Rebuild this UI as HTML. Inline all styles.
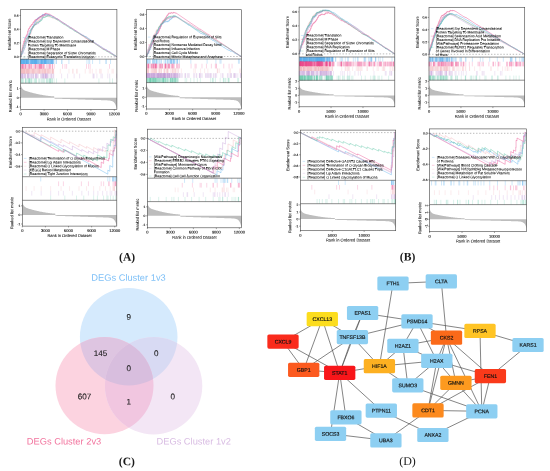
<!DOCTYPE html>
<html><head><meta charset="utf-8"><title>Figure</title>
<style>html,body{margin:0;padding:0;background:#fff}svg{display:block;will-change:transform}</style></head>
<body>
<svg width="550" height="471" viewBox="0 0 550 471" font-family="'Liberation Sans', sans-serif" text-rendering="geometricPrecision">
<rect width="550" height="471" fill="#fff"/>
<g>
<clipPath id="c1"><rect x="20.7" y="9.5" width="96.2" height="49.7"/></clipPath>
<path d="M20.81 59.20v4.80M20.84 59.20v4.80M20.92 59.20v4.80M21.08 59.20v4.80M21.08 59.20v4.80M21.10 59.20v4.80M21.11 59.20v4.80M21.14 59.20v4.80M21.19 59.20v4.80M21.29 59.20v4.80M21.39 59.20v4.80M21.69 59.20v4.80M21.74 59.20v4.80M21.97 59.20v4.80M22.00 59.20v4.80M22.08 59.20v4.80M22.17 59.20v4.80M22.22 59.20v4.80M22.59 59.20v4.80M22.72 59.20v4.80M22.75 59.20v4.80M22.97 59.20v4.80M23.08 59.20v4.80M23.18 59.20v4.80M23.30 59.20v4.80M23.45 59.20v4.80M23.49 59.20v4.80M23.49 59.20v4.80M23.62 59.20v4.80M23.91 59.20v4.80M23.98 59.20v4.80M24.20 59.20v4.80M24.29 59.20v4.80M24.30 59.20v4.80M24.41 59.20v4.80M24.45 59.20v4.80M24.52 59.20v4.80M24.82 59.20v4.80M24.86 59.20v4.80M25.17 59.20v4.80M25.25 59.20v4.80M25.29 59.20v4.80M25.43 59.20v4.80M25.74 59.20v4.80M25.79 59.20v4.80M26.07 59.20v4.80M26.10 59.20v4.80M26.36 59.20v4.80M26.52 59.20v4.80M26.53 59.20v4.80M26.70 59.20v4.80M26.85 59.20v4.80M26.89 59.20v4.80M26.91 59.20v4.80M26.92 59.20v4.80M26.93 59.20v4.80M26.93 59.20v4.80M26.94 59.20v4.80M26.98 59.20v4.80M27.06 59.20v4.80M27.26 59.20v4.80M27.27 59.20v4.80M27.40 59.20v4.80M27.41 59.20v4.80M28.29 59.20v4.80M28.36 59.20v4.80M28.49 59.20v4.80M28.49 59.20v4.80M28.63 59.20v4.80M28.72 59.20v4.80M29.00 59.20v4.80M29.22 59.20v4.80M29.35 59.20v4.80M30.25 59.20v4.80M30.38 59.20v4.80M30.45 59.20v4.80M30.83 59.20v4.80M30.84 59.20v4.80M31.04 59.20v4.80M31.14 59.20v4.80M31.21 59.20v4.80M31.25 59.20v4.80M31.34 59.20v4.80M31.60 59.20v4.80M31.65 59.20v4.80M31.85 59.20v4.80M31.85 59.20v4.80M31.90 59.20v4.80M32.26 59.20v4.80M32.38 59.20v4.80M32.51 59.20v4.80M32.60 59.20v4.80M32.61 59.20v4.80M32.72 59.20v4.80M32.76 59.20v4.80M32.96 59.20v4.80M33.08 59.20v4.80M33.09 59.20v4.80M33.16 59.20v4.80M33.24 59.20v4.80M33.57 59.20v4.80M33.65 59.20v4.80M33.90 59.20v4.80M33.98 59.20v4.80M34.02 59.20v4.80M34.25 59.20v4.80M34.28 59.20v4.80M34.37 59.20v4.80M34.70 59.20v4.80M34.75 59.20v4.80M34.78 59.20v4.80M34.80 59.20v4.80M34.84 59.20v4.80M34.96 59.20v4.80M35.04 59.20v4.80M35.08 59.20v4.80M35.27 59.20v4.80M35.30 59.20v4.80M35.33 59.20v4.80M35.36 59.20v4.80M35.39 59.20v4.80M35.50 59.20v4.80M35.50 59.20v4.80M35.57 59.20v4.80M35.80 59.20v4.80M35.85 59.20v4.80M36.18 59.20v4.80M36.20 59.20v4.80M36.22 59.20v4.80M36.32 59.20v4.80M36.35 59.20v4.80M36.49 59.20v4.80M36.49 59.20v4.80M36.59 59.20v4.80M36.60 59.20v4.80M36.67 59.20v4.80M36.89 59.20v4.80M37.17 59.20v4.80M37.18 59.20v4.80M37.25 59.20v4.80M37.47 59.20v4.80M37.94 59.20v4.80M38.01 59.20v4.80M38.21 59.20v4.80M38.46 59.20v4.80M38.76 59.20v4.80M38.80 59.20v4.80M38.92 59.20v4.80M39.29 59.20v4.80M39.52 59.20v4.80M39.87 59.20v4.80M40.35 59.20v4.80M40.37 59.20v4.80M40.62 59.20v4.80M40.84 59.20v4.80M40.90 59.20v4.80M41.21 59.20v4.80M41.35 59.20v4.80M41.41 59.20v4.80M41.56 59.20v4.80M41.57 59.20v4.80M41.57 59.20v4.80M41.66 59.20v4.80M41.75 59.20v4.80M41.76 59.20v4.80M42.13 59.20v4.80M42.19 59.20v4.80M42.38 59.20v4.80M42.48 59.20v4.80M42.49 59.20v4.80M42.62 59.20v4.80M42.82 59.20v4.80M43.06 59.20v4.80M43.54 59.20v4.80M43.64 59.20v4.80M43.65 59.20v4.80M43.96 59.20v4.80M44.07 59.20v4.80M44.31 59.20v4.80M44.34 59.20v4.80M44.35 59.20v4.80M44.44 59.20v4.80M44.72 59.20v4.80M44.77 59.20v4.80M44.79 59.20v4.80M44.79 59.20v4.80M44.91 59.20v4.80M45.01 59.20v4.80M45.04 59.20v4.80M45.13 59.20v4.80M45.15 59.20v4.80M45.18 59.20v4.80M45.43 59.20v4.80M45.53 59.20v4.80M45.57 59.20v4.80M45.68 59.20v4.80M45.87 59.20v4.80M45.91 59.20v4.80M45.95 59.20v4.80M46.07 59.20v4.80M46.42 59.20v4.80M46.71 59.20v4.80M46.72 59.20v4.80M46.87 59.20v4.80M47.08 59.20v4.80M47.34 59.20v4.80M47.64 59.20v4.80M48.07 59.20v4.80M48.11 59.20v4.80M48.18 59.20v4.80M48.22 59.20v4.80M48.89 59.20v4.80M48.94 59.20v4.80M48.98 59.20v4.80M49.38 59.20v4.80M49.48 59.20v4.80M50.18 59.20v4.80M50.22 59.20v4.80M50.37 59.20v4.80M50.65 59.20v4.80M50.99 59.20v4.80M51.04 59.20v4.80M51.08 59.20v4.80M51.30 59.20v4.80M51.46 59.20v4.80M51.64 59.20v4.80M51.80 59.20v4.80M51.90 59.20v4.80M52.25 59.20v4.80M52.26 59.20v4.80M52.45 59.20v4.80M52.62 59.20v4.80M52.65 59.20v4.80M52.84 59.20v4.80M53.22 59.20v4.80M53.76 59.20v4.80M53.83 59.20v4.80M56.11 59.20v4.80M56.39 59.20v4.80M61.81 59.20v4.80M61.86 59.20v4.80M68.88 59.20v4.80M86.95 59.20v4.80M88.79 59.20v4.80M89.78 59.20v4.80M92.58 59.20v4.80M99.78 59.20v4.80M105.77 59.20v4.80M106.36 59.20v4.80M110.53 59.20v4.80" stroke="#5BB0EC" stroke-width="0.36" stroke-opacity="0.8" fill="none"/>
<path d="M20.82 64.00v4.80M20.86 64.00v4.80M21.50 64.00v4.80M21.76 64.00v4.80M22.12 64.00v4.80M22.33 64.00v4.80M22.56 64.00v4.80M22.66 64.00v4.80M23.04 64.00v4.80M23.06 64.00v4.80M23.27 64.00v4.80M23.79 64.00v4.80M24.12 64.00v4.80M24.81 64.00v4.80M25.32 64.00v4.80M25.60 64.00v4.80M25.66 64.00v4.80M25.73 64.00v4.80M26.43 64.00v4.80M27.65 64.00v4.80M28.17 64.00v4.80M28.83 64.00v4.80M28.94 64.00v4.80M29.34 64.00v4.80M29.56 64.00v4.80M30.05 64.00v4.80M30.23 64.00v4.80M31.15 64.00v4.80M31.17 64.00v4.80M31.83 64.00v4.80M31.90 64.00v4.80M33.44 64.00v4.80M34.36 64.00v4.80M35.13 64.00v4.80M35.21 64.00v4.80M35.51 64.00v4.80M35.53 64.00v4.80M36.25 64.00v4.80M36.89 64.00v4.80M37.34 64.00v4.80M38.20 64.00v4.80M38.41 64.00v4.80M39.22 64.00v4.80M39.35 64.00v4.80M39.51 64.00v4.80M39.57 64.00v4.80M40.14 64.00v4.80M40.41 64.00v4.80M40.47 64.00v4.80M40.83 64.00v4.80M40.89 64.00v4.80M41.37 64.00v4.80M41.44 64.00v4.80M41.52 64.00v4.80M41.95 64.00v4.80M42.55 64.00v4.80M43.19 64.00v4.80M43.42 64.00v4.80M43.87 64.00v4.80M43.94 64.00v4.80M44.71 64.00v4.80M46.37 64.00v4.80M47.30 64.00v4.80M48.29 64.00v4.80M49.24 64.00v4.80M49.39 64.00v4.80M49.97 64.00v4.80M50.24 64.00v4.80M50.70 64.00v4.80M52.22 64.00v4.80M52.43 64.00v4.80M52.60 64.00v4.80M54.34 64.00v4.80M62.56 64.00v4.80M65.00 64.00v4.80M66.60 64.00v4.80M86.49 64.00v4.80M88.57 64.00v4.80M90.12 64.00v4.80M109.52 64.00v4.80" stroke="#EC4B8D" stroke-width="0.36" stroke-opacity="0.62" fill="none"/>
<path d="M20.74 68.80v4.80M21.03 68.80v4.80M21.04 68.80v4.80M21.24 68.80v4.80M21.33 68.80v4.80M21.61 68.80v4.80M21.62 68.80v4.80M21.84 68.80v4.80M21.98 68.80v4.80M22.01 68.80v4.80M22.04 68.80v4.80M22.11 68.80v4.80M22.31 68.80v4.80M22.50 68.80v4.80M22.74 68.80v4.80M22.87 68.80v4.80M22.98 68.80v4.80M23.01 68.80v4.80M23.09 68.80v4.80M23.39 68.80v4.80M23.59 68.80v4.80M23.80 68.80v4.80M24.05 68.80v4.80M24.07 68.80v4.80M24.08 68.80v4.80M24.13 68.80v4.80M24.24 68.80v4.80M24.31 68.80v4.80M24.40 68.80v4.80M24.44 68.80v4.80M24.80 68.80v4.80M24.89 68.80v4.80M25.13 68.80v4.80M25.33 68.80v4.80M25.49 68.80v4.80M25.99 68.80v4.80M26.35 68.80v4.80M26.36 68.80v4.80M26.59 68.80v4.80M26.70 68.80v4.80M26.71 68.80v4.80M26.95 68.80v4.80M27.11 68.80v4.80M27.14 68.80v4.80M27.46 68.80v4.80M27.59 68.80v4.80M27.71 68.80v4.80M27.86 68.80v4.80M27.95 68.80v4.80M28.00 68.80v4.80M28.08 68.80v4.80M28.50 68.80v4.80M28.51 68.80v4.80M28.54 68.80v4.80M28.67 68.80v4.80M28.90 68.80v4.80M29.19 68.80v4.80M29.32 68.80v4.80M29.70 68.80v4.80M29.71 68.80v4.80M29.84 68.80v4.80M30.35 68.80v4.80M30.95 68.80v4.80M31.08 68.80v4.80M31.27 68.80v4.80M31.31 68.80v4.80M31.87 68.80v4.80M32.34 68.80v4.80M32.54 68.80v4.80M32.70 68.80v4.80M32.75 68.80v4.80M32.93 68.80v4.80M33.24 68.80v4.80M33.25 68.80v4.80M33.43 68.80v4.80M33.45 68.80v4.80M33.82 68.80v4.80M34.05 68.80v4.80M34.45 68.80v4.80M34.45 68.80v4.80M34.68 68.80v4.80M35.25 68.80v4.80M35.38 68.80v4.80M35.85 68.80v4.80M36.13 68.80v4.80M36.18 68.80v4.80M36.89 68.80v4.80M37.09 68.80v4.80M37.40 68.80v4.80M37.48 68.80v4.80M38.04 68.80v4.80M38.43 68.80v4.80M38.69 68.80v4.80M38.83 68.80v4.80M39.00 68.80v4.80M39.06 68.80v4.80M39.21 68.80v4.80M39.44 68.80v4.80M39.64 68.80v4.80M39.90 68.80v4.80M39.92 68.80v4.80M40.27 68.80v4.80M40.35 68.80v4.80M40.95 68.80v4.80M41.22 68.80v4.80M41.47 68.80v4.80M41.99 68.80v4.80M42.27 68.80v4.80M42.56 68.80v4.80M42.58 68.80v4.80M42.99 68.80v4.80M43.01 68.80v4.80M43.39 68.80v4.80M43.74 68.80v4.80M43.84 68.80v4.80M44.38 68.80v4.80M44.68 68.80v4.80M44.74 68.80v4.80M44.87 68.80v4.80M44.88 68.80v4.80M45.10 68.80v4.80M45.40 68.80v4.80M45.52 68.80v4.80M45.74 68.80v4.80M45.87 68.80v4.80M46.01 68.80v4.80M46.27 68.80v4.80M47.20 68.80v4.80M47.30 68.80v4.80M47.58 68.80v4.80M47.60 68.80v4.80M48.03 68.80v4.80M48.08 68.80v4.80M48.55 68.80v4.80M48.60 68.80v4.80M48.86 68.80v4.80M49.43 68.80v4.80M49.78 68.80v4.80M49.87 68.80v4.80M50.26 68.80v4.80M50.55 68.80v4.80M51.24 68.80v4.80M52.12 68.80v4.80M52.18 68.80v4.80M52.33 68.80v4.80M52.41 68.80v4.80M52.48 68.80v4.80M52.55 68.80v4.80M52.65 68.80v4.80M53.43 68.80v4.80M53.52 68.80v4.80M53.52 68.80v4.80M53.66 68.80v4.80M60.30 68.80v4.80M68.97 68.80v4.80M72.78 68.80v4.80M73.00 68.80v4.80M76.73 68.80v4.80M77.09 68.80v4.80M85.26 68.80v4.80M89.29 68.80v4.80M90.61 68.80v4.80M92.33 68.80v4.80M96.06 68.80v4.80M99.69 68.80v4.80M100.16 68.80v4.80M101.30 68.80v4.80M108.07 68.80v4.80M112.03 68.80v4.80M113.25 68.80v4.80" stroke="#F4B7BF" stroke-width="0.36" stroke-opacity="0.75" fill="none"/>
<path d="M20.85 73.60v4.80M20.92 73.60v4.80M21.01 73.60v4.80M21.63 73.60v4.80M21.70 73.60v4.80M21.84 73.60v4.80M22.47 73.60v4.80M22.55 73.60v4.80M22.71 73.60v4.80M22.87 73.60v4.80M23.06 73.60v4.80M23.30 73.60v4.80M24.43 73.60v4.80M24.76 73.60v4.80M24.79 73.60v4.80M25.29 73.60v4.80M25.48 73.60v4.80M25.87 73.60v4.80M27.29 73.60v4.80M27.63 73.60v4.80M27.81 73.60v4.80M27.87 73.60v4.80M28.04 73.60v4.80M28.35 73.60v4.80M28.87 73.60v4.80M28.88 73.60v4.80M29.42 73.60v4.80M30.80 73.60v4.80M30.96 73.60v4.80M31.21 73.60v4.80M31.56 73.60v4.80M32.75 73.60v4.80M32.94 73.60v4.80M33.25 73.60v4.80M33.33 73.60v4.80M33.97 73.60v4.80M35.55 73.60v4.80M35.92 73.60v4.80M35.93 73.60v4.80M36.06 73.60v4.80M36.11 73.60v4.80M36.29 73.60v4.80M37.22 73.60v4.80M37.54 73.60v4.80M38.45 73.60v4.80M40.62 73.60v4.80M40.98 73.60v4.80M41.76 73.60v4.80M41.92 73.60v4.80M42.48 73.60v4.80M42.83 73.60v4.80M43.03 73.60v4.80M43.40 73.60v4.80M43.54 73.60v4.80M43.71 73.60v4.80M44.10 73.60v4.80M44.76 73.60v4.80M45.07 73.60v4.80M45.51 73.60v4.80M45.65 73.60v4.80M45.79 73.60v4.80M45.80 73.60v4.80M46.00 73.60v4.80M46.46 73.60v4.80M46.48 73.60v4.80M46.82 73.60v4.80M47.53 73.60v4.80M47.65 73.60v4.80M47.83 73.60v4.80M48.93 73.60v4.80M50.29 73.60v4.80M51.18 73.60v4.80M51.36 73.60v4.80M51.46 73.60v4.80M52.76 73.60v4.80M53.28 73.60v4.80M53.79 73.60v4.80M61.58 73.60v4.80M67.64 73.60v4.80M74.17 73.60v4.80M79.62 73.60v4.80M92.89 73.60v4.80M93.62 73.60v4.80M94.10 73.60v4.80M96.91 73.60v4.80M100.98 73.60v4.80M102.31 73.60v4.80M107.76 73.60v4.80M109.65 73.60v4.80M116.57 73.60v4.80" stroke="#C8A1DA" stroke-width="0.36" stroke-opacity="0.7" fill="none"/>
<path d="M21.78 78.40v4.80M21.82 78.40v4.80M22.05 78.40v4.80M22.70 78.40v4.80M23.52 78.40v4.80M25.37 78.40v4.80M25.72 78.40v4.80M25.72 78.40v4.80M26.33 78.40v4.80M27.86 78.40v4.80M28.14 78.40v4.80M28.87 78.40v4.80M29.12 78.40v4.80M29.13 78.40v4.80M29.70 78.40v4.80M29.88 78.40v4.80M29.90 78.40v4.80M31.02 78.40v4.80M31.69 78.40v4.80M31.86 78.40v4.80M34.07 78.40v4.80M34.86 78.40v4.80M35.40 78.40v4.80M36.19 78.40v4.80M36.46 78.40v4.80M38.64 78.40v4.80M39.51 78.40v4.80M41.04 78.40v4.80M41.95 78.40v4.80M42.87 78.40v4.80M43.73 78.40v4.80M44.68 78.40v4.80M46.48 78.40v4.80M46.92 78.40v4.80M47.51 78.40v4.80M48.47 78.40v4.80M49.68 78.40v4.80M50.00 78.40v4.80M50.04 78.40v4.80M50.10 78.40v4.80M50.38 78.40v4.80M51.86 78.40v4.80M52.06 78.40v4.80M52.28 78.40v4.80M54.10 78.40v4.80M56.54 78.40v4.80M64.84 78.40v4.80M98.93 78.40v4.80M109.81 78.40v4.80M112.49 78.40v4.80" stroke="#5CC5A7" stroke-width="0.36" stroke-opacity="0.6" fill="none"/>
<g clip-path="url(#c1)">
<path d="M20.70 56.80 L20.74 56.83 L20.74 56.59 L20.81 56.65 L20.81 56.42 L20.83 56.43 L20.83 56.20 L20.84 56.20 L20.84 55.97 L20.90 56.02 L20.90 55.79 L20.92 55.80 L20.92 55.57 L21.00 55.63 L21.00 55.40 L21.02 55.41 L21.02 55.18 L21.03 55.19 L21.03 54.96 L21.06 54.98 L21.06 54.75 L21.20 54.85 L21.20 54.62 L21.32 54.70 L21.32 54.47 L21.41 54.54 L21.41 54.31 L21.84 54.62 L21.84 54.39 L21.84 54.39 L21.84 54.16 L22.01 54.28 L22.01 54.05 L22.11 54.12 L22.11 53.89 L22.12 53.89 L22.12 53.66 L22.29 53.78 L22.29 53.55 L22.32 53.58 L22.32 53.35 L22.40 53.41 L22.40 53.17 L22.65 53.36 L22.65 53.13 L22.69 53.15 L22.69 52.92 L22.72 52.95 L22.72 52.71 L22.80 52.77 L22.80 52.54 L22.93 52.63 L22.93 52.40 L23.03 52.47 L23.03 52.24 L23.08 52.28 L23.08 52.05 L23.08 52.05 L23.08 51.82 L23.12 51.85 L23.12 51.62 L23.14 51.63 L23.14 51.40 L23.25 51.47 L23.25 51.24 L23.31 51.29 L23.31 51.06 L23.40 51.12 L23.40 50.89 L23.47 50.94 L23.47 50.71 L23.53 50.75 L23.53 50.52 L23.72 50.66 L23.72 50.43 L23.83 50.51 L23.83 50.27 L23.86 50.30 L23.86 50.07 L24.00 50.17 L24.00 49.94 L24.03 49.96 L24.03 49.73 L24.11 49.78 L24.11 49.55 L24.12 49.56 L24.12 49.33 L24.13 49.34 L24.13 49.11 L24.24 49.19 L24.24 48.96 L24.29 48.99 L24.29 48.76 L24.30 48.77 L24.30 48.54 L24.35 48.58 L24.35 48.34 L24.51 48.46 L24.51 48.23 L24.52 48.23 L24.52 48.00 L24.56 48.03 L24.56 47.80 L24.88 48.03 L24.88 47.80 L24.97 47.86 L24.97 47.63 L24.99 47.65 L24.99 47.42 L25.00 47.42 L25.00 47.19 L25.04 47.22 L25.04 46.99 L25.20 47.11 L25.20 46.87 L25.21 46.88 L25.21 46.65 L25.26 46.69 L25.26 46.45 L25.29 46.48 L25.29 46.25 L25.32 46.27 L25.32 46.03 L25.32 46.04 L25.32 45.81 L25.47 45.91 L25.47 45.68 L25.53 45.73 L25.53 45.49 L25.53 45.50 L25.53 45.27 L25.76 45.43 L25.76 45.20 L25.78 45.21 L25.78 44.98 L25.81 45.00 L25.81 44.77 L25.84 44.80 L25.84 44.56 L25.86 44.58 L25.86 44.34 L25.86 44.34 L25.86 44.11 L25.88 44.13 L25.88 43.90 L25.91 43.92 L25.91 43.69 L25.91 43.69 L25.91 43.46 L25.97 43.50 L25.97 43.27 L26.00 43.29 L26.00 43.06 L26.21 43.21 L26.21 42.98 L26.25 43.01 L26.25 42.78 L26.29 42.81 L26.29 42.58 L26.43 42.67 L26.43 42.44 L26.51 42.50 L26.51 42.27 L26.53 42.29 L26.53 42.06 L26.56 42.08 L26.56 41.85 L26.60 41.88 L26.60 41.64 L26.74 41.75 L26.74 41.52 L26.84 41.59 L26.84 41.36 L27.05 41.51 L27.05 41.28 L27.17 41.36 L27.17 41.13 L27.18 41.14 L27.18 40.91 L27.27 40.97 L27.27 40.74 L27.33 40.79 L27.33 40.56 L27.46 40.65 L27.46 40.42 L27.51 40.45 L27.51 40.22 L27.55 40.25 L27.55 40.02 L27.61 40.06 L27.61 39.83 L27.62 39.84 L27.62 39.61 L27.66 39.63 L27.66 39.40 L27.90 39.58 L27.90 39.34 L27.90 39.35 L27.90 39.11 L27.90 39.12 L27.90 38.88 L27.93 38.91 L27.93 38.67 L27.93 38.68 L27.93 38.44 L27.93 38.45 L27.93 38.21 L28.04 38.30 L28.04 38.06 L28.08 38.09 L28.08 37.86 L28.16 37.92 L28.16 37.69 L28.26 37.76 L28.26 37.53 L28.36 37.60 L28.36 37.37 L28.36 37.37 L28.36 37.14 L28.37 37.15 L28.37 36.92 L28.38 36.92 L28.38 36.69 L28.52 36.79 L28.52 36.56 L28.68 36.68 L28.68 36.45 L28.73 36.48 L28.73 36.25 L28.75 36.26 L28.75 36.03 L28.82 36.08 L28.82 35.85 L29.06 36.03 L29.06 35.80 L29.07 35.80 L29.07 35.57 L29.24 35.69 L29.24 35.46 L29.27 35.48 L29.27 35.25 L29.28 35.26 L29.28 35.02 L29.33 35.06 L29.33 34.83 L29.42 34.90 L29.42 34.67 L29.44 34.68 L29.44 34.45 L29.47 34.47 L29.47 34.24 L29.60 34.33 L29.60 34.10 L29.60 34.10 L29.60 33.87 L29.90 34.09 L29.90 33.85 L29.94 33.88 L29.94 33.65 L30.02 33.71 L30.02 33.48 L30.04 33.50 L30.04 33.27 L30.17 33.36 L30.17 33.13 L30.27 33.20 L30.27 32.97 L30.46 33.11 L30.46 32.88 L30.50 32.90 L30.50 32.67 L30.55 32.71 L30.55 32.48 L30.65 32.55 L30.65 32.32 L30.72 32.37 L30.72 32.14 L30.74 32.15 L30.74 31.92 L30.83 31.99 L30.83 31.76 L30.86 31.77 L30.86 31.54 L30.91 31.58 L30.91 31.35 L30.93 31.37 L30.93 31.14 L30.97 31.17 L30.97 30.93 L31.06 30.99 L31.06 30.76 L31.07 30.77 L31.07 30.54 L31.14 30.59 L31.14 30.36 L31.30 30.47 L31.30 30.24 L31.37 30.30 L31.37 30.06 L31.41 30.10 L31.41 29.86 L31.50 29.93 L31.50 29.70 L31.77 29.89 L31.77 29.66 L31.79 29.67 L31.79 29.44 L31.81 29.45 L31.81 29.22 L31.93 29.31 L31.93 29.08 L32.01 29.14 L32.01 28.91 L32.02 28.91 L32.02 28.68 L32.14 28.77 L32.14 28.54 L32.16 28.55 L32.16 28.32 L32.16 28.32 L32.16 28.09 L32.32 28.20 L32.32 27.97 L32.33 27.98 L32.33 27.75 L32.36 27.78 L32.36 27.55 L32.37 27.55 L32.37 27.32 L32.37 27.32 L32.37 27.09 L32.48 27.17 L32.48 26.93 L32.48 26.94 L32.48 26.71 L32.51 26.73 L32.51 26.49 L32.56 26.53 L32.56 26.30 L32.99 26.61 L32.99 26.38 L33.05 26.42 L33.05 26.19 L33.18 26.29 L33.18 26.06 L33.29 26.13 L33.29 25.90 L33.40 25.98 L33.40 25.75 L33.49 25.81 L33.49 25.58 L33.61 25.67 L33.61 25.44 L33.65 25.47 L33.65 25.24 L33.72 25.29 L33.72 25.06 L33.80 25.11 L33.80 24.88 L33.81 24.89 L33.81 24.66 L33.97 24.78 L33.97 24.54 L34.01 24.58 L34.01 24.35 L34.04 24.37 L34.04 24.14 L34.19 24.24 L34.19 24.01 L34.19 24.01 L34.19 23.78 L34.37 23.91 L34.37 23.68 L34.41 23.71 L34.41 23.48 L34.49 23.53 L34.49 23.30 L34.50 23.31 L34.50 23.08 L34.51 23.09 L34.51 22.85 L34.65 22.95 L34.65 22.72 L34.83 22.85 L34.83 22.62 L34.92 22.69 L34.92 22.46 L35.05 22.55 L35.05 22.32 L35.11 22.36 L35.11 22.13 L35.11 22.13 L35.11 21.90 L35.24 21.99 L35.24 21.76 L35.36 21.85 L35.36 21.62 L35.38 21.63 L35.38 21.40 L35.43 21.44 L35.43 21.21 L35.55 21.29 L35.55 21.06 L35.82 21.25 L35.82 21.02 L35.90 21.09 L35.90 20.85 L36.00 20.92 L36.00 20.69 L36.04 20.72 L36.04 20.49 L36.13 20.56 L36.13 20.32 L36.39 20.51 L36.39 20.28 L36.43 20.31 L36.43 20.08 L36.47 20.11 L36.47 19.88 L36.55 19.93 L36.55 19.70 L36.56 19.71 L36.56 19.48 L36.58 19.50 L36.58 19.27 L36.70 19.35 L36.70 19.12 L36.77 19.17 L36.77 18.94 L37.16 19.22 L37.16 18.99 L37.51 19.24 L37.51 19.01 L37.54 19.03 L37.54 18.80 L37.80 18.99 L37.80 18.76 L37.84 18.78 L37.84 18.55 L37.92 18.61 L37.92 18.38 L37.94 18.39 L37.94 18.16 L37.94 18.17 L37.94 17.93 L38.16 18.09 L38.16 17.86 L38.32 17.98 L38.32 17.75 L38.41 17.81 L38.41 17.58 L38.65 17.75 L38.65 17.52 L39.47 18.11 L39.47 17.88 L39.53 17.93 L39.53 17.70 L39.54 17.70 L39.54 17.47 L39.58 17.50 L39.58 17.27 L39.72 17.37 L39.72 17.14 L39.74 17.15 L39.74 16.92 L39.84 16.99 L39.84 16.76 L39.93 16.83 L39.93 16.60 L40.20 16.79 L40.20 16.56 L40.23 16.58 L40.23 16.35 L41.18 17.03 L41.18 16.80 L41.18 16.80 L41.18 16.57 L41.24 16.61 L41.24 16.38 L41.67 16.69 L41.67 16.46 L41.74 16.51 L41.74 16.28 L41.88 16.38 L41.88 16.15 L41.98 16.23 L41.98 15.99 L41.99 16.00 L41.99 15.77 L42.01 15.78 L42.01 15.55 L42.04 15.57 L42.04 15.34 L42.07 15.37 L42.07 15.13 L42.20 15.23 L42.20 15.00 L42.45 15.17 L42.45 14.94 L42.56 15.02 L42.56 14.79 L42.63 14.85 L42.63 14.61 L42.68 14.65 L42.68 14.42 L43.25 14.83 L43.25 14.59 L43.28 14.62 L43.28 14.39 L43.91 14.84 L43.91 14.61 L44.72 15.19 L44.72 14.96 L44.78 15.01 L44.78 14.78 L44.80 14.79 L44.80 14.56 L45.01 14.71 L45.01 14.48 L45.23 14.64 L45.23 14.41 L45.31 14.46 L45.31 14.23 L45.53 14.39 L45.53 14.16 L45.85 14.39 L45.85 14.16 L46.11 14.34 L46.11 14.11 L47.04 14.79 L47.04 14.55 L47.26 14.71 L47.26 14.48 L47.67 14.78 L47.67 14.55 L48.11 14.86 L48.11 14.63 L48.61 14.99 L48.61 14.76 L49.24 15.22 L49.24 14.99 L49.66 15.29 L49.66 15.06 L49.92 15.24 L49.92 15.01 L51.05 15.83 L51.05 15.60 L53.02 17.02 L53.02 16.79 L53.16 16.88 L53.16 16.65 L54.53 17.64 L54.53 17.41 L56.25 18.65 L56.25 18.42 L56.92 18.90 L56.92 18.67 L57.67 19.21 L57.67 18.98 L62.38 22.37 L62.38 22.14 L64.60 23.74 L64.60 23.51 L67.72 25.76 L67.72 25.53 L68.17 25.85 L68.17 25.62 L74.64 30.28 L74.64 30.05 L77.89 32.39 L77.89 32.16 L82.97 35.82 L82.97 35.59 L83.03 35.63 L83.03 35.40 L83.48 35.72 L83.48 35.49 L85.15 36.70 L85.15 36.47 L85.21 36.51 L85.21 36.28 L86.39 37.13 L86.39 36.90 L91.24 40.40 L91.24 40.16 L98.11 45.11 L98.11 44.88 L100.86 46.86 L100.86 46.63 L104.40 49.18 L104.40 48.95 L104.98 49.37 L104.98 49.14 L105.83 49.75 L105.83 49.52 L106.39 49.92 L106.39 49.69 L109.22 51.73 L109.22 51.50 L110.08 52.11 L110.08 51.88 L116.90 56.80" stroke="#5BB0EC" stroke-width="0.42" fill="none" stroke-linejoin="round"/>
<path d="M20.70 56.80 L20.75 56.84 L20.75 56.57 L20.79 56.60 L20.79 56.34 L20.92 56.43 L20.92 56.16 L20.95 56.18 L20.95 55.92 L20.96 55.92 L20.96 55.66 L20.96 55.66 L20.96 55.40 L21.01 55.43 L21.01 55.17 L21.03 55.18 L21.03 54.92 L21.04 54.92 L21.04 54.66 L21.06 54.68 L21.06 54.41 L21.25 54.55 L21.25 54.28 L21.30 54.32 L21.30 54.05 L21.33 54.07 L21.33 53.81 L21.35 53.82 L21.35 53.56 L21.36 53.56 L21.36 53.30 L21.39 53.32 L21.39 53.06 L21.40 53.06 L21.40 52.80 L21.42 52.81 L21.42 52.54 L21.42 52.55 L21.42 52.28 L21.46 52.31 L21.46 52.04 L21.46 52.05 L21.46 51.78 L21.47 51.79 L21.47 51.53 L21.66 51.66 L21.66 51.40 L21.80 51.50 L21.80 51.23 L21.83 51.25 L21.83 50.98 L21.96 51.08 L21.96 50.81 L21.97 50.82 L21.97 50.55 L21.99 50.57 L21.99 50.31 L22.00 50.31 L22.00 50.05 L22.00 50.05 L22.00 49.78 L22.00 49.79 L22.00 49.52 L22.02 49.53 L22.02 49.26 L22.20 49.39 L22.20 49.13 L22.23 49.15 L22.23 48.88 L22.29 48.93 L22.29 48.66 L22.32 48.69 L22.32 48.42 L22.34 48.44 L22.34 48.17 L22.36 48.18 L22.36 47.92 L22.38 47.93 L22.38 47.67 L22.50 47.76 L22.50 47.49 L22.61 47.57 L22.61 47.30 L22.62 47.31 L22.62 47.04 L22.69 47.09 L22.69 46.83 L22.69 46.83 L22.69 46.57 L22.77 46.62 L22.77 46.36 L22.77 46.36 L22.77 46.10 L22.82 46.13 L22.82 45.86 L22.92 45.94 L22.92 45.67 L22.96 45.70 L22.96 45.43 L23.00 45.46 L23.00 45.20 L23.12 45.29 L23.12 45.02 L23.19 45.07 L23.19 44.81 L23.20 44.81 L23.20 44.54 L23.23 44.57 L23.23 44.30 L23.25 44.32 L23.25 44.05 L23.36 44.13 L23.36 43.86 L23.39 43.89 L23.39 43.62 L23.40 43.63 L23.40 43.36 L23.49 43.43 L23.49 43.16 L23.68 43.30 L23.68 43.04 L23.83 43.15 L23.83 42.88 L23.87 42.91 L23.87 42.64 L23.89 42.66 L23.89 42.39 L24.02 42.48 L24.02 42.22 L24.03 42.23 L24.03 41.96 L24.21 42.09 L24.21 41.83 L24.23 41.84 L24.23 41.58 L24.27 41.60 L24.27 41.34 L24.29 41.35 L24.29 41.09 L24.33 41.12 L24.33 40.85 L24.39 40.90 L24.39 40.63 L24.47 40.69 L24.47 40.42 L24.51 40.45 L24.51 40.19 L24.53 40.20 L24.53 39.94 L24.54 39.95 L24.54 39.68 L24.57 39.70 L24.57 39.44 L24.66 39.50 L24.66 39.24 L24.69 39.26 L24.69 38.99 L24.73 39.02 L24.73 38.75 L24.86 38.85 L24.86 38.58 L25.10 38.76 L25.10 38.49 L25.29 38.63 L25.29 38.36 L25.36 38.41 L25.36 38.15 L25.44 38.20 L25.44 37.94 L25.55 38.02 L25.55 37.75 L25.59 37.78 L25.59 37.52 L25.63 37.54 L25.63 37.28 L25.75 37.37 L25.75 37.10 L25.82 37.15 L25.82 36.88 L25.90 36.94 L25.90 36.67 L25.93 36.70 L25.93 36.43 L25.97 36.47 L25.97 36.20 L26.20 36.36 L26.20 36.10 L26.25 36.13 L26.25 35.87 L26.26 35.88 L26.26 35.61 L26.29 35.63 L26.29 35.36 L26.51 35.52 L26.51 35.26 L26.71 35.40 L26.71 35.14 L26.89 35.27 L26.89 35.00 L26.89 35.00 L26.89 34.74 L26.93 34.76 L26.93 34.50 L27.04 34.58 L27.04 34.32 L27.20 34.43 L27.20 34.16 L27.26 34.20 L27.26 33.94 L27.32 33.98 L27.32 33.72 L27.35 33.74 L27.35 33.48 L27.38 33.50 L27.38 33.23 L27.40 33.25 L27.40 32.98 L27.44 33.01 L27.44 32.75 L27.49 32.78 L27.49 32.51 L27.52 32.54 L27.52 32.27 L27.54 32.28 L27.54 32.02 L27.59 32.06 L27.59 31.79 L27.75 31.91 L27.75 31.64 L27.84 31.71 L27.84 31.44 L27.90 31.49 L27.90 31.22 L28.05 31.33 L28.05 31.07 L28.11 31.10 L28.11 30.84 L28.16 30.88 L28.16 30.61 L28.22 30.65 L28.22 30.39 L28.25 30.41 L28.25 30.14 L28.27 30.16 L28.27 29.89 L28.40 29.99 L28.40 29.72 L28.41 29.73 L28.41 29.47 L28.44 29.49 L28.44 29.22 L28.60 29.34 L28.60 29.07 L28.68 29.13 L28.68 28.87 L28.91 29.03 L28.91 28.77 L29.12 28.91 L29.12 28.65 L29.16 28.68 L29.16 28.42 L29.23 28.46 L29.23 28.20 L29.44 28.35 L29.44 28.08 L29.59 28.19 L29.59 27.92 L29.60 27.93 L29.60 27.67 L29.82 27.83 L29.82 27.56 L29.86 27.59 L29.86 27.32 L29.88 27.34 L29.88 27.07 L29.94 27.12 L29.94 26.85 L29.95 26.86 L29.95 26.59 L30.09 26.70 L30.09 26.43 L30.23 26.53 L30.23 26.26 L30.49 26.45 L30.49 26.18 L30.80 26.41 L30.80 26.14 L30.83 26.17 L30.83 25.90 L30.91 25.96 L30.91 25.69 L31.12 25.84 L31.12 25.58 L31.20 25.64 L31.20 25.37 L31.28 25.43 L31.28 25.16 L31.32 25.19 L31.32 24.92 L31.60 25.13 L31.60 24.86 L31.72 24.94 L31.72 24.68 L31.95 24.85 L31.95 24.58 L32.09 24.68 L32.09 24.42 L32.13 24.45 L32.13 24.18 L32.28 24.29 L32.28 24.03 L32.75 24.36 L32.75 24.10 L32.75 24.10 L32.75 23.83 L32.77 23.84 L32.77 23.58 L32.81 23.60 L32.81 23.34 L32.82 23.35 L32.82 23.08 L32.91 23.15 L32.91 22.89 L33.11 23.03 L33.11 22.76 L33.31 22.91 L33.31 22.64 L33.35 22.67 L33.35 22.41 L33.50 22.51 L33.50 22.25 L33.58 22.30 L33.58 22.04 L33.86 22.24 L33.86 21.97 L33.92 22.02 L33.92 21.75 L34.08 21.87 L34.08 21.60 L34.17 21.67 L34.17 21.40 L34.39 21.56 L34.39 21.30 L34.47 21.36 L34.47 21.09 L34.53 21.13 L34.53 20.86 L34.73 21.01 L34.73 20.75 L34.81 20.80 L34.81 20.54 L34.82 20.54 L34.82 20.28 L35.31 20.63 L35.31 20.36 L35.32 20.37 L35.32 20.10 L35.47 20.21 L35.47 19.95 L35.51 19.98 L35.51 19.71 L35.77 19.90 L35.77 19.64 L36.11 19.88 L36.11 19.61 L36.32 19.76 L36.32 19.50 L36.87 19.89 L36.87 19.62 L37.05 19.76 L37.05 19.49 L37.06 19.50 L37.06 19.23 L37.18 19.32 L37.18 19.05 L37.28 19.12 L37.28 18.86 L37.55 19.05 L37.55 18.79 L37.69 18.89 L37.69 18.62 L37.91 18.78 L37.91 18.51 L37.97 18.56 L37.97 18.29 L38.23 18.48 L38.23 18.22 L38.60 18.48 L38.60 18.22 L38.73 18.31 L38.73 18.04 L38.81 18.10 L38.81 17.83 L38.82 17.84 L38.82 17.58 L39.07 17.76 L39.07 17.50 L39.33 17.68 L39.33 17.41 L39.43 17.49 L39.43 17.22 L39.75 17.45 L39.75 17.18 L39.84 17.25 L39.84 16.98 L40.03 17.12 L40.03 16.85 L40.36 17.09 L40.36 16.83 L40.49 16.92 L40.49 16.66 L40.71 16.81 L40.71 16.55 L40.90 16.68 L40.90 16.42 L40.91 16.42 L40.91 16.16 L41.19 16.36 L41.19 16.10 L41.30 16.17 L41.30 15.91 L41.66 16.17 L41.66 15.90 L41.83 16.02 L41.83 15.76 L42.21 16.03 L42.21 15.77 L42.22 15.78 L42.22 15.51 L42.52 15.72 L42.52 15.46 L42.78 15.64 L42.78 15.38 L42.80 15.39 L42.80 15.13 L42.87 15.18 L42.87 14.92 L43.16 15.12 L43.16 14.86 L43.82 15.33 L43.82 15.06 L43.87 15.10 L43.87 14.84 L44.20 15.07 L44.20 14.81 L44.43 14.97 L44.43 14.71 L44.47 14.73 L44.47 14.47 L44.49 14.49 L44.49 14.22 L44.71 14.38 L44.71 14.11 L44.72 14.12 L44.72 13.86 L44.81 13.92 L44.81 13.66 L45.23 13.96 L45.23 13.69 L45.38 13.80 L45.38 13.53 L45.62 13.71 L45.62 13.44 L45.85 13.60 L45.85 13.34 L46.08 13.51 L46.08 13.24 L46.23 13.35 L46.23 13.08 L47.49 13.98 L47.49 13.72 L48.20 14.23 L48.20 13.96 L48.80 14.39 L48.80 14.13 L48.81 14.13 L48.81 13.87 L49.41 14.30 L49.41 14.04 L51.40 15.46 L51.40 15.20 L53.29 16.55 L53.29 16.28 L56.68 18.71 L56.68 18.44 L57.78 19.23 L57.78 18.97 L64.08 23.48 L64.08 23.21 L70.13 27.55 L70.13 27.28 L71.32 28.14 L71.32 27.87 L72.72 28.87 L72.72 28.61 L88.68 40.03 L88.68 39.77 L89.65 40.47 L89.65 40.20 L89.97 40.43 L89.97 40.17 L92.13 41.71 L92.13 41.45 L95.74 44.03 L95.74 43.77 L103.41 49.26 L103.41 48.99 L103.69 49.19 L103.69 48.93 L104.41 49.45 L104.41 49.18 L108.05 51.79 L108.05 51.52 L108.07 51.53 L108.07 51.27 L109.39 52.21 L109.39 51.95 L112.53 54.20 L112.53 53.94 L116.44 56.73 L116.44 56.47 L116.90 56.80" stroke="#EC4B8D" stroke-width="0.42" fill="none" stroke-linejoin="round"/>
<path d="M20.70 56.80 L20.71 56.81 L20.71 56.58 L20.79 56.64 L20.79 56.41 L20.79 56.41 L20.79 56.19 L21.01 56.34 L21.01 56.12 L21.12 56.19 L21.12 55.96 L21.15 55.99 L21.15 55.76 L21.29 55.86 L21.29 55.63 L21.30 55.64 L21.30 55.41 L21.32 55.43 L21.32 55.20 L21.35 55.22 L21.35 54.99 L21.36 55.00 L21.36 54.78 L21.57 54.92 L21.57 54.69 L21.58 54.70 L21.58 54.48 L21.59 54.49 L21.59 54.26 L21.66 54.31 L21.66 54.08 L21.72 54.12 L21.72 53.89 L21.73 53.90 L21.73 53.68 L21.98 53.86 L21.98 53.63 L22.11 53.72 L22.11 53.49 L22.12 53.50 L22.12 53.28 L22.14 53.29 L22.14 53.06 L22.15 53.07 L22.15 52.84 L22.29 52.94 L22.29 52.71 L22.31 52.73 L22.31 52.50 L22.45 52.60 L22.45 52.37 L22.47 52.39 L22.47 52.16 L22.57 52.23 L22.57 52.00 L22.64 52.06 L22.64 51.83 L22.80 51.94 L22.80 51.72 L22.88 51.77 L22.88 51.54 L22.89 51.55 L22.89 51.33 L23.15 51.51 L23.15 51.28 L23.17 51.30 L23.17 51.07 L23.21 51.10 L23.21 50.87 L23.22 50.88 L23.22 50.65 L23.24 50.67 L23.24 50.44 L23.29 50.47 L23.29 50.25 L23.37 50.31 L23.37 50.08 L23.37 50.08 L23.37 49.85 L23.44 49.90 L23.44 49.68 L23.61 49.79 L23.61 49.57 L23.62 49.58 L23.62 49.35 L23.62 49.35 L23.62 49.13 L23.67 49.16 L23.67 48.93 L23.74 48.98 L23.74 48.75 L23.83 48.82 L23.83 48.59 L23.86 48.61 L23.86 48.38 L23.92 48.43 L23.92 48.20 L23.97 48.23 L23.97 48.01 L24.07 48.09 L24.07 47.86 L24.10 47.88 L24.10 47.65 L24.17 47.70 L24.17 47.47 L24.26 47.54 L24.26 47.31 L24.32 47.35 L24.32 47.13 L24.36 47.15 L24.36 46.93 L24.43 46.98 L24.43 46.75 L24.45 46.76 L24.45 46.54 L24.60 46.65 L24.60 46.42 L24.70 46.49 L24.70 46.26 L24.78 46.32 L24.78 46.09 L24.86 46.15 L24.86 45.92 L24.87 45.93 L24.87 45.70 L24.91 45.73 L24.91 45.50 L24.91 45.50 L24.91 45.28 L25.10 45.42 L25.10 45.19 L25.14 45.21 L25.14 44.99 L25.21 45.04 L25.21 44.81 L25.36 44.92 L25.36 44.69 L25.39 44.71 L25.39 44.49 L25.41 44.50 L25.41 44.27 L25.44 44.29 L25.44 44.07 L25.49 44.10 L25.49 43.87 L25.63 43.98 L25.63 43.75 L25.69 43.79 L25.69 43.56 L25.74 43.60 L25.74 43.38 L25.89 43.48 L25.89 43.25 L26.01 43.33 L26.01 43.11 L26.02 43.12 L26.02 42.89 L26.06 42.92 L26.06 42.69 L26.07 42.70 L26.07 42.48 L26.32 42.65 L26.32 42.42 L26.37 42.46 L26.37 42.23 L26.47 42.30 L26.47 42.08 L26.56 42.14 L26.56 41.91 L26.75 42.05 L26.75 41.82 L26.77 41.83 L26.77 41.61 L26.86 41.67 L26.86 41.45 L26.87 41.45 L26.87 41.23 L26.94 41.28 L26.94 41.05 L26.95 41.06 L26.95 40.83 L27.01 40.87 L27.01 40.65 L27.08 40.69 L27.08 40.47 L27.11 40.49 L27.11 40.26 L27.15 40.30 L27.15 40.07 L27.19 40.09 L27.19 39.87 L27.19 39.87 L27.19 39.64 L27.21 39.65 L27.21 39.43 L27.25 39.45 L27.25 39.23 L27.38 39.32 L27.38 39.09 L27.43 39.13 L27.43 38.90 L27.62 39.04 L27.62 38.81 L27.67 38.85 L27.67 38.62 L27.74 38.67 L27.74 38.44 L27.77 38.46 L27.77 38.24 L27.83 38.28 L27.83 38.06 L27.87 38.08 L27.87 37.85 L27.94 37.90 L27.94 37.68 L27.98 37.71 L27.98 37.48 L28.01 37.50 L28.01 37.28 L28.30 37.48 L28.30 37.25 L28.68 37.53 L28.68 37.30 L28.75 37.35 L28.75 37.12 L28.81 37.16 L28.81 36.94 L28.85 36.96 L28.85 36.73 L28.92 36.78 L28.92 36.56 L28.97 36.59 L28.97 36.37 L29.04 36.42 L29.04 36.19 L29.12 36.25 L29.12 36.02 L29.23 36.10 L29.23 35.88 L29.27 35.90 L29.27 35.67 L29.54 35.87 L29.54 35.64 L29.64 35.71 L29.64 35.49 L29.65 35.49 L29.65 35.26 L29.68 35.29 L29.68 35.06 L29.70 35.07 L29.70 34.85 L29.77 34.90 L29.77 34.67 L29.96 34.80 L29.96 34.58 L30.03 34.62 L30.03 34.40 L30.12 34.47 L30.12 34.24 L30.32 34.37 L30.32 34.15 L30.36 34.18 L30.36 33.95 L30.69 34.19 L30.69 33.96 L30.73 33.99 L30.73 33.76 L30.77 33.79 L30.77 33.56 L30.82 33.60 L30.82 33.37 L30.86 33.40 L30.86 33.17 L30.89 33.19 L30.89 32.97 L30.94 33.00 L30.94 32.77 L30.96 32.79 L30.96 32.56 L31.09 32.65 L31.09 32.43 L31.11 32.44 L31.11 32.22 L31.13 32.23 L31.13 32.00 L31.16 32.03 L31.16 31.80 L31.23 31.85 L31.23 31.62 L31.27 31.65 L31.27 31.43 L31.35 31.48 L31.35 31.25 L31.36 31.26 L31.36 31.03 L31.41 31.07 L31.41 30.85 L31.63 31.00 L31.63 30.77 L31.72 30.84 L31.72 30.61 L31.78 30.66 L31.78 30.43 L31.84 30.47 L31.84 30.24 L31.93 30.31 L31.93 30.08 L31.97 30.10 L31.97 29.88 L32.00 29.90 L32.00 29.67 L32.00 29.67 L32.00 29.45 L32.14 29.55 L32.14 29.32 L32.16 29.33 L32.16 29.11 L32.21 29.14 L32.21 28.92 L32.41 29.06 L32.41 28.83 L32.48 28.88 L32.48 28.65 L32.52 28.68 L32.52 28.46 L32.57 28.50 L32.57 28.27 L32.59 28.28 L32.59 28.05 L32.61 28.07 L32.61 27.84 L32.62 27.85 L32.62 27.62 L32.88 27.81 L32.88 27.58 L32.93 27.62 L32.93 27.39 L32.99 27.43 L32.99 27.20 L33.10 27.28 L33.10 27.05 L33.13 27.08 L33.13 26.85 L33.14 26.86 L33.14 26.63 L33.24 26.70 L33.24 26.47 L33.25 26.48 L33.25 26.25 L33.30 26.29 L33.30 26.06 L33.59 26.27 L33.59 26.04 L33.71 26.12 L33.71 25.90 L33.85 26.00 L33.85 25.77 L33.90 25.81 L33.90 25.58 L34.05 25.69 L34.05 25.46 L34.13 25.51 L34.13 25.29 L34.21 25.35 L34.21 25.12 L34.28 25.17 L34.28 24.94 L34.34 24.99 L34.34 24.76 L34.44 24.83 L34.44 24.60 L34.45 24.61 L34.45 24.39 L34.64 24.52 L34.64 24.29 L34.95 24.51 L34.95 24.28 L35.08 24.38 L35.08 24.15 L35.17 24.21 L35.17 23.99 L35.19 24.00 L35.19 23.78 L35.28 23.84 L35.28 23.61 L35.53 23.79 L35.53 23.56 L35.69 23.68 L35.69 23.45 L35.77 23.51 L35.77 23.28 L35.78 23.29 L35.78 23.06 L35.79 23.06 L35.79 22.84 L35.83 22.87 L35.83 22.64 L35.86 22.66 L35.86 22.43 L35.87 22.44 L35.87 22.21 L35.98 22.29 L35.98 22.07 L36.10 22.15 L36.10 21.92 L36.28 22.05 L36.28 21.82 L36.47 21.96 L36.47 21.73 L36.74 21.92 L36.74 21.70 L36.91 21.82 L36.91 21.59 L37.00 21.65 L37.00 21.43 L37.09 21.49 L37.09 21.26 L37.30 21.41 L37.30 21.19 L37.50 21.33 L37.50 21.10 L37.63 21.19 L37.63 20.97 L37.65 20.98 L37.65 20.75 L37.78 20.85 L37.78 20.62 L37.89 20.70 L37.89 20.48 L38.16 20.66 L38.16 20.43 L38.38 20.59 L38.38 20.36 L38.41 20.39 L38.41 20.16 L38.46 20.20 L38.46 19.97 L38.51 20.00 L38.51 19.78 L38.66 19.88 L38.66 19.66 L38.76 19.73 L38.76 19.50 L39.09 19.74 L39.09 19.51 L39.11 19.52 L39.11 19.30 L39.14 19.32 L39.14 19.09 L39.29 19.20 L39.29 18.97 L39.29 18.97 L39.29 18.74 L39.36 18.79 L39.36 18.56 L39.40 18.59 L39.40 18.37 L39.40 18.37 L39.40 18.14 L39.44 18.17 L39.44 17.94 L39.52 18.00 L39.52 17.77 L39.54 17.79 L39.54 17.56 L39.81 17.75 L39.81 17.52 L40.46 17.99 L40.46 17.76 L40.61 17.87 L40.61 17.64 L40.69 17.70 L40.69 17.47 L40.76 17.52 L40.76 17.29 L40.87 17.37 L40.87 17.14 L41.12 17.32 L41.12 17.09 L41.12 17.09 L41.12 16.87 L41.18 16.91 L41.18 16.68 L41.72 17.07 L41.72 16.84 L42.02 17.05 L42.02 16.82 L42.50 17.16 L42.50 16.94 L42.53 16.95 L42.53 16.73 L42.56 16.75 L42.56 16.52 L42.61 16.55 L42.61 16.33 L42.61 16.33 L42.61 16.11 L43.16 16.49 L43.16 16.27 L43.47 16.49 L43.47 16.26 L43.56 16.32 L43.56 16.10 L43.71 16.20 L43.71 15.98 L43.78 16.03 L43.78 15.80 L43.83 15.84 L43.83 15.61 L43.99 15.72 L43.99 15.50 L44.90 16.13 L44.90 15.91 L44.92 15.93 L44.92 15.70 L44.95 15.72 L44.95 15.49 L45.65 15.99 L45.65 15.76 L45.97 15.99 L45.97 15.76 L46.20 15.92 L46.20 15.70 L46.64 16.01 L46.64 15.78 L47.38 16.30 L47.38 16.08 L48.55 16.90 L48.55 16.67 L48.77 16.83 L48.77 16.60 L49.33 17.00 L49.33 16.78 L49.64 17.00 L49.64 16.77 L50.18 17.15 L50.18 16.92 L50.78 17.34 L50.78 17.12 L50.92 17.21 L50.92 16.99 L52.13 17.85 L52.13 17.62 L53.06 18.28 L53.06 18.05 L53.12 18.09 L53.12 17.86 L53.86 18.39 L53.86 18.16 L54.78 18.81 L54.78 18.58 L55.61 19.17 L55.61 18.94 L57.44 20.24 L57.44 20.01 L57.57 20.10 L57.57 19.87 L58.08 20.24 L58.08 20.01 L62.53 23.15 L62.53 22.93 L64.45 24.29 L64.45 24.06 L65.58 24.85 L65.58 24.63 L67.13 25.73 L67.13 25.50 L75.87 31.67 L75.87 31.44 L82.43 36.08 L82.43 35.85 L85.89 38.29 L85.89 38.07 L88.06 39.60 L88.06 39.37 L89.03 40.06 L89.03 39.84 L92.87 42.54 L92.87 42.32 L94.37 43.38 L94.37 43.15 L99.39 46.69 L99.39 46.47 L102.47 48.65 L102.47 48.42 L102.99 48.79 L102.99 48.56 L103.76 49.11 L103.76 48.88 L106.28 50.66 L106.28 50.43 L107.05 50.97 L107.05 50.75 L107.93 51.37 L107.93 51.15 L113.75 55.26 L113.75 55.03 L114.24 55.38 L114.24 55.15 L114.67 55.45 L114.67 55.23 L116.90 56.80" stroke="#F4B7BF" stroke-width="0.42" fill="none" stroke-linejoin="round"/>
<path d="M20.70 56.80 L20.77 56.85 L20.77 56.62 L20.79 56.63 L20.79 56.40 L20.84 56.44 L20.84 56.21 L20.85 56.21 L20.85 55.98 L20.86 55.99 L20.86 55.76 L20.95 55.83 L20.95 55.60 L20.98 55.62 L20.98 55.39 L20.99 55.39 L20.99 55.16 L20.99 55.16 L20.99 54.93 L21.01 54.95 L21.01 54.72 L21.02 54.72 L21.02 54.49 L21.03 54.49 L21.03 54.26 L21.15 54.36 L21.15 54.12 L21.23 54.18 L21.23 53.95 L21.38 54.06 L21.38 53.83 L21.49 53.91 L21.49 53.68 L21.50 53.68 L21.50 53.45 L21.57 53.50 L21.57 53.27 L21.62 53.30 L21.62 53.07 L21.70 53.13 L21.70 52.90 L21.78 52.96 L21.78 52.73 L21.80 52.74 L21.80 52.51 L21.84 52.54 L21.84 52.31 L21.84 52.31 L21.84 52.08 L21.86 52.09 L21.86 51.86 L21.87 51.87 L21.87 51.64 L21.94 51.69 L21.94 51.46 L21.98 51.49 L21.98 51.26 L22.14 51.37 L22.14 51.14 L22.32 51.27 L22.32 51.04 L22.37 51.07 L22.37 50.84 L22.41 50.87 L22.41 50.64 L22.42 50.65 L22.42 50.42 L22.48 50.46 L22.48 50.23 L22.48 50.23 L22.48 50.00 L22.51 50.02 L22.51 49.79 L22.54 49.81 L22.54 49.58 L22.57 49.60 L22.57 49.37 L22.64 49.42 L22.64 49.19 L22.70 49.23 L22.70 49.00 L22.75 49.04 L22.75 48.81 L22.78 48.83 L22.78 48.60 L22.98 48.74 L22.98 48.51 L23.00 48.52 L23.00 48.29 L23.10 48.37 L23.10 48.14 L23.19 48.20 L23.19 47.97 L23.22 47.99 L23.22 47.76 L23.35 47.85 L23.35 47.62 L23.41 47.67 L23.41 47.43 L23.45 47.46 L23.45 47.23 L23.49 47.26 L23.49 47.03 L23.56 47.08 L23.56 46.85 L23.63 46.90 L23.63 46.67 L23.64 46.68 L23.64 46.45 L23.65 46.45 L23.65 46.22 L23.75 46.29 L23.75 46.06 L23.85 46.13 L23.85 45.90 L23.95 45.97 L23.95 45.74 L23.99 45.77 L23.99 45.54 L24.03 45.57 L24.03 45.34 L24.09 45.39 L24.09 45.16 L24.30 45.30 L24.30 45.07 L24.31 45.08 L24.31 44.85 L24.36 44.88 L24.36 44.65 L24.56 44.80 L24.56 44.57 L24.57 44.58 L24.57 44.35 L24.62 44.38 L24.62 44.15 L24.67 44.18 L24.67 43.95 L24.68 43.96 L24.68 43.73 L24.69 43.74 L24.69 43.51 L24.69 43.51 L24.69 43.28 L24.84 43.38 L24.84 43.15 L24.96 43.24 L24.96 43.01 L25.00 43.04 L25.00 42.81 L25.03 42.83 L25.03 42.60 L25.04 42.61 L25.04 42.37 L25.19 42.48 L25.19 42.25 L25.20 42.26 L25.20 42.03 L25.24 42.05 L25.24 41.82 L25.29 41.86 L25.29 41.63 L25.33 41.66 L25.33 41.43 L25.39 41.47 L25.39 41.24 L25.40 41.25 L25.40 41.01 L25.42 41.03 L25.42 40.80 L25.55 40.89 L25.55 40.66 L25.60 40.70 L25.60 40.47 L25.64 40.49 L25.64 40.26 L25.73 40.33 L25.73 40.10 L25.74 40.11 L25.74 39.88 L25.95 40.03 L25.95 39.80 L25.97 39.81 L25.97 39.58 L25.99 39.59 L25.99 39.36 L25.99 39.36 L25.99 39.13 L26.04 39.16 L26.04 38.93 L26.05 38.94 L26.05 38.71 L26.26 38.87 L26.26 38.64 L26.33 38.69 L26.33 38.45 L26.40 38.50 L26.40 38.27 L26.42 38.28 L26.42 38.05 L26.52 38.13 L26.52 37.90 L26.54 37.91 L26.54 37.68 L26.54 37.68 L26.54 37.45 L26.62 37.51 L26.62 37.28 L26.69 37.32 L26.69 37.09 L26.81 37.18 L26.81 36.95 L26.88 37.00 L26.88 36.77 L26.92 36.80 L26.92 36.57 L26.95 36.59 L26.95 36.36 L27.00 36.39 L27.00 36.16 L27.13 36.25 L27.13 36.02 L27.21 36.08 L27.21 35.85 L27.26 35.89 L27.26 35.66 L27.35 35.72 L27.35 35.49 L27.44 35.55 L27.44 35.32 L27.51 35.38 L27.51 35.15 L27.62 35.22 L27.62 34.99 L27.65 35.01 L27.65 34.78 L28.07 35.08 L28.07 34.85 L28.26 34.99 L28.26 34.76 L28.32 34.80 L28.32 34.57 L28.34 34.59 L28.34 34.36 L28.41 34.41 L28.41 34.18 L28.46 34.21 L28.46 33.98 L28.51 34.02 L28.51 33.78 L28.55 33.81 L28.55 33.58 L28.64 33.65 L28.64 33.42 L28.78 33.52 L28.78 33.29 L28.79 33.30 L28.79 33.07 L28.85 33.10 L28.85 32.87 L28.95 32.95 L28.95 32.71 L28.95 32.72 L28.95 32.49 L28.95 32.49 L28.95 32.26 L29.13 32.38 L29.13 32.15 L29.13 32.15 L29.13 31.92 L29.14 31.93 L29.14 31.70 L29.28 31.80 L29.28 31.57 L29.28 31.57 L29.28 31.34 L29.35 31.39 L29.35 31.16 L29.41 31.20 L29.41 30.97 L29.58 31.10 L29.58 30.87 L29.64 30.90 L29.64 30.67 L29.78 30.78 L29.78 30.55 L29.99 30.70 L29.99 30.47 L30.19 30.61 L30.19 30.38 L30.40 30.53 L30.40 30.30 L30.41 30.30 L30.41 30.07 L30.57 30.19 L30.57 29.96 L30.60 29.98 L30.60 29.75 L30.64 29.78 L30.64 29.55 L30.71 29.60 L30.71 29.37 L30.73 29.38 L30.73 29.15 L31.01 29.35 L31.01 29.12 L31.07 29.16 L31.07 28.93 L31.17 29.01 L31.17 28.78 L31.22 28.81 L31.22 28.58 L31.44 28.74 L31.44 28.51 L31.55 28.59 L31.55 28.36 L31.65 28.43 L31.65 28.20 L31.80 28.31 L31.80 28.07 L32.03 28.24 L32.03 28.01 L32.32 28.21 L32.32 27.98 L32.37 28.02 L32.37 27.79 L32.64 27.98 L32.64 27.75 L32.68 27.78 L32.68 27.55 L32.72 27.58 L32.72 27.35 L32.79 27.40 L32.79 27.17 L32.81 27.18 L32.81 26.95 L33.04 27.11 L33.04 26.88 L33.17 26.98 L33.17 26.75 L33.30 26.85 L33.30 26.62 L33.38 26.67 L33.38 26.44 L33.41 26.46 L33.41 26.23 L33.49 26.29 L33.49 26.06 L33.56 26.11 L33.56 25.88 L33.87 26.10 L33.87 25.87 L33.94 25.91 L33.94 25.68 L34.04 25.76 L34.04 25.53 L34.11 25.58 L34.11 25.35 L34.24 25.44 L34.24 25.21 L34.24 25.21 L34.24 24.98 L34.25 24.99 L34.25 24.76 L34.31 24.80 L34.31 24.57 L34.60 24.77 L34.60 24.54 L35.09 24.90 L35.09 24.67 L35.53 24.99 L35.53 24.76 L35.54 24.76 L35.54 24.53 L35.60 24.57 L35.60 24.34 L35.82 24.50 L35.82 24.27 L36.10 24.47 L36.10 24.24 L36.26 24.35 L36.26 24.12 L36.46 24.27 L36.46 24.04 L36.67 24.19 L36.67 23.96 L36.99 24.19 L36.99 23.96 L37.11 24.04 L37.11 23.81 L37.14 23.83 L37.14 23.60 L37.26 23.69 L37.26 23.46 L37.36 23.53 L37.36 23.30 L37.86 23.66 L37.86 23.43 L38.02 23.54 L38.02 23.31 L38.33 23.54 L38.33 23.31 L38.45 23.39 L38.45 23.16 L38.61 23.27 L38.61 23.04 L38.70 23.11 L38.70 22.88 L38.75 22.92 L38.75 22.68 L38.75 22.69 L38.75 22.46 L38.77 22.47 L38.77 22.24 L38.88 22.31 L38.88 22.08 L38.90 22.10 L38.90 21.87 L39.08 22.00 L39.08 21.77 L39.14 21.81 L39.14 21.58 L39.18 21.61 L39.18 21.38 L39.20 21.39 L39.20 21.16 L39.25 21.20 L39.25 20.96 L39.58 21.20 L39.58 20.97 L39.60 20.98 L39.60 20.75 L39.66 20.80 L39.66 20.57 L39.81 20.68 L39.81 20.45 L39.84 20.47 L39.84 20.24 L40.11 20.43 L40.11 20.20 L40.14 20.22 L40.14 19.99 L40.18 20.02 L40.18 19.79 L40.32 19.89 L40.32 19.66 L40.34 19.67 L40.34 19.44 L40.42 19.50 L40.42 19.27 L40.86 19.58 L40.86 19.35 L41.16 19.57 L41.16 19.34 L41.20 19.37 L41.20 19.14 L41.20 19.14 L41.20 18.91 L41.25 18.94 L41.25 18.71 L41.27 18.72 L41.27 18.49 L41.58 18.72 L41.58 18.49 L41.74 18.60 L41.74 18.37 L41.84 18.44 L41.84 18.21 L41.93 18.28 L41.93 18.05 L42.03 18.12 L42.03 17.89 L42.05 17.90 L42.05 17.67 L42.06 17.68 L42.06 17.45 L42.17 17.53 L42.17 17.30 L42.34 17.42 L42.34 17.19 L42.50 17.30 L42.50 17.07 L42.53 17.10 L42.53 16.86 L42.66 16.96 L42.66 16.73 L42.69 16.75 L42.69 16.51 L42.88 16.65 L42.88 16.42 L42.94 16.47 L42.94 16.23 L43.00 16.28 L43.00 16.05 L43.09 16.11 L43.09 15.88 L43.33 16.05 L43.33 15.82 L43.73 16.11 L43.73 15.88 L43.75 15.89 L43.75 15.66 L43.77 15.68 L43.77 15.45 L43.99 15.60 L43.99 15.37 L44.09 15.44 L44.09 15.21 L44.09 15.22 L44.09 14.99 L44.44 15.24 L44.44 15.01 L44.57 15.10 L44.57 14.87 L45.25 15.36 L45.25 15.13 L45.47 15.28 L45.47 15.05 L45.77 15.27 L45.77 15.04 L45.92 15.14 L45.92 14.91 L46.21 15.12 L46.21 14.89 L46.57 15.15 L46.57 14.92 L47.23 15.39 L47.23 15.16 L47.26 15.19 L47.26 14.96 L47.66 15.24 L47.66 15.01 L47.69 15.03 L47.69 14.80 L48.08 15.09 L48.08 14.86 L48.80 15.37 L48.80 15.14 L48.96 15.26 L48.96 15.03 L49.85 15.67 L49.85 15.44 L50.14 15.65 L50.14 15.41 L50.15 15.42 L50.15 15.19 L50.56 15.49 L50.56 15.26 L51.21 15.72 L51.21 15.49 L52.90 16.71 L52.90 16.48 L53.50 16.91 L53.50 16.68 L56.50 18.84 L56.50 18.61 L57.30 19.19 L57.30 18.96 L63.01 23.07 L63.01 22.83 L66.84 25.60 L66.84 25.37 L71.08 28.42 L71.08 28.18 L71.19 28.27 L71.19 28.04 L74.99 30.77 L74.99 30.54 L75.63 31.00 L75.63 30.77 L75.74 30.85 L75.74 30.62 L78.80 32.82 L78.80 32.59 L81.35 34.43 L81.35 34.20 L81.71 34.46 L81.71 34.23 L81.76 34.26 L81.76 34.03 L86.16 37.20 L86.16 36.97 L86.21 37.01 L86.21 36.78 L93.79 42.23 L93.79 42.00 L98.33 45.27 L98.33 45.04 L99.53 45.91 L99.53 45.68 L102.91 48.11 L102.91 47.88 L105.01 49.39 L105.01 49.16 L109.01 52.04 L109.01 51.81 L113.93 55.35 L113.93 55.12 L115.61 56.33 L115.61 56.10 L116.54 56.77 L116.54 56.54 L116.90 56.80" stroke="#C8A1DA" stroke-width="0.42" fill="none" stroke-linejoin="round"/>
<path d="M20.70 56.80 L20.79 56.86 L20.79 56.64 L20.81 56.65 L20.81 56.43 L20.82 56.43 L20.82 56.20 L20.84 56.22 L20.84 56.00 L20.93 56.06 L20.93 55.83 L20.94 55.84 L20.94 55.62 L20.99 55.65 L20.99 55.43 L21.03 55.45 L21.03 55.23 L21.04 55.23 L21.04 55.00 L21.12 55.06 L21.12 54.84 L21.16 54.86 L21.16 54.64 L21.17 54.65 L21.17 54.42 L21.19 54.43 L21.19 54.21 L21.23 54.24 L21.23 54.01 L21.39 54.13 L21.39 53.90 L21.44 53.93 L21.44 53.71 L21.52 53.77 L21.52 53.54 L21.53 53.55 L21.53 53.32 L21.53 53.32 L21.53 53.10 L21.62 53.15 L21.62 52.93 L21.67 52.97 L21.67 52.74 L21.68 52.75 L21.68 52.52 L21.82 52.62 L21.82 52.40 L21.83 52.40 L21.83 52.18 L21.87 52.20 L21.87 51.97 L21.94 52.03 L21.94 51.80 L21.95 51.81 L21.95 51.58 L21.99 51.61 L21.99 51.38 L22.09 51.45 L22.09 51.23 L22.11 51.24 L22.11 51.02 L22.36 51.19 L22.36 50.97 L22.36 50.97 L22.36 50.74 L22.39 50.76 L22.39 50.53 L22.42 50.56 L22.42 50.33 L22.50 50.39 L22.50 50.16 L22.58 50.22 L22.58 49.99 L22.61 50.02 L22.61 49.79 L22.66 49.83 L22.66 49.60 L22.69 49.62 L22.69 49.39 L22.73 49.42 L22.73 49.19 L22.78 49.23 L22.78 49.00 L22.86 49.06 L22.86 48.84 L22.88 48.85 L22.88 48.63 L22.96 48.68 L22.96 48.45 L22.98 48.47 L22.98 48.24 L23.00 48.26 L23.00 48.03 L23.06 48.08 L23.06 47.85 L23.21 47.95 L23.21 47.72 L23.34 47.82 L23.34 47.59 L23.38 47.62 L23.38 47.39 L23.45 47.45 L23.45 47.22 L23.51 47.26 L23.51 47.04 L23.64 47.13 L23.64 46.90 L23.66 46.92 L23.66 46.69 L23.69 46.71 L23.69 46.48 L23.69 46.49 L23.69 46.26 L23.70 46.26 L23.70 46.04 L23.81 46.12 L23.81 45.89 L23.83 45.91 L23.83 45.68 L23.97 45.78 L23.97 45.55 L23.97 45.55 L23.97 45.33 L24.05 45.38 L24.05 45.16 L24.12 45.21 L24.12 44.98 L24.13 44.98 L24.13 44.76 L24.24 44.84 L24.24 44.61 L24.24 44.61 L24.24 44.39 L24.30 44.43 L24.30 44.20 L24.36 44.24 L24.36 44.02 L24.36 44.02 L24.36 43.79 L24.63 43.99 L24.63 43.76 L24.69 43.80 L24.69 43.58 L24.73 43.60 L24.73 43.38 L24.76 43.40 L24.76 43.18 L24.81 43.20 L24.81 42.98 L24.92 43.06 L24.92 42.83 L25.05 42.92 L25.05 42.70 L25.13 42.75 L25.13 42.53 L25.14 42.53 L25.14 42.31 L25.14 42.31 L25.14 42.08 L25.14 42.09 L25.14 41.86 L25.18 41.89 L25.18 41.66 L25.20 41.68 L25.20 41.45 L25.25 41.49 L25.25 41.26 L25.30 41.29 L25.30 41.07 L25.45 41.18 L25.45 40.95 L25.69 41.12 L25.69 40.89 L25.87 41.02 L25.87 40.79 L25.88 40.80 L25.88 40.57 L25.93 40.60 L25.93 40.38 L25.95 40.40 L25.95 40.17 L25.96 40.18 L25.96 39.95 L26.06 40.02 L26.06 39.80 L26.18 39.88 L26.18 39.66 L26.21 39.68 L26.21 39.45 L26.22 39.45 L26.22 39.23 L26.32 39.31 L26.32 39.08 L26.42 39.15 L26.42 38.92 L26.43 38.92 L26.43 38.70 L26.64 38.85 L26.64 38.62 L26.73 38.69 L26.73 38.46 L27.03 38.68 L27.03 38.45 L27.08 38.48 L27.08 38.25 L27.20 38.34 L27.20 38.11 L27.24 38.14 L27.24 37.92 L27.30 37.96 L27.30 37.73 L27.50 37.88 L27.50 37.65 L27.51 37.66 L27.51 37.43 L27.70 37.56 L27.70 37.34 L27.97 37.53 L27.97 37.30 L28.04 37.35 L28.04 37.13 L28.07 37.15 L28.07 36.92 L28.08 36.93 L28.08 36.70 L28.45 36.96 L28.45 36.74 L28.46 36.75 L28.46 36.52 L28.54 36.58 L28.54 36.35 L28.65 36.43 L28.65 36.20 L28.76 36.28 L28.76 36.05 L28.80 36.08 L28.80 35.85 L28.80 35.86 L28.80 35.63 L28.83 35.65 L28.83 35.42 L29.01 35.55 L29.01 35.32 L29.13 35.41 L29.13 35.19 L29.16 35.20 L29.16 34.98 L29.31 35.08 L29.31 34.86 L29.37 34.90 L29.37 34.67 L29.44 34.72 L29.44 34.50 L29.46 34.51 L29.46 34.29 L29.48 34.30 L29.48 34.07 L29.58 34.15 L29.58 33.92 L29.64 33.96 L29.64 33.74 L29.66 33.75 L29.66 33.52 L29.70 33.55 L29.70 33.32 L29.92 33.48 L29.92 33.26 L29.94 33.27 L29.94 33.04 L30.07 33.13 L30.07 32.91 L30.20 33.00 L30.20 32.77 L30.23 32.80 L30.23 32.57 L30.28 32.60 L30.28 32.38 L30.30 32.39 L30.30 32.16 L30.36 32.21 L30.36 31.99 L30.53 32.10 L30.53 31.88 L30.57 31.91 L30.57 31.68 L30.58 31.68 L30.58 31.46 L30.58 31.46 L30.58 31.23 L30.58 31.24 L30.58 31.01 L30.63 31.04 L30.63 30.82 L30.68 30.85 L30.68 30.63 L30.71 30.65 L30.71 30.42 L30.74 30.44 L30.74 30.22 L30.76 30.23 L30.76 30.01 L30.90 30.11 L30.90 29.88 L31.16 30.06 L31.16 29.83 L31.26 29.91 L31.26 29.68 L31.39 29.77 L31.39 29.55 L31.45 29.59 L31.45 29.36 L31.54 29.43 L31.54 29.20 L31.66 29.29 L31.66 29.06 L31.76 29.13 L31.76 28.90 L31.78 28.92 L31.78 28.69 L31.78 28.69 L31.78 28.47 L31.91 28.56 L31.91 28.33 L32.00 28.39 L32.00 28.17 L32.02 28.18 L32.02 27.96 L32.21 28.09 L32.21 27.87 L32.27 27.91 L32.27 27.68 L32.57 27.89 L32.57 27.67 L32.67 27.74 L32.67 27.51 L32.72 27.55 L32.72 27.32 L32.89 27.44 L32.89 27.22 L33.02 27.31 L33.02 27.08 L33.15 27.18 L33.15 26.95 L33.26 27.03 L33.26 26.80 L33.52 26.98 L33.52 26.76 L33.53 26.77 L33.53 26.54 L33.54 26.54 L33.54 26.32 L33.60 26.36 L33.60 26.14 L33.67 26.18 L33.67 25.96 L33.86 26.09 L33.86 25.87 L33.96 25.94 L33.96 25.71 L34.32 25.96 L34.32 25.74 L34.39 25.79 L34.39 25.56 L34.52 25.65 L34.52 25.43 L34.56 25.46 L34.56 25.23 L34.65 25.29 L34.65 25.07 L34.67 25.08 L34.67 24.86 L34.78 24.94 L34.78 24.71 L34.95 24.83 L34.95 24.60 L35.04 24.67 L35.04 24.44 L35.52 24.78 L35.52 24.55 L35.64 24.64 L35.64 24.41 L35.87 24.57 L35.87 24.35 L35.89 24.36 L35.89 24.14 L35.93 24.16 L35.93 23.94 L35.96 23.96 L35.96 23.73 L35.99 23.75 L35.99 23.53 L36.05 23.57 L36.05 23.34 L36.14 23.40 L36.14 23.18 L36.43 23.39 L36.43 23.16 L36.45 23.18 L36.45 22.95 L36.53 23.00 L36.53 22.78 L36.87 23.02 L36.87 22.79 L36.90 22.81 L36.90 22.59 L37.08 22.71 L37.08 22.49 L37.38 22.70 L37.38 22.47 L37.43 22.51 L37.43 22.28 L37.72 22.49 L37.72 22.26 L37.89 22.38 L37.89 22.16 L38.20 22.37 L38.20 22.14 L38.44 22.32 L38.44 22.09 L38.55 22.17 L38.55 21.94 L38.85 22.15 L38.85 21.92 L38.95 22.00 L38.95 21.77 L39.05 21.85 L39.05 21.62 L39.56 21.98 L39.56 21.75 L39.61 21.79 L39.61 21.56 L40.05 21.87 L40.05 21.64 L40.06 21.65 L40.06 21.42 L40.07 21.43 L40.07 21.21 L40.19 21.29 L40.19 21.06 L40.23 21.09 L40.23 20.87 L40.56 21.10 L40.56 20.88 L40.60 20.90 L40.60 20.68 L40.62 20.69 L40.62 20.47 L40.76 20.56 L40.76 20.34 L40.99 20.50 L40.99 20.27 L41.42 20.58 L41.42 20.35 L41.63 20.50 L41.63 20.27 L41.66 20.29 L41.66 20.07 L41.68 20.08 L41.68 19.85 L41.70 19.87 L41.70 19.65 L41.77 19.69 L41.77 19.46 L41.83 19.51 L41.83 19.28 L42.06 19.44 L42.06 19.22 L42.22 19.33 L42.22 19.11 L42.30 19.16 L42.30 18.94 L42.40 19.01 L42.40 18.78 L42.46 18.82 L42.46 18.59 L42.50 18.62 L42.50 18.40 L42.64 18.50 L42.64 18.27 L42.70 18.32 L42.70 18.09 L42.71 18.09 L42.71 17.87 L42.96 18.04 L42.96 17.82 L42.99 17.84 L42.99 17.61 L43.03 17.64 L43.03 17.42 L43.29 17.60 L43.29 17.38 L43.32 17.40 L43.32 17.17 L43.85 17.54 L43.85 17.32 L43.97 17.40 L43.97 17.17 L44.13 17.29 L44.13 17.06 L44.53 17.35 L44.53 17.12 L44.65 17.21 L44.65 16.98 L45.11 17.31 L45.11 17.08 L45.34 17.24 L45.34 17.01 L45.42 17.07 L45.42 16.84 L45.57 16.95 L45.57 16.72 L45.77 16.86 L45.77 16.64 L45.84 16.69 L45.84 16.46 L45.91 16.51 L45.91 16.28 L46.18 16.47 L46.18 16.25 L46.59 16.54 L46.59 16.31 L46.65 16.36 L46.65 16.13 L46.95 16.34 L46.95 16.12 L47.05 16.18 L47.05 15.96 L47.18 16.05 L47.18 15.82 L47.68 16.18 L47.68 15.95 L47.73 15.99 L47.73 15.76 L47.88 15.87 L47.88 15.64 L47.99 15.72 L47.99 15.49 L49.15 16.31 L49.15 16.09 L49.19 16.11 L49.19 15.89 L49.25 15.93 L49.25 15.70 L49.47 15.86 L49.47 15.63 L52.38 17.68 L52.38 17.45 L52.58 17.60 L52.58 17.37 L53.23 17.82 L53.23 17.60 L53.46 17.76 L53.46 17.54 L55.25 18.80 L55.25 18.57 L56.99 19.80 L56.99 19.57 L64.34 24.75 L64.34 24.53 L64.39 24.56 L64.39 24.33 L69.89 28.21 L69.89 27.98 L71.00 28.76 L71.00 28.53 L74.93 31.31 L74.93 31.08 L76.72 32.34 L76.72 32.12 L77.25 32.48 L77.25 32.26 L79.55 33.88 L79.55 33.66 L80.70 34.46 L80.70 34.24 L83.10 35.93 L83.10 35.70 L84.91 36.98 L84.91 36.76 L90.66 40.80 L90.66 40.57 L103.85 49.87 L103.85 49.64 L104.50 50.10 L104.50 49.87 L106.89 51.56 L106.89 51.33 L107.55 51.79 L107.55 51.57 L110.66 53.76 L110.66 53.53 L111.74 54.29 L111.74 54.07 L112.39 54.53 L112.39 54.30 L113.52 55.10 L113.52 54.87 L114.20 55.35 L114.20 55.13 L114.94 55.64 L114.94 55.42 L116.90 56.80" stroke="#5CC5A7" stroke-width="0.42" fill="none" stroke-linejoin="round"/>
</g>
<path d="M22.90 37.50h2.6" stroke="#5BB0EC" stroke-width="0.5" stroke-opacity="0.55"/>
<text transform="matrix(1 0.0005 0 1 27.80 38.60)" font-size="3.48" fill="#000" stroke="#000" stroke-width="0.05">[Reactome] Translation</text>
<path d="M22.90 41.40h2.6" stroke="#EC4B8D" stroke-width="0.5" stroke-opacity="0.55"/>
<text transform="matrix(1 0.0005 0 1 27.80 42.50)" font-size="3.48" fill="#000" stroke="#000" stroke-width="0.05">[Reactome] Srp Dependent Cotranslational</text>
<text transform="matrix(1 0.0005 0 1 27.80 46.40)" font-size="3.48" fill="#000" stroke="#000" stroke-width="0.05">Protein Targeting To Membrane</text>
<path d="M22.90 49.20h2.6" stroke="#F4B7BF" stroke-width="0.5" stroke-opacity="0.55"/>
<text transform="matrix(1 0.0005 0 1 27.80 50.30)" font-size="3.48" fill="#000" stroke="#000" stroke-width="0.05">[Reactome] M Phase</text>
<path d="M22.90 53.10h2.6" stroke="#C8A1DA" stroke-width="0.5" stroke-opacity="0.55"/>
<text transform="matrix(1 0.0005 0 1 27.80 54.20)" font-size="3.48" fill="#000" stroke="#000" stroke-width="0.05">[Reactome] Separation of Sister Chromatids</text>
<path d="M22.90 57.00h2.6" stroke="#5CC5A7" stroke-width="0.5" stroke-opacity="0.55"/>
<text transform="matrix(1 0.0005 0 1 27.80 58.10)" font-size="3.48" fill="#000" stroke="#000" stroke-width="0.05">[Reactome] Eukaryotic Translation Initiation</text>
<path d="M20.7 56.80H116.9" stroke="#666" stroke-width="0.45" stroke-dasharray="1.4 1.7" fill="none"/>
<path d="M20.70 97.70 L20.70 84.82 L21.10 86.14 L21.51 87.15 L21.91 87.94 L22.31 88.55 L22.71 89.04 L23.12 89.43 L23.52 89.75 L23.92 90.02 L24.32 90.26 L24.73 90.46 L25.13 90.64 L25.53 90.81 L25.93 90.96 L26.34 91.10 L26.74 91.24 L27.14 91.37 L27.54 91.49 L27.95 91.62 L28.35 91.74 L28.75 91.85 L29.15 91.97 L29.56 92.08 L29.96 92.19 L30.36 92.30 L30.76 92.41 L31.17 92.51 L31.57 92.62 L31.97 92.72 L32.37 92.83 L32.78 92.93 L33.18 93.03 L33.58 93.13 L33.98 93.23 L34.39 93.32 L34.79 93.42 L35.19 93.52 L35.59 93.61 L36.00 93.70 L36.40 93.79 L36.80 93.88 L37.20 93.97 L37.61 94.06 L38.01 94.15 L38.41 94.23 L38.81 94.31 L39.22 94.40 L39.62 94.48 L40.02 94.56 L40.42 94.64 L40.83 94.71 L41.23 94.79 L41.63 94.86 L42.03 94.94 L42.44 95.01 L42.84 95.08 L43.24 95.15 L43.64 95.21 L44.05 95.28 L44.45 95.34 L44.85 95.41 L45.25 95.47 L45.66 95.53 L46.06 95.58 L46.46 95.64 L46.86 95.69 L47.27 95.75 L47.67 95.80 L48.07 95.85 L48.47 95.90 L48.88 95.94 L49.28 95.98 L49.68 96.03 L50.08 96.06 L50.49 96.10 L50.89 96.14 L51.29 96.17 L51.69 96.20 L52.10 96.23 L52.50 96.25 L52.90 96.27 L53.30 96.29 L53.71 96.31 L54.11 96.32 L54.51 98.62 L54.91 98.64 L55.32 98.65 L55.72 98.66 L56.12 98.68 L56.52 98.69 L56.93 98.70 L57.33 98.72 L57.73 98.73 L58.13 98.74 L58.54 98.75 L58.94 98.77 L59.34 98.78 L59.74 98.79 L60.15 98.81 L60.55 98.82 L60.95 98.83 L61.35 98.85 L61.76 98.86 L62.16 98.87 L62.56 98.89 L62.96 98.90 L63.37 98.91 L63.77 98.92 L64.17 98.94 L64.57 98.95 L64.98 98.96 L65.38 98.98 L65.78 98.99 L66.18 99.00 L66.59 99.02 L66.99 99.03 L67.39 99.04 L67.79 99.05 L68.20 99.07 L68.60 99.08 L69.00 99.09 L69.40 99.11 L69.81 99.12 L70.21 99.13 L70.61 99.15 L71.01 99.16 L71.42 99.17 L71.82 99.18 L72.22 99.20 L72.62 99.21 L73.03 99.22 L73.43 99.24 L73.83 99.25 L74.23 99.26 L74.64 99.28 L75.04 99.29 L75.44 99.30 L75.84 99.32 L76.25 99.33 L76.65 99.34 L77.05 99.35 L77.45 99.37 L77.86 99.38 L78.26 99.39 L78.66 99.41 L79.06 99.42 L79.47 99.43 L79.87 99.45 L80.27 99.46 L80.67 99.47 L81.08 99.48 L81.48 99.50 L81.88 99.51 L82.28 99.52 L82.69 99.54 L83.09 99.55 L83.49 99.56 L83.89 99.58 L84.30 99.59 L84.70 99.60 L85.10 99.61 L85.50 99.63 L85.91 99.64 L86.31 99.65 L86.71 99.67 L87.11 99.68 L87.52 99.69 L87.92 99.71 L88.32 99.72 L88.72 99.73 L89.13 99.75 L89.53 99.76 L89.93 99.77 L90.33 99.78 L90.74 99.80 L91.14 99.81 L91.54 99.82 L91.94 99.84 L92.35 99.85 L92.75 99.86 L93.15 99.88 L93.55 99.89 L93.96 99.90 L94.36 99.91 L94.76 99.93 L95.16 99.94 L95.57 99.95 L95.97 99.97 L96.37 99.98 L96.77 99.99 L97.18 100.01 L97.58 100.02 L97.98 100.03 L98.38 100.04 L98.79 100.06 L99.19 100.07 L99.59 100.08 L99.99 100.10 L100.40 100.11 L100.80 100.12 L101.20 100.14 L101.60 100.15 L102.01 100.16 L102.41 100.18 L102.81 100.19 L103.21 100.20 L103.62 100.22 L104.02 100.23 L104.42 100.25 L104.82 100.26 L105.23 100.28 L105.63 100.29 L106.03 100.31 L106.43 100.33 L106.84 100.35 L107.24 100.37 L107.64 100.40 L108.04 100.42 L108.45 100.45 L108.85 100.49 L109.25 100.53 L109.65 100.58 L110.06 100.63 L110.46 100.70 L110.86 100.78 L111.26 100.88 L111.67 101.00 L112.07 101.14 L112.47 101.32 L112.87 101.53 L113.28 101.79 L113.68 102.12 L114.08 102.51 L114.48 102.99 L114.89 103.58 L115.29 104.31 L115.69 105.19 L116.09 106.27 L116.50 107.59 L116.90 109.20 L116.90 97.70Z" fill="#BDBDBD"/>
<rect x="20.7" y="9.5" width="96.20" height="100.00" fill="none" stroke="#484848" stroke-width="0.62"/>
<path d="M20.7 59.2H116.9M20.7 83.2H116.9" stroke="#484848" stroke-width="0.62"/>
<path d="M19.40 56.80h1.3" stroke="#333" stroke-width="0.45"/>
<text transform="matrix(1 0.0005 0 1 18.70 57.99)" font-size="3.3" text-anchor="end" fill="#111" stroke="#111" stroke-width="0.12">0.0</text>
<path d="M19.40 43.03h1.3" stroke="#333" stroke-width="0.45"/>
<text transform="matrix(1 0.0005 0 1 18.70 44.22)" font-size="3.3" text-anchor="end" fill="#111" stroke="#111" stroke-width="0.12">0.2</text>
<path d="M19.40 29.26h1.3" stroke="#333" stroke-width="0.45"/>
<text transform="matrix(1 0.0005 0 1 18.70 30.45)" font-size="3.3" text-anchor="end" fill="#111" stroke="#111" stroke-width="0.12">0.4</text>
<path d="M19.40 15.49h1.3" stroke="#333" stroke-width="0.45"/>
<text transform="matrix(1 0.0005 0 1 18.70 16.68)" font-size="3.3" text-anchor="end" fill="#111" stroke="#111" stroke-width="0.12">0.6</text>
<path d="M19.40 88.50h1.3" stroke="#333" stroke-width="0.45"/>
<text transform="matrix(1 0.0005 0 1 18.70 89.69)" font-size="3.3" text-anchor="end" fill="#111" stroke="#111" stroke-width="0.12">1</text>
<path d="M19.40 97.70h1.3" stroke="#333" stroke-width="0.45"/>
<text transform="matrix(1 0.0005 0 1 18.70 98.89)" font-size="3.3" text-anchor="end" fill="#111" stroke="#111" stroke-width="0.12">0</text>
<path d="M19.40 106.90h1.3" stroke="#333" stroke-width="0.45"/>
<text transform="matrix(1 0.0005 0 1 18.70 108.09)" font-size="3.3" text-anchor="end" fill="#111" stroke="#111" stroke-width="0.12">-1</text>
<path d="M20.70 109.5v1.3" stroke="#333" stroke-width="0.45"/>
<text transform="matrix(1 0.0005 0 1 20.70 115.30)" font-size="4.0" text-anchor="middle" fill="#111" stroke="#111" stroke-width="0.12">0</text>
<path d="M44.11 109.5v1.3" stroke="#333" stroke-width="0.45"/>
<text transform="matrix(1 0.0005 0 1 44.11 115.30)" font-size="4.0" text-anchor="middle" fill="#111" stroke="#111" stroke-width="0.12">3000</text>
<path d="M67.51 109.5v1.3" stroke="#333" stroke-width="0.45"/>
<text transform="matrix(1 0.0005 0 1 67.51 115.30)" font-size="4.0" text-anchor="middle" fill="#111" stroke="#111" stroke-width="0.12">6000</text>
<path d="M90.92 109.5v1.3" stroke="#333" stroke-width="0.45"/>
<text transform="matrix(1 0.0005 0 1 90.92 115.30)" font-size="4.0" text-anchor="middle" fill="#111" stroke="#111" stroke-width="0.12">9000</text>
<path d="M114.33 109.5v1.3" stroke="#333" stroke-width="0.45"/>
<text transform="matrix(1 0.0005 0 1 114.33 115.30)" font-size="4.0" text-anchor="middle" fill="#111" stroke="#111" stroke-width="0.12">12000</text>
<text transform="matrix(1 0.0005 0 1 68.80 120.40)" font-size="4" text-anchor="middle" fill="#111" stroke="#111" stroke-width="0.06">Rank in Ordered Dataset</text>
<text transform="matrix(0.0005 -1 1 0 10.80 34.35)" font-size="4" text-anchor="middle" fill="#111" stroke="#111" stroke-width="0.06">Enrichment Score</text>
<text transform="matrix(0.0005 -1 1 0 11.80 96.35)" font-size="4" text-anchor="middle" fill="#111" stroke="#111" stroke-width="0.06">Ranked list metric</text>
</g>
<g>
<clipPath id="c2"><rect x="146.4" y="9.7" width="95.0" height="49.3"/></clipPath>
<path d="M147.22 59.00v4.72M147.43 59.00v4.72M147.62 59.00v4.72M148.65 59.00v4.72M149.10 59.00v4.72M149.34 59.00v4.72M150.48 59.00v4.72M152.83 59.00v4.72M152.84 59.00v4.72M153.04 59.00v4.72M154.05 59.00v4.72M154.17 59.00v4.72M154.93 59.00v4.72M155.31 59.00v4.72M156.57 59.00v4.72M156.80 59.00v4.72M156.85 59.00v4.72M157.01 59.00v4.72M158.74 59.00v4.72M159.58 59.00v4.72M160.84 59.00v4.72M161.49 59.00v4.72M164.07 59.00v4.72M165.36 59.00v4.72M165.70 59.00v4.72M167.28 59.00v4.72M167.31 59.00v4.72M168.18 59.00v4.72M168.98 59.00v4.72M169.90 59.00v4.72M170.39 59.00v4.72M170.71 59.00v4.72M170.92 59.00v4.72M171.34 59.00v4.72M171.74 59.00v4.72M171.86 59.00v4.72M171.90 59.00v4.72M173.13 59.00v4.72M173.55 59.00v4.72M173.68 59.00v4.72M173.96 59.00v4.72M174.48 59.00v4.72M174.93 59.00v4.72M176.32 59.00v4.72M177.11 59.00v4.72M177.42 59.00v4.72M177.66 59.00v4.72M179.45 59.00v4.72M190.84 59.00v4.72M207.11 59.00v4.72M215.92 59.00v4.72M219.98 59.00v4.72M221.04 59.00v4.72M238.45 59.00v4.72M239.39 59.00v4.72" stroke="#5BB0EC" stroke-width="0.36" stroke-opacity="0.8" fill="none"/>
<path d="M146.65 63.72v4.72M147.45 63.72v4.72M147.48 63.72v4.72M148.02 63.72v4.72M148.41 63.72v4.72M148.43 63.72v4.72M148.48 63.72v4.72M148.76 63.72v4.72M148.81 63.72v4.72M149.95 63.72v4.72M150.84 63.72v4.72M151.49 63.72v4.72M151.57 63.72v4.72M151.79 63.72v4.72M152.34 63.72v4.72M152.74 63.72v4.72M153.13 63.72v4.72M153.14 63.72v4.72M153.45 63.72v4.72M153.65 63.72v4.72M153.95 63.72v4.72M154.08 63.72v4.72M154.72 63.72v4.72M155.09 63.72v4.72M155.23 63.72v4.72M155.44 63.72v4.72M155.62 63.72v4.72M155.71 63.72v4.72M155.72 63.72v4.72M156.02 63.72v4.72M156.04 63.72v4.72M156.43 63.72v4.72M156.68 63.72v4.72M157.02 63.72v4.72M158.27 63.72v4.72M159.51 63.72v4.72M159.82 63.72v4.72M160.14 63.72v4.72M160.22 63.72v4.72M160.61 63.72v4.72M160.89 63.72v4.72M161.74 63.72v4.72M161.89 63.72v4.72M162.06 63.72v4.72M162.54 63.72v4.72M162.84 63.72v4.72M164.95 63.72v4.72M164.95 63.72v4.72M164.97 63.72v4.72M165.53 63.72v4.72M165.65 63.72v4.72M165.67 63.72v4.72M165.76 63.72v4.72M166.07 63.72v4.72M166.21 63.72v4.72M167.75 63.72v4.72M167.82 63.72v4.72M168.30 63.72v4.72M168.57 63.72v4.72M168.61 63.72v4.72M169.30 63.72v4.72M169.38 63.72v4.72M169.58 63.72v4.72M170.09 63.72v4.72M171.58 63.72v4.72M171.76 63.72v4.72M172.30 63.72v4.72M172.77 63.72v4.72M172.85 63.72v4.72M173.07 63.72v4.72M174.03 63.72v4.72M174.06 63.72v4.72M176.71 63.72v4.72M177.06 63.72v4.72M177.12 63.72v4.72M178.20 63.72v4.72M179.23 63.72v4.72M179.23 63.72v4.72M191.08 63.72v4.72M195.05 63.72v4.72M196.19 63.72v4.72M201.98 63.72v4.72M206.45 63.72v4.72M211.38 63.72v4.72M215.34 63.72v4.72M216.19 63.72v4.72M216.40 63.72v4.72M223.76 63.72v4.72M229.08 63.72v4.72M232.06 63.72v4.72" stroke="#EC4B8D" stroke-width="0.36" stroke-opacity="0.62" fill="none"/>
<path d="M146.42 68.44v4.72M146.51 68.44v4.72M147.03 68.44v4.72M147.40 68.44v4.72M147.50 68.44v4.72M147.76 68.44v4.72M147.79 68.44v4.72M148.28 68.44v4.72M148.36 68.44v4.72M148.51 68.44v4.72M148.63 68.44v4.72M150.15 68.44v4.72M151.37 68.44v4.72M151.43 68.44v4.72M152.28 68.44v4.72M152.40 68.44v4.72M152.55 68.44v4.72M153.61 68.44v4.72M153.76 68.44v4.72M153.93 68.44v4.72M154.12 68.44v4.72M154.44 68.44v4.72M154.67 68.44v4.72M155.11 68.44v4.72M155.29 68.44v4.72M155.80 68.44v4.72M156.01 68.44v4.72M156.10 68.44v4.72M156.15 68.44v4.72M156.33 68.44v4.72M156.89 68.44v4.72M158.60 68.44v4.72M159.09 68.44v4.72M159.60 68.44v4.72M159.63 68.44v4.72M160.19 68.44v4.72M161.13 68.44v4.72M161.34 68.44v4.72M161.59 68.44v4.72M164.01 68.44v4.72M164.05 68.44v4.72M164.52 68.44v4.72M164.84 68.44v4.72M164.97 68.44v4.72M166.47 68.44v4.72M167.07 68.44v4.72M167.23 68.44v4.72M167.42 68.44v4.72M167.65 68.44v4.72M167.73 68.44v4.72M168.68 68.44v4.72M170.48 68.44v4.72M171.72 68.44v4.72M172.36 68.44v4.72M172.71 68.44v4.72M172.93 68.44v4.72M173.12 68.44v4.72M173.83 68.44v4.72M174.67 68.44v4.72M175.17 68.44v4.72M175.35 68.44v4.72M175.36 68.44v4.72M176.16 68.44v4.72M177.19 68.44v4.72M178.13 68.44v4.72M178.59 68.44v4.72M181.37 68.44v4.72M193.83 68.44v4.72M195.34 68.44v4.72M200.52 68.44v4.72M204.63 68.44v4.72M207.89 68.44v4.72M217.23 68.44v4.72M217.58 68.44v4.72M218.01 68.44v4.72M219.58 68.44v4.72M229.28 68.44v4.72M230.50 68.44v4.72M239.83 68.44v4.72M240.26 68.44v4.72" stroke="#F4B7BF" stroke-width="0.36" stroke-opacity="0.75" fill="none"/>
<path d="M146.48 73.16v4.72M146.53 73.16v4.72M146.61 73.16v4.72M146.80 73.16v4.72M147.13 73.16v4.72M147.21 73.16v4.72M147.28 73.16v4.72M147.32 73.16v4.72M147.46 73.16v4.72M147.51 73.16v4.72M147.62 73.16v4.72M147.67 73.16v4.72M147.87 73.16v4.72M148.21 73.16v4.72M148.31 73.16v4.72M148.35 73.16v4.72M148.47 73.16v4.72M148.58 73.16v4.72M148.64 73.16v4.72M148.91 73.16v4.72M149.11 73.16v4.72M149.24 73.16v4.72M149.26 73.16v4.72M149.31 73.16v4.72M149.62 73.16v4.72M149.69 73.16v4.72M149.88 73.16v4.72M149.91 73.16v4.72M150.18 73.16v4.72M150.20 73.16v4.72M150.20 73.16v4.72M151.20 73.16v4.72M151.25 73.16v4.72M151.32 73.16v4.72M151.36 73.16v4.72M151.40 73.16v4.72M151.62 73.16v4.72M151.79 73.16v4.72M152.02 73.16v4.72M152.06 73.16v4.72M152.25 73.16v4.72M152.40 73.16v4.72M152.76 73.16v4.72M152.87 73.16v4.72M152.95 73.16v4.72M153.05 73.16v4.72M153.20 73.16v4.72M153.26 73.16v4.72M153.50 73.16v4.72M153.51 73.16v4.72M153.68 73.16v4.72M154.04 73.16v4.72M154.13 73.16v4.72M154.23 73.16v4.72M154.37 73.16v4.72M154.40 73.16v4.72M154.57 73.16v4.72M154.76 73.16v4.72M154.89 73.16v4.72M154.91 73.16v4.72M154.97 73.16v4.72M155.38 73.16v4.72M155.90 73.16v4.72M155.98 73.16v4.72M156.30 73.16v4.72M156.30 73.16v4.72M156.83 73.16v4.72M156.96 73.16v4.72M157.11 73.16v4.72M157.16 73.16v4.72M157.53 73.16v4.72M157.68 73.16v4.72M157.79 73.16v4.72M157.90 73.16v4.72M158.05 73.16v4.72M158.08 73.16v4.72M158.10 73.16v4.72M158.13 73.16v4.72M158.26 73.16v4.72M158.38 73.16v4.72M158.42 73.16v4.72M158.55 73.16v4.72M158.56 73.16v4.72M158.71 73.16v4.72M158.92 73.16v4.72M159.23 73.16v4.72M159.37 73.16v4.72M159.65 73.16v4.72M159.83 73.16v4.72M159.96 73.16v4.72M159.99 73.16v4.72M160.05 73.16v4.72M160.17 73.16v4.72M160.32 73.16v4.72M160.35 73.16v4.72M160.45 73.16v4.72M160.77 73.16v4.72M161.21 73.16v4.72M161.22 73.16v4.72M161.25 73.16v4.72M161.32 73.16v4.72M161.37 73.16v4.72M161.38 73.16v4.72M161.39 73.16v4.72M161.69 73.16v4.72M162.24 73.16v4.72M162.31 73.16v4.72M162.59 73.16v4.72M162.63 73.16v4.72M162.81 73.16v4.72M163.18 73.16v4.72M163.26 73.16v4.72M163.28 73.16v4.72M163.41 73.16v4.72M163.58 73.16v4.72M163.64 73.16v4.72M163.72 73.16v4.72M163.80 73.16v4.72M163.98 73.16v4.72M164.12 73.16v4.72M164.25 73.16v4.72M164.34 73.16v4.72M164.49 73.16v4.72M164.59 73.16v4.72M164.66 73.16v4.72M164.78 73.16v4.72M164.84 73.16v4.72M164.84 73.16v4.72M164.88 73.16v4.72M165.06 73.16v4.72M165.14 73.16v4.72M165.28 73.16v4.72M165.31 73.16v4.72M165.32 73.16v4.72M165.55 73.16v4.72M165.88 73.16v4.72M166.16 73.16v4.72M166.85 73.16v4.72M167.01 73.16v4.72M167.02 73.16v4.72M167.18 73.16v4.72M167.24 73.16v4.72M167.52 73.16v4.72M167.53 73.16v4.72M167.69 73.16v4.72M167.85 73.16v4.72M167.85 73.16v4.72M168.45 73.16v4.72M168.67 73.16v4.72M168.95 73.16v4.72M168.97 73.16v4.72M169.04 73.16v4.72M169.12 73.16v4.72M169.23 73.16v4.72M169.24 73.16v4.72M169.57 73.16v4.72M169.69 73.16v4.72M169.86 73.16v4.72M169.89 73.16v4.72M170.16 73.16v4.72M170.54 73.16v4.72M171.05 73.16v4.72M171.39 73.16v4.72M171.62 73.16v4.72M171.71 73.16v4.72M171.84 73.16v4.72M171.94 73.16v4.72M171.95 73.16v4.72M172.00 73.16v4.72M172.75 73.16v4.72M173.41 73.16v4.72M173.46 73.16v4.72M173.61 73.16v4.72M174.15 73.16v4.72M174.17 73.16v4.72M174.22 73.16v4.72M174.31 73.16v4.72M174.45 73.16v4.72M174.63 73.16v4.72M175.11 73.16v4.72M175.26 73.16v4.72M175.31 73.16v4.72M175.46 73.16v4.72M175.48 73.16v4.72M175.71 73.16v4.72M176.13 73.16v4.72M176.62 73.16v4.72M176.78 73.16v4.72M177.00 73.16v4.72M177.09 73.16v4.72M177.36 73.16v4.72M177.56 73.16v4.72M177.78 73.16v4.72M178.46 73.16v4.72M178.89 73.16v4.72M179.46 73.16v4.72M179.64 73.16v4.72M180.38 73.16v4.72M181.88 73.16v4.72M182.06 73.16v4.72M185.06 73.16v4.72M185.17 73.16v4.72M185.68 73.16v4.72M187.74 73.16v4.72M188.18 73.16v4.72M189.34 73.16v4.72M193.59 73.16v4.72M194.55 73.16v4.72M196.24 73.16v4.72M196.77 73.16v4.72M199.41 73.16v4.72M199.67 73.16v4.72M200.01 73.16v4.72M200.06 73.16v4.72M201.11 73.16v4.72M202.24 73.16v4.72M205.47 73.16v4.72M205.96 73.16v4.72M206.68 73.16v4.72M207.54 73.16v4.72M208.20 73.16v4.72M208.77 73.16v4.72M209.64 73.16v4.72M210.74 73.16v4.72M210.93 73.16v4.72M210.97 73.16v4.72M213.33 73.16v4.72M213.90 73.16v4.72M215.27 73.16v4.72M215.61 73.16v4.72M216.64 73.16v4.72M220.93 73.16v4.72M222.54 73.16v4.72M223.16 73.16v4.72M227.46 73.16v4.72M228.24 73.16v4.72M229.90 73.16v4.72M230.75 73.16v4.72M231.14 73.16v4.72M231.36 73.16v4.72M233.58 73.16v4.72M234.13 73.16v4.72M234.63 73.16v4.72M234.83 73.16v4.72M235.19 73.16v4.72M236.18 73.16v4.72M237.79 73.16v4.72M240.34 73.16v4.72M240.51 73.16v4.72M241.05 73.16v4.72" stroke="#C8A1DA" stroke-width="0.36" stroke-opacity="0.7" fill="none"/>
<path d="M146.56 77.88v4.72M146.99 77.88v4.72M147.50 77.88v4.72M147.58 77.88v4.72M147.75 77.88v4.72M148.03 77.88v4.72M148.03 77.88v4.72M148.52 77.88v4.72M148.97 77.88v4.72M149.31 77.88v4.72M149.42 77.88v4.72M149.50 77.88v4.72M149.57 77.88v4.72M149.57 77.88v4.72M149.60 77.88v4.72M150.44 77.88v4.72M150.49 77.88v4.72M150.62 77.88v4.72M150.63 77.88v4.72M150.66 77.88v4.72M150.71 77.88v4.72M150.76 77.88v4.72M150.93 77.88v4.72M150.94 77.88v4.72M151.33 77.88v4.72M151.74 77.88v4.72M151.79 77.88v4.72M152.37 77.88v4.72M152.61 77.88v4.72M152.66 77.88v4.72M152.74 77.88v4.72M152.88 77.88v4.72M153.09 77.88v4.72M153.21 77.88v4.72M153.52 77.88v4.72M153.63 77.88v4.72M153.66 77.88v4.72M153.70 77.88v4.72M154.05 77.88v4.72M154.33 77.88v4.72M154.48 77.88v4.72M154.52 77.88v4.72M154.78 77.88v4.72M155.15 77.88v4.72M155.18 77.88v4.72M155.44 77.88v4.72M155.55 77.88v4.72M155.59 77.88v4.72M155.85 77.88v4.72M156.08 77.88v4.72M156.09 77.88v4.72M156.18 77.88v4.72M156.84 77.88v4.72M156.85 77.88v4.72M157.08 77.88v4.72M157.29 77.88v4.72M157.40 77.88v4.72M158.16 77.88v4.72M158.34 77.88v4.72M158.44 77.88v4.72M158.90 77.88v4.72M159.05 77.88v4.72M159.62 77.88v4.72M159.68 77.88v4.72M159.90 77.88v4.72M160.17 77.88v4.72M160.53 77.88v4.72M160.93 77.88v4.72M161.69 77.88v4.72M161.88 77.88v4.72M161.97 77.88v4.72M162.31 77.88v4.72M162.76 77.88v4.72M162.88 77.88v4.72M162.91 77.88v4.72M163.36 77.88v4.72M163.46 77.88v4.72M163.48 77.88v4.72M163.50 77.88v4.72M163.56 77.88v4.72M163.97 77.88v4.72M164.10 77.88v4.72M164.87 77.88v4.72M164.96 77.88v4.72M165.13 77.88v4.72M165.14 77.88v4.72M165.58 77.88v4.72M165.94 77.88v4.72M166.06 77.88v4.72M166.44 77.88v4.72M167.35 77.88v4.72M167.63 77.88v4.72M167.81 77.88v4.72M168.05 77.88v4.72M168.38 77.88v4.72M169.70 77.88v4.72M169.91 77.88v4.72M170.50 77.88v4.72M170.57 77.88v4.72M170.67 77.88v4.72M170.81 77.88v4.72M170.92 77.88v4.72M171.04 77.88v4.72M171.90 77.88v4.72M171.98 77.88v4.72M172.09 77.88v4.72M172.28 77.88v4.72M172.31 77.88v4.72M172.34 77.88v4.72M172.64 77.88v4.72M173.13 77.88v4.72M173.74 77.88v4.72M173.96 77.88v4.72M173.99 77.88v4.72M174.09 77.88v4.72M174.35 77.88v4.72M174.79 77.88v4.72M175.02 77.88v4.72M175.36 77.88v4.72M175.41 77.88v4.72M175.82 77.88v4.72M175.93 77.88v4.72M176.03 77.88v4.72M176.32 77.88v4.72M177.09 77.88v4.72M177.83 77.88v4.72M177.86 77.88v4.72M177.93 77.88v4.72M185.17 77.88v4.72M186.69 77.88v4.72M190.66 77.88v4.72M193.98 77.88v4.72M197.35 77.88v4.72M200.36 77.88v4.72M210.55 77.88v4.72M212.30 77.88v4.72M212.78 77.88v4.72M213.67 77.88v4.72M215.47 77.88v4.72M220.18 77.88v4.72M223.36 77.88v4.72M223.47 77.88v4.72M225.06 77.88v4.72M225.15 77.88v4.72M227.09 77.88v4.72M228.52 77.88v4.72M228.84 77.88v4.72M229.06 77.88v4.72M237.55 77.88v4.72M238.53 77.88v4.72" stroke="#5CC5A7" stroke-width="0.36" stroke-opacity="0.6" fill="none"/>
<g clip-path="url(#c2)">
<path d="M146.40 56.50 L146.66 56.68 L146.66 56.35 L146.68 56.37 L146.68 56.03 L146.84 56.14 L146.84 55.81 L146.91 55.86 L146.91 55.52 L146.93 55.54 L146.93 55.21 L146.95 55.22 L146.95 54.88 L146.96 54.89 L146.96 54.56 L147.02 54.61 L147.02 54.27 L147.08 54.31 L147.08 53.98 L147.32 54.15 L147.32 53.81 L147.87 54.20 L147.87 53.87 L148.07 54.01 L148.07 53.68 L148.08 53.68 L148.08 53.35 L148.20 53.43 L148.20 53.10 L148.28 53.16 L148.28 52.82 L148.32 52.85 L148.32 52.52 L148.55 52.68 L148.55 52.34 L148.74 52.48 L148.74 52.15 L148.75 52.16 L148.75 51.82 L149.07 52.05 L149.07 51.71 L149.16 51.77 L149.16 51.44 L149.17 51.45 L149.17 51.12 L149.19 51.13 L149.19 50.80 L149.20 50.80 L149.20 50.47 L149.53 50.70 L149.53 50.37 L149.61 50.42 L149.61 50.09 L149.61 50.09 L149.61 49.76 L149.90 49.96 L149.90 49.63 L149.93 49.65 L149.93 49.32 L150.15 49.47 L150.15 49.14 L150.43 49.33 L150.43 49.00 L150.61 49.13 L150.61 48.79 L150.72 48.87 L150.72 48.54 L150.72 48.54 L150.72 48.21 L150.73 48.21 L150.73 47.88 L150.85 47.96 L150.85 47.63 L150.91 47.67 L150.91 47.34 L150.97 47.38 L150.97 47.05 L151.01 47.08 L151.01 46.74 L151.04 46.76 L151.04 46.43 L151.12 46.49 L151.12 46.16 L151.24 46.24 L151.24 45.91 L151.26 45.92 L151.26 45.58 L151.48 45.74 L151.48 45.41 L151.54 45.45 L151.54 45.11 L151.55 45.12 L151.55 44.79 L151.85 45.00 L151.85 44.67 L152.03 44.79 L152.03 44.46 L152.11 44.51 L152.11 44.18 L152.13 44.20 L152.13 43.86 L152.21 43.92 L152.21 43.59 L152.39 43.72 L152.39 43.38 L152.42 43.40 L152.42 43.07 L152.44 43.08 L152.44 42.75 L152.56 42.84 L152.56 42.50 L152.57 42.51 L152.57 42.17 L152.79 42.33 L152.79 42.00 L152.81 42.01 L152.81 41.68 L152.93 41.76 L152.93 41.42 L152.96 41.45 L152.96 41.11 L152.96 41.12 L152.96 40.78 L153.13 40.90 L153.13 40.57 L153.31 40.69 L153.31 40.36 L153.46 40.47 L153.46 40.13 L153.46 40.14 L153.46 39.80 L153.52 39.85 L153.52 39.51 L153.68 39.62 L153.68 39.29 L154.05 39.55 L154.05 39.21 L154.06 39.22 L154.06 38.89 L154.06 38.89 L154.06 38.56 L154.06 38.56 L154.06 38.23 L154.34 38.42 L154.34 38.08 L154.52 38.22 L154.52 37.88 L154.75 38.04 L154.75 37.71 L154.92 37.83 L154.92 37.49 L155.07 37.60 L155.07 37.26 L155.11 37.29 L155.11 36.96 L155.23 37.04 L155.23 36.71 L155.23 36.71 L155.23 36.38 L155.35 36.46 L155.35 36.13 L155.50 36.23 L155.50 35.90 L155.56 35.94 L155.56 35.61 L155.67 35.69 L155.67 35.36 L156.04 35.62 L156.04 35.28 L156.06 35.30 L156.06 34.96 L156.26 35.10 L156.26 34.77 L156.28 34.79 L156.28 34.45 L156.30 34.47 L156.30 34.14 L156.53 34.29 L156.53 33.96 L156.64 34.04 L156.64 33.71 L156.68 33.73 L156.68 33.40 L157.02 33.64 L157.02 33.31 L157.12 33.38 L157.12 33.05 L157.38 33.22 L157.38 32.89 L157.45 32.94 L157.45 32.61 L157.57 32.69 L157.57 32.36 L157.64 32.40 L157.64 32.07 L157.73 32.13 L157.73 31.80 L157.77 31.83 L157.77 31.50 L157.80 31.52 L157.80 31.18 L157.90 31.26 L157.90 30.93 L157.95 30.96 L157.95 30.62 L158.06 30.70 L158.06 30.37 L158.16 30.44 L158.16 30.11 L158.26 30.18 L158.26 29.84 L158.33 29.90 L158.33 29.56 L158.36 29.58 L158.36 29.25 L158.46 29.32 L158.46 28.98 L158.59 29.08 L158.59 28.74 L159.01 29.04 L159.01 28.70 L159.31 28.91 L159.31 28.58 L159.31 28.58 L159.31 28.25 L159.45 28.35 L159.45 28.02 L159.65 28.15 L159.65 27.82 L159.66 27.83 L159.66 27.50 L159.77 27.57 L159.77 27.24 L159.78 27.25 L159.78 26.91 L159.97 27.05 L159.97 26.72 L160.17 26.85 L160.17 26.52 L160.23 26.56 L160.23 26.23 L160.42 26.36 L160.42 26.03 L160.50 26.09 L160.50 25.75 L160.52 25.77 L160.52 25.44 L160.56 25.46 L160.56 25.13 L160.80 25.30 L160.80 24.97 L160.88 25.02 L160.88 24.69 L161.09 24.84 L161.09 24.50 L161.26 24.62 L161.26 24.29 L161.35 24.35 L161.35 24.02 L161.75 24.29 L161.75 23.96 L162.21 24.29 L162.21 23.96 L162.26 23.99 L162.26 23.66 L162.38 23.74 L162.38 23.41 L162.53 23.51 L162.53 23.18 L163.02 23.52 L163.02 23.19 L163.19 23.31 L163.19 22.98 L163.32 23.07 L163.32 22.74 L163.40 22.79 L163.40 22.46 L163.86 22.78 L163.86 22.45 L163.90 22.47 L163.90 22.14 L163.93 22.17 L163.93 21.83 L164.05 21.92 L164.05 21.58 L164.95 22.21 L164.95 21.88 L165.01 21.92 L165.01 21.59 L165.76 22.12 L165.76 21.78 L165.99 21.94 L165.99 21.61 L166.10 21.69 L166.10 21.35 L167.07 22.03 L167.07 21.70 L167.39 21.92 L167.39 21.59 L167.46 21.64 L167.46 21.31 L167.55 21.37 L167.55 21.04 L168.30 21.56 L168.30 21.23 L168.35 21.27 L168.35 20.93 L168.79 21.24 L168.79 20.91 L168.87 20.96 L168.87 20.63 L169.17 20.84 L169.17 20.51 L169.32 20.62 L169.32 20.28 L169.40 20.34 L169.40 20.00 L169.56 20.11 L169.56 19.78 L169.64 19.84 L169.64 19.51 L170.15 19.86 L170.15 19.53 L170.19 19.56 L170.19 19.23 L170.30 19.30 L170.30 18.97 L170.94 19.42 L170.94 19.08 L171.01 19.13 L171.01 18.80 L171.09 18.86 L171.09 18.53 L171.46 18.78 L171.46 18.45 L171.61 18.55 L171.61 18.22 L171.76 18.33 L171.76 17.99 L172.12 18.25 L172.12 17.91 L172.13 17.92 L172.13 17.59 L172.38 17.76 L172.38 17.43 L172.50 17.52 L172.50 17.18 L172.78 17.38 L172.78 17.04 L173.04 17.23 L173.04 16.90 L173.41 17.16 L173.41 16.82 L173.74 17.05 L173.74 16.72 L173.89 16.82 L173.89 16.49 L173.91 16.50 L173.91 16.17 L174.32 16.46 L174.32 16.13 L174.56 16.30 L174.56 15.96 L175.20 16.41 L175.20 16.08 L175.42 16.23 L175.42 15.90 L188.81 25.28 L188.81 24.95 L200.90 33.43 L200.90 33.10 L201.68 33.64 L201.68 33.31 L203.27 34.42 L203.27 34.09 L203.30 34.11 L203.30 33.78 L213.05 40.62 L213.05 40.29 L219.41 44.75 L219.41 44.42 L224.40 47.91 L224.40 47.58 L227.78 49.95 L227.78 49.62 L229.13 50.56 L229.13 50.23 L230.56 51.23 L230.56 50.90 L231.12 51.29 L231.12 50.96 L231.42 51.17 L231.42 50.83 L235.08 53.40 L235.08 53.07 L236.76 54.24 L236.76 53.91 L238.13 54.87 L238.13 54.54 L241.06 56.59 L241.06 56.26 L241.40 56.50" stroke="#5BB0EC" stroke-width="0.42" fill="none" stroke-linejoin="round"/>
<path d="M146.40 56.50 L146.48 56.56 L146.48 56.23 L146.52 56.26 L146.52 55.93 L146.72 56.07 L146.72 55.75 L146.87 55.85 L146.87 55.53 L146.87 55.53 L146.87 55.20 L146.96 55.27 L146.96 54.94 L146.97 54.95 L146.97 54.63 L147.11 54.72 L147.11 54.39 L147.11 54.40 L147.11 54.08 L147.21 54.14 L147.21 53.82 L147.58 54.07 L147.58 53.75 L147.62 53.77 L147.62 53.45 L147.66 53.48 L147.66 53.16 L147.92 53.33 L147.92 53.01 L148.13 53.15 L148.13 52.83 L148.14 52.83 L148.14 52.51 L148.23 52.57 L148.23 52.25 L148.33 52.32 L148.33 51.99 L148.41 52.05 L148.41 51.73 L148.42 51.73 L148.42 51.41 L148.58 51.52 L148.58 51.20 L148.72 51.29 L148.72 50.97 L148.75 50.99 L148.75 50.66 L148.80 50.70 L148.80 50.37 L148.94 50.47 L148.94 50.14 L149.21 50.33 L149.21 50.00 L149.32 50.08 L149.32 49.75 L149.49 49.87 L149.49 49.55 L149.52 49.57 L149.52 49.25 L149.54 49.26 L149.54 48.94 L149.66 49.02 L149.66 48.70 L149.80 48.79 L149.80 48.47 L149.88 48.52 L149.88 48.20 L149.99 48.27 L149.99 47.95 L150.02 47.97 L150.02 47.65 L150.12 47.72 L150.12 47.39 L150.27 47.49 L150.27 47.17 L150.55 47.36 L150.55 47.04 L150.74 47.17 L150.74 46.84 L150.75 46.85 L150.75 46.53 L150.81 46.57 L150.81 46.25 L150.89 46.30 L150.89 45.98 L151.06 46.09 L151.06 45.77 L151.14 45.82 L151.14 45.50 L151.38 45.67 L151.38 45.34 L151.48 45.41 L151.48 45.08 L151.54 45.13 L151.54 44.81 L151.64 44.87 L151.64 44.55 L151.77 44.64 L151.77 44.31 L151.80 44.33 L151.80 44.01 L151.81 44.01 L151.81 43.69 L151.90 43.75 L151.90 43.43 L152.20 43.63 L152.20 43.31 L152.21 43.32 L152.21 43.00 L152.43 43.14 L152.43 42.82 L152.63 42.95 L152.63 42.63 L152.89 42.81 L152.89 42.49 L152.91 42.50 L152.91 42.18 L152.99 42.23 L152.99 41.91 L153.15 42.02 L153.15 41.69 L153.17 41.71 L153.17 41.39 L153.21 41.41 L153.21 41.09 L153.28 41.14 L153.28 40.82 L153.38 40.88 L153.38 40.56 L153.62 40.72 L153.62 40.40 L153.62 40.40 L153.62 40.08 L153.94 40.29 L153.94 39.97 L154.17 40.13 L154.17 39.80 L154.32 39.90 L154.32 39.58 L154.34 39.59 L154.34 39.27 L154.39 39.31 L154.39 38.98 L154.40 38.99 L154.40 38.67 L154.48 38.72 L154.48 38.40 L154.61 38.49 L154.61 38.16 L154.65 38.19 L154.65 37.86 L154.82 37.98 L154.82 37.66 L154.99 37.77 L154.99 37.45 L155.06 37.50 L155.06 37.17 L155.14 37.23 L155.14 36.90 L155.25 36.98 L155.25 36.66 L155.33 36.71 L155.33 36.39 L155.35 36.40 L155.35 36.08 L155.37 36.09 L155.37 35.77 L155.46 35.83 L155.46 35.51 L155.64 35.63 L155.64 35.31 L155.85 35.45 L155.85 35.12 L155.85 35.13 L155.85 34.80 L156.10 34.97 L156.10 34.65 L156.13 34.67 L156.13 34.35 L156.30 34.46 L156.30 34.14 L156.69 34.41 L156.69 34.08 L156.74 34.12 L156.74 33.79 L156.81 33.84 L156.81 33.51 L157.23 33.80 L157.23 33.48 L157.47 33.64 L157.47 33.32 L157.76 33.52 L157.76 33.20 L157.83 33.24 L157.83 32.91 L158.09 33.09 L158.09 32.77 L158.12 32.79 L158.12 32.47 L158.41 32.66 L158.41 32.34 L158.43 32.36 L158.43 32.03 L158.45 32.05 L158.45 31.72 L158.62 31.84 L158.62 31.52 L158.83 31.65 L158.83 31.33 L158.88 31.37 L158.88 31.05 L158.93 31.08 L158.93 30.76 L159.24 30.97 L159.24 30.65 L159.27 30.66 L159.27 30.34 L159.30 30.36 L159.30 30.03 L159.45 30.14 L159.45 29.81 L159.47 29.83 L159.47 29.50 L159.54 29.56 L159.54 29.23 L159.57 29.25 L159.57 28.93 L159.80 29.09 L159.80 28.76 L159.86 28.80 L159.86 28.48 L160.11 28.65 L160.11 28.33 L160.20 28.38 L160.20 28.06 L160.25 28.10 L160.25 27.77 L160.40 27.88 L160.40 27.55 L160.46 27.59 L160.46 27.27 L160.50 27.30 L160.50 26.98 L160.65 27.07 L160.65 26.75 L160.71 26.80 L160.71 26.47 L160.83 26.55 L160.83 26.23 L160.94 26.30 L160.94 25.98 L161.29 26.22 L161.29 25.90 L161.31 25.91 L161.31 25.58 L161.32 25.59 L161.32 25.27 L161.40 25.33 L161.40 25.00 L161.54 25.10 L161.54 24.77 L161.55 24.78 L161.55 24.45 L161.57 24.47 L161.57 24.15 L161.63 24.19 L161.63 23.86 L161.66 23.88 L161.66 23.56 L161.74 23.61 L161.74 23.29 L161.90 23.40 L161.90 23.08 L162.21 23.28 L162.21 22.96 L162.22 22.97 L162.22 22.65 L162.45 22.81 L162.45 22.48 L162.46 22.49 L162.46 22.17 L162.62 22.28 L162.62 21.95 L162.71 22.01 L162.71 21.69 L162.82 21.77 L162.82 21.44 L162.84 21.45 L162.84 21.13 L162.92 21.18 L162.92 20.86 L163.09 20.97 L163.09 20.65 L163.50 20.93 L163.50 20.61 L163.52 20.63 L163.52 20.30 L163.79 20.48 L163.79 20.16 L163.96 20.27 L163.96 19.95 L164.30 20.18 L164.30 19.86 L164.56 20.03 L164.56 19.71 L164.60 19.74 L164.60 19.42 L164.67 19.47 L164.67 19.14 L164.90 19.30 L164.90 18.97 L165.11 19.12 L165.11 18.80 L165.15 18.82 L165.15 18.50 L165.18 18.52 L165.18 18.20 L165.56 18.46 L165.56 18.13 L165.65 18.19 L165.65 17.87 L165.76 17.94 L165.76 17.62 L165.92 17.73 L165.92 17.41 L166.09 17.52 L166.09 17.20 L166.13 17.23 L166.13 16.90 L166.36 17.06 L166.36 16.74 L166.60 16.90 L166.60 16.58 L166.62 16.59 L166.62 16.27 L166.65 16.29 L166.65 15.96 L166.94 16.16 L166.94 15.84 L166.95 15.84 L166.95 15.52 L167.38 15.82 L167.38 15.49 L167.40 15.50 L167.40 15.18 L167.71 15.39 L167.71 15.07 L167.75 15.10 L167.75 14.77 L167.84 14.84 L167.84 14.51 L167.87 14.53 L167.87 14.21 L168.15 14.40 L168.15 14.07 L168.32 14.19 L168.32 13.87 L168.66 14.10 L168.66 13.77 L168.71 13.81 L168.71 13.48 L168.71 13.49 L168.71 13.16 L169.01 13.37 L169.01 13.04 L169.25 13.21 L169.25 12.88 L170.06 13.43 L170.06 13.11 L170.60 13.48 L170.60 13.16 L170.61 13.16 L170.61 12.84 L171.04 13.13 L171.04 12.81 L171.34 13.01 L171.34 12.69 L171.66 12.91 L171.66 12.58 L172.88 13.41 L172.88 13.09 L173.00 13.17 L173.00 12.85 L173.01 12.86 L173.01 12.53 L173.43 12.82 L173.43 12.50 L173.76 12.72 L173.76 12.40 L174.40 12.83 L174.40 12.51 L175.27 13.10 L175.27 12.78 L176.03 13.29 L176.03 12.97 L200.16 29.40 L200.16 29.07 L208.02 34.42 L208.02 34.10 L241.38 56.81 L241.38 56.48 L241.40 56.50" stroke="#EC4B8D" stroke-width="0.42" fill="none" stroke-linejoin="round"/>
<path d="M146.40 56.50 L146.41 56.51 L146.41 56.18 L146.45 56.21 L146.45 55.89 L146.55 55.95 L146.55 55.63 L146.63 55.69 L146.63 55.36 L146.85 55.51 L146.85 55.19 L147.00 55.29 L147.00 54.97 L147.06 55.01 L147.06 54.68 L147.06 54.68 L147.06 54.36 L147.09 54.38 L147.09 54.06 L147.14 54.09 L147.14 53.77 L147.16 53.78 L147.16 53.46 L147.16 53.46 L147.16 53.14 L147.21 53.17 L147.21 52.85 L147.23 52.86 L147.23 52.53 L147.27 52.56 L147.27 52.24 L147.30 52.26 L147.30 51.94 L147.36 51.98 L147.36 51.66 L147.53 51.77 L147.53 51.44 L147.65 51.53 L147.65 51.20 L147.76 51.28 L147.76 50.95 L147.83 51.00 L147.83 50.68 L147.90 50.73 L147.90 50.40 L147.95 50.43 L147.95 50.11 L148.14 50.24 L148.14 49.92 L148.20 49.96 L148.20 49.63 L148.34 49.73 L148.34 49.41 L148.39 49.44 L148.39 49.12 L148.70 49.33 L148.70 49.01 L148.73 49.03 L148.73 48.70 L148.82 48.76 L148.82 48.44 L148.91 48.50 L148.91 48.18 L148.98 48.22 L148.98 47.90 L149.05 47.95 L149.05 47.63 L149.05 47.63 L149.05 47.30 L149.22 47.42 L149.22 47.09 L149.26 47.13 L149.26 46.80 L149.33 46.85 L149.33 46.52 L149.59 46.70 L149.59 46.37 L149.71 46.46 L149.71 46.13 L149.74 46.16 L149.74 45.83 L149.80 45.87 L149.80 45.55 L149.81 45.56 L149.81 45.23 L149.82 45.24 L149.82 44.92 L150.03 45.06 L150.03 44.73 L150.10 44.78 L150.10 44.46 L150.24 44.56 L150.24 44.23 L150.63 44.50 L150.63 44.17 L150.63 44.18 L150.63 43.85 L150.70 43.90 L150.70 43.57 L150.83 43.66 L150.83 43.34 L150.91 43.39 L150.91 43.07 L150.96 43.10 L150.96 42.78 L151.61 43.23 L151.61 42.90 L151.85 43.06 L151.85 42.74 L151.95 42.81 L151.95 42.48 L151.96 42.49 L151.96 42.17 L151.99 42.19 L151.99 41.86 L152.01 41.88 L152.01 41.56 L152.04 41.58 L152.04 41.25 L152.19 41.35 L152.19 41.03 L152.53 41.26 L152.53 40.94 L152.54 40.95 L152.54 40.62 L152.57 40.64 L152.57 40.31 L152.68 40.39 L152.68 40.07 L152.75 40.12 L152.75 39.79 L152.83 39.85 L152.83 39.52 L152.92 39.59 L152.92 39.26 L152.96 39.29 L152.96 38.97 L153.03 39.01 L153.03 38.69 L153.06 38.71 L153.06 38.38 L153.06 38.39 L153.06 38.06 L153.09 38.08 L153.09 37.76 L153.15 37.80 L153.15 37.48 L153.15 37.48 L153.15 37.15 L153.21 37.19 L153.21 36.87 L153.25 36.89 L153.25 36.57 L153.30 36.61 L153.30 36.29 L153.38 36.34 L153.38 36.02 L153.55 36.13 L153.55 35.81 L153.58 35.83 L153.58 35.50 L153.82 35.66 L153.82 35.34 L153.98 35.46 L153.98 35.13 L154.02 35.15 L154.02 34.83 L154.16 34.93 L154.16 34.60 L154.45 34.80 L154.45 34.48 L154.48 34.50 L154.48 34.18 L154.73 34.35 L154.73 34.03 L154.99 34.20 L154.99 33.88 L155.00 33.89 L155.00 33.56 L155.01 33.57 L155.01 33.24 L155.27 33.42 L155.27 33.10 L155.45 33.22 L155.45 32.89 L155.62 33.01 L155.62 32.69 L155.67 32.72 L155.67 32.40 L155.81 32.49 L155.81 32.17 L155.84 32.19 L155.84 31.87 L155.97 31.95 L155.97 31.63 L155.97 31.63 L155.97 31.31 L156.00 31.32 L156.00 31.00 L156.02 31.02 L156.02 30.70 L156.36 30.93 L156.36 30.60 L156.53 30.72 L156.53 30.39 L156.67 30.49 L156.67 30.16 L156.75 30.22 L156.75 29.90 L157.03 30.09 L157.03 29.76 L157.09 29.80 L157.09 29.48 L157.31 29.63 L157.31 29.31 L157.97 29.76 L157.97 29.43 L157.97 29.43 L157.97 29.11 L158.23 29.29 L158.23 28.97 L158.27 28.99 L158.27 28.67 L158.29 28.68 L158.29 28.36 L158.30 28.36 L158.30 28.04 L158.43 28.13 L158.43 27.80 L158.44 27.81 L158.44 27.49 L158.52 27.54 L158.52 27.22 L158.93 27.50 L158.93 27.17 L159.18 27.35 L159.18 27.02 L159.45 27.21 L159.45 26.88 L159.58 26.97 L159.58 26.65 L159.76 26.77 L159.76 26.45 L159.84 26.50 L159.84 26.18 L159.92 26.23 L159.92 25.91 L159.96 25.94 L159.96 25.61 L160.09 25.70 L160.09 25.38 L160.10 25.38 L160.10 25.06 L160.22 25.14 L160.22 24.82 L160.66 25.12 L160.66 24.79 L160.66 24.80 L160.66 24.47 L160.69 24.49 L160.69 24.17 L160.70 24.18 L160.70 23.85 L160.73 23.87 L160.73 23.55 L160.83 23.62 L160.83 23.29 L161.37 23.66 L161.37 23.34 L161.74 23.59 L161.74 23.26 L161.76 23.28 L161.76 22.95 L161.99 23.11 L161.99 22.79 L162.15 22.90 L162.15 22.58 L162.22 22.62 L162.22 22.30 L162.22 22.30 L162.22 21.98 L162.38 22.08 L162.38 21.76 L162.56 21.88 L162.56 21.56 L162.57 21.57 L162.57 21.24 L162.95 21.50 L162.95 21.18 L163.38 21.47 L163.38 21.15 L163.65 21.33 L163.65 21.00 L163.69 21.04 L163.69 20.71 L163.95 20.89 L163.95 20.57 L164.21 20.74 L164.21 20.41 L164.81 20.83 L164.81 20.50 L164.96 20.60 L164.96 20.28 L165.15 20.41 L165.15 20.09 L165.37 20.24 L165.37 19.91 L165.41 19.94 L165.41 19.62 L165.45 19.64 L165.45 19.32 L165.62 19.44 L165.62 19.12 L166.10 19.44 L166.10 19.11 L166.33 19.27 L166.33 18.95 L166.50 19.06 L166.50 18.74 L166.53 18.77 L166.53 18.44 L166.65 18.52 L166.65 18.20 L167.45 18.74 L167.45 18.41 L167.52 18.47 L167.52 18.14 L167.67 18.25 L167.67 17.92 L167.71 17.95 L167.71 17.62 L168.85 18.40 L168.85 18.08 L169.58 18.58 L169.58 18.25 L169.71 18.34 L169.71 18.01 L169.83 18.10 L169.83 17.78 L170.04 17.92 L170.04 17.60 L170.52 17.92 L170.52 17.60 L170.68 17.71 L170.68 17.38 L170.74 17.43 L170.74 17.10 L171.03 17.30 L171.03 16.98 L171.51 17.30 L171.51 16.97 L172.36 17.55 L172.36 17.23 L172.39 17.26 L172.39 16.93 L172.92 17.29 L172.92 16.96 L172.95 16.99 L172.95 16.67 L174.52 17.73 L174.52 17.41 L174.84 17.63 L174.84 17.30 L174.92 17.36 L174.92 17.04 L175.18 17.21 L175.18 16.89 L175.23 16.92 L175.23 16.60 L176.17 17.24 L176.17 16.92 L181.67 20.66 L181.67 20.34 L183.66 21.69 L183.66 21.37 L184.15 21.70 L184.15 21.38 L184.43 21.57 L184.43 21.25 L186.14 22.41 L186.14 22.09 L188.69 23.83 L188.69 23.50 L189.38 23.98 L189.38 23.65 L197.23 29.00 L197.23 28.67 L202.61 32.34 L202.61 32.02 L207.92 35.63 L207.92 35.31 L212.18 38.21 L212.18 37.89 L216.89 41.10 L216.89 40.77 L221.13 43.66 L221.13 43.34 L224.02 45.30 L224.02 44.98 L239.17 55.30 L239.17 54.98 L241.40 56.50" stroke="#F4B7BF" stroke-width="0.42" fill="none" stroke-linejoin="round"/>
<path d="M146.40 56.50 L146.40 56.50 L146.40 56.29 L146.44 56.32 L146.44 56.10 L146.58 56.19 L146.58 55.98 L146.66 56.03 L146.66 55.82 L146.70 55.84 L146.70 55.63 L146.75 55.67 L146.75 55.45 L146.81 55.49 L146.81 55.28 L146.83 55.29 L146.83 55.08 L146.84 55.08 L146.84 54.87 L146.85 54.87 L146.85 54.66 L146.87 54.67 L146.87 54.46 L146.88 54.47 L146.88 54.26 L146.89 54.26 L146.89 54.05 L146.91 54.06 L146.91 53.85 L146.97 53.89 L146.97 53.68 L146.98 53.68 L146.98 53.47 L147.04 53.51 L147.04 53.29 L147.10 53.33 L147.10 53.12 L147.20 53.19 L147.20 52.97 L147.24 53.00 L147.24 52.79 L147.31 52.83 L147.31 52.62 L147.32 52.62 L147.32 52.41 L147.44 52.49 L147.44 52.28 L147.47 52.30 L147.47 52.09 L147.49 52.09 L147.49 51.88 L147.51 51.90 L147.51 51.68 L147.51 51.68 L147.51 51.47 L147.52 51.47 L147.52 51.26 L147.62 51.33 L147.62 51.11 L147.65 51.13 L147.65 50.92 L147.67 50.93 L147.67 50.72 L147.68 50.73 L147.68 50.51 L147.73 50.54 L147.73 50.33 L147.76 50.35 L147.76 50.14 L147.84 50.19 L147.84 49.98 L147.92 50.04 L147.92 49.82 L147.99 49.87 L147.99 49.65 L148.01 49.66 L148.01 49.45 L148.24 49.61 L148.24 49.39 L148.29 49.43 L148.29 49.21 L148.33 49.24 L148.33 49.02 L148.37 49.05 L148.37 48.84 L148.39 48.85 L148.39 48.64 L148.42 48.66 L148.42 48.44 L148.43 48.45 L148.43 48.23 L148.49 48.27 L148.49 48.06 L148.59 48.13 L148.59 47.91 L148.66 47.96 L148.66 47.75 L148.67 47.75 L148.67 47.54 L148.73 47.58 L148.73 47.37 L148.78 47.40 L148.78 47.19 L148.87 47.25 L148.87 47.04 L148.89 47.05 L148.89 46.84 L149.06 46.95 L149.06 46.74 L149.11 46.77 L149.11 46.56 L149.23 46.63 L149.23 46.42 L149.32 46.48 L149.32 46.27 L149.39 46.32 L149.39 46.10 L149.53 46.20 L149.53 45.98 L149.97 46.28 L149.97 46.07 L150.02 46.10 L150.02 45.88 L150.06 45.91 L150.06 45.69 L150.16 45.76 L150.16 45.55 L150.23 45.60 L150.23 45.38 L150.24 45.39 L150.24 45.18 L150.40 45.29 L150.40 45.07 L150.47 45.12 L150.47 44.90 L150.47 44.91 L150.47 44.69 L150.55 44.74 L150.55 44.53 L150.61 44.57 L150.61 44.35 L150.62 44.36 L150.62 44.15 L150.67 44.18 L150.67 43.97 L150.79 44.05 L150.79 43.83 L150.86 43.88 L150.86 43.67 L150.95 43.73 L150.95 43.52 L150.96 43.52 L150.96 43.31 L151.00 43.33 L151.00 43.12 L151.00 43.12 L151.00 42.91 L151.06 42.95 L151.06 42.73 L151.07 42.74 L151.07 42.53 L151.07 42.53 L151.07 42.31 L151.08 42.32 L151.08 42.10 L151.12 42.13 L151.12 41.92 L151.12 41.92 L151.12 41.71 L151.18 41.74 L151.18 41.53 L151.24 41.57 L151.24 41.35 L151.52 41.54 L151.52 41.33 L151.52 41.33 L151.52 41.12 L151.57 41.15 L151.57 40.94 L151.60 40.95 L151.60 40.74 L151.60 40.74 L151.60 40.53 L151.72 40.61 L151.72 40.39 L151.75 40.42 L151.75 40.20 L151.85 40.27 L151.85 40.06 L151.96 40.13 L151.96 39.92 L152.12 40.02 L152.12 39.81 L152.20 39.87 L152.20 39.65 L152.23 39.67 L152.23 39.45 L152.29 39.49 L152.29 39.28 L152.41 39.36 L152.41 39.15 L152.52 39.22 L152.52 39.01 L152.52 39.01 L152.52 38.80 L152.53 38.80 L152.53 38.59 L152.54 38.60 L152.54 38.38 L152.63 38.44 L152.63 38.23 L152.77 38.32 L152.77 38.11 L152.93 38.22 L152.93 38.00 L153.11 38.12 L153.11 37.91 L153.12 37.91 L153.12 37.70 L153.13 37.71 L153.13 37.49 L153.15 37.51 L153.15 37.29 L153.16 37.30 L153.16 37.08 L153.18 37.10 L153.18 36.89 L153.29 36.96 L153.29 36.75 L153.39 36.82 L153.39 36.60 L153.62 36.75 L153.62 36.54 L153.65 36.56 L153.65 36.34 L153.73 36.40 L153.73 36.19 L153.76 36.21 L153.76 36.00 L153.84 36.05 L153.84 35.83 L153.90 35.87 L153.90 35.66 L154.25 35.90 L154.25 35.68 L154.31 35.72 L154.31 35.51 L154.45 35.60 L154.45 35.39 L154.48 35.41 L154.48 35.20 L154.78 35.40 L154.78 35.18 L154.91 35.27 L154.91 35.06 L155.03 35.14 L155.03 34.92 L155.09 34.97 L155.09 34.75 L155.30 34.89 L155.30 34.68 L155.44 34.77 L155.44 34.56 L155.60 34.67 L155.60 34.45 L155.67 34.50 L155.67 34.28 L155.72 34.32 L155.72 34.11 L155.94 34.26 L155.94 34.04 L155.99 34.08 L155.99 33.86 L156.08 33.92 L156.08 33.71 L156.14 33.75 L156.14 33.53 L156.16 33.55 L156.16 33.33 L156.21 33.37 L156.21 33.15 L156.33 33.23 L156.33 33.02 L156.38 33.05 L156.38 32.84 L156.65 33.02 L156.65 32.81 L156.68 32.83 L156.68 32.61 L156.68 32.62 L156.68 32.40 L156.72 32.43 L156.72 32.21 L156.77 32.24 L156.77 32.03 L156.77 32.03 L156.77 31.82 L156.82 31.85 L156.82 31.64 L156.94 31.72 L156.94 31.50 L156.94 31.51 L156.94 31.29 L157.07 31.38 L157.07 31.17 L157.09 31.17 L157.09 30.96 L157.15 31.01 L157.15 30.79 L157.81 31.24 L157.81 31.02 L157.86 31.06 L157.86 30.84 L158.03 30.96 L158.03 30.74 L158.08 30.78 L158.08 30.56 L158.31 30.71 L158.31 30.50 L158.49 30.63 L158.49 30.41 L158.58 30.47 L158.58 30.26 L158.59 30.26 L158.59 30.05 L158.63 30.08 L158.63 29.86 L158.64 29.87 L158.64 29.66 L158.68 29.69 L158.68 29.47 L158.84 29.58 L158.84 29.36 L158.89 29.40 L158.89 29.18 L158.94 29.21 L158.94 29.00 L158.98 29.03 L158.98 28.81 L159.03 28.85 L159.03 28.64 L159.16 28.72 L159.16 28.51 L159.35 28.63 L159.35 28.42 L159.68 28.64 L159.68 28.43 L159.78 28.50 L159.78 28.29 L159.87 28.35 L159.87 28.13 L159.97 28.20 L159.97 27.99 L160.02 28.02 L160.02 27.80 L160.10 27.86 L160.10 27.65 L160.13 27.66 L160.13 27.45 L160.14 27.46 L160.14 27.24 L160.20 27.28 L160.20 27.07 L160.21 27.08 L160.21 26.86 L160.32 26.94 L160.32 26.72 L160.34 26.74 L160.34 26.52 L160.37 26.54 L160.37 26.33 L160.47 26.40 L160.47 26.18 L160.51 26.21 L160.51 26.00 L160.60 26.05 L160.60 25.84 L160.66 25.88 L160.66 25.67 L160.77 25.74 L160.77 25.53 L160.86 25.59 L160.86 25.37 L161.05 25.50 L161.05 25.29 L161.10 25.33 L161.10 25.11 L161.18 25.16 L161.18 24.95 L161.24 24.99 L161.24 24.77 L161.26 24.79 L161.26 24.58 L161.47 24.71 L161.47 24.50 L161.52 24.54 L161.52 24.32 L161.58 24.37 L161.58 24.15 L161.59 24.15 L161.59 23.94 L161.67 23.99 L161.67 23.78 L161.89 23.93 L161.89 23.72 L161.90 23.72 L161.90 23.51 L161.90 23.51 L161.90 23.30 L162.00 23.36 L162.00 23.15 L162.48 23.47 L162.48 23.26 L162.65 23.37 L162.65 23.16 L162.79 23.25 L162.79 23.04 L163.06 23.22 L163.06 23.01 L163.25 23.14 L163.25 22.93 L163.26 22.93 L163.26 22.72 L163.36 22.78 L163.36 22.57 L163.45 22.63 L163.45 22.42 L163.66 22.56 L163.66 22.34 L163.75 22.40 L163.75 22.19 L163.89 22.29 L163.89 22.07 L164.15 22.25 L164.15 22.03 L164.29 22.13 L164.29 21.91 L164.35 21.95 L164.35 21.74 L164.41 21.78 L164.41 21.56 L164.51 21.63 L164.51 21.42 L164.54 21.44 L164.54 21.23 L164.71 21.34 L164.71 21.13 L164.85 21.22 L164.85 21.00 L164.92 21.05 L164.92 20.84 L164.99 20.89 L164.99 20.68 L165.20 20.82 L165.20 20.60 L165.40 20.73 L165.40 20.52 L165.57 20.63 L165.57 20.42 L165.70 20.51 L165.70 20.29 L165.80 20.36 L165.80 20.15 L165.90 20.22 L165.90 20.00 L166.03 20.09 L166.03 19.88 L166.15 19.96 L166.15 19.74 L166.39 19.90 L166.39 19.69 L166.46 19.74 L166.46 19.52 L166.61 19.63 L166.61 19.41 L166.81 19.55 L166.81 19.33 L166.86 19.36 L166.86 19.15 L166.95 19.22 L166.95 19.00 L167.02 19.05 L167.02 18.83 L167.35 19.06 L167.35 18.84 L167.38 18.86 L167.38 18.65 L167.38 18.65 L167.38 18.44 L167.39 18.44 L167.39 18.22 L167.59 18.36 L167.59 18.15 L167.80 18.29 L167.80 18.07 L168.28 18.40 L168.28 18.18 L168.39 18.26 L168.39 18.04 L168.81 18.33 L168.81 18.11 L168.94 18.20 L168.94 17.99 L169.04 18.06 L169.04 17.84 L169.13 17.91 L169.13 17.69 L169.24 17.77 L169.24 17.55 L169.39 17.65 L169.39 17.44 L169.44 17.47 L169.44 17.26 L169.44 17.26 L169.44 17.04 L170.39 17.68 L170.39 17.47 L170.62 17.63 L170.62 17.42 L170.82 17.55 L170.82 17.34 L170.91 17.39 L170.91 17.18 L170.94 17.20 L170.94 16.98 L171.21 17.17 L171.21 16.95 L171.75 17.32 L171.75 17.10 L172.30 17.48 L172.30 17.26 L172.34 17.29 L172.34 17.08 L172.39 17.11 L172.39 16.90 L172.93 17.26 L172.93 17.04 L173.24 17.26 L173.24 17.04 L173.33 17.10 L173.33 16.89 L173.33 16.89 L173.33 16.67 L173.59 16.85 L173.59 16.63 L173.62 16.65 L173.62 16.44 L173.96 16.68 L173.96 16.46 L174.12 16.57 L174.12 16.35 L174.14 16.37 L174.14 16.15 L174.24 16.22 L174.24 16.00 L174.40 16.11 L174.40 15.90 L175.52 16.66 L175.52 16.44 L175.71 16.57 L175.71 16.35 L175.83 16.44 L175.83 16.23 L176.20 16.47 L176.20 16.26 L178.01 17.49 L178.01 17.27 L178.10 17.33 L178.10 17.11 L185.41 22.06 L185.41 21.84 L188.84 24.17 L188.84 23.95 L190.43 25.03 L190.43 24.81 L191.69 25.66 L191.69 25.45 L193.46 26.65 L193.46 26.43 L197.77 29.35 L197.77 29.13 L206.25 34.87 L206.25 34.66 L219.15 43.38 L219.15 43.17 L219.53 43.42 L219.53 43.21 L220.20 43.66 L220.20 43.45 L220.53 43.67 L220.53 43.46 L222.68 44.91 L222.68 44.70 L223.58 45.30 L223.58 45.09 L228.81 48.63 L228.81 48.42 L231.07 49.94 L231.07 49.72 L236.60 53.47 L236.60 53.25 L241.40 56.50" stroke="#C8A1DA" stroke-width="0.42" fill="none" stroke-linejoin="round"/>
<path d="M146.40 56.50 L146.46 56.54 L146.46 56.33 L146.54 56.38 L146.54 56.17 L146.57 56.19 L146.57 55.98 L146.62 56.01 L146.62 55.80 L146.71 55.86 L146.71 55.65 L146.74 55.67 L146.74 55.46 L146.74 55.46 L146.74 55.25 L146.77 55.27 L146.77 55.06 L146.83 55.10 L146.83 54.89 L147.08 55.05 L147.08 54.84 L147.18 54.91 L147.18 54.69 L147.24 54.73 L147.24 54.52 L147.29 54.56 L147.29 54.35 L147.34 54.38 L147.34 54.17 L147.50 54.28 L147.50 54.07 L147.52 54.08 L147.52 53.86 L147.58 53.91 L147.58 53.69 L147.63 53.73 L147.63 53.51 L147.77 53.61 L147.77 53.40 L147.81 53.42 L147.81 53.21 L147.86 53.25 L147.86 53.03 L147.90 53.06 L147.90 52.85 L147.98 52.90 L147.98 52.69 L148.02 52.72 L148.02 52.51 L148.06 52.53 L148.06 52.32 L148.08 52.34 L148.08 52.13 L148.27 52.25 L148.27 52.04 L148.31 52.07 L148.31 51.86 L148.32 51.86 L148.32 51.65 L148.39 51.70 L148.39 51.49 L148.44 51.52 L148.44 51.31 L148.61 51.42 L148.61 51.21 L148.62 51.21 L148.62 51.00 L148.62 51.01 L148.62 50.79 L148.63 50.80 L148.63 50.59 L148.64 50.60 L148.64 50.39 L148.74 50.45 L148.74 50.24 L148.80 50.28 L148.80 50.06 L148.80 50.07 L148.80 49.85 L148.93 49.94 L148.93 49.73 L148.97 49.76 L148.97 49.55 L149.00 49.56 L149.00 49.35 L149.02 49.37 L149.02 49.16 L149.04 49.17 L149.04 48.96 L149.16 49.04 L149.16 48.83 L149.27 48.90 L149.27 48.69 L149.28 48.70 L149.28 48.49 L149.43 48.59 L149.43 48.38 L149.51 48.43 L149.51 48.21 L149.76 48.38 L149.76 48.17 L149.81 48.21 L149.81 48.00 L149.83 48.01 L149.83 47.80 L149.92 47.86 L149.92 47.64 L149.98 47.68 L149.98 47.47 L150.00 47.48 L150.00 47.27 L150.13 47.36 L150.13 47.15 L150.15 47.16 L150.15 46.95 L150.19 46.98 L150.19 46.77 L150.22 46.79 L150.22 46.58 L150.22 46.58 L150.22 46.37 L150.30 46.42 L150.30 46.21 L150.33 46.23 L150.33 46.02 L150.37 46.04 L150.37 45.83 L150.39 45.84 L150.39 45.63 L150.46 45.68 L150.46 45.47 L150.48 45.48 L150.48 45.27 L150.53 45.30 L150.53 45.09 L150.60 45.13 L150.60 44.92 L150.62 44.94 L150.62 44.73 L150.64 44.74 L150.64 44.53 L150.76 44.61 L150.76 44.40 L150.83 44.44 L150.83 44.23 L150.83 44.23 L150.83 44.02 L150.99 44.13 L150.99 43.92 L151.07 43.97 L151.07 43.76 L151.26 43.89 L151.26 43.68 L151.30 43.70 L151.30 43.49 L151.32 43.50 L151.32 43.29 L151.37 43.33 L151.37 43.12 L151.39 43.13 L151.39 42.91 L151.39 42.92 L151.39 42.71 L151.43 42.74 L151.43 42.52 L151.50 42.57 L151.50 42.35 L151.50 42.36 L151.50 42.14 L151.69 42.27 L151.69 42.06 L151.71 42.07 L151.71 41.86 L151.72 41.87 L151.72 41.66 L151.80 41.71 L151.80 41.50 L151.99 41.63 L151.99 41.42 L152.00 41.42 L152.00 41.21 L152.03 41.23 L152.03 41.02 L152.12 41.08 L152.12 40.87 L152.16 40.89 L152.16 40.68 L152.22 40.72 L152.22 40.51 L152.32 40.58 L152.32 40.37 L152.33 40.37 L152.33 40.16 L152.37 40.19 L152.37 39.98 L152.49 40.06 L152.49 39.85 L152.61 39.92 L152.61 39.71 L152.69 39.77 L152.69 39.55 L152.92 39.71 L152.92 39.50 L152.96 39.52 L152.96 39.31 L152.98 39.33 L152.98 39.12 L153.11 39.20 L153.11 38.99 L153.15 39.02 L153.15 38.81 L153.16 38.81 L153.16 38.60 L153.42 38.77 L153.42 38.56 L153.50 38.62 L153.50 38.41 L153.50 38.41 L153.50 38.20 L153.58 38.25 L153.58 38.04 L153.63 38.07 L153.63 37.86 L153.71 37.91 L153.71 37.70 L153.76 37.73 L153.76 37.52 L154.13 37.77 L154.13 37.56 L154.20 37.61 L154.20 37.39 L154.21 37.40 L154.21 37.19 L154.23 37.20 L154.23 36.99 L154.26 37.01 L154.26 36.80 L154.37 36.87 L154.37 36.66 L154.61 36.82 L154.61 36.61 L154.65 36.64 L154.65 36.43 L154.68 36.44 L154.68 36.23 L154.91 36.38 L154.91 36.17 L154.96 36.21 L154.96 36.00 L154.97 36.00 L154.97 35.79 L155.11 35.89 L155.11 35.68 L155.15 35.70 L155.15 35.49 L155.16 35.50 L155.16 35.29 L155.18 35.30 L155.18 35.09 L155.26 35.14 L155.26 34.93 L155.27 34.93 L155.27 34.72 L155.44 34.84 L155.44 34.63 L156.01 35.01 L156.01 34.80 L156.10 34.85 L156.10 34.64 L156.17 34.69 L156.17 34.48 L156.22 34.52 L156.22 34.30 L156.23 34.31 L156.23 34.10 L156.31 34.15 L156.31 33.94 L156.38 33.98 L156.38 33.77 L156.39 33.78 L156.39 33.57 L156.43 33.59 L156.43 33.38 L156.45 33.39 L156.45 33.18 L156.47 33.20 L156.47 32.99 L156.47 32.99 L156.47 32.78 L156.51 32.81 L156.51 32.59 L156.61 32.66 L156.61 32.44 L156.65 32.47 L156.65 32.26 L156.78 32.35 L156.78 32.14 L156.86 32.19 L156.86 31.98 L156.88 31.99 L156.88 31.78 L156.88 31.78 L156.88 31.57 L156.94 31.61 L156.94 31.40 L156.96 31.41 L156.96 31.20 L156.98 31.21 L156.98 31.00 L157.08 31.07 L157.08 30.86 L157.12 30.89 L157.12 30.67 L157.17 30.70 L157.17 30.49 L157.33 30.60 L157.33 30.39 L157.38 30.43 L157.38 30.21 L157.54 30.32 L157.54 30.11 L157.86 30.32 L157.86 30.11 L158.01 30.21 L158.01 30.00 L158.09 30.05 L158.09 29.84 L158.16 29.89 L158.16 29.68 L158.23 29.73 L158.23 29.51 L158.25 29.52 L158.25 29.31 L158.33 29.36 L158.33 29.15 L158.37 29.18 L158.37 28.97 L158.40 28.99 L158.40 28.78 L158.45 28.81 L158.45 28.60 L158.48 28.62 L158.48 28.41 L158.48 28.41 L158.48 28.20 L158.48 28.20 L158.48 27.99 L158.49 27.99 L158.49 27.78 L158.67 27.90 L158.67 27.69 L158.78 27.77 L158.78 27.55 L158.78 27.55 L158.78 27.34 L158.91 27.43 L158.91 27.22 L158.99 27.27 L158.99 27.06 L158.99 27.06 L158.99 26.85 L159.10 26.92 L159.10 26.71 L159.41 26.91 L159.41 26.70 L159.42 26.71 L159.42 26.50 L159.43 26.51 L159.43 26.29 L159.57 26.39 L159.57 26.17 L159.86 26.37 L159.86 26.16 L160.16 26.36 L160.16 26.15 L160.18 26.16 L160.18 25.95 L160.18 25.95 L160.18 25.74 L160.33 25.84 L160.33 25.63 L160.51 25.75 L160.51 25.53 L160.51 25.54 L160.51 25.32 L160.56 25.36 L160.56 25.14 L160.58 25.16 L160.58 24.95 L160.66 25.00 L160.66 24.79 L160.69 24.81 L160.69 24.60 L160.71 24.61 L160.71 24.40 L160.89 24.52 L160.89 24.31 L161.01 24.39 L161.01 24.18 L161.13 24.26 L161.13 24.05 L161.63 24.38 L161.63 24.17 L161.64 24.18 L161.64 23.97 L161.73 24.03 L161.73 23.82 L162.00 24.00 L162.00 23.78 L162.01 23.79 L162.01 23.58 L162.33 23.79 L162.33 23.58 L162.34 23.58 L162.34 23.37 L162.42 23.43 L162.42 23.21 L162.52 23.29 L162.52 23.07 L162.69 23.19 L162.69 22.97 L162.72 23.00 L162.72 22.79 L162.85 22.87 L162.85 22.66 L162.91 22.70 L162.91 22.49 L162.97 22.53 L162.97 22.32 L162.98 22.33 L162.98 22.11 L163.08 22.18 L163.08 21.97 L163.17 22.02 L163.17 21.81 L163.42 21.99 L163.42 21.77 L163.74 21.98 L163.74 21.77 L163.92 21.89 L163.92 21.68 L163.93 21.69 L163.93 21.48 L163.95 21.49 L163.95 21.28 L164.04 21.34 L164.04 21.12 L164.08 21.15 L164.08 20.94 L164.12 20.97 L164.12 20.76 L164.34 20.91 L164.34 20.70 L164.36 20.71 L164.36 20.49 L164.67 20.71 L164.67 20.49 L164.72 20.52 L164.72 20.31 L164.92 20.45 L164.92 20.24 L165.10 20.36 L165.10 20.14 L165.28 20.26 L165.28 20.05 L165.30 20.06 L165.30 19.85 L165.37 19.90 L165.37 19.69 L165.41 19.72 L165.41 19.51 L165.47 19.54 L165.47 19.33 L165.61 19.43 L165.61 19.21 L165.83 19.36 L165.83 19.15 L165.85 19.16 L165.85 18.95 L165.94 19.01 L165.94 18.80 L166.19 18.97 L166.19 18.76 L166.30 18.83 L166.30 18.62 L166.42 18.70 L166.42 18.49 L166.50 18.54 L166.50 18.33 L166.54 18.36 L166.54 18.15 L166.65 18.22 L166.65 18.01 L166.69 18.03 L166.69 17.82 L166.85 17.93 L166.85 17.72 L166.89 17.75 L166.89 17.54 L166.94 17.57 L166.94 17.35 L167.24 17.56 L167.24 17.35 L167.77 17.69 L167.77 17.48 L167.83 17.53 L167.83 17.32 L167.93 17.38 L167.93 17.17 L168.05 17.25 L168.05 17.04 L168.26 17.18 L168.26 16.97 L168.50 17.13 L168.50 16.91 L168.55 16.95 L168.55 16.74 L168.61 16.78 L168.61 16.57 L168.85 16.73 L168.85 16.52 L168.86 16.52 L168.86 16.31 L169.64 16.83 L169.64 16.62 L169.68 16.65 L169.68 16.43 L170.06 16.69 L170.06 16.48 L170.33 16.66 L170.33 16.45 L170.55 16.60 L170.55 16.39 L170.72 16.49 L170.72 16.28 L170.86 16.38 L170.86 16.17 L170.96 16.24 L170.96 16.02 L171.23 16.20 L171.23 15.99 L172.48 16.82 L172.48 16.61 L172.49 16.62 L172.49 16.41 L172.55 16.45 L172.55 16.24 L172.58 16.26 L172.58 16.05 L172.91 16.26 L172.91 16.05 L173.01 16.12 L173.01 15.91 L173.23 16.06 L173.23 15.85 L173.28 15.88 L173.28 15.67 L173.42 15.76 L173.42 15.55 L174.12 16.02 L174.12 15.81 L174.65 16.16 L174.65 15.95 L175.12 16.26 L175.12 16.05 L176.52 16.99 L176.52 16.78 L177.54 17.45 L177.54 17.24 L188.53 24.58 L188.53 24.37 L195.92 29.30 L195.92 29.09 L197.48 30.14 L197.48 29.93 L197.95 30.24 L197.95 30.03 L199.98 31.38 L199.98 31.17 L200.24 31.35 L200.24 31.13 L200.63 31.39 L200.63 31.18 L202.79 32.62 L202.79 32.41 L204.03 33.24 L204.03 33.03 L204.46 33.31 L204.46 33.10 L215.87 40.72 L215.87 40.51 L221.57 44.32 L221.57 44.11 L223.00 45.06 L223.00 44.85 L225.19 46.31 L225.19 46.10 L225.87 46.55 L225.87 46.34 L240.22 55.92 L240.22 55.71 L241.40 56.50" stroke="#5CC5A7" stroke-width="0.42" fill="none" stroke-linejoin="round"/>
</g>
<path d="M147.90 37.10h2.6" stroke="#5BB0EC" stroke-width="0.5" stroke-opacity="0.55"/>
<text transform="matrix(1 0.0005 0 1 152.80 38.20)" font-size="3.48" fill="#000" stroke="#000" stroke-width="0.05">[Reactome] Regulation of Expression of Slits</text>
<text transform="matrix(1 0.0005 0 1 152.80 42.14)" font-size="3.48" fill="#000" stroke="#000" stroke-width="0.05">and Robos</text>
<path d="M147.90 44.98h2.6" stroke="#EC4B8D" stroke-width="0.5" stroke-opacity="0.55"/>
<text transform="matrix(1 0.0005 0 1 152.80 46.08)" font-size="3.48" fill="#000" stroke="#000" stroke-width="0.05">[Reactome] Nonsense Mediated Decay Nmd</text>
<path d="M147.90 48.92h2.6" stroke="#F4B7BF" stroke-width="0.5" stroke-opacity="0.55"/>
<text transform="matrix(1 0.0005 0 1 152.80 50.02)" font-size="3.48" fill="#000" stroke="#000" stroke-width="0.05">[Reactome] Influenza Infection</text>
<path d="M147.90 52.86h2.6" stroke="#C8A1DA" stroke-width="0.5" stroke-opacity="0.55"/>
<text transform="matrix(1 0.0005 0 1 152.80 53.96)" font-size="3.48" fill="#000" stroke="#000" stroke-width="0.05">[Reactome] Cell Cycle Mitotic</text>
<path d="M147.90 56.80h2.6" stroke="#5CC5A7" stroke-width="0.5" stroke-opacity="0.55"/>
<text transform="matrix(1 0.0005 0 1 152.80 57.90)" font-size="3.48" fill="#000" stroke="#000" stroke-width="0.05">[Reactome] Mitotic Metaphase and Anaphase</text>
<path d="M146.4 56.50H241.4" stroke="#666" stroke-width="0.45" stroke-dasharray="1.4 1.7" fill="none"/>
<path d="M146.40 97.30 L146.40 84.56 L146.80 85.87 L147.19 86.87 L147.59 87.64 L147.99 88.25 L148.39 88.73 L148.78 89.12 L149.18 89.44 L149.58 89.71 L149.98 89.94 L150.37 90.14 L150.77 90.32 L151.17 90.48 L151.57 90.63 L151.96 90.77 L152.36 90.91 L152.76 91.04 L153.16 91.16 L153.55 91.28 L153.95 91.40 L154.35 91.52 L154.75 91.63 L155.14 91.74 L155.54 91.85 L155.94 91.96 L156.34 92.07 L156.73 92.17 L157.13 92.28 L157.53 92.38 L157.93 92.48 L158.32 92.58 L158.72 92.68 L159.12 92.78 L159.52 92.88 L159.91 92.97 L160.31 93.07 L160.71 93.16 L161.11 93.25 L161.50 93.35 L161.90 93.44 L162.30 93.52 L162.70 93.61 L163.09 93.70 L163.49 93.78 L163.89 93.87 L164.29 93.95 L164.68 94.03 L165.08 94.11 L165.48 94.19 L165.88 94.27 L166.27 94.35 L166.67 94.42 L167.07 94.49 L167.47 94.57 L167.86 94.64 L168.26 94.71 L168.66 94.77 L169.06 94.84 L169.45 94.91 L169.85 94.97 L170.25 95.03 L170.65 95.09 L171.04 95.15 L171.44 95.21 L171.84 95.26 L172.24 95.32 L172.63 95.37 L173.03 95.42 L173.43 95.47 L173.83 95.51 L174.22 95.56 L174.62 95.60 L175.02 95.64 L175.42 95.68 L175.81 95.72 L176.21 95.75 L176.61 95.79 L177.01 95.82 L177.40 95.84 L177.80 95.87 L178.20 95.89 L178.60 95.91 L178.99 95.92 L179.39 95.93 L179.79 98.21 L180.19 98.23 L180.58 98.24 L180.98 98.25 L181.38 98.27 L181.78 98.28 L182.17 98.29 L182.57 98.30 L182.97 98.32 L183.37 98.33 L183.76 98.34 L184.16 98.36 L184.56 98.37 L184.96 98.38 L185.35 98.39 L185.75 98.41 L186.15 98.42 L186.55 98.43 L186.94 98.45 L187.34 98.46 L187.74 98.47 L188.14 98.49 L188.53 98.50 L188.93 98.51 L189.33 98.52 L189.73 98.54 L190.12 98.55 L190.52 98.56 L190.92 98.58 L191.32 98.59 L191.71 98.60 L192.11 98.61 L192.51 98.63 L192.91 98.64 L193.30 98.65 L193.70 98.67 L194.10 98.68 L194.50 98.69 L194.89 98.70 L195.29 98.72 L195.69 98.73 L196.09 98.74 L196.48 98.76 L196.88 98.77 L197.28 98.78 L197.68 98.79 L198.07 98.81 L198.47 98.82 L198.87 98.83 L199.27 98.85 L199.66 98.86 L200.06 98.87 L200.46 98.88 L200.86 98.90 L201.25 98.91 L201.65 98.92 L202.05 98.94 L202.45 98.95 L202.84 98.96 L203.24 98.97 L203.64 98.99 L204.04 99.00 L204.43 99.01 L204.83 99.03 L205.23 99.04 L205.63 99.05 L206.02 99.07 L206.42 99.08 L206.82 99.09 L207.22 99.10 L207.61 99.12 L208.01 99.13 L208.41 99.14 L208.81 99.16 L209.20 99.17 L209.60 99.18 L210.00 99.19 L210.40 99.21 L210.79 99.22 L211.19 99.23 L211.59 99.25 L211.99 99.26 L212.38 99.27 L212.78 99.28 L213.18 99.30 L213.58 99.31 L213.97 99.32 L214.37 99.34 L214.77 99.35 L215.17 99.36 L215.56 99.37 L215.96 99.39 L216.36 99.40 L216.76 99.41 L217.15 99.43 L217.55 99.44 L217.95 99.45 L218.35 99.46 L218.74 99.48 L219.14 99.49 L219.54 99.50 L219.94 99.52 L220.33 99.53 L220.73 99.54 L221.13 99.55 L221.53 99.57 L221.92 99.58 L222.32 99.59 L222.72 99.61 L223.12 99.62 L223.51 99.63 L223.91 99.65 L224.31 99.66 L224.71 99.67 L225.10 99.68 L225.50 99.70 L225.90 99.71 L226.30 99.72 L226.69 99.74 L227.09 99.75 L227.49 99.76 L227.89 99.78 L228.28 99.79 L228.68 99.80 L229.08 99.82 L229.48 99.83 L229.87 99.85 L230.27 99.87 L230.67 99.88 L231.07 99.90 L231.46 99.92 L231.86 99.94 L232.26 99.97 L232.66 99.99 L233.05 100.02 L233.45 100.06 L233.85 100.10 L234.25 100.14 L234.64 100.20 L235.04 100.27 L235.44 100.35 L235.84 100.44 L236.23 100.56 L236.63 100.70 L237.03 100.88 L237.43 101.09 L237.82 101.35 L238.22 101.67 L238.62 102.06 L239.02 102.53 L239.41 103.12 L239.81 103.83 L240.21 104.71 L240.61 105.78 L241.00 107.08 L241.40 108.67 L241.40 97.30Z" fill="#BDBDBD"/>
<rect x="146.4" y="9.7" width="95.00" height="99.30" fill="none" stroke="#484848" stroke-width="0.62"/>
<path d="M146.4 59.0H241.4M146.4 82.6H241.4" stroke="#484848" stroke-width="0.62"/>
<path d="M145.10 56.50h1.3" stroke="#333" stroke-width="0.45"/>
<text transform="matrix(1 0.0005 0 1 144.40 57.69)" font-size="3.3" text-anchor="end" fill="#111" stroke="#111" stroke-width="0.12">0.0</text>
<path d="M145.10 42.50h1.3" stroke="#333" stroke-width="0.45"/>
<text transform="matrix(1 0.0005 0 1 144.40 43.69)" font-size="3.3" text-anchor="end" fill="#111" stroke="#111" stroke-width="0.12">0.2</text>
<path d="M145.10 28.50h1.3" stroke="#333" stroke-width="0.45"/>
<text transform="matrix(1 0.0005 0 1 144.40 29.69)" font-size="3.3" text-anchor="end" fill="#111" stroke="#111" stroke-width="0.12">0.4</text>
<path d="M145.10 14.50h1.3" stroke="#333" stroke-width="0.45"/>
<text transform="matrix(1 0.0005 0 1 144.40 15.69)" font-size="3.3" text-anchor="end" fill="#111" stroke="#111" stroke-width="0.12">0.6</text>
<path d="M145.10 88.20h1.3" stroke="#333" stroke-width="0.45"/>
<text transform="matrix(1 0.0005 0 1 144.40 89.39)" font-size="3.3" text-anchor="end" fill="#111" stroke="#111" stroke-width="0.12">1</text>
<path d="M145.10 97.30h1.3" stroke="#333" stroke-width="0.45"/>
<text transform="matrix(1 0.0005 0 1 144.40 98.49)" font-size="3.3" text-anchor="end" fill="#111" stroke="#111" stroke-width="0.12">0</text>
<path d="M145.10 106.40h1.3" stroke="#333" stroke-width="0.45"/>
<text transform="matrix(1 0.0005 0 1 144.40 107.59)" font-size="3.3" text-anchor="end" fill="#111" stroke="#111" stroke-width="0.12">-1</text>
<path d="M146.40 109.0v1.3" stroke="#333" stroke-width="0.45"/>
<text transform="matrix(1 0.0005 0 1 146.40 114.80)" font-size="4.0" text-anchor="middle" fill="#111" stroke="#111" stroke-width="0.12">0</text>
<path d="M169.51 109.0v1.3" stroke="#333" stroke-width="0.45"/>
<text transform="matrix(1 0.0005 0 1 169.51 114.80)" font-size="4.0" text-anchor="middle" fill="#111" stroke="#111" stroke-width="0.12">3000</text>
<path d="M192.63 109.0v1.3" stroke="#333" stroke-width="0.45"/>
<text transform="matrix(1 0.0005 0 1 192.63 114.80)" font-size="4.0" text-anchor="middle" fill="#111" stroke="#111" stroke-width="0.12">6000</text>
<path d="M215.74 109.0v1.3" stroke="#333" stroke-width="0.45"/>
<text transform="matrix(1 0.0005 0 1 215.74 114.80)" font-size="4.0" text-anchor="middle" fill="#111" stroke="#111" stroke-width="0.12">9000</text>
<path d="M238.86 109.0v1.3" stroke="#333" stroke-width="0.45"/>
<text transform="matrix(1 0.0005 0 1 238.86 114.80)" font-size="4.0" text-anchor="middle" fill="#111" stroke="#111" stroke-width="0.12">12000</text>
<text transform="matrix(1 0.0005 0 1 193.90 119.90)" font-size="4" text-anchor="middle" fill="#111" stroke="#111" stroke-width="0.06">Rank in Ordered Dataset</text>
<text transform="matrix(0.0005 -1 1 0 136.70 34.35)" font-size="4" text-anchor="middle" fill="#111" stroke="#111" stroke-width="0.06">Enrichment Score</text>
<text transform="matrix(0.0005 -1 1 0 137.70 95.80)" font-size="4" text-anchor="middle" fill="#111" stroke="#111" stroke-width="0.06">Ranked list metric</text>
</g>
<g>
<clipPath id="c3"><rect x="22.3" y="127.3" width="94.5" height="49.39999999999999"/></clipPath>
<path d="M40.73 176.70v4.72M107.82 176.70v4.72M109.79 176.70v4.72M112.71 176.70v4.72M112.76 176.70v4.72M113.14 176.70v4.72M114.03 176.70v4.72M114.07 176.70v4.72M115.57 176.70v4.72M115.80 176.70v4.72M116.72 176.70v4.72" stroke="#5BB0EC" stroke-width="0.36" stroke-opacity="0.8" fill="none"/>
<path d="M58.59 181.42v4.72M63.41 181.42v4.72M81.36 181.42v4.72M88.45 181.42v4.72M101.21 181.42v4.72M103.62 181.42v4.72M108.59 181.42v4.72M109.32 181.42v4.72M113.06 181.42v4.72M114.20 181.42v4.72M115.20 181.42v4.72M115.20 181.42v4.72M115.73 181.42v4.72M115.92 181.42v4.72" stroke="#EC4B8D" stroke-width="0.36" stroke-opacity="0.62" fill="none"/>
<path d="M26.08 186.14v4.72M34.11 186.14v4.72M41.20 186.14v4.72M50.65 186.14v4.72M61.05 186.14v4.72M69.55 186.14v4.72M79.00 186.14v4.72M86.56 186.14v4.72M93.65 186.14v4.72M99.79 186.14v4.72M105.46 186.14v4.72M110.19 186.14v4.72M113.03 186.14v4.72M113.26 186.14v4.72M114.01 186.14v4.72M114.47 186.14v4.72M114.47 186.14v4.72" stroke="#F4B7BF" stroke-width="0.36" stroke-opacity="0.75" fill="none"/>
<path d="M31.75 190.86v4.72M41.20 190.86v4.72M50.65 190.86v4.72M58.59 190.86v4.72M63.41 190.86v4.72M72.39 190.86v4.72M81.84 190.86v4.72M88.45 190.86v4.72M93.65 190.86v4.72M97.90 190.86v4.72M102.62 190.86v4.72M106.88 190.86v4.72M110.19 190.86v4.72M111.73 190.86v4.72M114.97 190.86v4.72M116.02 190.86v4.72M116.58 190.86v4.72" stroke="#C8A1DA" stroke-width="0.36" stroke-opacity="0.7" fill="none"/>
<path d="M50.65 195.58v4.72M64.83 195.58v4.72M76.54 195.58v4.72M83.73 195.58v4.72M93.65 195.58v4.72M97.43 195.58v4.72M103.57 195.58v4.72M106.88 195.58v4.72M107.97 195.58v4.72M110.49 195.58v4.72M113.21 195.58v4.72M115.58 195.58v4.72" stroke="#5CC5A7" stroke-width="0.36" stroke-opacity="0.6" fill="none"/>
<g clip-path="url(#c3)">
<path d="M22.30 131.20 L40.73 141.47 L40.73 136.79 L107.82 174.17 L107.82 170.14 L109.79 171.24 L109.79 165.54 L112.71 167.17 L112.71 162.42 L112.76 162.45 L112.76 156.42 L113.14 156.64 L113.14 150.50 L114.03 150.99 L114.03 147.91 L114.07 147.92 L114.07 145.12 L115.57 145.96 L115.57 138.66 L115.80 138.79 L115.80 134.65 L116.72 135.16 L116.72 131.16 L116.80 131.20" stroke="#5BB0EC" stroke-width="0.42" fill="none" stroke-linejoin="round"/>
<path d="M22.30 131.20 L58.59 151.42 L58.59 149.66 L63.41 152.35 L63.41 149.42 L81.36 159.43 L81.36 157.67 L88.45 161.62 L88.45 160.45 L101.21 167.56 L101.21 162.08 L103.62 163.43 L103.62 158.26 L108.59 161.03 L108.59 158.54 L109.32 158.95 L109.32 153.40 L113.06 155.49 L113.06 150.68 L114.20 151.31 L114.20 147.78 L115.20 148.33 L115.20 145.99 L115.20 145.99 L115.20 139.97 L115.73 140.27 L115.73 135.98 L115.92 136.08 L115.92 130.71 L116.80 131.20" stroke="#EC4B8D" stroke-width="0.42" fill="none" stroke-linejoin="round"/>
<path d="M22.30 131.20 L26.08 133.31 L26.08 132.14 L34.11 136.61 L34.11 132.52 L41.20 136.46 L41.20 134.71 L50.65 139.97 L50.65 137.05 L61.05 142.84 L61.05 139.33 L69.55 144.07 L69.55 141.73 L79.00 146.99 L79.00 144.07 L86.56 148.28 L86.56 146.53 L93.65 150.48 L93.65 147.55 L99.79 150.97 L99.79 148.63 L105.46 151.79 L105.46 150.04 L110.19 152.67 L110.19 149.85 L113.03 151.44 L113.03 148.27 L113.26 148.39 L113.26 141.90 L114.01 142.32 L114.01 138.18 L114.47 138.43 L114.47 133.45 L114.47 133.45 L114.47 129.90 L116.80 131.20" stroke="#F4B7BF" stroke-width="0.42" fill="none" stroke-linejoin="round"/>
<path d="M22.30 131.20 L31.75 136.52 L31.75 134.77 L41.20 140.09 L41.20 137.75 L50.65 143.08 L50.65 141.32 L58.59 145.79 L58.59 144.04 L63.41 146.75 L63.41 145.00 L72.39 150.05 L72.39 145.96 L81.84 151.28 L81.84 149.53 L88.45 153.25 L88.45 150.91 L93.65 153.84 L93.65 150.92 L97.90 153.31 L97.90 148.63 L102.62 151.29 L102.62 146.61 L106.88 149.01 L106.88 143.16 L110.19 145.02 L110.19 141.43 L111.73 142.30 L111.73 139.28 L114.97 141.11 L114.97 137.45 L116.02 138.04 L116.02 134.57 L116.58 134.89 L116.58 131.08 L116.80 131.20" stroke="#C8A1DA" stroke-width="0.42" fill="none" stroke-linejoin="round"/>
<path d="M22.30 131.20 L50.65 146.29 L50.65 144.54 L64.83 152.08 L64.83 149.74 L76.54 155.98 L76.54 153.06 L83.73 156.88 L83.73 155.13 L93.65 160.41 L93.65 158.65 L97.43 160.67 L97.43 154.82 L103.57 158.09 L103.57 156.33 L106.88 158.09 L106.88 150.21 L107.97 150.78 L107.97 144.78 L110.49 146.13 L110.49 139.31 L113.21 140.76 L113.21 136.76 L115.58 138.03 L115.58 130.55 L116.80 131.20" stroke="#5CC5A7" stroke-width="0.42" fill="none" stroke-linejoin="round"/>
</g>
<path d="M23.90 158.40h2.6" stroke="#5BB0EC" stroke-width="0.5" stroke-opacity="0.55"/>
<text transform="matrix(1 0.0005 0 1 28.80 159.50)" font-size="3.48" fill="#000" stroke="#000" stroke-width="0.05">[Reactome] Termination of O Glycan Biosynthesis</text>
<path d="M23.90 162.30h2.6" stroke="#EC4B8D" stroke-width="0.5" stroke-opacity="0.55"/>
<text transform="matrix(1 0.0005 0 1 28.80 163.40)" font-size="3.48" fill="#000" stroke="#000" stroke-width="0.05">[Reactome] Lgi Adam Interactions</text>
<path d="M23.90 166.20h2.6" stroke="#F4B7BF" stroke-width="0.5" stroke-opacity="0.55"/>
<text transform="matrix(1 0.0005 0 1 28.80 167.30)" font-size="3.48" fill="#000" stroke="#000" stroke-width="0.05">[Reactome] O Linked Glycosylation of Mucins</text>
<path d="M23.90 170.10h2.6" stroke="#C8A1DA" stroke-width="0.5" stroke-opacity="0.55"/>
<text transform="matrix(1 0.0005 0 1 28.80 171.20)" font-size="3.48" fill="#000" stroke="#000" stroke-width="0.05">[KEGG] Retinol Metabolism</text>
<path d="M23.90 174.00h2.6" stroke="#5CC5A7" stroke-width="0.5" stroke-opacity="0.55"/>
<text transform="matrix(1 0.0005 0 1 28.80 175.10)" font-size="3.48" fill="#000" stroke="#000" stroke-width="0.05">[Reactome] Tight Junction Interactions</text>
<path d="M22.3 131.20H116.8" stroke="#666" stroke-width="0.45" stroke-dasharray="1.4 1.7" fill="none"/>
<path d="M22.30 214.90 L22.30 202.16 L22.70 203.47 L23.09 204.47 L23.49 205.24 L23.88 205.85 L24.28 206.33 L24.67 206.72 L25.07 207.04 L25.46 207.31 L25.86 207.54 L26.25 207.74 L26.65 207.92 L27.04 208.08 L27.44 208.23 L27.84 208.37 L28.23 208.51 L28.63 208.64 L29.02 208.76 L29.42 208.88 L29.81 209.00 L30.21 209.12 L30.60 209.23 L31.00 209.34 L31.39 209.45 L31.79 209.56 L32.18 209.67 L32.58 209.77 L32.98 209.88 L33.37 209.98 L33.77 210.08 L34.16 210.18 L34.56 210.28 L34.95 210.38 L35.35 210.48 L35.74 210.57 L36.14 210.67 L36.53 210.76 L36.93 210.85 L37.33 210.95 L37.72 211.04 L38.12 211.12 L38.51 211.21 L38.91 211.30 L39.30 211.38 L39.70 211.47 L40.09 211.55 L40.49 211.63 L40.88 211.71 L41.28 211.79 L41.67 211.87 L42.07 211.95 L42.47 212.02 L42.86 212.09 L43.26 212.17 L43.65 212.24 L44.05 212.31 L44.44 212.37 L44.84 212.44 L45.23 212.51 L45.63 212.57 L46.02 212.63 L46.42 212.69 L46.81 212.75 L47.21 212.81 L47.61 212.86 L48.00 212.92 L48.40 212.97 L48.79 213.02 L49.19 213.07 L49.58 213.11 L49.98 213.16 L50.37 213.20 L50.77 213.24 L51.16 213.28 L51.56 213.32 L51.95 213.35 L52.35 213.39 L52.75 213.42 L53.14 213.44 L53.54 213.47 L53.93 213.49 L54.33 213.51 L54.72 213.52 L55.12 213.53 L55.51 215.81 L55.91 215.83 L56.30 215.84 L56.70 215.85 L57.09 215.87 L57.49 215.88 L57.89 215.89 L58.28 215.90 L58.68 215.92 L59.07 215.93 L59.47 215.94 L59.86 215.96 L60.26 215.97 L60.65 215.98 L61.05 215.99 L61.44 216.01 L61.84 216.02 L62.24 216.03 L62.63 216.05 L63.03 216.06 L63.42 216.07 L63.82 216.09 L64.21 216.10 L64.61 216.11 L65.00 216.12 L65.40 216.14 L65.79 216.15 L66.19 216.16 L66.58 216.18 L66.98 216.19 L67.38 216.20 L67.77 216.21 L68.17 216.23 L68.56 216.24 L68.96 216.25 L69.35 216.27 L69.75 216.28 L70.14 216.29 L70.54 216.30 L70.93 216.32 L71.33 216.33 L71.72 216.34 L72.12 216.36 L72.52 216.37 L72.91 216.38 L73.31 216.39 L73.70 216.41 L74.10 216.42 L74.49 216.43 L74.89 216.45 L75.28 216.46 L75.68 216.47 L76.07 216.48 L76.47 216.50 L76.86 216.51 L77.26 216.52 L77.66 216.54 L78.05 216.55 L78.45 216.56 L78.84 216.57 L79.24 216.59 L79.63 216.60 L80.03 216.61 L80.42 216.63 L80.82 216.64 L81.21 216.65 L81.61 216.67 L82.01 216.68 L82.40 216.69 L82.80 216.70 L83.19 216.72 L83.59 216.73 L83.98 216.74 L84.38 216.76 L84.77 216.77 L85.17 216.78 L85.56 216.79 L85.96 216.81 L86.35 216.82 L86.75 216.83 L87.15 216.85 L87.54 216.86 L87.94 216.87 L88.33 216.88 L88.73 216.90 L89.12 216.91 L89.52 216.92 L89.91 216.94 L90.31 216.95 L90.70 216.96 L91.10 216.97 L91.49 216.99 L91.89 217.00 L92.29 217.01 L92.68 217.03 L93.08 217.04 L93.47 217.05 L93.87 217.06 L94.26 217.08 L94.66 217.09 L95.05 217.10 L95.45 217.12 L95.84 217.13 L96.24 217.14 L96.63 217.15 L97.03 217.17 L97.43 217.18 L97.82 217.19 L98.22 217.21 L98.61 217.22 L99.01 217.23 L99.40 217.25 L99.80 217.26 L100.19 217.27 L100.59 217.28 L100.98 217.30 L101.38 217.31 L101.77 217.32 L102.17 217.34 L102.57 217.35 L102.96 217.36 L103.36 217.38 L103.75 217.39 L104.15 217.40 L104.54 217.42 L104.94 217.43 L105.33 217.45 L105.73 217.47 L106.12 217.48 L106.52 217.50 L106.92 217.52 L107.31 217.54 L107.71 217.57 L108.10 217.59 L108.50 217.62 L108.89 217.66 L109.29 217.70 L109.68 217.74 L110.08 217.80 L110.47 217.87 L110.87 217.95 L111.26 218.04 L111.66 218.16 L112.06 218.30 L112.45 218.48 L112.85 218.69 L113.24 218.95 L113.64 219.27 L114.03 219.66 L114.43 220.13 L114.82 220.72 L115.22 221.43 L115.61 222.31 L116.01 223.38 L116.40 224.68 L116.80 226.28 L116.80 214.90Z" fill="#BDBDBD"/>
<rect x="22.3" y="127.3" width="94.50" height="98.80" fill="none" stroke="#484848" stroke-width="0.62"/>
<path d="M22.3 176.7H116.8M22.3 200.3H116.8" stroke="#484848" stroke-width="0.62"/>
<path d="M21.00 131.20h1.3" stroke="#333" stroke-width="0.45"/>
<text transform="matrix(1 0.0005 0 1 20.30 132.39)" font-size="3.3" text-anchor="end" fill="#111" stroke="#111" stroke-width="0.12">0.0</text>
<path d="M21.00 142.90h1.3" stroke="#333" stroke-width="0.45"/>
<text transform="matrix(1 0.0005 0 1 20.30 144.09)" font-size="3.3" text-anchor="end" fill="#111" stroke="#111" stroke-width="0.12">-0.2</text>
<path d="M21.00 154.60h1.3" stroke="#333" stroke-width="0.45"/>
<text transform="matrix(1 0.0005 0 1 20.30 155.79)" font-size="3.3" text-anchor="end" fill="#111" stroke="#111" stroke-width="0.12">-0.4</text>
<path d="M21.00 166.30h1.3" stroke="#333" stroke-width="0.45"/>
<text transform="matrix(1 0.0005 0 1 20.30 167.49)" font-size="3.3" text-anchor="end" fill="#111" stroke="#111" stroke-width="0.12">-0.6</text>
<path d="M21.00 205.80h1.3" stroke="#333" stroke-width="0.45"/>
<text transform="matrix(1 0.0005 0 1 20.30 206.99)" font-size="3.3" text-anchor="end" fill="#111" stroke="#111" stroke-width="0.12">1</text>
<path d="M21.00 214.90h1.3" stroke="#333" stroke-width="0.45"/>
<text transform="matrix(1 0.0005 0 1 20.30 216.09)" font-size="3.3" text-anchor="end" fill="#111" stroke="#111" stroke-width="0.12">0</text>
<path d="M21.00 224.00h1.3" stroke="#333" stroke-width="0.45"/>
<text transform="matrix(1 0.0005 0 1 20.30 225.19)" font-size="3.3" text-anchor="end" fill="#111" stroke="#111" stroke-width="0.12">-1</text>
<path d="M22.30 226.1v1.3" stroke="#333" stroke-width="0.45"/>
<text transform="matrix(1 0.0005 0 1 22.30 231.90)" font-size="4.0" text-anchor="middle" fill="#111" stroke="#111" stroke-width="0.12">0</text>
<path d="M45.41 226.1v1.3" stroke="#333" stroke-width="0.45"/>
<text transform="matrix(1 0.0005 0 1 45.41 231.90)" font-size="4.0" text-anchor="middle" fill="#111" stroke="#111" stroke-width="0.12">3000</text>
<path d="M68.51 226.1v1.3" stroke="#333" stroke-width="0.45"/>
<text transform="matrix(1 0.0005 0 1 68.51 231.90)" font-size="4.0" text-anchor="middle" fill="#111" stroke="#111" stroke-width="0.12">6000</text>
<path d="M91.62 226.1v1.3" stroke="#333" stroke-width="0.45"/>
<text transform="matrix(1 0.0005 0 1 91.62 231.90)" font-size="4.0" text-anchor="middle" fill="#111" stroke="#111" stroke-width="0.12">9000</text>
<path d="M114.72 226.1v1.3" stroke="#333" stroke-width="0.45"/>
<text transform="matrix(1 0.0005 0 1 114.72 231.90)" font-size="4.0" text-anchor="middle" fill="#111" stroke="#111" stroke-width="0.12">12000</text>
<text transform="matrix(1 0.0005 0 1 69.55 237.00)" font-size="4" text-anchor="middle" fill="#111" stroke="#111" stroke-width="0.06">Rank in Ordered Dataset</text>
<text transform="matrix(0.0005 -1 1 0 11.70 152.00)" font-size="4" text-anchor="middle" fill="#111" stroke="#111" stroke-width="0.06">Enrichment Score</text>
<text transform="matrix(0.0005 -1 1 0 13.20 213.20)" font-size="4" text-anchor="middle" fill="#111" stroke="#111" stroke-width="0.06">Ranked list metric</text>
</g>
<g>
<clipPath id="c4"><rect x="147.4" y="129.2" width="94.0" height="49.0"/></clipPath>
<path d="M184.54 178.20v4.68M192.74 178.20v4.68M215.10 178.20v4.68M216.96 178.20v4.68M221.00 178.20v4.68M222.93 178.20v4.68M224.05 178.20v4.68M224.25 178.20v4.68M225.66 178.20v4.68M227.33 178.20v4.68M227.77 178.20v4.68M231.74 178.20v4.68M237.89 178.20v4.68M239.86 178.20v4.68" stroke="#5BB0EC" stroke-width="0.36" stroke-opacity="0.8" fill="none"/>
<path d="M182.27 182.88v4.68M192.41 182.88v4.68M200.08 182.88v4.68M201.29 182.88v4.68M206.74 182.88v4.68M213.12 182.88v4.68M213.20 182.88v4.68M217.26 182.88v4.68M223.92 182.88v4.68M230.53 182.88v4.68M230.69 182.88v4.68M231.16 182.88v4.68M238.20 182.88v4.68M238.58 182.88v4.68M239.19 182.88v4.68M239.78 182.88v4.68" stroke="#EC4B8D" stroke-width="0.36" stroke-opacity="0.62" fill="none"/>
<path d="M175.24 187.56v4.68M178.02 187.56v4.68M193.51 187.56v4.68M210.28 187.56v4.68M215.08 187.56v4.68M222.18 187.56v4.68M222.38 187.56v4.68M223.56 187.56v4.68M224.44 187.56v4.68M226.54 187.56v4.68M227.98 187.56v4.68M233.24 187.56v4.68M234.65 187.56v4.68M241.21 187.56v4.68" stroke="#F4B7BF" stroke-width="0.36" stroke-opacity="0.75" fill="none"/>
<path d="M183.42 192.24v4.68M187.04 192.24v4.68M187.64 192.24v4.68M194.24 192.24v4.68M203.26 192.24v4.68M213.20 192.24v4.68M214.29 192.24v4.68M215.08 192.24v4.68M217.43 192.24v4.68M219.78 192.24v4.68M222.60 192.24v4.68M224.84 192.24v4.68M225.42 192.24v4.68M228.24 192.24v4.68" stroke="#C8A1DA" stroke-width="0.36" stroke-opacity="0.7" fill="none"/>
<path d="M150.22 196.92v4.68M158.68 196.92v4.68M166.20 196.92v4.68M171.84 196.92v4.68M173.92 196.92v4.68M178.42 196.92v4.68M185.00 196.92v4.68M191.58 196.92v4.68M199.10 196.92v4.68M205.68 196.92v4.68M213.20 196.92v4.68M218.84 196.92v4.68M220.06 196.92v4.68M222.60 196.92v4.68M222.71 196.92v4.68M227.30 196.92v4.68M232.00 196.92v4.68M234.06 196.92v4.68M235.76 196.92v4.68M238.21 196.92v4.68M238.57 196.92v4.68M238.58 196.92v4.68" stroke="#5CC5A7" stroke-width="0.36" stroke-opacity="0.6" fill="none"/>
<g clip-path="url(#c4)">
<path d="M147.40 138.40 L216.96 175.03 L216.96 170.66 L221.00 172.79 L221.00 169.21 L222.93 170.22 L222.93 164.91 L224.05 165.50 L224.05 161.62 L224.25 161.72 L224.25 158.36 L225.66 159.10 L225.66 153.75 L231.74 156.95 L231.74 148.54 L237.89 151.77 L237.89 144.06 L239.86 145.09 L239.86 137.59 L241.40 138.40" stroke="#5BB0EC" stroke-width="0.42" fill="none" stroke-linejoin="round"/>
<path d="M147.40 138.40 L213.20 173.05 L213.20 166.62 L217.26 168.76 L217.26 161.70 L223.92 165.20 L223.92 158.00 L230.53 161.48 L230.53 158.42 L231.16 158.75 L231.16 152.98 L238.20 156.69 L238.20 150.58 L238.58 150.78 L238.58 145.53 L239.19 145.85 L239.19 142.32 L239.78 142.63 L239.78 137.55 L241.40 138.40" stroke="#EC4B8D" stroke-width="0.42" fill="none" stroke-linejoin="round"/>
<path d="M147.40 138.40 L215.08 174.04 L215.08 164.96 L222.18 168.70 L222.18 164.94 L222.38 165.05 L222.38 161.27 L224.44 162.36 L224.44 154.57 L226.54 155.67 L226.54 150.27 L227.98 151.04 L227.98 143.88 L233.24 146.65 L233.24 139.93 L241.21 144.13 L241.21 138.30 L241.40 138.40" stroke="#F4B7BF" stroke-width="0.42" fill="none" stroke-linejoin="round"/>
<path d="M147.40 138.40 L213.20 173.05 L213.20 166.15 L215.08 167.14 L215.08 159.94 L217.43 161.18 L217.43 153.98 L219.78 155.22 L219.78 148.02 L222.60 149.50 L222.60 142.60 L225.42 144.09 L225.42 137.19 L228.24 138.67 L228.24 131.47 L241.40 138.40" stroke="#C8A1DA" stroke-width="0.42" fill="none" stroke-linejoin="round"/>
<path d="M147.40 138.40 L150.22 139.88 L150.22 138.08 L158.68 142.50 L158.68 141.30 L166.20 145.24 L166.20 144.04 L171.84 146.99 L171.84 145.19 L178.42 148.64 L178.42 147.44 L185.00 150.88 L185.00 149.08 L191.58 152.52 L191.58 150.72 L199.10 154.66 L199.10 152.86 L205.68 156.30 L205.68 153.90 L213.20 157.84 L213.20 154.84 L218.84 157.79 L218.84 154.19 L222.60 156.16 L222.60 152.56 L227.30 155.02 L227.30 150.22 L232.00 152.68 L232.00 146.68 L235.76 148.65 L235.76 142.65 L238.58 144.12 L238.58 136.92 L241.40 138.40" stroke="#5CC5A7" stroke-width="0.42" fill="none" stroke-linejoin="round"/>
</g>
<path d="M148.90 156.90h2.6" stroke="#5BB0EC" stroke-width="0.5" stroke-opacity="0.55"/>
<text transform="matrix(1 0.0005 0 1 153.80 158.00)" font-size="3.48" fill="#000" stroke="#000" stroke-width="0.05">[WikiPathways] Dopaminergic Neurogenesis</text>
<path d="M148.90 160.74h2.6" stroke="#EC4B8D" stroke-width="0.5" stroke-opacity="0.55"/>
<text transform="matrix(1 0.0005 0 1 153.80 161.84)" font-size="3.48" fill="#000" stroke="#000" stroke-width="0.05">[Reactome] ERBB2 Activates PTK6 Signaling</text>
<path d="M148.90 164.58h2.6" stroke="#F4B7BF" stroke-width="0.5" stroke-opacity="0.55"/>
<text transform="matrix(1 0.0005 0 1 153.80 165.68)" font-size="3.48" fill="#000" stroke="#000" stroke-width="0.05">[WikiPathways] Monoamine Gpcrs</text>
<path d="M148.90 168.42h2.6" stroke="#C8A1DA" stroke-width="0.5" stroke-opacity="0.55"/>
<text transform="matrix(1 0.0005 0 1 153.80 169.52)" font-size="3.48" fill="#000" stroke="#000" stroke-width="0.05">[Reactome] Common Pathway of Fibrin Clot</text>
<text transform="matrix(1 0.0005 0 1 153.80 173.36)" font-size="3.48" fill="#000" stroke="#000" stroke-width="0.05">Formation</text>
<path d="M148.90 176.10h2.6" stroke="#5CC5A7" stroke-width="0.5" stroke-opacity="0.55"/>
<text transform="matrix(1 0.0005 0 1 153.80 177.20)" font-size="3.48" fill="#000" stroke="#000" stroke-width="0.05">[Reactome] Cell Cell Junction Organization</text>
<path d="M147.4 138.40H241.4" stroke="#666" stroke-width="0.45" stroke-dasharray="1.4 1.7" fill="none"/>
<path d="M147.40 215.80 L147.40 203.20 L147.79 204.49 L148.19 205.48 L148.58 206.25 L148.97 206.85 L149.37 207.32 L149.76 207.71 L150.15 208.03 L150.55 208.29 L150.94 208.52 L151.33 208.72 L151.73 208.90 L152.12 209.06 L152.51 209.21 L152.91 209.35 L153.30 209.48 L153.69 209.61 L154.09 209.73 L154.48 209.85 L154.87 209.97 L155.27 210.08 L155.66 210.19 L156.05 210.30 L156.45 210.41 L156.84 210.52 L157.23 210.62 L157.63 210.73 L158.02 210.83 L158.41 210.93 L158.81 211.03 L159.20 211.13 L159.59 211.23 L159.99 211.33 L160.38 211.43 L160.77 211.52 L161.17 211.61 L161.56 211.71 L161.95 211.80 L162.35 211.89 L162.74 211.98 L163.13 212.07 L163.53 212.15 L163.92 212.24 L164.31 212.32 L164.71 212.41 L165.10 212.49 L165.49 212.57 L165.89 212.65 L166.28 212.73 L166.67 212.80 L167.07 212.88 L167.46 212.95 L167.85 213.02 L168.25 213.10 L168.64 213.17 L169.03 213.23 L169.43 213.30 L169.82 213.37 L170.21 213.43 L170.61 213.49 L171.00 213.56 L171.39 213.62 L171.78 213.67 L172.18 213.73 L172.57 213.79 L172.96 213.84 L173.36 213.89 L173.75 213.94 L174.14 213.99 L174.54 214.03 L174.93 214.08 L175.32 214.12 L175.72 214.16 L176.11 214.20 L176.50 214.24 L176.90 214.27 L177.29 214.30 L177.68 214.33 L178.08 214.36 L178.47 214.38 L178.86 214.41 L179.26 214.42 L179.65 214.44 L180.04 214.45 L180.44 216.70 L180.83 216.72 L181.22 216.73 L181.62 216.74 L182.01 216.76 L182.40 216.77 L182.80 216.78 L183.19 216.79 L183.58 216.81 L183.98 216.82 L184.37 216.83 L184.76 216.84 L185.16 216.86 L185.55 216.87 L185.94 216.88 L186.34 216.90 L186.73 216.91 L187.12 216.92 L187.52 216.93 L187.91 216.95 L188.30 216.96 L188.70 216.97 L189.09 216.98 L189.48 217.00 L189.88 217.01 L190.27 217.02 L190.66 217.04 L191.06 217.05 L191.45 217.06 L191.84 217.07 L192.24 217.09 L192.63 217.10 L193.02 217.11 L193.42 217.13 L193.81 217.14 L194.20 217.15 L194.60 217.16 L194.99 217.18 L195.38 217.19 L195.78 217.20 L196.17 217.21 L196.56 217.23 L196.96 217.24 L197.35 217.25 L197.74 217.27 L198.14 217.28 L198.53 217.29 L198.92 217.30 L199.32 217.32 L199.71 217.33 L200.10 217.34 L200.50 217.35 L200.89 217.37 L201.28 217.38 L201.68 217.39 L202.07 217.41 L202.46 217.42 L202.86 217.43 L203.25 217.44 L203.64 217.46 L204.04 217.47 L204.43 217.48 L204.82 217.49 L205.22 217.51 L205.61 217.52 L206.00 217.53 L206.40 217.55 L206.79 217.56 L207.18 217.57 L207.58 217.58 L207.97 217.60 L208.36 217.61 L208.76 217.62 L209.15 217.63 L209.54 217.65 L209.94 217.66 L210.33 217.67 L210.72 217.69 L211.12 217.70 L211.51 217.71 L211.90 217.72 L212.30 217.74 L212.69 217.75 L213.08 217.76 L213.48 217.78 L213.87 217.79 L214.26 217.80 L214.66 217.81 L215.05 217.83 L215.44 217.84 L215.84 217.85 L216.23 217.86 L216.62 217.88 L217.02 217.89 L217.41 217.90 L217.80 217.92 L218.19 217.93 L218.59 217.94 L218.98 217.95 L219.37 217.97 L219.77 217.98 L220.16 217.99 L220.55 218.00 L220.95 218.02 L221.34 218.03 L221.73 218.04 L222.13 218.06 L222.52 218.07 L222.91 218.08 L223.31 218.09 L223.70 218.11 L224.09 218.12 L224.49 218.13 L224.88 218.15 L225.27 218.16 L225.67 218.17 L226.06 218.18 L226.45 218.20 L226.85 218.21 L227.24 218.22 L227.63 218.24 L228.03 218.25 L228.42 218.26 L228.81 218.28 L229.21 218.29 L229.60 218.31 L229.99 218.32 L230.39 218.34 L230.78 218.35 L231.17 218.37 L231.57 218.39 L231.96 218.41 L232.35 218.44 L232.75 218.46 L233.14 218.49 L233.53 218.53 L233.93 218.57 L234.32 218.61 L234.71 218.67 L235.11 218.73 L235.50 218.81 L235.89 218.91 L236.29 219.03 L236.68 219.17 L237.07 219.34 L237.47 219.55 L237.86 219.81 L238.25 220.12 L238.65 220.50 L239.04 220.98 L239.43 221.55 L239.83 222.26 L240.22 223.13 L240.61 224.18 L241.01 225.47 L241.40 227.05 L241.40 215.80Z" fill="#BDBDBD"/>
<rect x="147.4" y="129.2" width="94.00" height="98.60" fill="none" stroke="#484848" stroke-width="0.62"/>
<path d="M147.4 178.2H241.4M147.4 201.6H241.4" stroke="#484848" stroke-width="0.62"/>
<path d="M146.10 138.40h1.3" stroke="#333" stroke-width="0.45"/>
<text transform="matrix(1 0.0005 0 1 145.40 139.59)" font-size="3.3" text-anchor="end" fill="#111" stroke="#111" stroke-width="0.12">0.0</text>
<path d="M146.10 150.40h1.3" stroke="#333" stroke-width="0.45"/>
<text transform="matrix(1 0.0005 0 1 145.40 151.59)" font-size="3.3" text-anchor="end" fill="#111" stroke="#111" stroke-width="0.12">-0.2</text>
<path d="M146.10 162.40h1.3" stroke="#333" stroke-width="0.45"/>
<text transform="matrix(1 0.0005 0 1 145.40 163.59)" font-size="3.3" text-anchor="end" fill="#111" stroke="#111" stroke-width="0.12">-0.4</text>
<path d="M146.10 174.40h1.3" stroke="#333" stroke-width="0.45"/>
<text transform="matrix(1 0.0005 0 1 145.40 175.59)" font-size="3.3" text-anchor="end" fill="#111" stroke="#111" stroke-width="0.12">-0.6</text>
<path d="M146.10 206.80h1.3" stroke="#333" stroke-width="0.45"/>
<text transform="matrix(1 0.0005 0 1 145.40 207.99)" font-size="3.3" text-anchor="end" fill="#111" stroke="#111" stroke-width="0.12">1</text>
<path d="M146.10 215.80h1.3" stroke="#333" stroke-width="0.45"/>
<text transform="matrix(1 0.0005 0 1 145.40 216.99)" font-size="3.3" text-anchor="end" fill="#111" stroke="#111" stroke-width="0.12">0</text>
<path d="M146.10 224.80h1.3" stroke="#333" stroke-width="0.45"/>
<text transform="matrix(1 0.0005 0 1 145.40 225.99)" font-size="3.3" text-anchor="end" fill="#111" stroke="#111" stroke-width="0.12">-1</text>
<path d="M147.40 227.8v1.3" stroke="#333" stroke-width="0.45"/>
<text transform="matrix(1 0.0005 0 1 147.40 233.60)" font-size="4.0" text-anchor="middle" fill="#111" stroke="#111" stroke-width="0.12">0</text>
<path d="M170.38 227.8v1.3" stroke="#333" stroke-width="0.45"/>
<text transform="matrix(1 0.0005 0 1 170.38 233.60)" font-size="4.0" text-anchor="middle" fill="#111" stroke="#111" stroke-width="0.12">3000</text>
<path d="M193.37 227.8v1.3" stroke="#333" stroke-width="0.45"/>
<text transform="matrix(1 0.0005 0 1 193.37 233.60)" font-size="4.0" text-anchor="middle" fill="#111" stroke="#111" stroke-width="0.12">6000</text>
<path d="M216.35 227.8v1.3" stroke="#333" stroke-width="0.45"/>
<text transform="matrix(1 0.0005 0 1 216.35 233.60)" font-size="4.0" text-anchor="middle" fill="#111" stroke="#111" stroke-width="0.12">9000</text>
<path d="M239.33 227.8v1.3" stroke="#333" stroke-width="0.45"/>
<text transform="matrix(1 0.0005 0 1 239.33 233.60)" font-size="4.0" text-anchor="middle" fill="#111" stroke="#111" stroke-width="0.12">12000</text>
<text transform="matrix(1 0.0005 0 1 194.40 238.70)" font-size="4" text-anchor="middle" fill="#111" stroke="#111" stroke-width="0.06">Rank in Ordered Dataset</text>
<text transform="matrix(0.0005 -1 1 0 136.70 153.70)" font-size="4" text-anchor="middle" fill="#111" stroke="#111" stroke-width="0.06">Enrichment Score</text>
<text transform="matrix(0.0005 -1 1 0 138.70 214.70)" font-size="4" text-anchor="middle" fill="#111" stroke="#111" stroke-width="0.06">Ranked list metric</text>
</g>
<g>
<clipPath id="c5"><rect x="299.1" y="7.1" width="95.69999999999999" height="49.9"/></clipPath>
<path d="M299.87 57.00v4.66M299.88 57.00v4.66M299.91 57.00v4.66M299.93 57.00v4.66M300.00 57.00v4.66M300.27 57.00v4.66M300.46 57.00v4.66M300.52 57.00v4.66M300.54 57.00v4.66M300.57 57.00v4.66M300.60 57.00v4.66M300.74 57.00v4.66M300.75 57.00v4.66M300.83 57.00v4.66M300.83 57.00v4.66M300.84 57.00v4.66M300.90 57.00v4.66M300.93 57.00v4.66M300.99 57.00v4.66M301.43 57.00v4.66M301.47 57.00v4.66M301.49 57.00v4.66M301.61 57.00v4.66M301.67 57.00v4.66M301.80 57.00v4.66M302.07 57.00v4.66M302.10 57.00v4.66M302.31 57.00v4.66M302.35 57.00v4.66M303.05 57.00v4.66M303.13 57.00v4.66M303.23 57.00v4.66M303.24 57.00v4.66M303.28 57.00v4.66M303.46 57.00v4.66M303.55 57.00v4.66M303.61 57.00v4.66M303.61 57.00v4.66M303.64 57.00v4.66M303.78 57.00v4.66M303.92 57.00v4.66M303.96 57.00v4.66M304.00 57.00v4.66M304.07 57.00v4.66M304.17 57.00v4.66M304.17 57.00v4.66M304.44 57.00v4.66M304.55 57.00v4.66M304.62 57.00v4.66M304.71 57.00v4.66M304.73 57.00v4.66M304.85 57.00v4.66M304.88 57.00v4.66M304.94 57.00v4.66M304.94 57.00v4.66M304.97 57.00v4.66M305.03 57.00v4.66M305.16 57.00v4.66M305.28 57.00v4.66M305.74 57.00v4.66M305.75 57.00v4.66M305.75 57.00v4.66M305.79 57.00v4.66M305.93 57.00v4.66M305.95 57.00v4.66M306.00 57.00v4.66M306.08 57.00v4.66M306.08 57.00v4.66M306.16 57.00v4.66M306.28 57.00v4.66M306.50 57.00v4.66M306.93 57.00v4.66M306.95 57.00v4.66M306.95 57.00v4.66M307.01 57.00v4.66M307.13 57.00v4.66M307.16 57.00v4.66M307.22 57.00v4.66M307.35 57.00v4.66M307.36 57.00v4.66M307.71 57.00v4.66M307.80 57.00v4.66M308.01 57.00v4.66M308.04 57.00v4.66M308.08 57.00v4.66M308.11 57.00v4.66M308.84 57.00v4.66M308.85 57.00v4.66M309.03 57.00v4.66M309.07 57.00v4.66M309.19 57.00v4.66M309.33 57.00v4.66M309.34 57.00v4.66M309.41 57.00v4.66M309.42 57.00v4.66M309.42 57.00v4.66M309.50 57.00v4.66M309.54 57.00v4.66M309.59 57.00v4.66M309.63 57.00v4.66M309.82 57.00v4.66M309.96 57.00v4.66M309.98 57.00v4.66M310.27 57.00v4.66M310.50 57.00v4.66M310.66 57.00v4.66M310.67 57.00v4.66M310.73 57.00v4.66M310.91 57.00v4.66M310.94 57.00v4.66M311.24 57.00v4.66M311.35 57.00v4.66M311.37 57.00v4.66M311.39 57.00v4.66M311.57 57.00v4.66M311.60 57.00v4.66M311.72 57.00v4.66M311.80 57.00v4.66M312.10 57.00v4.66M312.50 57.00v4.66M312.52 57.00v4.66M312.66 57.00v4.66M312.71 57.00v4.66M312.83 57.00v4.66M313.01 57.00v4.66M313.28 57.00v4.66M313.38 57.00v4.66M313.52 57.00v4.66M313.60 57.00v4.66M313.88 57.00v4.66M313.97 57.00v4.66M314.16 57.00v4.66M314.17 57.00v4.66M314.24 57.00v4.66M314.38 57.00v4.66M314.40 57.00v4.66M314.93 57.00v4.66M314.97 57.00v4.66M315.31 57.00v4.66M315.42 57.00v4.66M315.60 57.00v4.66M315.61 57.00v4.66M315.68 57.00v4.66M315.88 57.00v4.66M315.89 57.00v4.66M315.96 57.00v4.66M315.98 57.00v4.66M315.99 57.00v4.66M316.39 57.00v4.66M316.51 57.00v4.66M316.62 57.00v4.66M316.73 57.00v4.66M316.88 57.00v4.66M316.89 57.00v4.66M316.99 57.00v4.66M317.02 57.00v4.66M317.08 57.00v4.66M317.14 57.00v4.66M317.24 57.00v4.66M317.31 57.00v4.66M317.44 57.00v4.66M317.46 57.00v4.66M317.57 57.00v4.66M317.58 57.00v4.66M317.74 57.00v4.66M317.76 57.00v4.66M317.79 57.00v4.66M317.84 57.00v4.66M317.92 57.00v4.66M317.98 57.00v4.66M317.99 57.00v4.66M318.06 57.00v4.66M318.49 57.00v4.66M318.55 57.00v4.66M318.56 57.00v4.66M318.60 57.00v4.66M318.76 57.00v4.66M318.97 57.00v4.66M319.01 57.00v4.66M319.05 57.00v4.66M319.05 57.00v4.66M319.12 57.00v4.66M319.18 57.00v4.66M319.24 57.00v4.66M319.47 57.00v4.66M319.55 57.00v4.66M319.55 57.00v4.66M319.55 57.00v4.66M319.71 57.00v4.66M319.91 57.00v4.66M319.91 57.00v4.66M320.00 57.00v4.66M320.18 57.00v4.66M320.32 57.00v4.66M320.35 57.00v4.66M320.50 57.00v4.66M320.51 57.00v4.66M320.65 57.00v4.66M320.76 57.00v4.66M320.78 57.00v4.66M320.95 57.00v4.66M320.96 57.00v4.66M321.33 57.00v4.66M321.36 57.00v4.66M321.55 57.00v4.66M321.65 57.00v4.66M321.66 57.00v4.66M321.68 57.00v4.66M321.69 57.00v4.66M321.72 57.00v4.66M321.75 57.00v4.66M321.95 57.00v4.66M321.97 57.00v4.66M322.30 57.00v4.66M322.36 57.00v4.66M322.41 57.00v4.66M322.43 57.00v4.66M322.80 57.00v4.66M323.04 57.00v4.66M323.18 57.00v4.66M323.19 57.00v4.66M323.25 57.00v4.66M323.38 57.00v4.66M323.56 57.00v4.66M323.83 57.00v4.66M323.92 57.00v4.66M324.00 57.00v4.66M324.06 57.00v4.66M324.17 57.00v4.66M324.23 57.00v4.66M324.50 57.00v4.66M324.81 57.00v4.66M324.99 57.00v4.66M325.06 57.00v4.66M325.15 57.00v4.66M326.04 57.00v4.66M326.36 57.00v4.66M326.51 57.00v4.66M327.00 57.00v4.66M327.01 57.00v4.66M327.08 57.00v4.66M327.20 57.00v4.66M327.43 57.00v4.66M327.43 57.00v4.66M327.53 57.00v4.66M327.83 57.00v4.66M328.08 57.00v4.66M328.52 57.00v4.66M328.67 57.00v4.66M328.90 57.00v4.66M329.20 57.00v4.66M329.23 57.00v4.66M329.24 57.00v4.66M329.46 57.00v4.66M329.58 57.00v4.66M329.97 57.00v4.66M330.28 57.00v4.66M330.88 57.00v4.66M331.29 57.00v4.66M331.68 57.00v4.66M331.77 57.00v4.66M331.93 57.00v4.66M332.28 57.00v4.66M332.56 57.00v4.66M332.57 57.00v4.66M332.58 57.00v4.66M332.72 57.00v4.66M332.89 57.00v4.66M333.07 57.00v4.66M335.45 57.00v4.66M335.81 57.00v4.66M340.18 57.00v4.66M341.52 57.00v4.66M342.61 57.00v4.66M345.31 57.00v4.66M347.54 57.00v4.66M348.57 57.00v4.66M353.33 57.00v4.66M355.25 57.00v4.66M357.45 57.00v4.66M358.17 57.00v4.66M363.96 57.00v4.66M364.78 57.00v4.66M364.93 57.00v4.66M365.79 57.00v4.66M368.48 57.00v4.66M370.10 57.00v4.66M370.10 57.00v4.66M371.09 57.00v4.66M371.54 57.00v4.66M371.58 57.00v4.66M371.89 57.00v4.66M375.42 57.00v4.66M375.73 57.00v4.66M375.73 57.00v4.66M378.42 57.00v4.66M380.17 57.00v4.66M382.73 57.00v4.66M391.99 57.00v4.66M394.56 57.00v4.66" stroke="#5BB0EC" stroke-width="0.36" stroke-opacity="0.8" fill="none"/>
<path d="M299.58 61.66v4.66M299.64 61.66v4.66M299.66 61.66v4.66M299.74 61.66v4.66M299.78 61.66v4.66M299.88 61.66v4.66M299.90 61.66v4.66M300.07 61.66v4.66M300.08 61.66v4.66M300.21 61.66v4.66M300.23 61.66v4.66M300.37 61.66v4.66M300.48 61.66v4.66M300.51 61.66v4.66M300.55 61.66v4.66M300.59 61.66v4.66M300.62 61.66v4.66M300.67 61.66v4.66M300.72 61.66v4.66M300.75 61.66v4.66M300.77 61.66v4.66M300.78 61.66v4.66M300.78 61.66v4.66M300.80 61.66v4.66M300.82 61.66v4.66M300.84 61.66v4.66M300.87 61.66v4.66M301.07 61.66v4.66M301.23 61.66v4.66M301.27 61.66v4.66M301.30 61.66v4.66M301.43 61.66v4.66M301.44 61.66v4.66M301.74 61.66v4.66M301.76 61.66v4.66M301.80 61.66v4.66M301.98 61.66v4.66M301.98 61.66v4.66M302.01 61.66v4.66M302.05 61.66v4.66M302.15 61.66v4.66M302.23 61.66v4.66M302.26 61.66v4.66M302.50 61.66v4.66M302.58 61.66v4.66M302.70 61.66v4.66M302.72 61.66v4.66M302.73 61.66v4.66M302.95 61.66v4.66M302.97 61.66v4.66M303.03 61.66v4.66M303.22 61.66v4.66M303.22 61.66v4.66M303.23 61.66v4.66M303.24 61.66v4.66M303.30 61.66v4.66M303.32 61.66v4.66M303.34 61.66v4.66M303.35 61.66v4.66M303.67 61.66v4.66M303.70 61.66v4.66M303.83 61.66v4.66M304.14 61.66v4.66M304.38 61.66v4.66M304.52 61.66v4.66M304.60 61.66v4.66M304.71 61.66v4.66M304.79 61.66v4.66M304.83 61.66v4.66M304.93 61.66v4.66M305.27 61.66v4.66M305.39 61.66v4.66M305.42 61.66v4.66M305.59 61.66v4.66M305.64 61.66v4.66M305.75 61.66v4.66M305.77 61.66v4.66M305.84 61.66v4.66M305.84 61.66v4.66M305.90 61.66v4.66M305.94 61.66v4.66M305.97 61.66v4.66M306.00 61.66v4.66M306.12 61.66v4.66M306.20 61.66v4.66M306.31 61.66v4.66M306.39 61.66v4.66M306.45 61.66v4.66M306.53 61.66v4.66M306.61 61.66v4.66M306.65 61.66v4.66M306.70 61.66v4.66M306.78 61.66v4.66M306.82 61.66v4.66M306.87 61.66v4.66M307.12 61.66v4.66M307.27 61.66v4.66M307.40 61.66v4.66M307.40 61.66v4.66M307.54 61.66v4.66M307.65 61.66v4.66M307.68 61.66v4.66M307.81 61.66v4.66M307.93 61.66v4.66M307.96 61.66v4.66M308.19 61.66v4.66M308.23 61.66v4.66M308.23 61.66v4.66M308.34 61.66v4.66M308.48 61.66v4.66M308.52 61.66v4.66M308.61 61.66v4.66M308.66 61.66v4.66M308.85 61.66v4.66M308.87 61.66v4.66M308.88 61.66v4.66M308.91 61.66v4.66M309.10 61.66v4.66M309.29 61.66v4.66M309.45 61.66v4.66M309.50 61.66v4.66M309.76 61.66v4.66M309.81 61.66v4.66M309.87 61.66v4.66M309.88 61.66v4.66M309.90 61.66v4.66M309.93 61.66v4.66M310.11 61.66v4.66M310.23 61.66v4.66M310.33 61.66v4.66M310.35 61.66v4.66M310.37 61.66v4.66M310.43 61.66v4.66M310.47 61.66v4.66M310.56 61.66v4.66M310.59 61.66v4.66M310.82 61.66v4.66M310.85 61.66v4.66M311.11 61.66v4.66M311.23 61.66v4.66M311.25 61.66v4.66M311.50 61.66v4.66M311.57 61.66v4.66M311.66 61.66v4.66M311.68 61.66v4.66M311.72 61.66v4.66M311.81 61.66v4.66M311.88 61.66v4.66M311.94 61.66v4.66M311.95 61.66v4.66M312.08 61.66v4.66M312.23 61.66v4.66M312.33 61.66v4.66M312.60 61.66v4.66M312.98 61.66v4.66M313.00 61.66v4.66M313.39 61.66v4.66M313.44 61.66v4.66M313.47 61.66v4.66M313.66 61.66v4.66M314.09 61.66v4.66M314.36 61.66v4.66M314.36 61.66v4.66M314.62 61.66v4.66M314.67 61.66v4.66M314.73 61.66v4.66M314.83 61.66v4.66M314.93 61.66v4.66M314.98 61.66v4.66M315.07 61.66v4.66M315.17 61.66v4.66M315.37 61.66v4.66M315.53 61.66v4.66M316.42 61.66v4.66M316.58 61.66v4.66M316.65 61.66v4.66M316.66 61.66v4.66M316.73 61.66v4.66M316.85 61.66v4.66M317.04 61.66v4.66M317.10 61.66v4.66M317.11 61.66v4.66M317.18 61.66v4.66M317.21 61.66v4.66M317.26 61.66v4.66M317.34 61.66v4.66M317.38 61.66v4.66M317.64 61.66v4.66M317.68 61.66v4.66M317.70 61.66v4.66M317.71 61.66v4.66M317.79 61.66v4.66M318.07 61.66v4.66M318.25 61.66v4.66M318.28 61.66v4.66M318.35 61.66v4.66M318.36 61.66v4.66M318.37 61.66v4.66M318.66 61.66v4.66M318.68 61.66v4.66M318.69 61.66v4.66M318.70 61.66v4.66M318.85 61.66v4.66M318.97 61.66v4.66M319.02 61.66v4.66M319.11 61.66v4.66M319.12 61.66v4.66M319.16 61.66v4.66M319.30 61.66v4.66M319.30 61.66v4.66M319.32 61.66v4.66M319.34 61.66v4.66M319.35 61.66v4.66M319.58 61.66v4.66M319.78 61.66v4.66M319.80 61.66v4.66M319.86 61.66v4.66M319.87 61.66v4.66M319.91 61.66v4.66M320.06 61.66v4.66M320.33 61.66v4.66M320.44 61.66v4.66M320.55 61.66v4.66M320.63 61.66v4.66M320.67 61.66v4.66M320.78 61.66v4.66M320.80 61.66v4.66M320.83 61.66v4.66M320.93 61.66v4.66M321.00 61.66v4.66M321.16 61.66v4.66M321.16 61.66v4.66M321.45 61.66v4.66M321.59 61.66v4.66M321.64 61.66v4.66M321.80 61.66v4.66M321.81 61.66v4.66M321.86 61.66v4.66M321.87 61.66v4.66M321.92 61.66v4.66M322.08 61.66v4.66M322.28 61.66v4.66M322.29 61.66v4.66M322.60 61.66v4.66M322.61 61.66v4.66M322.67 61.66v4.66M322.75 61.66v4.66M322.93 61.66v4.66M323.72 61.66v4.66M323.76 61.66v4.66M323.97 61.66v4.66M324.44 61.66v4.66M325.06 61.66v4.66M325.30 61.66v4.66M325.41 61.66v4.66M325.84 61.66v4.66M325.89 61.66v4.66M326.10 61.66v4.66M326.13 61.66v4.66M326.14 61.66v4.66M326.23 61.66v4.66M326.34 61.66v4.66M326.37 61.66v4.66M326.42 61.66v4.66M326.49 61.66v4.66M326.50 61.66v4.66M326.54 61.66v4.66M326.74 61.66v4.66M327.01 61.66v4.66M327.02 61.66v4.66M327.04 61.66v4.66M327.05 61.66v4.66M327.33 61.66v4.66M327.42 61.66v4.66M327.49 61.66v4.66M327.83 61.66v4.66M328.75 61.66v4.66M328.94 61.66v4.66M329.05 61.66v4.66M329.29 61.66v4.66M329.37 61.66v4.66M329.46 61.66v4.66M329.60 61.66v4.66M329.74 61.66v4.66M329.78 61.66v4.66M329.88 61.66v4.66M329.90 61.66v4.66M329.94 61.66v4.66M330.01 61.66v4.66M330.19 61.66v4.66M330.30 61.66v4.66M330.47 61.66v4.66M330.70 61.66v4.66M330.88 61.66v4.66M330.98 61.66v4.66M331.96 61.66v4.66M332.47 61.66v4.66M332.49 61.66v4.66M333.06 61.66v4.66M333.12 61.66v4.66M333.60 61.66v4.66M333.79 61.66v4.66M334.19 61.66v4.66M337.40 61.66v4.66M338.80 61.66v4.66M339.29 61.66v4.66M340.43 61.66v4.66M340.78 61.66v4.66M341.08 61.66v4.66M341.25 61.66v4.66M341.39 61.66v4.66M341.41 61.66v4.66M341.53 61.66v4.66M341.64 61.66v4.66M341.75 61.66v4.66M342.92 61.66v4.66M343.41 61.66v4.66M343.85 61.66v4.66M344.76 61.66v4.66M344.95 61.66v4.66M345.44 61.66v4.66M346.06 61.66v4.66M346.18 61.66v4.66M346.27 61.66v4.66M346.79 61.66v4.66M347.11 61.66v4.66M347.33 61.66v4.66M347.60 61.66v4.66M347.95 61.66v4.66M348.02 61.66v4.66M348.52 61.66v4.66M349.00 61.66v4.66M349.40 61.66v4.66M349.90 61.66v4.66M349.99 61.66v4.66M350.73 61.66v4.66M350.86 61.66v4.66M350.88 61.66v4.66M351.62 61.66v4.66M352.96 61.66v4.66M353.01 61.66v4.66M353.79 61.66v4.66M354.97 61.66v4.66M355.98 61.66v4.66M356.98 61.66v4.66M357.62 61.66v4.66M357.75 61.66v4.66M358.29 61.66v4.66M358.34 61.66v4.66M358.44 61.66v4.66M359.17 61.66v4.66M359.62 61.66v4.66M359.64 61.66v4.66M360.10 61.66v4.66M360.10 61.66v4.66M360.78 61.66v4.66M361.23 61.66v4.66M361.27 61.66v4.66M361.43 61.66v4.66M362.83 61.66v4.66M362.97 61.66v4.66M363.67 61.66v4.66M364.46 61.66v4.66M364.66 61.66v4.66M365.18 61.66v4.66M365.82 61.66v4.66M367.23 61.66v4.66M368.70 61.66v4.66M368.83 61.66v4.66M369.15 61.66v4.66M369.38 61.66v4.66M369.44 61.66v4.66M369.62 61.66v4.66M369.90 61.66v4.66M370.39 61.66v4.66M370.97 61.66v4.66M371.43 61.66v4.66M371.69 61.66v4.66M372.83 61.66v4.66M373.59 61.66v4.66M374.04 61.66v4.66M374.45 61.66v4.66M374.60 61.66v4.66M374.81 61.66v4.66M375.97 61.66v4.66M377.48 61.66v4.66M378.26 61.66v4.66M379.33 61.66v4.66M379.42 61.66v4.66M380.04 61.66v4.66M380.10 61.66v4.66M380.24 61.66v4.66M380.85 61.66v4.66M380.92 61.66v4.66M381.44 61.66v4.66M381.61 61.66v4.66M383.26 61.66v4.66M383.80 61.66v4.66M384.45 61.66v4.66M385.24 61.66v4.66M385.29 61.66v4.66M385.58 61.66v4.66M386.93 61.66v4.66M386.96 61.66v4.66M387.53 61.66v4.66M388.29 61.66v4.66M388.84 61.66v4.66M389.41 61.66v4.66M389.73 61.66v4.66M390.63 61.66v4.66M390.67 61.66v4.66M390.86 61.66v4.66M391.53 61.66v4.66M391.69 61.66v4.66M392.77 61.66v4.66M393.23 61.66v4.66M393.31 61.66v4.66M393.54 61.66v4.66M393.56 61.66v4.66M394.30 61.66v4.66" stroke="#EC4B8D" stroke-width="0.36" stroke-opacity="0.62" fill="none"/>
<path d="M299.19 66.32v4.66M299.49 66.32v4.66M299.53 66.32v4.66M299.81 66.32v4.66M299.82 66.32v4.66M299.90 66.32v4.66M299.92 66.32v4.66M300.40 66.32v4.66M300.45 66.32v4.66M300.50 66.32v4.66M300.79 66.32v4.66M300.81 66.32v4.66M300.96 66.32v4.66M300.97 66.32v4.66M301.06 66.32v4.66M301.19 66.32v4.66M301.24 66.32v4.66M301.26 66.32v4.66M301.34 66.32v4.66M301.37 66.32v4.66M301.62 66.32v4.66M301.67 66.32v4.66M301.70 66.32v4.66M302.55 66.32v4.66M303.10 66.32v4.66M303.13 66.32v4.66M303.19 66.32v4.66M303.19 66.32v4.66M303.35 66.32v4.66M303.47 66.32v4.66M303.53 66.32v4.66M303.55 66.32v4.66M303.67 66.32v4.66M303.77 66.32v4.66M303.92 66.32v4.66M304.25 66.32v4.66M304.29 66.32v4.66M304.48 66.32v4.66M304.53 66.32v4.66M304.62 66.32v4.66M305.23 66.32v4.66M305.28 66.32v4.66M305.35 66.32v4.66M305.69 66.32v4.66M305.85 66.32v4.66M306.67 66.32v4.66M306.78 66.32v4.66M306.80 66.32v4.66M306.95 66.32v4.66M307.30 66.32v4.66M307.49 66.32v4.66M307.77 66.32v4.66M307.91 66.32v4.66M308.16 66.32v4.66M308.16 66.32v4.66M308.17 66.32v4.66M308.35 66.32v4.66M308.63 66.32v4.66M309.07 66.32v4.66M309.09 66.32v4.66M309.24 66.32v4.66M309.30 66.32v4.66M309.33 66.32v4.66M309.83 66.32v4.66M309.98 66.32v4.66M310.21 66.32v4.66M310.57 66.32v4.66M310.58 66.32v4.66M310.65 66.32v4.66M310.83 66.32v4.66M311.10 66.32v4.66M311.21 66.32v4.66M311.30 66.32v4.66M311.65 66.32v4.66M311.73 66.32v4.66M311.82 66.32v4.66M312.22 66.32v4.66M312.27 66.32v4.66M312.65 66.32v4.66M313.69 66.32v4.66M313.80 66.32v4.66M313.91 66.32v4.66M314.01 66.32v4.66M314.33 66.32v4.66M314.50 66.32v4.66M314.92 66.32v4.66M315.00 66.32v4.66M315.17 66.32v4.66M315.38 66.32v4.66M315.52 66.32v4.66M315.58 66.32v4.66M315.70 66.32v4.66M315.73 66.32v4.66M315.81 66.32v4.66M315.86 66.32v4.66M316.03 66.32v4.66M316.52 66.32v4.66M316.56 66.32v4.66M316.93 66.32v4.66M317.04 66.32v4.66M317.26 66.32v4.66M317.94 66.32v4.66M318.04 66.32v4.66M318.14 66.32v4.66M318.36 66.32v4.66M318.42 66.32v4.66M318.53 66.32v4.66M318.59 66.32v4.66M318.61 66.32v4.66M318.67 66.32v4.66M318.86 66.32v4.66M319.11 66.32v4.66M319.74 66.32v4.66M319.95 66.32v4.66M319.98 66.32v4.66M320.24 66.32v4.66M320.33 66.32v4.66M320.48 66.32v4.66M320.58 66.32v4.66M320.77 66.32v4.66M321.36 66.32v4.66M321.48 66.32v4.66M321.52 66.32v4.66M321.53 66.32v4.66M321.96 66.32v4.66M322.17 66.32v4.66M322.31 66.32v4.66M322.33 66.32v4.66M322.46 66.32v4.66M322.47 66.32v4.66M322.54 66.32v4.66M322.64 66.32v4.66M322.85 66.32v4.66M322.92 66.32v4.66M323.41 66.32v4.66M323.52 66.32v4.66M323.57 66.32v4.66M324.15 66.32v4.66M324.24 66.32v4.66M324.35 66.32v4.66M324.37 66.32v4.66M324.56 66.32v4.66M325.26 66.32v4.66M325.52 66.32v4.66M325.58 66.32v4.66M325.88 66.32v4.66M326.04 66.32v4.66M326.23 66.32v4.66M326.23 66.32v4.66M326.31 66.32v4.66M326.83 66.32v4.66M327.01 66.32v4.66M327.04 66.32v4.66M327.12 66.32v4.66M327.30 66.32v4.66M327.56 66.32v4.66M327.60 66.32v4.66M327.72 66.32v4.66M328.10 66.32v4.66M328.46 66.32v4.66M329.01 66.32v4.66M329.15 66.32v4.66M329.28 66.32v4.66M330.76 66.32v4.66M331.19 66.32v4.66M332.12 66.32v4.66M332.60 66.32v4.66M332.60 66.32v4.66M341.74 66.32v4.66M345.08 66.32v4.66M345.46 66.32v4.66M347.02 66.32v4.66M347.08 66.32v4.66M348.24 66.32v4.66M348.64 66.32v4.66M349.56 66.32v4.66M352.62 66.32v4.66M356.26 66.32v4.66M357.41 66.32v4.66M358.07 66.32v4.66M358.68 66.32v4.66M359.41 66.32v4.66M360.85 66.32v4.66M360.96 66.32v4.66M362.12 66.32v4.66M367.14 66.32v4.66M367.21 66.32v4.66M373.25 66.32v4.66M377.07 66.32v4.66M378.37 66.32v4.66M382.27 66.32v4.66M383.24 66.32v4.66M383.76 66.32v4.66M384.20 66.32v4.66M384.85 66.32v4.66M389.97 66.32v4.66M390.98 66.32v4.66M392.66 66.32v4.66M393.08 66.32v4.66M394.79 66.32v4.66" stroke="#F4B7BF" stroke-width="0.36" stroke-opacity="0.75" fill="none"/>
<path d="M299.25 70.98v4.66M299.32 70.98v4.66M299.60 70.98v4.66M299.67 70.98v4.66M299.72 70.98v4.66M300.02 70.98v4.66M300.64 70.98v4.66M300.82 70.98v4.66M301.04 70.98v4.66M301.86 70.98v4.66M301.93 70.98v4.66M302.04 70.98v4.66M302.12 70.98v4.66M302.30 70.98v4.66M302.78 70.98v4.66M303.06 70.98v4.66M303.40 70.98v4.66M303.70 70.98v4.66M303.88 70.98v4.66M303.97 70.98v4.66M304.23 70.98v4.66M304.37 70.98v4.66M305.06 70.98v4.66M305.07 70.98v4.66M306.41 70.98v4.66M306.74 70.98v4.66M306.81 70.98v4.66M306.85 70.98v4.66M307.21 70.98v4.66M307.43 70.98v4.66M307.69 70.98v4.66M307.94 70.98v4.66M307.99 70.98v4.66M308.06 70.98v4.66M308.34 70.98v4.66M308.38 70.98v4.66M308.70 70.98v4.66M308.75 70.98v4.66M308.82 70.98v4.66M308.86 70.98v4.66M309.29 70.98v4.66M309.60 70.98v4.66M309.74 70.98v4.66M309.88 70.98v4.66M309.89 70.98v4.66M311.37 70.98v4.66M311.48 70.98v4.66M311.57 70.98v4.66M311.73 70.98v4.66M312.09 70.98v4.66M312.13 70.98v4.66M312.46 70.98v4.66M312.79 70.98v4.66M313.18 70.98v4.66M313.19 70.98v4.66M313.43 70.98v4.66M313.52 70.98v4.66M313.93 70.98v4.66M314.80 70.98v4.66M314.85 70.98v4.66M315.68 70.98v4.66M316.74 70.98v4.66M316.77 70.98v4.66M316.92 70.98v4.66M317.18 70.98v4.66M317.61 70.98v4.66M317.81 70.98v4.66M318.80 70.98v4.66M319.43 70.98v4.66M320.19 70.98v4.66M320.40 70.98v4.66M320.44 70.98v4.66M320.58 70.98v4.66M320.75 70.98v4.66M321.07 70.98v4.66M321.19 70.98v4.66M321.21 70.98v4.66M321.29 70.98v4.66M321.62 70.98v4.66M321.97 70.98v4.66M322.52 70.98v4.66M322.56 70.98v4.66M322.73 70.98v4.66M323.13 70.98v4.66M323.61 70.98v4.66M323.65 70.98v4.66M323.79 70.98v4.66M324.37 70.98v4.66M324.47 70.98v4.66M324.48 70.98v4.66M325.14 70.98v4.66M325.38 70.98v4.66M325.57 70.98v4.66M325.93 70.98v4.66M326.00 70.98v4.66M326.36 70.98v4.66M326.37 70.98v4.66M326.56 70.98v4.66M326.59 70.98v4.66M327.21 70.98v4.66M327.80 70.98v4.66M327.84 70.98v4.66M327.95 70.98v4.66M328.52 70.98v4.66M328.70 70.98v4.66M329.72 70.98v4.66M329.90 70.98v4.66M330.17 70.98v4.66M330.60 70.98v4.66M330.68 70.98v4.66M330.74 70.98v4.66M331.22 70.98v4.66M331.43 70.98v4.66M331.61 70.98v4.66M333.50 70.98v4.66M340.85 70.98v4.66M342.66 70.98v4.66M344.36 70.98v4.66M347.64 70.98v4.66M349.88 70.98v4.66M354.89 70.98v4.66M358.31 70.98v4.66M360.49 70.98v4.66M374.01 70.98v4.66M385.27 70.98v4.66M386.18 70.98v4.66M389.96 70.98v4.66M389.97 70.98v4.66M391.48 70.98v4.66M391.79 70.98v4.66" stroke="#C8A1DA" stroke-width="0.36" stroke-opacity="0.7" fill="none"/>
<path d="M299.15 75.64v4.66M299.46 75.64v4.66M299.86 75.64v4.66M299.98 75.64v4.66M300.00 75.64v4.66M300.03 75.64v4.66M300.10 75.64v4.66M300.12 75.64v4.66M300.21 75.64v4.66M300.42 75.64v4.66M300.57 75.64v4.66M300.64 75.64v4.66M301.09 75.64v4.66M301.45 75.64v4.66M301.46 75.64v4.66M301.64 75.64v4.66M301.67 75.64v4.66M301.82 75.64v4.66M301.94 75.64v4.66M302.00 75.64v4.66M302.05 75.64v4.66M302.32 75.64v4.66M302.33 75.64v4.66M302.65 75.64v4.66M302.66 75.64v4.66M302.67 75.64v4.66M302.78 75.64v4.66M303.20 75.64v4.66M303.23 75.64v4.66M303.68 75.64v4.66M304.01 75.64v4.66M304.09 75.64v4.66M304.17 75.64v4.66M304.33 75.64v4.66M304.56 75.64v4.66M304.60 75.64v4.66M304.68 75.64v4.66M304.70 75.64v4.66M304.75 75.64v4.66M305.14 75.64v4.66M305.37 75.64v4.66M305.57 75.64v4.66M305.81 75.64v4.66M305.84 75.64v4.66M305.93 75.64v4.66M306.42 75.64v4.66M307.03 75.64v4.66M307.17 75.64v4.66M307.28 75.64v4.66M307.29 75.64v4.66M307.40 75.64v4.66M307.47 75.64v4.66M307.96 75.64v4.66M308.07 75.64v4.66M308.46 75.64v4.66M308.52 75.64v4.66M308.53 75.64v4.66M308.70 75.64v4.66M308.88 75.64v4.66M309.00 75.64v4.66M309.09 75.64v4.66M309.15 75.64v4.66M309.42 75.64v4.66M309.82 75.64v4.66M310.09 75.64v4.66M310.13 75.64v4.66M310.21 75.64v4.66M310.23 75.64v4.66M310.64 75.64v4.66M310.89 75.64v4.66M311.10 75.64v4.66M311.30 75.64v4.66M311.34 75.64v4.66M311.40 75.64v4.66M311.44 75.64v4.66M311.51 75.64v4.66M312.27 75.64v4.66M312.48 75.64v4.66M312.77 75.64v4.66M313.13 75.64v4.66M313.23 75.64v4.66M314.28 75.64v4.66M314.45 75.64v4.66M314.47 75.64v4.66M314.47 75.64v4.66M314.93 75.64v4.66M315.09 75.64v4.66M316.26 75.64v4.66M316.30 75.64v4.66M316.44 75.64v4.66M316.56 75.64v4.66M316.70 75.64v4.66M316.78 75.64v4.66M316.98 75.64v4.66M317.05 75.64v4.66M317.09 75.64v4.66M317.19 75.64v4.66M317.28 75.64v4.66M317.44 75.64v4.66M317.57 75.64v4.66M318.87 75.64v4.66M319.09 75.64v4.66M319.68 75.64v4.66M319.81 75.64v4.66M319.96 75.64v4.66M320.58 75.64v4.66M320.77 75.64v4.66M321.27 75.64v4.66M321.65 75.64v4.66M321.71 75.64v4.66M321.99 75.64v4.66M322.85 75.64v4.66M324.54 75.64v4.66M325.68 75.64v4.66M325.69 75.64v4.66M326.41 75.64v4.66M326.66 75.64v4.66M326.67 75.64v4.66M326.67 75.64v4.66M326.72 75.64v4.66M326.72 75.64v4.66M327.03 75.64v4.66M327.14 75.64v4.66M327.39 75.64v4.66M327.79 75.64v4.66M328.04 75.64v4.66M328.21 75.64v4.66M328.27 75.64v4.66M328.54 75.64v4.66M328.67 75.64v4.66M328.91 75.64v4.66M329.64 75.64v4.66M329.81 75.64v4.66M329.95 75.64v4.66M330.13 75.64v4.66M330.44 75.64v4.66M330.88 75.64v4.66M331.20 75.64v4.66M331.29 75.64v4.66M331.41 75.64v4.66M331.87 75.64v4.66M331.91 75.64v4.66M332.34 75.64v4.66M332.44 75.64v4.66M332.68 75.64v4.66M337.09 75.64v4.66M338.47 75.64v4.66M338.90 75.64v4.66M340.12 75.64v4.66M342.91 75.64v4.66M342.93 75.64v4.66M344.50 75.64v4.66M347.18 75.64v4.66M347.82 75.64v4.66M348.28 75.64v4.66M349.31 75.64v4.66M349.79 75.64v4.66M351.72 75.64v4.66M352.90 75.64v4.66M361.48 75.64v4.66M365.26 75.64v4.66M370.71 75.64v4.66M373.02 75.64v4.66M374.09 75.64v4.66M374.19 75.64v4.66M375.21 75.64v4.66M377.99 75.64v4.66M379.23 75.64v4.66M381.81 75.64v4.66M388.64 75.64v4.66" stroke="#5CC5A7" stroke-width="0.36" stroke-opacity="0.6" fill="none"/>
<g clip-path="url(#c5)">
<path d="M299.10 53.90 L299.11 53.91 L299.11 53.66 L299.21 53.74 L299.21 53.49 L299.25 53.52 L299.25 53.27 L299.46 53.44 L299.46 53.19 L299.61 53.31 L299.61 53.06 L299.62 53.07 L299.62 52.82 L299.67 52.85 L299.67 52.60 L299.68 52.62 L299.68 52.37 L299.73 52.40 L299.73 52.15 L299.78 52.19 L299.78 51.94 L299.87 52.01 L299.87 51.77 L299.91 51.80 L299.91 51.55 L299.99 51.61 L299.99 51.36 L300.01 51.38 L300.01 51.14 L300.07 51.17 L300.07 50.93 L300.10 50.95 L300.10 50.70 L300.12 50.72 L300.12 50.47 L300.18 50.52 L300.18 50.27 L300.38 50.43 L300.38 50.18 L300.41 50.20 L300.41 49.95 L300.45 49.98 L300.45 49.73 L300.49 49.77 L300.49 49.52 L300.50 49.53 L300.50 49.28 L300.52 49.30 L300.52 49.05 L300.55 49.06 L300.55 48.82 L300.57 48.84 L300.57 48.59 L300.58 48.59 L300.58 48.34 L300.58 48.35 L300.58 48.10 L300.58 48.10 L300.58 47.85 L300.61 47.87 L300.61 47.63 L300.62 47.63 L300.62 47.38 L300.70 47.44 L300.70 47.19 L300.71 47.21 L300.71 46.96 L300.73 46.97 L300.73 46.72 L300.82 46.79 L300.82 46.55 L300.86 46.58 L300.86 46.33 L300.88 46.34 L300.88 46.09 L300.89 46.10 L300.89 45.86 L300.94 45.89 L300.94 45.64 L300.95 45.66 L300.95 45.41 L301.11 45.53 L301.11 45.28 L301.17 45.33 L301.17 45.08 L301.25 45.14 L301.25 44.89 L301.31 44.94 L301.31 44.69 L301.46 44.81 L301.46 44.56 L301.58 44.65 L301.58 44.40 L301.61 44.43 L301.61 44.18 L301.62 44.19 L301.62 43.94 L301.79 44.07 L301.79 43.82 L301.79 43.82 L301.79 43.57 L301.79 43.58 L301.79 43.33 L301.88 43.39 L301.88 43.15 L301.93 43.19 L301.93 42.94 L301.95 42.96 L301.95 42.71 L301.95 42.71 L301.95 42.46 L301.99 42.49 L301.99 42.24 L302.02 42.26 L302.02 42.01 L302.02 42.02 L302.02 41.77 L302.20 41.91 L302.20 41.66 L302.22 41.67 L302.22 41.42 L302.22 41.42 L302.22 41.17 L302.31 41.25 L302.31 41.00 L302.49 41.14 L302.49 40.89 L302.54 40.93 L302.54 40.68 L302.55 40.69 L302.55 40.44 L302.55 40.44 L302.55 40.20 L302.56 40.20 L302.56 39.95 L302.59 39.97 L302.59 39.72 L302.67 39.79 L302.67 39.54 L302.80 39.64 L302.80 39.39 L302.81 39.40 L302.81 39.15 L302.82 39.16 L302.82 38.92 L302.91 38.99 L302.91 38.74 L303.02 38.82 L303.02 38.57 L303.07 38.61 L303.07 38.36 L303.16 38.43 L303.16 38.18 L303.37 38.35 L303.37 38.10 L303.41 38.13 L303.41 37.88 L303.42 37.89 L303.42 37.64 L303.42 37.64 L303.42 37.39 L303.52 37.47 L303.52 37.22 L303.59 37.27 L303.59 37.03 L303.75 37.15 L303.75 36.90 L303.75 36.91 L303.75 36.66 L303.87 36.75 L303.87 36.50 L303.87 36.50 L303.87 36.25 L304.01 36.36 L304.01 36.11 L304.04 36.14 L304.04 35.89 L304.06 35.90 L304.06 35.66 L304.17 35.74 L304.17 35.49 L304.20 35.52 L304.20 35.27 L304.21 35.27 L304.21 35.03 L304.26 35.07 L304.26 34.82 L304.34 34.88 L304.34 34.63 L304.35 34.64 L304.35 34.39 L304.54 34.54 L304.54 34.30 L304.62 34.35 L304.62 34.10 L304.74 34.20 L304.74 33.95 L304.83 34.02 L304.83 33.77 L304.87 33.81 L304.87 33.56 L304.93 33.60 L304.93 33.35 L305.04 33.44 L305.04 33.19 L305.06 33.21 L305.06 32.96 L305.08 32.97 L305.08 32.72 L305.15 32.78 L305.15 32.53 L305.19 32.56 L305.19 32.31 L305.19 32.31 L305.19 32.07 L305.24 32.11 L305.24 31.86 L305.36 31.95 L305.36 31.70 L305.41 31.74 L305.41 31.49 L305.46 31.53 L305.46 31.28 L305.55 31.35 L305.55 31.10 L305.59 31.13 L305.59 30.88 L305.69 30.96 L305.69 30.72 L305.71 30.73 L305.71 30.49 L305.74 30.51 L305.74 30.26 L305.96 30.43 L305.96 30.18 L306.05 30.25 L306.05 30.00 L306.12 30.05 L306.12 29.81 L306.19 29.86 L306.19 29.61 L306.46 29.82 L306.46 29.57 L306.52 29.62 L306.52 29.37 L306.56 29.41 L306.56 29.16 L306.62 29.20 L306.62 28.95 L306.70 29.02 L306.70 28.77 L306.76 28.82 L306.76 28.57 L306.80 28.60 L306.80 28.35 L306.88 28.41 L306.88 28.16 L306.97 28.24 L306.97 27.99 L307.17 28.14 L307.17 27.90 L307.18 27.90 L307.18 27.66 L307.27 27.72 L307.27 27.47 L307.48 27.64 L307.48 27.39 L307.52 27.42 L307.52 27.17 L307.58 27.22 L307.58 26.97 L307.66 27.03 L307.66 26.79 L307.67 26.79 L307.67 26.54 L307.75 26.61 L307.75 26.36 L308.14 26.66 L308.14 26.42 L308.41 26.62 L308.41 26.37 L308.45 26.41 L308.45 26.16 L308.59 26.27 L308.59 26.02 L308.67 26.08 L308.67 25.83 L308.85 25.97 L308.85 25.73 L309.02 25.85 L309.02 25.61 L309.02 25.61 L309.02 25.36 L309.13 25.44 L309.13 25.20 L309.38 25.40 L309.38 25.15 L309.44 25.19 L309.44 24.94 L309.45 24.95 L309.45 24.70 L309.56 24.79 L309.56 24.54 L309.59 24.56 L309.59 24.31 L309.65 24.36 L309.65 24.12 L309.79 24.22 L309.79 23.97 L310.11 24.23 L310.11 23.98 L310.35 24.16 L310.35 23.91 L310.41 23.96 L310.41 23.71 L310.47 23.76 L310.47 23.51 L310.50 23.53 L310.50 23.28 L310.84 23.55 L310.84 23.30 L310.84 23.30 L310.84 23.05 L311.09 23.25 L311.09 23.00 L311.11 23.02 L311.11 22.77 L311.21 22.84 L311.21 22.60 L311.37 22.72 L311.37 22.47 L311.40 22.49 L311.40 22.25 L311.47 22.30 L311.47 22.05 L311.47 22.06 L311.47 21.81 L311.50 21.82 L311.50 21.58 L311.51 21.59 L311.51 21.34 L311.60 21.41 L311.60 21.16 L311.63 21.19 L311.63 20.94 L311.64 20.95 L311.64 20.70 L311.73 20.76 L311.73 20.51 L311.84 20.60 L311.84 20.35 L311.93 20.42 L311.93 20.17 L311.98 20.21 L311.98 19.96 L312.00 19.98 L312.00 19.73 L312.12 19.82 L312.12 19.57 L312.13 19.59 L312.13 19.34 L312.26 19.44 L312.26 19.19 L312.34 19.25 L312.34 19.01 L312.44 19.09 L312.44 18.84 L312.60 18.96 L312.60 18.71 L312.66 18.75 L312.66 18.51 L312.75 18.58 L312.75 18.33 L312.78 18.35 L312.78 18.10 L312.89 18.19 L312.89 17.94 L312.98 18.01 L312.98 17.76 L313.02 17.79 L313.02 17.55 L313.06 17.58 L313.06 17.33 L313.12 17.38 L313.12 17.13 L313.18 17.17 L313.18 16.92 L314.05 17.60 L314.05 17.35 L314.10 17.40 L314.10 17.15 L314.13 17.17 L314.13 16.92 L314.18 16.96 L314.18 16.71 L314.20 16.73 L314.20 16.48 L314.30 16.56 L314.30 16.31 L314.32 16.32 L314.32 16.07 L314.78 16.43 L314.78 16.18 L314.93 16.30 L314.93 16.05 L314.95 16.07 L314.95 15.82 L315.13 15.96 L315.13 15.72 L315.20 15.76 L315.20 15.52 L315.25 15.56 L315.25 15.31 L315.28 15.33 L315.28 15.08 L315.47 15.23 L315.47 14.98 L315.77 15.22 L315.77 14.97 L316.12 15.24 L316.12 15.00 L316.14 15.01 L316.14 14.76 L316.23 14.83 L316.23 14.58 L316.25 14.60 L316.25 14.35 L316.26 14.36 L316.26 14.11 L316.37 14.19 L316.37 13.94 L316.45 14.01 L316.45 13.76 L316.50 13.80 L316.50 13.55 L316.55 13.59 L316.55 13.34 L316.60 13.38 L316.60 13.13 L316.68 13.19 L316.68 12.94 L316.69 12.95 L316.69 12.70 L316.82 12.81 L316.82 12.56 L316.99 12.69 L316.99 12.44 L317.37 12.74 L317.37 12.49 L317.80 12.83 L317.80 12.58 L317.92 12.67 L317.92 12.42 L318.32 12.73 L318.32 12.48 L318.46 12.59 L318.46 12.34 L319.24 12.95 L319.24 12.70 L319.25 12.71 L319.25 12.46 L319.40 12.58 L319.40 12.33 L319.49 12.40 L319.49 12.15 L319.85 12.43 L319.85 12.19 L320.13 12.40 L320.13 12.16 L320.28 12.27 L320.28 12.02 L320.65 12.31 L320.65 12.06 L320.83 12.20 L320.83 11.95 L320.87 11.98 L320.87 11.73 L321.19 11.98 L321.19 11.73 L321.27 11.80 L321.27 11.55 L321.73 11.91 L321.73 11.66 L321.82 11.73 L321.82 11.48 L321.85 11.50 L321.85 11.26 L322.00 11.37 L322.00 11.12 L322.08 11.19 L322.08 10.94 L322.13 10.98 L322.13 10.73 L322.50 11.02 L322.50 10.77 L322.60 10.85 L322.60 10.60 L322.80 10.75 L322.80 10.51 L322.82 10.53 L322.82 10.28 L323.32 10.67 L323.32 10.42 L324.06 10.99 L324.06 10.74 L324.26 10.90 L324.26 10.65 L324.26 10.65 L324.26 10.40 L324.32 10.45 L324.32 10.20 L324.88 10.64 L324.88 10.39 L325.16 10.60 L325.16 10.35 L325.32 10.48 L325.32 10.23 L325.42 10.31 L325.42 10.06 L325.61 10.21 L325.61 9.96 L325.95 10.23 L325.95 9.98 L326.04 10.05 L326.04 9.80 L326.85 10.43 L326.85 10.19 L327.31 10.54 L327.31 10.29 L327.55 10.48 L327.55 10.23 L327.74 10.38 L327.74 10.13 L327.82 10.19 L327.82 9.94 L328.75 10.67 L328.75 10.42 L329.07 10.67 L329.07 10.42 L329.50 10.75 L329.50 10.50 L330.52 11.31 L330.52 11.06 L331.07 11.48 L331.07 11.23 L332.92 12.67 L332.92 12.42 L333.44 12.83 L333.44 12.59 L333.84 12.89 L333.84 12.65 L335.16 13.68 L335.16 13.43 L341.95 18.71 L341.95 18.46 L344.19 20.21 L344.19 19.96 L346.31 21.61 L346.31 21.36 L346.60 21.59 L346.60 21.34 L347.25 21.84 L347.25 21.59 L350.46 24.10 L350.46 23.85 L356.24 28.35 L356.24 28.10 L360.97 31.78 L360.97 31.53 L364.99 34.66 L364.99 34.42 L367.08 36.04 L367.08 35.79 L369.86 37.96 L369.86 37.71 L374.45 41.29 L374.45 41.04 L375.65 41.97 L375.65 41.72 L377.41 43.09 L377.41 42.84 L377.73 43.09 L377.73 42.84 L378.54 43.48 L378.54 43.23 L383.37 46.99 L383.37 46.74 L386.08 48.85 L386.08 48.60 L386.74 49.12 L386.74 48.87 L387.84 49.72 L387.84 49.47 L389.19 50.53 L389.19 50.28 L390.09 50.98 L390.09 50.73 L394.15 53.89 L394.15 53.64 L394.71 54.08 L394.71 53.83 L394.80 53.90" stroke="#5BB0EC" stroke-width="0.42" fill="none" stroke-linejoin="round"/>
<path d="M299.10 53.90 L299.12 53.92 L299.12 53.67 L299.20 53.73 L299.20 53.48 L299.23 53.50 L299.23 53.26 L299.26 53.29 L299.26 53.04 L299.28 53.06 L299.28 52.81 L299.43 52.92 L299.43 52.67 L299.46 52.69 L299.46 52.45 L299.61 52.57 L299.61 52.32 L299.63 52.34 L299.63 52.09 L299.70 52.15 L299.70 51.90 L299.72 51.91 L299.72 51.66 L299.76 51.69 L299.76 51.45 L299.81 51.49 L299.81 51.24 L299.81 51.24 L299.81 51.00 L299.91 51.07 L299.91 50.83 L299.96 50.86 L299.96 50.62 L300.03 50.67 L300.03 50.43 L300.12 50.50 L300.12 50.25 L300.24 50.34 L300.24 50.09 L300.30 50.14 L300.30 49.89 L300.31 49.90 L300.31 49.66 L300.32 49.66 L300.32 49.42 L300.49 49.55 L300.49 49.30 L300.52 49.32 L300.52 49.07 L300.54 49.09 L300.54 48.84 L300.54 48.85 L300.54 48.60 L300.54 48.60 L300.54 48.36 L300.60 48.40 L300.60 48.15 L300.63 48.18 L300.63 47.93 L300.89 48.13 L300.89 47.89 L300.95 47.93 L300.95 47.68 L301.04 47.75 L301.04 47.51 L301.06 47.52 L301.06 47.28 L301.07 47.28 L301.07 47.03 L301.08 47.04 L301.08 46.80 L301.10 46.81 L301.10 46.56 L301.10 46.56 L301.10 46.32 L301.32 46.49 L301.32 46.24 L301.34 46.26 L301.34 46.01 L301.38 46.04 L301.38 45.80 L301.39 45.80 L301.39 45.56 L301.48 45.63 L301.48 45.38 L301.50 45.39 L301.50 45.14 L301.57 45.20 L301.57 44.95 L301.72 45.07 L301.72 44.82 L301.78 44.87 L301.78 44.62 L302.42 45.12 L302.42 44.88 L302.43 44.88 L302.43 44.63 L302.55 44.73 L302.55 44.48 L302.72 44.61 L302.72 44.36 L302.80 44.43 L302.80 44.18 L302.83 44.20 L302.83 43.96 L302.86 43.98 L302.86 43.73 L302.87 43.74 L302.87 43.49 L302.93 43.54 L302.93 43.29 L302.98 43.33 L302.98 43.09 L303.07 43.16 L303.07 42.91 L303.10 42.93 L303.10 42.68 L303.13 42.71 L303.13 42.46 L303.22 42.53 L303.22 42.28 L303.22 42.28 L303.22 42.04 L303.28 42.08 L303.28 41.84 L303.63 42.11 L303.63 41.86 L303.70 41.91 L303.70 41.67 L303.72 41.68 L303.72 41.44 L304.03 41.68 L304.03 41.43 L304.05 41.45 L304.05 41.20 L304.15 41.27 L304.15 41.03 L304.16 41.04 L304.16 40.79 L304.19 40.81 L304.19 40.56 L304.22 40.59 L304.22 40.34 L304.25 40.36 L304.25 40.12 L304.25 40.12 L304.25 39.87 L304.36 39.96 L304.36 39.71 L304.48 39.80 L304.48 39.56 L304.64 39.68 L304.64 39.44 L304.74 39.51 L304.74 39.26 L304.77 39.29 L304.77 39.05 L304.78 39.05 L304.78 38.81 L304.90 38.90 L304.90 38.65 L304.91 38.66 L304.91 38.41 L305.01 38.49 L305.01 38.24 L305.19 38.38 L305.19 38.14 L305.19 38.14 L305.19 37.89 L305.32 37.99 L305.32 37.74 L305.35 37.76 L305.35 37.51 L305.37 37.54 L305.37 37.29 L305.39 37.30 L305.39 37.06 L305.61 37.23 L305.61 36.98 L305.78 37.11 L305.78 36.86 L305.97 37.01 L305.97 36.76 L306.18 36.92 L306.18 36.68 L306.20 36.70 L306.20 36.45 L306.21 36.46 L306.21 36.21 L306.32 36.29 L306.32 36.05 L306.40 36.11 L306.40 35.86 L306.41 35.87 L306.41 35.62 L306.46 35.66 L306.46 35.41 L306.47 35.42 L306.47 35.18 L306.63 35.30 L306.63 35.05 L306.65 35.07 L306.65 34.82 L306.70 34.86 L306.70 34.62 L306.80 34.69 L306.80 34.45 L306.80 34.45 L306.80 34.20 L306.87 34.25 L306.87 34.01 L306.90 34.03 L306.90 33.79 L307.03 33.89 L307.03 33.64 L307.19 33.76 L307.19 33.51 L307.26 33.57 L307.26 33.32 L307.41 33.44 L307.41 33.19 L307.45 33.22 L307.45 32.98 L307.56 33.06 L307.56 32.81 L307.60 32.85 L307.60 32.60 L307.65 32.64 L307.65 32.39 L307.83 32.53 L307.83 32.28 L307.87 32.31 L307.87 32.07 L308.24 32.35 L308.24 32.10 L308.47 32.28 L308.47 32.04 L308.78 32.28 L308.78 32.03 L309.04 32.23 L309.04 31.99 L309.07 32.01 L309.07 31.76 L309.14 31.82 L309.14 31.57 L309.28 31.67 L309.28 31.43 L309.34 31.48 L309.34 31.23 L309.35 31.23 L309.35 30.99 L309.35 30.99 L309.35 30.74 L309.80 31.09 L309.80 30.85 L309.88 30.90 L309.88 30.66 L309.99 30.75 L309.99 30.50 L310.02 30.52 L310.02 30.28 L310.10 30.34 L310.10 30.09 L310.13 30.12 L310.13 29.87 L310.16 29.89 L310.16 29.64 L310.19 29.66 L310.19 29.42 L310.22 29.44 L310.22 29.19 L310.40 29.34 L310.40 29.09 L310.45 29.13 L310.45 28.88 L310.69 29.06 L310.69 28.82 L310.78 28.89 L310.78 28.64 L310.88 28.72 L310.88 28.47 L310.92 28.50 L310.92 28.26 L310.96 28.29 L310.96 28.04 L311.03 28.09 L311.03 27.85 L311.03 27.85 L311.03 27.61 L311.13 27.68 L311.13 27.44 L311.16 27.45 L311.16 27.21 L311.21 27.25 L311.21 27.01 L311.23 27.01 L311.23 26.77 L311.40 26.90 L311.40 26.65 L311.45 26.69 L311.45 26.45 L311.48 26.47 L311.48 26.23 L311.67 26.37 L311.67 26.12 L311.75 26.18 L311.75 25.94 L311.77 25.95 L311.77 25.71 L312.18 26.02 L312.18 25.78 L312.18 25.78 L312.18 25.53 L312.20 25.55 L312.20 25.30 L312.23 25.32 L312.23 25.08 L312.29 25.12 L312.29 24.88 L312.45 25.00 L312.45 24.75 L312.49 24.78 L312.49 24.54 L312.49 24.54 L312.49 24.29 L312.66 24.42 L312.66 24.18 L312.72 24.23 L312.72 23.98 L312.96 24.16 L312.96 23.92 L313.06 23.99 L313.06 23.74 L313.16 23.82 L313.16 23.57 L313.21 23.61 L313.21 23.37 L313.43 23.54 L313.43 23.29 L313.73 23.53 L313.73 23.28 L313.74 23.28 L313.74 23.04 L313.78 23.07 L313.78 22.82 L313.82 22.85 L313.82 22.61 L314.15 22.86 L314.15 22.61 L314.28 22.71 L314.28 22.47 L314.36 22.53 L314.36 22.29 L314.39 22.31 L314.39 22.06 L314.84 22.41 L314.84 22.16 L315.03 22.31 L315.03 22.06 L315.05 22.08 L315.05 21.83 L315.09 21.87 L315.09 21.62 L315.25 21.74 L315.25 21.49 L315.37 21.58 L315.37 21.33 L315.57 21.49 L315.57 21.24 L315.70 21.35 L315.70 21.10 L315.80 21.18 L315.80 20.93 L315.96 21.05 L315.96 20.81 L315.96 20.81 L315.96 20.56 L316.13 20.69 L316.13 20.44 L316.13 20.45 L316.13 20.20 L316.34 20.36 L316.34 20.12 L316.46 20.21 L316.46 19.96 L316.51 20.00 L316.51 19.75 L316.58 19.81 L316.58 19.56 L316.68 19.64 L316.68 19.39 L316.95 19.60 L316.95 19.35 L317.06 19.43 L317.06 19.19 L317.07 19.20 L317.07 18.95 L317.17 19.03 L317.17 18.78 L317.31 18.89 L317.31 18.65 L317.36 18.69 L317.36 18.44 L317.43 18.49 L317.43 18.25 L317.44 18.25 L317.44 18.01 L317.52 18.06 L317.52 17.82 L317.63 17.91 L317.63 17.66 L317.72 17.73 L317.72 17.48 L317.93 17.64 L317.93 17.40 L318.10 17.53 L318.10 17.28 L318.14 17.31 L318.14 17.06 L318.30 17.19 L318.30 16.95 L318.37 17.00 L318.37 16.75 L318.37 16.75 L318.37 16.51 L318.52 16.62 L318.52 16.38 L318.55 16.40 L318.55 16.15 L318.70 16.27 L318.70 16.02 L318.73 16.04 L318.73 15.80 L319.03 16.03 L319.03 15.78 L319.07 15.81 L319.07 15.57 L319.14 15.62 L319.14 15.37 L319.24 15.45 L319.24 15.20 L319.80 15.64 L319.80 15.39 L319.93 15.49 L319.93 15.24 L319.99 15.29 L319.99 15.05 L320.11 15.14 L320.11 14.89 L320.72 15.36 L320.72 15.12 L320.73 15.12 L320.73 14.88 L320.79 14.92 L320.79 14.67 L320.95 14.80 L320.95 14.55 L321.02 14.61 L321.02 14.36 L321.12 14.44 L321.12 14.19 L321.23 14.27 L321.23 14.03 L321.53 14.26 L321.53 14.01 L322.27 14.58 L322.27 14.34 L322.39 14.43 L322.39 14.18 L322.39 14.19 L322.39 13.94 L323.10 14.49 L323.10 14.24 L323.62 14.65 L323.62 14.40 L324.05 14.73 L324.05 14.48 L324.31 14.69 L324.31 14.44 L324.40 14.51 L324.40 14.26 L324.86 14.62 L324.86 14.37 L324.89 14.40 L324.89 14.15 L324.99 14.22 L324.99 13.98 L325.01 13.99 L325.01 13.75 L325.17 13.87 L325.17 13.62 L325.19 13.63 L325.19 13.39 L325.27 13.45 L325.27 13.21 L325.38 13.29 L325.38 13.04 L325.45 13.10 L325.45 12.85 L326.04 13.31 L326.04 13.06 L326.21 13.20 L326.21 12.95 L326.22 12.95 L326.22 12.70 L327.27 13.52 L327.27 13.27 L327.36 13.34 L327.36 13.09 L327.36 13.10 L327.36 12.85 L327.43 12.90 L327.43 12.66 L327.75 12.91 L327.75 12.66 L328.02 12.86 L328.02 12.62 L328.33 12.86 L328.33 12.61 L328.63 12.85 L328.63 12.60 L329.80 13.50 L329.80 13.25 L330.02 13.43 L330.02 13.18 L330.99 13.93 L330.99 13.68 L331.00 13.69 L331.00 13.44 L333.06 15.03 L333.06 14.79 L334.00 15.52 L334.00 15.27 L336.52 17.22 L336.52 16.97 L341.36 20.72 L341.36 20.47 L341.58 20.64 L341.58 20.39 L342.37 21.00 L342.37 20.76 L342.39 20.77 L342.39 20.52 L344.56 22.20 L344.56 21.95 L344.62 22.00 L344.62 21.76 L345.05 22.09 L345.05 21.84 L348.98 24.88 L348.98 24.64 L349.34 24.91 L349.34 24.67 L351.95 26.68 L351.95 26.44 L354.04 28.05 L354.04 27.81 L355.32 28.79 L355.32 28.55 L358.86 31.29 L358.86 31.04 L362.02 33.49 L362.02 33.24 L362.25 33.41 L362.25 33.17 L363.63 34.24 L363.63 33.99 L364.12 34.37 L364.12 34.12 L364.24 34.21 L364.24 33.97 L365.07 34.61 L365.07 34.36 L366.01 35.09 L366.01 34.84 L367.87 36.28 L367.87 36.03 L367.91 36.07 L367.91 35.82 L368.27 36.10 L368.27 35.85 L372.78 39.34 L372.78 39.09 L375.71 41.36 L375.71 41.11 L376.39 41.64 L376.39 41.39 L383.18 46.64 L383.18 46.39 L384.14 47.14 L384.14 46.89 L385.73 48.12 L385.73 47.87 L386.40 48.39 L386.40 48.14 L387.66 49.12 L387.66 48.87 L388.79 49.74 L388.79 49.50 L392.65 52.49 L392.65 52.24 L394.80 53.90" stroke="#EC4B8D" stroke-width="0.42" fill="none" stroke-linejoin="round"/>
<path d="M299.10 53.90 L299.14 53.93 L299.14 53.69 L299.15 53.71 L299.15 53.47 L299.18 53.50 L299.18 53.26 L299.19 53.27 L299.19 53.04 L299.22 53.06 L299.22 52.82 L299.28 52.87 L299.28 52.64 L299.31 52.66 L299.31 52.42 L299.31 52.43 L299.31 52.19 L299.32 52.20 L299.32 51.97 L299.38 52.01 L299.38 51.78 L299.40 51.79 L299.40 51.56 L299.46 51.60 L299.46 51.37 L299.46 51.37 L299.46 51.14 L299.60 51.24 L299.60 51.01 L299.61 51.01 L299.61 50.78 L299.62 50.79 L299.62 50.55 L299.63 50.56 L299.63 50.33 L299.66 50.35 L299.66 50.12 L299.72 50.16 L299.72 49.93 L299.79 49.98 L299.79 49.75 L299.98 49.89 L299.98 49.65 L299.99 49.66 L299.99 49.43 L300.05 49.47 L300.05 49.24 L300.11 49.28 L300.11 49.05 L300.17 49.10 L300.17 48.86 L300.18 48.87 L300.18 48.63 L300.23 48.67 L300.23 48.44 L300.26 48.46 L300.26 48.23 L300.30 48.25 L300.30 48.02 L300.41 48.10 L300.41 47.87 L300.43 47.89 L300.43 47.66 L300.45 47.67 L300.45 47.44 L300.54 47.50 L300.54 47.27 L300.58 47.30 L300.58 47.07 L300.66 47.12 L300.66 46.89 L300.66 46.89 L300.66 46.66 L300.85 46.80 L300.85 46.57 L300.93 46.62 L300.93 46.39 L300.93 46.39 L300.93 46.16 L300.95 46.17 L300.95 45.94 L301.01 45.98 L301.01 45.75 L301.03 45.77 L301.03 45.53 L301.12 45.60 L301.12 45.37 L301.35 45.53 L301.35 45.30 L301.43 45.36 L301.43 45.13 L301.44 45.13 L301.44 44.90 L301.48 44.93 L301.48 44.70 L301.64 44.81 L301.64 44.58 L301.64 44.58 L301.64 44.35 L301.69 44.38 L301.69 44.15 L301.70 44.16 L301.70 43.92 L301.74 43.96 L301.74 43.72 L301.74 43.73 L301.74 43.49 L301.82 43.55 L301.82 43.31 L301.96 43.42 L301.96 43.18 L301.97 43.19 L301.97 42.96 L302.11 43.06 L302.11 42.83 L302.13 42.85 L302.13 42.61 L302.20 42.66 L302.20 42.43 L302.21 42.44 L302.21 42.20 L302.21 42.20 L302.21 41.97 L302.22 41.97 L302.22 41.74 L302.22 41.74 L302.22 41.51 L302.25 41.53 L302.25 41.30 L302.29 41.33 L302.29 41.10 L302.31 41.11 L302.31 40.88 L302.43 40.97 L302.43 40.73 L302.45 40.75 L302.45 40.51 L302.48 40.54 L302.48 40.31 L302.54 40.35 L302.54 40.12 L302.58 40.15 L302.58 39.91 L302.59 39.92 L302.59 39.68 L302.83 39.86 L302.83 39.63 L302.93 39.70 L302.93 39.47 L303.09 39.58 L303.09 39.35 L303.10 39.36 L303.10 39.13 L303.18 39.19 L303.18 38.95 L303.27 39.02 L303.27 38.79 L303.34 38.84 L303.34 38.61 L303.35 38.61 L303.35 38.38 L303.35 38.38 L303.35 38.15 L303.40 38.19 L303.40 37.95 L303.42 37.97 L303.42 37.73 L303.48 37.77 L303.48 37.54 L303.57 37.61 L303.57 37.38 L303.69 37.46 L303.69 37.23 L303.70 37.24 L303.70 37.00 L303.79 37.07 L303.79 36.84 L303.88 36.90 L303.88 36.67 L303.89 36.68 L303.89 36.45 L304.00 36.53 L304.00 36.30 L304.10 36.36 L304.10 36.13 L304.10 36.13 L304.10 35.90 L304.11 35.91 L304.11 35.68 L304.18 35.72 L304.18 35.49 L304.18 35.50 L304.18 35.26 L304.18 35.26 L304.18 35.03 L304.20 35.04 L304.20 34.81 L304.24 34.84 L304.24 34.60 L304.38 34.71 L304.38 34.48 L304.53 34.59 L304.53 34.35 L304.54 34.36 L304.54 34.13 L304.61 34.18 L304.61 33.95 L304.62 33.95 L304.62 33.72 L304.71 33.78 L304.71 33.55 L304.93 33.71 L304.93 33.48 L304.94 33.49 L304.94 33.26 L305.00 33.30 L305.00 33.07 L305.01 33.07 L305.01 32.84 L305.02 32.85 L305.02 32.61 L305.03 32.62 L305.03 32.39 L305.17 32.49 L305.17 32.26 L305.17 32.26 L305.17 32.03 L305.25 32.09 L305.25 31.85 L305.43 31.98 L305.43 31.75 L305.49 31.79 L305.49 31.56 L305.53 31.59 L305.53 31.36 L305.61 31.42 L305.61 31.18 L305.64 31.21 L305.64 30.97 L305.72 31.03 L305.72 30.80 L305.75 30.82 L305.75 30.58 L305.76 30.59 L305.76 30.36 L305.95 30.50 L305.95 30.27 L305.98 30.29 L305.98 30.06 L306.40 30.36 L306.40 30.13 L306.42 30.14 L306.42 29.91 L306.50 29.97 L306.50 29.74 L306.61 29.82 L306.61 29.58 L306.75 29.69 L306.75 29.45 L306.79 29.48 L306.79 29.25 L306.85 29.30 L306.85 29.06 L306.87 29.08 L306.87 28.84 L306.89 28.86 L306.89 28.63 L306.92 28.65 L306.92 28.42 L307.15 28.58 L307.15 28.35 L307.27 28.43 L307.27 28.20 L307.29 28.22 L307.29 27.98 L307.30 27.99 L307.30 27.76 L307.37 27.81 L307.37 27.58 L307.41 27.61 L307.41 27.37 L307.47 27.42 L307.47 27.19 L307.50 27.21 L307.50 26.98 L307.58 27.04 L307.58 26.80 L307.63 26.84 L307.63 26.61 L307.68 26.64 L307.68 26.41 L307.75 26.46 L307.75 26.23 L307.81 26.27 L307.81 26.04 L307.89 26.09 L307.89 25.86 L307.92 25.88 L307.92 25.65 L307.99 25.71 L307.99 25.47 L308.00 25.48 L308.00 25.25 L308.11 25.32 L308.11 25.09 L308.13 25.11 L308.13 24.88 L308.14 24.88 L308.14 24.65 L308.46 24.88 L308.46 24.65 L308.54 24.71 L308.54 24.47 L308.75 24.63 L308.75 24.39 L308.75 24.40 L308.75 24.17 L308.76 24.17 L308.76 23.94 L308.81 23.97 L308.81 23.74 L308.82 23.75 L308.82 23.51 L308.85 23.54 L308.85 23.30 L309.04 23.45 L309.04 23.21 L309.05 23.21 L309.05 22.98 L309.15 23.06 L309.15 22.83 L309.37 22.99 L309.37 22.76 L309.44 22.81 L309.44 22.57 L309.72 22.78 L309.72 22.54 L309.79 22.59 L309.79 22.36 L309.97 22.49 L309.97 22.26 L310.06 22.32 L310.06 22.09 L310.23 22.22 L310.23 21.98 L310.24 21.99 L310.24 21.76 L310.28 21.78 L310.28 21.55 L310.51 21.72 L310.51 21.49 L310.66 21.60 L310.66 21.37 L310.82 21.49 L310.82 21.25 L310.95 21.35 L310.95 21.11 L311.26 21.34 L311.26 21.11 L311.48 21.27 L311.48 21.03 L311.50 21.05 L311.50 20.81 L311.73 20.98 L311.73 20.75 L311.74 20.76 L311.74 20.53 L311.77 20.55 L311.77 20.32 L311.89 20.40 L311.89 20.17 L311.95 20.21 L311.95 19.98 L311.99 20.01 L311.99 19.78 L312.02 19.80 L312.02 19.57 L312.02 19.57 L312.02 19.34 L312.03 19.34 L312.03 19.11 L312.14 19.19 L312.14 18.95 L312.19 18.99 L312.19 18.76 L312.21 18.77 L312.21 18.54 L312.22 18.55 L312.22 18.32 L312.29 18.37 L312.29 18.13 L312.31 18.15 L312.31 17.91 L312.43 18.00 L312.43 17.77 L312.54 17.85 L312.54 17.61 L312.59 17.65 L312.59 17.42 L312.65 17.47 L312.65 17.23 L312.82 17.35 L312.82 17.12 L312.87 17.16 L312.87 16.93 L312.93 16.97 L312.93 16.74 L312.94 16.74 L312.94 16.51 L313.22 16.72 L313.22 16.48 L313.27 16.52 L313.27 16.29 L313.35 16.35 L313.35 16.11 L313.42 16.16 L313.42 15.93 L313.43 15.94 L313.43 15.71 L313.48 15.74 L313.48 15.51 L313.63 15.62 L313.63 15.39 L313.75 15.47 L313.75 15.24 L313.82 15.29 L313.82 15.06 L314.13 15.28 L314.13 15.05 L314.26 15.15 L314.26 14.91 L314.36 14.99 L314.36 14.76 L314.49 14.85 L314.49 14.61 L314.56 14.67 L314.56 14.44 L314.72 14.55 L314.72 14.32 L314.97 14.50 L314.97 14.27 L314.98 14.28 L314.98 14.04 L315.09 14.12 L315.09 13.89 L315.49 14.18 L315.49 13.95 L315.55 13.99 L315.55 13.76 L315.75 13.91 L315.75 13.68 L315.83 13.74 L315.83 13.50 L315.88 13.54 L315.88 13.31 L316.13 13.49 L316.13 13.25 L316.61 13.60 L316.61 13.37 L316.67 13.42 L316.67 13.18 L316.76 13.25 L316.76 13.01 L316.79 13.04 L316.79 12.80 L317.25 13.14 L317.25 12.90 L317.48 13.07 L317.48 12.84 L317.50 12.86 L317.50 12.63 L317.93 12.93 L317.93 12.70 L318.20 12.91 L318.20 12.67 L318.21 12.67 L318.21 12.44 L318.51 12.66 L318.51 12.43 L318.87 12.69 L318.87 12.46 L318.95 12.52 L318.95 12.29 L319.14 12.42 L319.14 12.19 L319.16 12.21 L319.16 11.97 L319.55 12.26 L319.55 12.03 L319.75 12.17 L319.75 11.94 L320.12 12.21 L320.12 11.97 L320.22 12.05 L320.22 11.82 L320.24 11.83 L320.24 11.60 L320.84 12.03 L320.84 11.80 L321.03 11.94 L321.03 11.71 L321.23 11.85 L321.23 11.62 L321.52 11.83 L321.52 11.60 L321.74 11.76 L321.74 11.53 L321.77 11.55 L321.77 11.32 L321.81 11.35 L321.81 11.11 L321.95 11.21 L321.95 10.98 L321.96 10.99 L321.96 10.75 L322.11 10.87 L322.11 10.64 L322.41 10.85 L322.41 10.62 L322.62 10.78 L322.62 10.54 L322.88 10.73 L322.88 10.50 L323.44 10.90 L323.44 10.67 L324.26 11.27 L324.26 11.04 L324.34 11.10 L324.34 10.86 L324.49 10.97 L324.49 10.74 L324.49 10.74 L324.49 10.51 L325.21 11.03 L325.21 10.80 L326.49 11.73 L326.49 11.50 L328.73 13.13 L328.73 12.90 L328.91 13.04 L328.91 12.80 L329.31 13.10 L329.31 12.86 L330.28 13.57 L330.28 13.34 L330.36 13.39 L330.36 13.16 L330.45 13.23 L330.45 13.00 L330.61 13.11 L330.61 12.88 L331.09 13.23 L331.09 13.00 L331.22 13.09 L331.22 12.86 L332.07 13.48 L332.07 13.25 L333.30 14.14 L333.30 13.91 L333.31 13.92 L333.31 13.68 L333.97 14.17 L333.97 13.94 L335.82 15.28 L335.82 15.05 L345.06 21.79 L345.06 21.56 L348.58 24.13 L348.58 23.90 L349.46 24.54 L349.46 24.31 L350.63 25.16 L350.63 24.93 L350.87 25.10 L350.87 24.87 L353.30 26.65 L353.30 26.41 L353.45 26.52 L353.45 26.29 L357.07 28.93 L357.07 28.69 L362.51 32.66 L362.51 32.43 L365.80 34.84 L365.80 34.60 L366.01 34.75 L366.01 34.52 L368.51 36.34 L368.51 36.11 L373.13 39.49 L373.13 39.25 L379.46 43.87 L379.46 43.64 L389.52 50.98 L389.52 50.75 L390.50 51.46 L390.50 51.23 L392.53 52.71 L392.53 52.48 L394.04 53.58 L394.04 53.34 L394.80 53.90" stroke="#F4B7BF" stroke-width="0.42" fill="none" stroke-linejoin="round"/>
<path d="M299.10 53.90 L299.21 53.98 L299.21 53.75 L299.33 53.84 L299.33 53.60 L299.36 53.62 L299.36 53.39 L299.43 53.44 L299.43 53.20 L299.44 53.21 L299.44 52.97 L299.47 53.00 L299.47 52.76 L299.48 52.76 L299.48 52.53 L299.58 52.60 L299.58 52.37 L299.64 52.42 L299.64 52.18 L299.68 52.21 L299.68 51.97 L299.77 52.04 L299.77 51.80 L299.79 51.82 L299.79 51.58 L299.82 51.61 L299.82 51.37 L299.83 51.38 L299.83 51.14 L299.90 51.19 L299.90 50.96 L299.95 50.99 L299.95 50.75 L299.96 50.77 L299.96 50.53 L299.97 50.54 L299.97 50.30 L300.21 50.48 L300.21 50.24 L300.30 50.31 L300.30 50.07 L300.32 50.09 L300.32 49.85 L300.37 49.89 L300.37 49.65 L300.39 49.67 L300.39 49.43 L300.43 49.46 L300.43 49.22 L300.47 49.25 L300.47 49.02 L300.61 49.13 L300.61 48.89 L300.67 48.93 L300.67 48.70 L300.69 48.71 L300.69 48.48 L300.76 48.53 L300.76 48.29 L300.77 48.30 L300.77 48.07 L300.81 48.10 L300.81 47.86 L300.86 47.90 L300.86 47.66 L300.89 47.68 L300.89 47.45 L300.93 47.48 L300.93 47.24 L301.02 47.30 L301.02 47.07 L301.05 47.09 L301.05 46.86 L301.17 46.95 L301.17 46.71 L301.38 46.86 L301.38 46.63 L301.39 46.63 L301.39 46.40 L301.40 46.41 L301.40 46.17 L301.43 46.20 L301.43 45.96 L301.52 46.03 L301.52 45.79 L301.59 45.84 L301.59 45.60 L301.66 45.66 L301.66 45.42 L301.68 45.44 L301.68 45.20 L301.69 45.21 L301.69 44.97 L301.77 45.03 L301.77 44.80 L302.00 44.96 L302.00 44.73 L302.14 44.84 L302.14 44.60 L302.17 44.62 L302.17 44.39 L302.27 44.46 L302.27 44.23 L302.36 44.29 L302.36 44.06 L302.46 44.13 L302.46 43.89 L302.48 43.91 L302.48 43.67 L302.50 43.69 L302.50 43.45 L302.56 43.50 L302.56 43.26 L302.63 43.31 L302.63 43.07 L302.64 43.09 L302.64 42.85 L302.65 42.86 L302.65 42.62 L302.67 42.63 L302.67 42.40 L302.73 42.44 L302.73 42.20 L302.74 42.22 L302.74 41.98 L302.82 42.04 L302.82 41.80 L302.86 41.83 L302.86 41.60 L302.91 41.63 L302.91 41.40 L302.96 41.43 L302.96 41.20 L303.15 41.34 L303.15 41.10 L303.18 41.13 L303.18 40.89 L303.25 40.94 L303.25 40.71 L303.27 40.72 L303.27 40.48 L303.42 40.59 L303.42 40.36 L303.49 40.42 L303.49 40.18 L303.58 40.24 L303.58 40.00 L303.61 40.03 L303.61 39.80 L303.69 39.85 L303.69 39.62 L303.77 39.68 L303.77 39.44 L303.80 39.46 L303.80 39.23 L303.90 39.30 L303.90 39.06 L303.91 39.07 L303.91 38.83 L303.92 38.85 L303.92 38.61 L304.05 38.71 L304.05 38.47 L304.15 38.54 L304.15 38.31 L304.23 38.36 L304.23 38.13 L304.36 38.23 L304.36 37.99 L304.38 38.01 L304.38 37.77 L304.64 37.96 L304.64 37.73 L304.83 37.86 L304.83 37.63 L304.89 37.68 L304.89 37.44 L305.02 37.54 L305.02 37.30 L305.15 37.39 L305.15 37.16 L305.17 37.17 L305.17 36.94 L305.20 36.96 L305.20 36.73 L305.21 36.73 L305.21 36.50 L305.33 36.59 L305.33 36.35 L305.35 36.37 L305.35 36.13 L305.36 36.14 L305.36 35.90 L305.62 36.10 L305.62 35.86 L305.62 35.86 L305.62 35.63 L305.65 35.64 L305.65 35.41 L305.78 35.50 L305.78 35.27 L305.78 35.27 L305.78 35.03 L305.92 35.14 L305.92 34.90 L306.03 34.98 L306.03 34.75 L306.07 34.78 L306.07 34.54 L306.14 34.59 L306.14 34.36 L306.16 34.37 L306.16 34.14 L306.33 34.26 L306.33 34.03 L306.35 34.04 L306.35 33.81 L306.36 33.82 L306.36 33.58 L306.49 33.67 L306.49 33.44 L306.49 33.44 L306.49 33.21 L306.55 33.25 L306.55 33.01 L306.61 33.06 L306.61 32.82 L306.63 32.84 L306.63 32.60 L306.68 32.64 L306.68 32.40 L306.87 32.54 L306.87 32.30 L306.87 32.30 L306.87 32.07 L306.91 32.10 L306.91 31.86 L307.04 31.96 L307.04 31.72 L307.08 31.75 L307.08 31.51 L307.11 31.54 L307.11 31.31 L307.18 31.36 L307.18 31.12 L307.19 31.12 L307.19 30.89 L307.24 30.93 L307.24 30.69 L307.31 30.74 L307.31 30.51 L307.33 30.52 L307.33 30.29 L307.36 30.31 L307.36 30.07 L307.47 30.15 L307.47 29.92 L307.61 30.02 L307.61 29.79 L307.96 30.05 L307.96 29.81 L308.02 29.86 L308.02 29.62 L308.08 29.67 L308.08 29.43 L308.21 29.53 L308.21 29.29 L308.25 29.32 L308.25 29.09 L308.29 29.11 L308.29 28.88 L308.34 28.92 L308.34 28.68 L308.38 28.71 L308.38 28.47 L308.41 28.50 L308.41 28.26 L308.48 28.31 L308.48 28.07 L308.52 28.10 L308.52 27.87 L308.66 27.98 L308.66 27.74 L308.72 27.78 L308.72 27.55 L308.90 27.68 L308.90 27.45 L309.10 27.59 L309.10 27.35 L309.28 27.48 L309.28 27.25 L309.48 27.40 L309.48 27.17 L309.50 27.18 L309.50 26.95 L309.54 26.97 L309.54 26.74 L309.62 26.80 L309.62 26.56 L309.72 26.64 L309.72 26.40 L309.76 26.43 L309.76 26.19 L309.80 26.22 L309.80 25.98 L310.08 26.19 L310.08 25.96 L310.41 26.20 L310.41 25.96 L310.57 26.09 L310.57 25.85 L310.73 25.97 L310.73 25.73 L310.75 25.74 L310.75 25.51 L310.77 25.52 L310.77 25.29 L310.78 25.30 L310.78 25.06 L310.89 25.14 L310.89 24.90 L310.92 24.93 L310.92 24.69 L310.98 24.74 L310.98 24.50 L311.02 24.53 L311.02 24.29 L311.08 24.34 L311.08 24.11 L311.10 24.12 L311.10 23.88 L311.19 23.95 L311.19 23.71 L311.32 23.81 L311.32 23.58 L311.34 23.59 L311.34 23.36 L311.40 23.40 L311.40 23.17 L311.45 23.20 L311.45 22.97 L311.50 23.00 L311.50 22.76 L311.50 22.76 L311.50 22.53 L311.51 22.54 L311.51 22.30 L311.60 22.37 L311.60 22.13 L311.67 22.18 L311.67 21.95 L311.74 22.00 L311.74 21.76 L311.93 21.91 L311.93 21.67 L312.21 21.88 L312.21 21.64 L312.26 21.67 L312.26 21.44 L312.26 21.44 L312.26 21.21 L312.31 21.24 L312.31 21.01 L312.34 21.03 L312.34 20.79 L312.34 20.79 L312.34 20.55 L312.36 20.57 L312.36 20.34 L312.54 20.47 L312.54 20.24 L312.56 20.25 L312.56 20.01 L312.60 20.04 L312.60 19.81 L312.63 19.83 L312.63 19.59 L312.80 19.72 L312.80 19.49 L312.83 19.50 L312.83 19.27 L313.10 19.47 L313.10 19.24 L313.11 19.24 L313.11 19.01 L313.23 19.10 L313.23 18.86 L313.25 18.88 L313.25 18.64 L313.34 18.71 L313.34 18.47 L313.44 18.54 L313.44 18.31 L313.48 18.34 L313.48 18.10 L313.67 18.24 L313.67 18.01 L313.87 18.15 L313.87 17.92 L313.92 17.96 L313.92 17.72 L314.05 17.81 L314.05 17.58 L314.09 17.61 L314.09 17.37 L314.14 17.41 L314.14 17.18 L314.29 17.29 L314.29 17.05 L314.59 17.27 L314.59 17.03 L314.79 17.18 L314.79 16.95 L314.86 17.00 L314.86 16.76 L314.86 16.76 L314.86 16.53 L315.00 16.63 L315.00 16.39 L315.29 16.61 L315.29 16.38 L315.30 16.38 L315.30 16.15 L315.33 16.17 L315.33 15.93 L315.42 16.00 L315.42 15.76 L315.98 16.18 L315.98 15.94 L315.98 15.94 L315.98 15.71 L316.15 15.83 L316.15 15.59 L316.33 15.73 L316.33 15.49 L316.40 15.55 L316.40 15.31 L316.50 15.38 L316.50 15.15 L316.59 15.21 L316.59 14.98 L316.75 15.09 L316.75 14.86 L316.76 14.87 L316.76 14.63 L316.90 14.73 L316.90 14.50 L317.00 14.58 L317.00 14.34 L317.14 14.44 L317.14 14.21 L317.31 14.33 L317.31 14.09 L317.62 14.33 L317.62 14.09 L317.63 14.10 L317.63 13.86 L317.67 13.89 L317.67 13.66 L317.73 13.70 L317.73 13.46 L317.98 13.65 L317.98 13.41 L318.27 13.63 L318.27 13.39 L318.34 13.45 L318.34 13.21 L318.44 13.28 L318.44 13.05 L318.74 13.27 L318.74 13.03 L319.18 13.36 L319.18 13.12 L319.20 13.13 L319.20 12.90 L319.32 12.99 L319.32 12.76 L319.35 12.78 L319.35 12.54 L319.43 12.60 L319.43 12.36 L319.77 12.62 L319.77 12.38 L320.09 12.62 L320.09 12.38 L320.45 12.64 L320.45 12.41 L320.84 12.70 L320.84 12.46 L320.97 12.56 L320.97 12.32 L321.07 12.39 L321.07 12.16 L321.12 12.20 L321.12 11.96 L321.16 11.99 L321.16 11.76 L321.27 11.83 L321.27 11.60 L321.75 11.96 L321.75 11.72 L321.80 11.76 L321.80 11.52 L322.11 11.75 L322.11 11.52 L322.12 11.53 L322.12 11.29 L322.35 11.46 L322.35 11.22 L322.40 11.26 L322.40 11.02 L322.42 11.04 L322.42 10.80 L322.58 10.92 L322.58 10.68 L322.99 10.99 L322.99 10.75 L323.20 10.91 L323.20 10.67 L323.29 10.74 L323.29 10.50 L323.30 10.51 L323.30 10.28 L324.08 10.85 L324.08 10.61 L324.23 10.72 L324.23 10.49 L324.25 10.50 L324.25 10.27 L324.51 10.46 L324.51 10.22 L324.85 10.48 L324.85 10.24 L325.05 10.39 L325.05 10.15 L325.97 10.83 L325.97 10.60 L326.15 10.73 L326.15 10.49 L326.55 10.79 L326.55 10.55 L326.80 10.74 L326.80 10.50 L328.06 11.43 L328.06 11.20 L328.22 11.32 L328.22 11.08 L328.37 11.19 L328.37 10.96 L329.34 11.67 L329.34 11.44 L329.42 11.50 L329.42 11.26 L332.46 13.51 L332.46 13.27 L334.78 14.98 L334.78 14.75 L337.30 16.61 L337.30 16.38 L345.03 22.08 L345.03 21.85 L345.60 22.27 L345.60 22.04 L346.46 22.67 L346.46 22.43 L346.62 22.55 L346.62 22.31 L347.92 23.28 L347.92 23.04 L348.07 23.15 L348.07 22.91 L351.23 25.25 L351.23 25.01 L351.24 25.02 L351.24 24.79 L352.29 25.56 L352.29 25.33 L353.29 26.06 L353.29 25.83 L354.67 26.84 L354.67 26.61 L355.39 27.14 L355.39 26.91 L368.91 36.89 L368.91 36.66 L370.96 38.17 L370.96 37.94 L373.78 40.02 L373.78 39.79 L380.73 44.92 L380.73 44.68 L381.20 45.03 L381.20 44.80 L382.35 45.64 L382.35 45.41 L390.54 51.46 L390.54 51.22 L391.78 52.14 L391.78 51.91 L394.20 53.69 L394.20 53.46 L394.80 53.90" stroke="#C8A1DA" stroke-width="0.42" fill="none" stroke-linejoin="round"/>
<path d="M299.10 53.90 L299.11 53.91 L299.11 53.65 L299.12 53.67 L299.12 53.41 L299.15 53.44 L299.15 53.18 L299.21 53.23 L299.21 52.98 L299.27 53.03 L299.27 52.77 L299.30 52.80 L299.30 52.55 L299.31 52.55 L299.31 52.30 L299.40 52.38 L299.40 52.12 L299.43 52.14 L299.43 51.89 L299.64 52.06 L299.64 51.81 L299.69 51.84 L299.69 51.59 L299.87 51.74 L299.87 51.49 L299.93 51.53 L299.93 51.28 L299.93 51.28 L299.93 51.03 L299.93 51.03 L299.93 50.77 L299.94 50.78 L299.94 50.53 L300.14 50.69 L300.14 50.44 L300.15 50.45 L300.15 50.19 L300.17 50.20 L300.17 49.95 L300.26 50.03 L300.26 49.78 L300.28 49.79 L300.28 49.54 L300.52 49.73 L300.52 49.48 L300.54 49.49 L300.54 49.24 L300.58 49.27 L300.58 49.02 L300.62 49.05 L300.62 48.80 L300.71 48.87 L300.71 48.62 L300.73 48.64 L300.73 48.38 L300.81 48.44 L300.81 48.19 L300.82 48.20 L300.82 47.95 L300.90 48.01 L300.90 47.76 L300.90 47.76 L300.90 47.51 L300.93 47.53 L300.93 47.28 L300.93 47.28 L300.93 47.03 L300.95 47.04 L300.95 46.79 L301.06 46.87 L301.06 46.62 L301.06 46.63 L301.06 46.37 L301.12 46.42 L301.12 46.17 L301.12 46.17 L301.12 45.92 L301.18 45.96 L301.18 45.71 L301.23 45.75 L301.23 45.50 L301.39 45.62 L301.39 45.37 L301.39 45.37 L301.39 45.12 L301.44 45.16 L301.44 44.91 L301.47 44.93 L301.47 44.68 L301.56 44.75 L301.56 44.50 L301.66 44.58 L301.66 44.32 L301.80 44.44 L301.80 44.18 L301.80 44.19 L301.80 43.93 L301.80 43.93 L301.80 43.68 L301.87 43.73 L301.87 43.48 L301.94 43.54 L301.94 43.28 L301.95 43.30 L301.95 43.04 L302.00 43.08 L302.00 42.83 L302.02 42.84 L302.02 42.59 L302.13 42.68 L302.13 42.43 L302.16 42.45 L302.16 42.20 L302.16 42.20 L302.16 41.95 L302.20 41.98 L302.20 41.73 L302.37 41.86 L302.37 41.61 L302.42 41.65 L302.42 41.40 L302.50 41.46 L302.50 41.21 L302.61 41.29 L302.61 41.04 L302.68 41.10 L302.68 40.85 L302.80 40.94 L302.80 40.69 L302.84 40.72 L302.84 40.47 L302.97 40.57 L302.97 40.32 L303.03 40.37 L303.03 40.11 L303.05 40.13 L303.05 39.87 L303.12 39.94 L303.12 39.68 L303.22 39.76 L303.22 39.50 L303.26 39.54 L303.26 39.28 L303.37 39.37 L303.37 39.12 L303.53 39.25 L303.53 39.00 L303.54 39.00 L303.54 38.75 L303.73 38.90 L303.73 38.65 L303.75 38.66 L303.75 38.41 L303.76 38.42 L303.76 38.17 L303.77 38.18 L303.77 37.93 L303.78 37.93 L303.78 37.68 L304.22 38.03 L304.22 37.78 L304.25 37.80 L304.25 37.55 L304.28 37.57 L304.28 37.32 L304.43 37.43 L304.43 37.18 L304.53 37.26 L304.53 37.01 L304.54 37.03 L304.54 36.77 L304.54 36.77 L304.54 36.52 L304.63 36.59 L304.63 36.33 L304.65 36.35 L304.65 36.10 L304.69 36.13 L304.69 35.88 L304.70 35.89 L304.70 35.64 L304.72 35.65 L304.72 35.40 L304.84 35.49 L304.84 35.24 L305.00 35.36 L305.00 35.11 L305.00 35.12 L305.00 34.86 L305.20 35.02 L305.20 34.77 L305.23 34.79 L305.23 34.54 L305.30 34.60 L305.30 34.34 L305.41 34.43 L305.41 34.18 L305.44 34.20 L305.44 33.95 L305.49 33.99 L305.49 33.73 L305.50 33.75 L305.50 33.50 L305.60 33.57 L305.60 33.32 L305.62 33.33 L305.62 33.08 L305.72 33.16 L305.72 32.91 L305.79 32.97 L305.79 32.72 L305.83 32.74 L305.83 32.49 L305.89 32.54 L305.89 32.29 L305.99 32.37 L305.99 32.12 L306.16 32.25 L306.16 32.00 L306.17 32.01 L306.17 31.75 L306.18 31.76 L306.18 31.51 L306.22 31.55 L306.22 31.29 L306.24 31.31 L306.24 31.05 L306.36 31.15 L306.36 30.89 L306.41 30.94 L306.41 30.69 L306.45 30.71 L306.45 30.46 L306.53 30.53 L306.53 30.27 L306.64 30.36 L306.64 30.11 L306.68 30.14 L306.68 29.89 L306.74 29.94 L306.74 29.68 L306.81 29.74 L306.81 29.48 L306.88 29.54 L306.88 29.29 L306.89 29.30 L306.89 29.05 L306.95 29.09 L306.95 28.84 L307.01 28.89 L307.01 28.64 L307.02 28.65 L307.02 28.39 L307.24 28.56 L307.24 28.31 L307.35 28.40 L307.35 28.14 L307.44 28.22 L307.44 27.97 L307.48 28.00 L307.48 27.75 L307.66 27.89 L307.66 27.64 L307.67 27.65 L307.67 27.40 L307.77 27.48 L307.77 27.22 L307.91 27.33 L307.91 27.08 L307.91 27.08 L307.91 26.83 L307.95 26.86 L307.95 26.61 L308.14 26.76 L308.14 26.51 L308.20 26.55 L308.20 26.30 L308.27 26.36 L308.27 26.11 L308.31 26.14 L308.31 25.88 L308.43 25.98 L308.43 25.72 L308.54 25.81 L308.54 25.56 L308.70 25.69 L308.70 25.43 L309.05 25.71 L309.05 25.46 L309.12 25.51 L309.12 25.26 L309.26 25.38 L309.26 25.12 L309.33 25.18 L309.33 24.93 L309.38 24.96 L309.38 24.71 L309.43 24.75 L309.43 24.50 L309.63 24.65 L309.63 24.40 L309.65 24.42 L309.65 24.17 L309.66 24.17 L309.66 23.92 L309.74 23.98 L309.74 23.73 L309.76 23.75 L309.76 23.50 L309.97 23.66 L309.97 23.41 L310.03 23.46 L310.03 23.20 L310.03 23.21 L310.03 22.96 L310.07 22.99 L310.07 22.74 L310.11 22.76 L310.11 22.51 L310.17 22.56 L310.17 22.31 L310.17 22.31 L310.17 22.06 L310.36 22.21 L310.36 21.95 L310.45 22.02 L310.45 21.77 L310.59 21.88 L310.59 21.63 L310.68 21.70 L310.68 21.45 L310.87 21.60 L310.87 21.35 L310.94 21.41 L310.94 21.16 L310.99 21.19 L310.99 20.94 L311.13 21.05 L311.13 20.80 L311.18 20.84 L311.18 20.59 L311.20 20.61 L311.20 20.35 L311.25 20.39 L311.25 20.14 L311.29 20.17 L311.29 19.92 L311.30 19.93 L311.30 19.67 L311.31 19.68 L311.31 19.43 L311.34 19.46 L311.34 19.20 L311.60 19.40 L311.60 19.15 L311.60 19.15 L311.60 18.90 L311.93 19.17 L311.93 18.91 L312.00 18.96 L312.00 18.71 L312.06 18.76 L312.06 18.51 L312.27 18.68 L312.27 18.42 L312.30 18.44 L312.30 18.19 L312.37 18.25 L312.37 18.00 L312.42 18.04 L312.42 17.79 L312.44 17.80 L312.44 17.55 L312.47 17.58 L312.47 17.32 L312.66 17.47 L312.66 17.22 L312.72 17.27 L312.72 17.02 L312.84 17.11 L312.84 16.85 L312.86 16.87 L312.86 16.62 L312.95 16.69 L312.95 16.44 L312.96 16.45 L312.96 16.19 L313.32 16.48 L313.32 16.22 L313.49 16.36 L313.49 16.11 L314.22 16.69 L314.22 16.44 L314.32 16.51 L314.32 16.26 L314.45 16.37 L314.45 16.11 L314.50 16.15 L314.50 15.90 L314.88 16.20 L314.88 15.95 L315.09 16.12 L315.09 15.86 L315.26 16.00 L315.26 15.74 L315.27 15.75 L315.27 15.50 L315.28 15.51 L315.28 15.25 L315.46 15.40 L315.46 15.15 L315.48 15.16 L315.48 14.91 L315.66 15.05 L315.66 14.80 L315.74 14.86 L315.74 14.61 L315.80 14.66 L315.80 14.41 L315.85 14.45 L315.85 14.19 L315.87 14.21 L315.87 13.95 L316.00 14.06 L316.00 13.80 L316.26 14.01 L316.26 13.76 L316.30 13.80 L316.30 13.54 L316.32 13.56 L316.32 13.31 L316.37 13.34 L316.37 13.09 L316.70 13.35 L316.70 13.10 L316.75 13.14 L316.75 12.89 L317.20 13.24 L317.20 12.99 L317.32 13.08 L317.32 12.83 L317.39 12.89 L317.39 12.64 L317.39 12.64 L317.39 12.39 L317.83 12.73 L317.83 12.48 L317.88 12.52 L317.88 12.26 L318.02 12.38 L318.02 12.12 L318.06 12.16 L318.06 11.90 L318.80 12.49 L318.80 12.23 L319.02 12.41 L319.02 12.16 L319.07 12.20 L319.07 11.94 L319.20 12.05 L319.20 11.80 L319.25 11.83 L319.25 11.58 L319.39 11.70 L319.39 11.45 L319.87 11.83 L319.87 11.57 L319.89 11.59 L319.89 11.34 L319.97 11.40 L319.97 11.15 L320.28 11.39 L320.28 11.14 L320.47 11.29 L320.47 11.03 L320.58 11.12 L320.58 10.87 L320.60 10.89 L320.60 10.63 L321.44 11.30 L321.44 11.05 L321.57 11.15 L321.57 10.89 L322.25 11.44 L322.25 11.18 L322.33 11.25 L322.33 11.00 L322.37 11.03 L322.37 10.78 L322.40 10.80 L322.40 10.55 L322.51 10.63 L322.51 10.38 L322.58 10.44 L322.58 10.19 L322.68 10.26 L322.68 10.01 L323.46 10.63 L323.46 10.38 L323.54 10.44 L323.54 10.18 L323.60 10.23 L323.60 9.98 L323.69 10.05 L323.69 9.80 L324.27 10.26 L324.27 10.01 L324.86 10.47 L324.86 10.22 L325.45 10.69 L325.45 10.43 L325.46 10.44 L325.46 10.19 L325.88 10.52 L325.88 10.27 L326.20 10.52 L326.20 10.27 L326.97 10.88 L326.97 10.63 L327.25 10.85 L327.25 10.59 L327.66 10.92 L327.66 10.67 L327.98 10.92 L327.98 10.67 L328.38 10.98 L328.38 10.73 L328.46 10.80 L328.46 10.55 L328.71 10.74 L328.71 10.49 L329.19 10.87 L329.19 10.62 L331.58 12.51 L331.58 12.26 L335.55 15.39 L335.55 15.14 L340.44 19.01 L340.44 18.76 L340.73 18.98 L340.73 18.73 L341.41 19.26 L341.41 19.01 L341.91 19.41 L341.91 19.15 L342.74 19.82 L342.74 19.56 L346.09 22.21 L346.09 21.96 L348.57 23.92 L348.57 23.66 L354.10 28.04 L354.10 27.79 L356.20 29.44 L356.20 29.19 L357.45 30.18 L357.45 29.93 L362.98 34.30 L362.98 34.05 L363.80 34.70 L363.80 34.44 L364.53 35.02 L364.53 34.76 L365.39 35.45 L365.39 35.20 L365.49 35.28 L365.49 35.02 L366.66 35.94 L366.66 35.69 L367.12 36.06 L367.12 35.80 L372.58 40.12 L372.58 39.86 L372.92 40.13 L372.92 39.88 L373.76 40.55 L373.76 40.30 L373.84 40.36 L373.84 40.11 L374.84 40.90 L374.84 40.64 L377.87 43.04 L377.87 42.79 L380.64 44.97 L380.64 44.72 L380.73 44.79 L380.73 44.54 L385.42 48.25 L385.42 48.00 L386.07 48.51 L386.07 48.26 L386.12 48.30 L386.12 48.05 L390.10 51.19 L390.10 50.94 L391.22 51.83 L391.22 51.57 L391.87 52.09 L391.87 51.84 L393.72 53.30 L393.72 53.05 L394.80 53.90" stroke="#5CC5A7" stroke-width="0.42" fill="none" stroke-linejoin="round"/>
</g>
<path d="M300.90 35.50h2.6" stroke="#5BB0EC" stroke-width="0.5" stroke-opacity="0.55"/>
<text transform="matrix(1 0.0005 0 1 305.80 36.60)" font-size="3.48" fill="#000" stroke="#000" stroke-width="0.05">[Reactome] Translation</text>
<path d="M300.90 39.37h2.6" stroke="#EC4B8D" stroke-width="0.5" stroke-opacity="0.55"/>
<text transform="matrix(1 0.0005 0 1 305.80 40.47)" font-size="3.48" fill="#000" stroke="#000" stroke-width="0.05">[Reactome] M Phase</text>
<path d="M300.90 43.24h2.6" stroke="#F4B7BF" stroke-width="0.5" stroke-opacity="0.55"/>
<text transform="matrix(1 0.0005 0 1 305.80 44.34)" font-size="3.48" fill="#000" stroke="#000" stroke-width="0.05">[Reactome] Separation of Sister Chromatids</text>
<path d="M300.90 47.11h2.6" stroke="#C8A1DA" stroke-width="0.5" stroke-opacity="0.55"/>
<text transform="matrix(1 0.0005 0 1 305.80 48.21)" font-size="3.48" fill="#000" stroke="#000" stroke-width="0.05">[Reactome] DNA Replication</text>
<path d="M300.90 50.98h2.6" stroke="#5CC5A7" stroke-width="0.5" stroke-opacity="0.55"/>
<text transform="matrix(1 0.0005 0 1 305.80 52.08)" font-size="3.48" fill="#000" stroke="#000" stroke-width="0.05">[Reactome] Regulation of Expression of Slits</text>
<text transform="matrix(1 0.0005 0 1 305.80 55.95)" font-size="3.48" fill="#000" stroke="#000" stroke-width="0.05">and Robos</text>
<path d="M299.1 53.90H394.8" stroke="#666" stroke-width="0.45" stroke-dasharray="1.4 1.7" fill="none"/>
<path d="M299.10 95.40 L299.10 84.90 L299.50 86.06 L299.90 86.94 L300.30 87.63 L300.70 88.17 L301.10 88.60 L301.50 88.94 L301.90 89.22 L302.30 89.45 L302.70 89.64 L303.10 89.81 L303.50 89.96 L303.91 90.09 L304.31 90.21 L304.71 90.33 L305.11 90.43 L305.51 90.53 L305.91 90.63 L306.31 90.72 L306.71 90.81 L307.11 90.90 L307.51 90.99 L307.91 91.07 L308.31 91.15 L308.71 91.23 L309.11 91.32 L309.51 91.40 L309.91 91.47 L310.31 91.55 L310.71 91.63 L311.11 91.71 L311.51 91.78 L311.91 91.86 L312.31 91.93 L312.71 92.00 L313.11 92.07 L313.52 92.14 L313.92 92.21 L314.32 92.28 L314.72 92.35 L315.12 92.42 L315.52 92.49 L315.92 92.55 L316.32 92.62 L316.72 92.68 L317.12 92.74 L317.52 92.81 L317.92 92.87 L318.32 92.93 L318.72 92.99 L319.12 93.05 L319.52 93.10 L319.92 93.16 L320.32 93.21 L320.72 93.27 L321.12 93.32 L321.52 93.38 L321.92 93.43 L322.32 93.48 L322.72 93.53 L323.13 93.57 L323.53 93.62 L323.93 93.67 L324.33 93.71 L324.73 93.76 L325.13 93.80 L325.53 93.84 L325.93 93.88 L326.33 93.92 L326.73 93.96 L327.13 93.99 L327.53 94.03 L327.93 94.06 L328.33 94.09 L328.73 94.12 L329.13 94.15 L329.53 94.18 L329.93 94.21 L330.33 94.23 L330.73 94.25 L331.13 94.28 L331.53 94.29 L331.93 94.31 L332.33 94.33 L332.74 94.34 L333.14 94.35 L333.54 94.35 L333.94 96.11 L334.34 96.12 L334.74 96.13 L335.14 96.14 L335.54 96.15 L335.94 96.16 L336.34 96.17 L336.74 96.18 L337.14 96.19 L337.54 96.20 L337.94 96.21 L338.34 96.22 L338.74 96.23 L339.14 96.24 L339.54 96.25 L339.94 96.26 L340.34 96.27 L340.74 96.28 L341.14 96.29 L341.54 96.30 L341.94 96.31 L342.35 96.32 L342.75 96.33 L343.15 96.34 L343.55 96.35 L343.95 96.36 L344.35 96.37 L344.75 96.38 L345.15 96.39 L345.55 96.40 L345.95 96.41 L346.35 96.42 L346.75 96.43 L347.15 96.44 L347.55 96.45 L347.95 96.46 L348.35 96.47 L348.75 96.48 L349.15 96.49 L349.55 96.50 L349.95 96.51 L350.35 96.52 L350.75 96.53 L351.15 96.54 L351.55 96.55 L351.96 96.56 L352.36 96.57 L352.76 96.58 L353.16 96.59 L353.56 96.60 L353.96 96.61 L354.36 96.62 L354.76 96.63 L355.16 96.64 L355.56 96.65 L355.96 96.66 L356.36 96.67 L356.76 96.68 L357.16 96.69 L357.56 96.70 L357.96 96.71 L358.36 96.72 L358.76 96.73 L359.16 96.74 L359.56 96.75 L359.96 96.76 L360.36 96.77 L360.76 96.78 L361.16 96.79 L361.57 96.80 L361.97 96.81 L362.37 96.82 L362.77 96.83 L363.17 96.84 L363.57 96.85 L363.97 96.86 L364.37 96.87 L364.77 96.88 L365.17 96.89 L365.57 96.91 L365.97 96.92 L366.37 96.93 L366.77 96.94 L367.17 96.95 L367.57 96.96 L367.97 96.97 L368.37 96.98 L368.77 96.99 L369.17 97.00 L369.57 97.01 L369.97 97.02 L370.37 97.03 L370.77 97.04 L371.18 97.05 L371.58 97.06 L371.98 97.07 L372.38 97.08 L372.78 97.09 L373.18 97.10 L373.58 97.11 L373.98 97.12 L374.38 97.13 L374.78 97.14 L375.18 97.15 L375.58 97.16 L375.98 97.17 L376.38 97.18 L376.78 97.19 L377.18 97.20 L377.58 97.21 L377.98 97.22 L378.38 97.23 L378.78 97.24 L379.18 97.25 L379.58 97.26 L379.98 97.27 L380.38 97.28 L380.79 97.29 L381.19 97.30 L381.59 97.31 L381.99 97.32 L382.39 97.33 L382.79 97.34 L383.19 97.36 L383.59 97.37 L383.99 97.38 L384.39 97.40 L384.79 97.41 L385.19 97.43 L385.59 97.45 L385.99 97.47 L386.39 97.49 L386.79 97.52 L387.19 97.55 L387.59 97.58 L387.99 97.63 L388.39 97.68 L388.79 97.74 L389.19 97.82 L389.59 97.91 L389.99 98.02 L390.40 98.16 L390.80 98.33 L391.20 98.53 L391.60 98.79 L392.00 99.10 L392.40 99.49 L392.80 99.96 L393.20 100.54 L393.60 101.25 L394.00 102.12 L394.40 103.19 L394.80 104.50 L394.80 95.40Z" fill="#BDBDBD"/>
<rect x="299.1" y="7.1" width="95.70" height="99.70" fill="none" stroke="#484848" stroke-width="0.62"/>
<path d="M299.1 57.0H394.8M299.1 80.3H394.8" stroke="#484848" stroke-width="0.62"/>
<path d="M297.80 53.90h1.3" stroke="#333" stroke-width="0.45"/>
<text transform="matrix(1 0.0005 0 1 297.10 55.09)" font-size="3.3" text-anchor="end" fill="#111" stroke="#111" stroke-width="0.12">0.0</text>
<path d="M297.80 39.90h1.3" stroke="#333" stroke-width="0.45"/>
<text transform="matrix(1 0.0005 0 1 297.10 41.09)" font-size="3.3" text-anchor="end" fill="#111" stroke="#111" stroke-width="0.12">0.2</text>
<path d="M297.80 25.90h1.3" stroke="#333" stroke-width="0.45"/>
<text transform="matrix(1 0.0005 0 1 297.10 27.09)" font-size="3.3" text-anchor="end" fill="#111" stroke="#111" stroke-width="0.12">0.4</text>
<path d="M297.80 11.90h1.3" stroke="#333" stroke-width="0.45"/>
<text transform="matrix(1 0.0005 0 1 297.10 13.09)" font-size="3.3" text-anchor="end" fill="#111" stroke="#111" stroke-width="0.12">0.6</text>
<path d="M297.80 81.40h1.3" stroke="#333" stroke-width="0.45"/>
<text transform="matrix(1 0.0005 0 1 297.10 82.59)" font-size="3.3" text-anchor="end" fill="#111" stroke="#111" stroke-width="0.12">2</text>
<path d="M297.80 88.40h1.3" stroke="#333" stroke-width="0.45"/>
<text transform="matrix(1 0.0005 0 1 297.10 89.59)" font-size="3.3" text-anchor="end" fill="#111" stroke="#111" stroke-width="0.12">1</text>
<path d="M297.80 95.40h1.3" stroke="#333" stroke-width="0.45"/>
<text transform="matrix(1 0.0005 0 1 297.10 96.59)" font-size="3.3" text-anchor="end" fill="#111" stroke="#111" stroke-width="0.12">0</text>
<path d="M297.80 102.40h1.3" stroke="#333" stroke-width="0.45"/>
<text transform="matrix(1 0.0005 0 1 297.10 103.59)" font-size="3.3" text-anchor="end" fill="#111" stroke="#111" stroke-width="0.12">-1</text>
<path d="M299.10 106.8v1.3" stroke="#333" stroke-width="0.45"/>
<text transform="matrix(1 0.0005 0 1 299.10 112.80)" font-size="4.0" text-anchor="middle" fill="#111" stroke="#111" stroke-width="0.12">0</text>
<path d="M331.04 106.8v1.3" stroke="#333" stroke-width="0.45"/>
<text transform="matrix(1 0.0005 0 1 331.04 112.80)" font-size="4.0" text-anchor="middle" fill="#111" stroke="#111" stroke-width="0.12">5000</text>
<path d="M362.99 106.8v1.3" stroke="#333" stroke-width="0.45"/>
<text transform="matrix(1 0.0005 0 1 362.99 112.80)" font-size="4.0" text-anchor="middle" fill="#111" stroke="#111" stroke-width="0.12">10000</text>
<text transform="matrix(1 0.0005 0 1 346.95 117.70)" font-size="4" text-anchor="middle" fill="#111" stroke="#111" stroke-width="0.06">Rank in Ordered Dataset</text>
<text transform="matrix(0.0005 -1 1 0 288.70 32.05)" font-size="4" text-anchor="middle" fill="#111" stroke="#111" stroke-width="0.06">Enrichment Score</text>
<text transform="matrix(0.0005 -1 1 0 290.70 93.55)" font-size="4" text-anchor="middle" fill="#111" stroke="#111" stroke-width="0.06">Ranked list metric</text>
</g>
<g>
<clipPath id="c6"><rect x="429.0" y="7.3" width="95.70000000000005" height="49.800000000000004"/></clipPath>
<path d="M429.10 57.10v4.62M429.75 57.10v4.62M429.85 57.10v4.62M430.29 57.10v4.62M430.44 57.10v4.62M430.48 57.10v4.62M430.89 57.10v4.62M431.23 57.10v4.62M431.31 57.10v4.62M432.16 57.10v4.62M432.34 57.10v4.62M432.56 57.10v4.62M432.62 57.10v4.62M432.83 57.10v4.62M432.99 57.10v4.62M433.57 57.10v4.62M434.28 57.10v4.62M434.96 57.10v4.62M435.34 57.10v4.62M435.86 57.10v4.62M436.03 57.10v4.62M436.05 57.10v4.62M436.14 57.10v4.62M436.16 57.10v4.62M436.39 57.10v4.62M436.88 57.10v4.62M437.19 57.10v4.62M437.56 57.10v4.62M438.03 57.10v4.62M438.75 57.10v4.62M439.04 57.10v4.62M439.35 57.10v4.62M439.64 57.10v4.62M440.04 57.10v4.62M440.12 57.10v4.62M440.63 57.10v4.62M440.70 57.10v4.62M440.76 57.10v4.62M440.76 57.10v4.62M441.37 57.10v4.62M441.49 57.10v4.62M441.94 57.10v4.62M441.97 57.10v4.62M442.29 57.10v4.62M442.58 57.10v4.62M442.62 57.10v4.62M442.83 57.10v4.62M442.98 57.10v4.62M443.01 57.10v4.62M443.11 57.10v4.62M443.96 57.10v4.62M444.19 57.10v4.62M444.68 57.10v4.62M445.70 57.10v4.62M445.90 57.10v4.62M446.12 57.10v4.62M446.50 57.10v4.62M446.83 57.10v4.62M447.07 57.10v4.62M447.20 57.10v4.62M447.27 57.10v4.62M447.51 57.10v4.62M447.82 57.10v4.62M448.87 57.10v4.62M448.94 57.10v4.62M449.18 57.10v4.62M449.36 57.10v4.62M449.61 57.10v4.62M451.21 57.10v4.62M451.24 57.10v4.62M451.75 57.10v4.62M451.92 57.10v4.62M452.86 57.10v4.62M453.15 57.10v4.62M454.71 57.10v4.62M455.70 57.10v4.62M456.15 57.10v4.62M459.93 57.10v4.62M460.75 57.10v4.62M461.56 57.10v4.62M465.71 57.10v4.62M465.88 57.10v4.62M472.38 57.10v4.62M480.32 57.10v4.62M482.90 57.10v4.62M489.72 57.10v4.62M497.34 57.10v4.62M503.35 57.10v4.62M510.35 57.10v4.62M510.72 57.10v4.62M511.08 57.10v4.62M511.40 57.10v4.62M512.26 57.10v4.62M515.65 57.10v4.62M515.72 57.10v4.62M519.69 57.10v4.62M521.67 57.10v4.62M522.98 57.10v4.62M523.03 57.10v4.62M523.34 57.10v4.62" stroke="#5BB0EC" stroke-width="0.36" stroke-opacity="0.8" fill="none"/>
<path d="M429.17 61.72v4.62M429.22 61.72v4.62M429.37 61.72v4.62M429.41 61.72v4.62M430.11 61.72v4.62M430.91 61.72v4.62M431.05 61.72v4.62M431.86 61.72v4.62M433.47 61.72v4.62M433.58 61.72v4.62M433.79 61.72v4.62M433.96 61.72v4.62M434.02 61.72v4.62M434.28 61.72v4.62M434.69 61.72v4.62M435.38 61.72v4.62M436.90 61.72v4.62M437.52 61.72v4.62M438.36 61.72v4.62M438.42 61.72v4.62M438.49 61.72v4.62M439.18 61.72v4.62M439.22 61.72v4.62M439.46 61.72v4.62M440.12 61.72v4.62M440.20 61.72v4.62M440.85 61.72v4.62M441.15 61.72v4.62M441.69 61.72v4.62M441.70 61.72v4.62M441.87 61.72v4.62M441.91 61.72v4.62M442.00 61.72v4.62M442.38 61.72v4.62M442.98 61.72v4.62M443.11 61.72v4.62M443.81 61.72v4.62M443.87 61.72v4.62M443.90 61.72v4.62M444.07 61.72v4.62M444.69 61.72v4.62M445.44 61.72v4.62M445.65 61.72v4.62M446.07 61.72v4.62M446.16 61.72v4.62M446.33 61.72v4.62M447.47 61.72v4.62M448.03 61.72v4.62M448.17 61.72v4.62M448.25 61.72v4.62M449.25 61.72v4.62M449.38 61.72v4.62M450.00 61.72v4.62M450.62 61.72v4.62M451.27 61.72v4.62M451.29 61.72v4.62M451.44 61.72v4.62M451.63 61.72v4.62M451.90 61.72v4.62M452.11 61.72v4.62M452.45 61.72v4.62M452.47 61.72v4.62M453.15 61.72v4.62M453.52 61.72v4.62M455.45 61.72v4.62M455.48 61.72v4.62M455.63 61.72v4.62M456.28 61.72v4.62M456.47 61.72v4.62M456.53 61.72v4.62M457.14 61.72v4.62M457.44 61.72v4.62M457.72 61.72v4.62M458.43 61.72v4.62M458.65 61.72v4.62M460.55 61.72v4.62M461.27 61.72v4.62M461.77 61.72v4.62M463.21 61.72v4.62M463.38 61.72v4.62M463.79 61.72v4.62M464.02 61.72v4.62M465.81 61.72v4.62M469.33 61.72v4.62M472.32 61.72v4.62M477.91 61.72v4.62M478.92 61.72v4.62M479.48 61.72v4.62M481.12 61.72v4.62M482.79 61.72v4.62M483.44 61.72v4.62M488.85 61.72v4.62M492.87 61.72v4.62M493.29 61.72v4.62M493.57 61.72v4.62M495.42 61.72v4.62M498.10 61.72v4.62M498.26 61.72v4.62M498.73 61.72v4.62M499.92 61.72v4.62M506.64 61.72v4.62M507.16 61.72v4.62M507.28 61.72v4.62M509.42 61.72v4.62M509.43 61.72v4.62M510.00 61.72v4.62M510.30 61.72v4.62M510.80 61.72v4.62M511.43 61.72v4.62M511.46 61.72v4.62M511.86 61.72v4.62M512.76 61.72v4.62M513.78 61.72v4.62M515.59 61.72v4.62M515.88 61.72v4.62M516.05 61.72v4.62M516.44 61.72v4.62M516.62 61.72v4.62M516.72 61.72v4.62M517.69 61.72v4.62M518.02 61.72v4.62M518.07 61.72v4.62M519.30 61.72v4.62M519.69 61.72v4.62M520.12 61.72v4.62M520.66 61.72v4.62M520.78 61.72v4.62M522.33 61.72v4.62M523.16 61.72v4.62M523.51 61.72v4.62" stroke="#EC4B8D" stroke-width="0.36" stroke-opacity="0.62" fill="none"/>
<path d="M429.02 66.34v4.62M429.37 66.34v4.62M430.32 66.34v4.62M430.34 66.34v4.62M430.66 66.34v4.62M430.98 66.34v4.62M431.30 66.34v4.62M431.36 66.34v4.62M431.94 66.34v4.62M432.12 66.34v4.62M432.52 66.34v4.62M432.73 66.34v4.62M432.82 66.34v4.62M433.02 66.34v4.62M433.87 66.34v4.62M433.93 66.34v4.62M434.77 66.34v4.62M435.25 66.34v4.62M435.76 66.34v4.62M436.07 66.34v4.62M436.26 66.34v4.62M436.65 66.34v4.62M437.65 66.34v4.62M437.66 66.34v4.62M437.70 66.34v4.62M438.15 66.34v4.62M438.50 66.34v4.62M439.87 66.34v4.62M440.14 66.34v4.62M440.23 66.34v4.62M440.53 66.34v4.62M440.78 66.34v4.62M440.95 66.34v4.62M440.97 66.34v4.62M441.37 66.34v4.62M441.59 66.34v4.62M441.86 66.34v4.62M442.36 66.34v4.62M443.15 66.34v4.62M443.54 66.34v4.62M444.18 66.34v4.62M444.19 66.34v4.62M444.26 66.34v4.62M444.48 66.34v4.62M444.68 66.34v4.62M445.67 66.34v4.62M445.80 66.34v4.62M445.82 66.34v4.62M445.88 66.34v4.62M446.09 66.34v4.62M446.58 66.34v4.62M446.66 66.34v4.62M446.97 66.34v4.62M447.17 66.34v4.62M447.29 66.34v4.62M447.41 66.34v4.62M447.80 66.34v4.62M448.40 66.34v4.62M449.12 66.34v4.62M449.62 66.34v4.62M449.99 66.34v4.62M452.36 66.34v4.62M452.47 66.34v4.62M453.63 66.34v4.62M453.66 66.34v4.62M453.79 66.34v4.62M454.45 66.34v4.62M456.16 66.34v4.62M457.38 66.34v4.62M458.66 66.34v4.62M460.10 66.34v4.62M462.27 66.34v4.62M462.48 66.34v4.62M463.35 66.34v4.62M463.41 66.34v4.62M465.29 66.34v4.62M465.80 66.34v4.62M469.54 66.34v4.62M469.55 66.34v4.62M474.59 66.34v4.62M480.01 66.34v4.62M490.77 66.34v4.62M491.19 66.34v4.62M497.89 66.34v4.62M502.55 66.34v4.62M505.23 66.34v4.62M507.25 66.34v4.62M507.30 66.34v4.62M508.90 66.34v4.62M511.44 66.34v4.62" stroke="#F4B7BF" stroke-width="0.36" stroke-opacity="0.75" fill="none"/>
<path d="M429.76 70.96v4.62M429.98 70.96v4.62M430.20 70.96v4.62M430.95 70.96v4.62M431.27 70.96v4.62M431.31 70.96v4.62M431.40 70.96v4.62M431.52 70.96v4.62M431.72 70.96v4.62M432.70 70.96v4.62M433.12 70.96v4.62M435.78 70.96v4.62M436.84 70.96v4.62M436.94 70.96v4.62M437.88 70.96v4.62M438.46 70.96v4.62M438.85 70.96v4.62M439.77 70.96v4.62M439.91 70.96v4.62M440.17 70.96v4.62M440.50 70.96v4.62M440.65 70.96v4.62M440.66 70.96v4.62M441.56 70.96v4.62M441.65 70.96v4.62M442.12 70.96v4.62M442.24 70.96v4.62M444.34 70.96v4.62M445.24 70.96v4.62M445.96 70.96v4.62M446.06 70.96v4.62M446.22 70.96v4.62M446.62 70.96v4.62M446.65 70.96v4.62M448.82 70.96v4.62M449.70 70.96v4.62M449.82 70.96v4.62M450.17 70.96v4.62M451.14 70.96v4.62M451.91 70.96v4.62M452.28 70.96v4.62M455.03 70.96v4.62M456.12 70.96v4.62M458.83 70.96v4.62M461.42 70.96v4.62M463.25 70.96v4.62M466.26 70.96v4.62M476.88 70.96v4.62M476.98 70.96v4.62M482.11 70.96v4.62M483.00 70.96v4.62M484.17 70.96v4.62M494.80 70.96v4.62M500.47 70.96v4.62M501.92 70.96v4.62" stroke="#C8A1DA" stroke-width="0.36" stroke-opacity="0.7" fill="none"/>
<path d="M429.00 75.58v4.62M429.58 75.58v4.62M429.81 75.58v4.62M429.94 75.58v4.62M430.04 75.58v4.62M430.04 75.58v4.62M430.17 75.58v4.62M430.68 75.58v4.62M430.68 75.58v4.62M430.79 75.58v4.62M431.42 75.58v4.62M432.45 75.58v4.62M432.53 75.58v4.62M432.93 75.58v4.62M432.95 75.58v4.62M433.53 75.58v4.62M433.86 75.58v4.62M433.92 75.58v4.62M434.31 75.58v4.62M434.82 75.58v4.62M435.54 75.58v4.62M437.13 75.58v4.62M437.13 75.58v4.62M437.47 75.58v4.62M438.31 75.58v4.62M438.40 75.58v4.62M439.19 75.58v4.62M440.07 75.58v4.62M440.37 75.58v4.62M440.50 75.58v4.62M440.80 75.58v4.62M440.87 75.58v4.62M441.55 75.58v4.62M442.04 75.58v4.62M442.05 75.58v4.62M442.26 75.58v4.62M443.20 75.58v4.62M443.41 75.58v4.62M443.63 75.58v4.62M443.90 75.58v4.62M444.03 75.58v4.62M444.51 75.58v4.62M445.47 75.58v4.62M446.05 75.58v4.62M446.07 75.58v4.62M446.10 75.58v4.62M446.27 75.58v4.62M447.32 75.58v4.62M447.79 75.58v4.62M450.67 75.58v4.62M451.19 75.58v4.62M451.94 75.58v4.62M451.95 75.58v4.62M455.50 75.58v4.62M455.92 75.58v4.62M457.22 75.58v4.62M457.32 75.58v4.62M461.24 75.58v4.62M465.29 75.58v4.62M465.50 75.58v4.62M465.78 75.58v4.62M470.33 75.58v4.62M471.28 75.58v4.62M471.91 75.58v4.62M473.80 75.58v4.62M475.76 75.58v4.62M476.29 75.58v4.62M476.60 75.58v4.62M479.75 75.58v4.62M484.92 75.58v4.62M486.07 75.58v4.62M491.56 75.58v4.62M492.48 75.58v4.62M497.53 75.58v4.62M498.18 75.58v4.62M505.86 75.58v4.62M509.92 75.58v4.62M513.79 75.58v4.62M516.10 75.58v4.62M519.18 75.58v4.62" stroke="#5CC5A7" stroke-width="0.36" stroke-opacity="0.6" fill="none"/>
<g clip-path="url(#c6)">
<path d="M429.00 54.30 L429.02 54.32 L429.02 54.11 L429.04 54.12 L429.04 53.91 L429.06 53.92 L429.06 53.71 L429.06 53.71 L429.06 53.51 L429.08 53.52 L429.08 53.31 L429.10 53.33 L429.10 53.12 L429.16 53.16 L429.16 52.95 L429.18 52.96 L429.18 52.75 L429.27 52.82 L429.27 52.61 L429.28 52.61 L429.28 52.40 L429.32 52.43 L429.32 52.22 L429.43 52.29 L429.43 52.08 L429.52 52.14 L429.52 51.93 L429.68 52.04 L429.68 51.83 L429.71 51.85 L429.71 51.65 L429.75 51.67 L429.75 51.46 L429.78 51.48 L429.78 51.28 L429.84 51.31 L429.84 51.11 L429.85 51.11 L429.85 50.90 L429.85 50.91 L429.85 50.70 L429.88 50.71 L429.88 50.50 L429.94 50.54 L429.94 50.34 L429.97 50.36 L429.97 50.15 L430.02 50.19 L430.02 49.98 L430.05 50.00 L430.05 49.79 L430.09 49.81 L430.09 49.60 L430.09 49.61 L430.09 49.40 L430.17 49.45 L430.17 49.24 L430.21 49.26 L430.21 49.06 L430.25 49.09 L430.25 48.88 L430.33 48.93 L430.33 48.72 L430.68 48.95 L430.68 48.74 L430.68 48.74 L430.68 48.53 L430.76 48.59 L430.76 48.38 L430.86 48.44 L430.86 48.23 L430.94 48.28 L430.94 48.08 L430.97 48.10 L430.97 47.89 L430.99 47.90 L430.99 47.70 L431.01 47.71 L431.01 47.50 L431.06 47.53 L431.06 47.33 L431.16 47.39 L431.16 47.18 L431.30 47.28 L431.30 47.07 L431.31 47.07 L431.31 46.87 L431.46 46.96 L431.46 46.75 L431.52 46.79 L431.52 46.59 L431.52 46.59 L431.52 46.38 L431.54 46.39 L431.54 46.18 L431.56 46.19 L431.56 45.99 L431.86 46.18 L431.86 45.98 L431.86 45.98 L431.86 45.77 L431.89 45.79 L431.89 45.58 L431.95 45.62 L431.95 45.41 L432.04 45.47 L432.04 45.26 L432.05 45.26 L432.05 45.06 L432.08 45.08 L432.08 44.87 L432.08 44.87 L432.08 44.66 L432.13 44.69 L432.13 44.49 L432.16 44.51 L432.16 44.30 L432.16 44.30 L432.16 44.09 L432.21 44.12 L432.21 43.92 L432.26 43.95 L432.26 43.74 L432.27 43.75 L432.27 43.54 L432.27 43.54 L432.27 43.33 L432.34 43.38 L432.34 43.17 L432.39 43.20 L432.39 42.99 L432.43 43.02 L432.43 42.81 L432.44 42.82 L432.44 42.61 L432.51 42.66 L432.51 42.45 L432.54 42.47 L432.54 42.26 L432.57 42.28 L432.57 42.07 L432.57 42.07 L432.57 41.86 L432.70 41.95 L432.70 41.74 L432.72 41.75 L432.72 41.55 L432.74 41.56 L432.74 41.35 L432.74 41.35 L432.74 41.15 L432.78 41.17 L432.78 40.96 L432.86 41.01 L432.86 40.81 L432.90 40.83 L432.90 40.62 L432.91 40.63 L432.91 40.42 L432.92 40.43 L432.92 40.22 L432.99 40.26 L432.99 40.06 L433.03 40.09 L433.03 39.88 L433.06 39.90 L433.06 39.69 L433.08 39.70 L433.08 39.50 L433.11 39.51 L433.11 39.31 L433.33 39.45 L433.33 39.24 L433.40 39.29 L433.40 39.08 L433.42 39.09 L433.42 38.88 L433.44 38.90 L433.44 38.69 L433.46 38.70 L433.46 38.50 L433.48 38.51 L433.48 38.30 L433.62 38.39 L433.62 38.18 L433.69 38.23 L433.69 38.02 L433.82 38.10 L433.82 37.90 L433.90 37.95 L433.90 37.74 L433.96 37.78 L433.96 37.57 L433.96 37.57 L433.96 37.37 L434.02 37.40 L434.02 37.19 L434.02 37.20 L434.02 36.99 L434.18 37.09 L434.18 36.88 L434.22 36.91 L434.22 36.70 L434.27 36.73 L434.27 36.53 L434.28 36.53 L434.28 36.32 L434.33 36.36 L434.33 36.15 L434.50 36.26 L434.50 36.05 L434.54 36.08 L434.54 35.87 L434.66 35.95 L434.66 35.74 L434.75 35.80 L434.75 35.59 L434.90 35.69 L434.90 35.48 L434.97 35.53 L434.97 35.32 L435.08 35.39 L435.08 35.18 L435.16 35.23 L435.16 35.03 L435.25 35.08 L435.25 34.88 L435.27 34.89 L435.27 34.69 L435.28 34.69 L435.28 34.48 L435.29 34.49 L435.29 34.28 L435.39 34.35 L435.39 34.14 L435.39 34.14 L435.39 33.93 L435.41 33.94 L435.41 33.73 L435.41 33.74 L435.41 33.53 L435.47 33.57 L435.47 33.36 L435.49 33.37 L435.49 33.16 L435.50 33.17 L435.50 32.96 L435.54 32.99 L435.54 32.78 L435.54 32.78 L435.54 32.57 L435.56 32.59 L435.56 32.38 L435.56 32.38 L435.56 32.17 L435.64 32.22 L435.64 32.01 L435.67 32.04 L435.67 31.83 L435.89 31.97 L435.89 31.76 L435.93 31.79 L435.93 31.58 L436.01 31.63 L436.01 31.43 L436.11 31.49 L436.11 31.28 L436.13 31.29 L436.13 31.09 L436.13 31.09 L436.13 30.88 L436.14 30.89 L436.14 30.68 L436.36 30.82 L436.36 30.61 L436.41 30.64 L436.41 30.44 L436.44 30.46 L436.44 30.25 L436.50 30.29 L436.50 30.08 L436.56 30.12 L436.56 29.91 L436.82 30.08 L436.82 29.87 L436.86 29.90 L436.86 29.69 L436.90 29.72 L436.90 29.51 L437.03 29.60 L437.03 29.39 L437.11 29.44 L437.11 29.23 L437.13 29.24 L437.13 29.03 L437.23 29.10 L437.23 28.89 L437.28 28.93 L437.28 28.72 L437.57 28.91 L437.57 28.70 L437.69 28.77 L437.69 28.57 L437.72 28.59 L437.72 28.38 L437.80 28.43 L437.80 28.23 L437.84 28.25 L437.84 28.04 L437.90 28.08 L437.90 27.87 L437.90 27.88 L437.90 27.67 L437.92 27.68 L437.92 27.47 L438.31 27.72 L438.31 27.52 L438.32 27.53 L438.32 27.32 L438.36 27.34 L438.36 27.13 L438.37 27.14 L438.37 26.93 L438.42 26.96 L438.42 26.76 L438.44 26.77 L438.44 26.56 L438.46 26.58 L438.46 26.37 L438.69 26.52 L438.69 26.31 L438.76 26.36 L438.76 26.15 L438.86 26.21 L438.86 26.00 L438.90 26.03 L438.90 25.82 L439.02 25.90 L439.02 25.69 L439.08 25.73 L439.08 25.52 L439.10 25.54 L439.10 25.33 L439.17 25.37 L439.17 25.17 L439.33 25.27 L439.33 25.07 L439.70 25.30 L439.70 25.10 L439.83 25.18 L439.83 24.97 L439.99 25.07 L439.99 24.87 L440.05 24.91 L440.05 24.70 L440.11 24.74 L440.11 24.53 L440.27 24.64 L440.27 24.43 L440.28 24.44 L440.28 24.23 L440.37 24.29 L440.37 24.08 L440.39 24.09 L440.39 23.88 L440.42 23.90 L440.42 23.69 L440.42 23.69 L440.42 23.49 L440.50 23.54 L440.50 23.33 L440.52 23.34 L440.52 23.13 L440.66 23.22 L440.66 23.02 L441.17 23.35 L441.17 23.15 L441.18 23.15 L441.18 22.94 L441.19 22.95 L441.19 22.74 L441.28 22.80 L441.28 22.59 L441.31 22.61 L441.31 22.40 L441.33 22.42 L441.33 22.21 L441.39 22.25 L441.39 22.04 L441.54 22.14 L441.54 21.93 L441.63 21.99 L441.63 21.78 L441.64 21.79 L441.64 21.58 L441.68 21.60 L441.68 21.40 L441.73 21.43 L441.73 21.22 L441.80 21.27 L441.80 21.06 L442.12 21.27 L442.12 21.06 L442.14 21.07 L442.14 20.86 L442.20 20.90 L442.20 20.70 L442.21 20.70 L442.21 20.49 L442.27 20.53 L442.27 20.32 L442.36 20.38 L442.36 20.18 L442.45 20.23 L442.45 20.03 L442.67 20.17 L442.67 19.96 L442.74 20.01 L442.74 19.80 L442.92 19.92 L442.92 19.71 L443.14 19.85 L443.14 19.65 L443.26 19.72 L443.26 19.51 L443.34 19.57 L443.34 19.36 L443.46 19.44 L443.46 19.23 L443.53 19.28 L443.53 19.07 L443.60 19.11 L443.60 18.90 L443.77 19.02 L443.77 18.81 L443.78 18.81 L443.78 18.61 L443.80 18.62 L443.80 18.41 L443.98 18.53 L443.98 18.32 L444.00 18.34 L444.00 18.13 L444.07 18.17 L444.07 17.97 L444.10 17.98 L444.10 17.77 L444.21 17.85 L444.21 17.64 L444.64 17.92 L444.64 17.71 L444.72 17.76 L444.72 17.55 L444.77 17.59 L444.77 17.38 L444.78 17.39 L444.78 17.18 L444.82 17.20 L444.82 17.00 L444.85 17.01 L444.85 16.81 L444.86 16.82 L444.86 16.61 L444.93 16.65 L444.93 16.45 L444.97 16.47 L444.97 16.26 L445.01 16.29 L445.01 16.08 L445.06 16.12 L445.06 15.91 L445.14 15.96 L445.14 15.75 L445.56 16.02 L445.56 15.82 L446.26 16.27 L446.26 16.07 L446.33 16.11 L446.33 15.90 L446.39 15.94 L446.39 15.74 L446.53 15.82 L446.53 15.61 L446.75 15.76 L446.75 15.55 L446.81 15.59 L446.81 15.38 L446.97 15.48 L446.97 15.28 L447.11 15.37 L447.11 15.16 L447.34 15.31 L447.34 15.10 L447.55 15.24 L447.55 15.03 L447.56 15.04 L447.56 14.83 L448.19 15.25 L448.19 15.04 L448.43 15.19 L448.43 14.98 L448.48 15.02 L448.48 14.81 L448.58 14.87 L448.58 14.66 L448.65 14.71 L448.65 14.50 L448.67 14.52 L448.67 14.31 L448.87 14.44 L448.87 14.23 L449.27 14.49 L449.27 14.29 L449.30 14.30 L449.30 14.09 L449.43 14.18 L449.43 13.97 L449.63 14.10 L449.63 13.89 L449.86 14.04 L449.86 13.84 L449.89 13.85 L449.89 13.65 L449.96 13.70 L449.96 13.49 L450.37 13.75 L450.37 13.55 L450.90 13.89 L450.90 13.68 L451.41 14.02 L451.41 13.81 L451.68 13.98 L451.68 13.78 L451.81 13.86 L451.81 13.65 L451.85 13.68 L451.85 13.47 L452.07 13.61 L452.07 13.40 L453.53 14.35 L453.53 14.15 L454.95 15.08 L454.95 14.87 L455.13 14.99 L455.13 14.78 L455.63 15.10 L455.63 14.89 L455.90 15.07 L455.90 14.86 L455.90 14.86 L455.90 14.66 L456.44 15.00 L456.44 14.80 L456.62 14.92 L456.62 14.71 L456.83 14.84 L456.83 14.63 L458.69 15.85 L458.69 15.64 L459.56 16.21 L459.56 16.00 L459.90 16.22 L459.90 16.01 L461.97 17.36 L461.97 17.16 L465.95 19.75 L465.95 19.54 L468.15 20.98 L468.15 20.77 L477.17 26.64 L477.17 26.44 L477.56 26.69 L477.56 26.48 L477.99 26.76 L477.99 26.56 L481.00 28.52 L481.00 28.31 L483.83 30.15 L483.83 29.95 L484.34 30.28 L484.34 30.07 L487.43 32.09 L487.43 31.88 L494.25 36.32 L494.25 36.12 L494.66 36.38 L494.66 36.18 L506.37 43.81 L506.37 43.60 L508.87 45.23 L508.87 45.02 L512.12 47.14 L512.12 46.93 L513.91 48.10 L513.91 47.89 L514.25 48.11 L514.25 47.90 L516.07 49.09 L516.07 48.88 L522.69 53.20 L522.69 52.99 L524.70 54.30" stroke="#5BB0EC" stroke-width="0.42" fill="none" stroke-linejoin="round"/>
<path d="M429.00 54.30 L429.00 54.30 L429.00 54.09 L429.04 54.11 L429.04 53.90 L429.05 53.91 L429.05 53.70 L429.11 53.74 L429.11 53.53 L429.12 53.54 L429.12 53.33 L429.15 53.35 L429.15 53.14 L429.17 53.15 L429.17 52.94 L429.18 52.95 L429.18 52.74 L429.19 52.74 L429.19 52.53 L429.22 52.55 L429.22 52.34 L429.24 52.36 L429.24 52.15 L429.25 52.15 L429.25 51.94 L429.36 52.01 L429.36 51.80 L429.37 51.81 L429.37 51.60 L429.41 51.62 L429.41 51.41 L429.46 51.45 L429.46 51.24 L429.49 51.26 L429.49 51.05 L429.52 51.07 L429.52 50.86 L429.55 50.88 L429.55 50.67 L429.56 50.67 L429.56 50.46 L429.64 50.51 L429.64 50.30 L429.69 50.34 L429.69 50.13 L429.79 50.20 L429.79 49.99 L429.79 49.99 L429.79 49.78 L429.83 49.80 L429.83 49.59 L429.86 49.61 L429.86 49.40 L430.00 49.49 L430.00 49.28 L430.00 49.28 L430.00 49.07 L430.01 49.08 L430.01 48.87 L430.06 48.90 L430.06 48.69 L430.15 48.75 L430.15 48.54 L430.19 48.57 L430.19 48.36 L430.31 48.44 L430.31 48.23 L430.31 48.23 L430.31 48.02 L430.32 48.02 L430.32 47.81 L430.40 47.86 L430.40 47.65 L430.42 47.66 L430.42 47.45 L430.51 47.51 L430.51 47.30 L430.54 47.32 L430.54 47.11 L430.63 47.18 L430.63 46.97 L430.64 46.97 L430.64 46.76 L430.66 46.77 L430.66 46.56 L430.72 46.60 L430.72 46.39 L430.79 46.44 L430.79 46.23 L430.82 46.25 L430.82 46.04 L430.82 46.04 L430.82 45.83 L430.86 45.86 L430.86 45.65 L430.87 45.65 L430.87 45.44 L430.98 45.52 L430.98 45.31 L431.00 45.32 L431.00 45.11 L431.03 45.13 L431.03 44.92 L431.11 44.97 L431.11 44.76 L431.27 44.87 L431.27 44.66 L431.30 44.68 L431.30 44.47 L431.33 44.48 L431.33 44.27 L431.40 44.32 L431.40 44.11 L431.51 44.18 L431.51 43.97 L431.52 43.98 L431.52 43.77 L431.60 43.82 L431.60 43.61 L431.63 43.63 L431.63 43.42 L431.69 43.46 L431.69 43.25 L431.73 43.27 L431.73 43.06 L431.84 43.13 L431.84 42.92 L431.86 42.94 L431.86 42.73 L431.98 42.81 L431.98 42.60 L432.03 42.63 L432.03 42.42 L432.08 42.46 L432.08 42.25 L432.09 42.25 L432.09 42.04 L432.14 42.07 L432.14 41.86 L432.16 41.87 L432.16 41.66 L432.16 41.66 L432.16 41.45 L432.18 41.47 L432.18 41.26 L432.18 41.26 L432.18 41.05 L432.19 41.05 L432.19 40.84 L432.19 40.85 L432.19 40.64 L432.22 40.66 L432.22 40.45 L432.40 40.56 L432.40 40.35 L432.48 40.41 L432.48 40.20 L432.51 40.21 L432.51 40.00 L432.56 40.03 L432.56 39.82 L432.62 39.87 L432.62 39.66 L432.65 39.68 L432.65 39.47 L432.67 39.48 L432.67 39.27 L432.80 39.36 L432.80 39.15 L432.88 39.20 L432.88 38.99 L432.88 38.99 L432.88 38.78 L432.91 38.80 L432.91 38.59 L432.92 38.59 L432.92 38.38 L433.04 38.46 L433.04 38.25 L433.07 38.27 L433.07 38.06 L433.10 38.08 L433.10 37.87 L433.24 37.96 L433.24 37.75 L433.26 37.77 L433.26 37.56 L433.30 37.58 L433.30 37.37 L433.32 37.38 L433.32 37.17 L433.47 37.27 L433.47 37.06 L433.48 37.07 L433.48 36.86 L433.49 36.86 L433.49 36.65 L433.53 36.68 L433.53 36.47 L433.59 36.51 L433.59 36.30 L433.62 36.32 L433.62 36.11 L433.77 36.21 L433.77 36.00 L433.83 36.04 L433.83 35.83 L433.85 35.84 L433.85 35.63 L433.89 35.66 L433.89 35.45 L434.04 35.55 L434.04 35.34 L434.23 35.46 L434.23 35.25 L434.23 35.25 L434.23 35.04 L434.31 35.09 L434.31 34.88 L434.32 34.89 L434.32 34.68 L434.35 34.70 L434.35 34.49 L434.39 34.52 L434.39 34.31 L434.46 34.35 L434.46 34.14 L434.56 34.21 L434.56 34.00 L434.68 34.08 L434.68 33.86 L434.72 33.89 L434.72 33.68 L434.75 33.70 L434.75 33.49 L434.75 33.49 L434.75 33.28 L434.78 33.30 L434.78 33.09 L434.81 33.11 L434.81 32.90 L434.97 33.01 L434.97 32.80 L435.11 32.89 L435.11 32.68 L435.15 32.70 L435.15 32.49 L435.24 32.55 L435.24 32.34 L435.27 32.36 L435.27 32.15 L435.28 32.16 L435.28 31.95 L435.41 32.03 L435.41 31.82 L435.48 31.87 L435.48 31.66 L435.51 31.68 L435.51 31.47 L435.52 31.48 L435.52 31.27 L435.54 31.28 L435.54 31.07 L435.59 31.10 L435.59 30.89 L435.65 30.93 L435.65 30.72 L435.67 30.74 L435.67 30.53 L435.77 30.59 L435.77 30.38 L435.83 30.42 L435.83 30.21 L435.87 30.24 L435.87 30.03 L435.90 30.04 L435.90 29.83 L435.92 29.85 L435.92 29.64 L435.93 29.65 L435.93 29.43 L435.94 29.44 L435.94 29.23 L436.08 29.32 L436.08 29.11 L436.09 29.12 L436.09 28.91 L436.13 28.93 L436.13 28.72 L436.32 28.85 L436.32 28.64 L436.37 28.67 L436.37 28.46 L436.45 28.52 L436.45 28.31 L436.49 28.33 L436.49 28.12 L436.67 28.24 L436.67 28.03 L436.73 28.07 L436.73 27.86 L436.77 27.89 L436.77 27.68 L436.77 27.68 L436.77 27.47 L436.81 27.49 L436.81 27.28 L436.87 27.32 L436.87 27.11 L436.90 27.13 L436.90 26.92 L437.00 26.99 L437.00 26.78 L437.06 26.81 L437.06 26.60 L437.09 26.63 L437.09 26.42 L437.17 26.47 L437.17 26.26 L437.22 26.29 L437.22 26.08 L437.29 26.12 L437.29 25.91 L437.36 25.96 L437.36 25.75 L437.47 25.82 L437.47 25.61 L437.65 25.73 L437.65 25.52 L437.79 25.61 L437.79 25.40 L437.83 25.43 L437.83 25.22 L437.91 25.27 L437.91 25.06 L437.92 25.07 L437.92 24.86 L437.99 24.90 L437.99 24.69 L438.06 24.74 L438.06 24.53 L438.06 24.53 L438.06 24.32 L438.15 24.38 L438.15 24.17 L438.16 24.17 L438.16 23.96 L438.24 24.02 L438.24 23.81 L438.25 23.81 L438.25 23.60 L438.42 23.72 L438.42 23.51 L438.43 23.51 L438.43 23.30 L438.52 23.36 L438.52 23.15 L438.58 23.19 L438.58 22.98 L438.70 23.06 L438.70 22.85 L438.72 22.86 L438.72 22.65 L438.72 22.65 L438.72 22.44 L438.77 22.47 L438.77 22.26 L438.82 22.30 L438.82 22.09 L438.91 22.15 L438.91 21.94 L438.95 21.96 L438.95 21.75 L439.02 21.80 L439.02 21.59 L439.09 21.64 L439.09 21.43 L439.26 21.54 L439.26 21.33 L439.38 21.40 L439.38 21.19 L439.38 21.20 L439.38 20.99 L439.40 21.00 L439.40 20.79 L439.49 20.85 L439.49 20.64 L439.58 20.70 L439.58 20.49 L439.67 20.55 L439.67 20.33 L439.81 20.43 L439.81 20.22 L439.87 20.26 L439.87 20.05 L439.90 20.07 L439.90 19.86 L439.90 19.86 L439.90 19.65 L440.05 19.74 L440.05 19.53 L440.08 19.55 L440.08 19.34 L440.20 19.42 L440.20 19.21 L440.23 19.23 L440.23 19.02 L440.25 19.03 L440.25 18.82 L440.30 18.86 L440.30 18.65 L440.33 18.67 L440.33 18.46 L440.37 18.48 L440.37 18.27 L440.50 18.36 L440.50 18.15 L440.50 18.15 L440.50 17.94 L440.55 17.97 L440.55 17.76 L440.62 17.81 L440.62 17.60 L440.70 17.65 L440.70 17.44 L440.95 17.60 L440.95 17.39 L441.09 17.49 L441.09 17.27 L441.10 17.28 L441.10 17.07 L441.16 17.11 L441.16 16.90 L441.23 16.94 L441.23 16.73 L441.29 16.78 L441.29 16.57 L441.34 16.60 L441.34 16.39 L441.42 16.44 L441.42 16.23 L441.44 16.25 L441.44 16.03 L441.53 16.09 L441.53 15.88 L441.59 15.93 L441.59 15.72 L442.00 15.98 L442.00 15.77 L442.18 15.89 L442.18 15.68 L442.22 15.71 L442.22 15.50 L442.47 15.66 L442.47 15.45 L442.63 15.56 L442.63 15.35 L442.64 15.36 L442.64 15.15 L443.03 15.40 L443.03 15.19 L443.19 15.29 L443.19 15.08 L443.29 15.15 L443.29 14.94 L443.52 15.09 L443.52 14.88 L443.73 15.02 L443.73 14.81 L443.96 14.96 L443.96 14.75 L444.18 14.90 L444.18 14.69 L444.33 14.79 L444.33 14.58 L444.35 14.59 L444.35 14.38 L444.44 14.44 L444.44 14.23 L444.51 14.27 L444.51 14.06 L444.58 14.11 L444.58 13.90 L444.87 14.09 L444.87 13.88 L444.94 13.93 L444.94 13.72 L444.98 13.75 L444.98 13.54 L445.14 13.64 L445.14 13.43 L445.39 13.59 L445.39 13.38 L445.57 13.50 L445.57 13.29 L445.64 13.34 L445.64 13.13 L445.88 13.29 L445.88 13.08 L446.05 13.19 L446.05 12.97 L446.23 13.09 L446.23 12.88 L446.43 13.02 L446.43 12.81 L446.43 12.81 L446.43 12.60 L446.49 12.63 L446.49 12.42 L446.74 12.59 L446.74 12.38 L446.89 12.48 L446.89 12.27 L446.90 12.27 L446.90 12.06 L446.91 12.07 L446.91 11.86 L446.93 11.87 L446.93 11.66 L447.15 11.81 L447.15 11.60 L447.25 11.67 L447.25 11.46 L447.74 11.78 L447.74 11.57 L448.26 11.91 L448.26 11.70 L448.53 11.88 L448.53 11.67 L449.06 12.01 L449.06 11.80 L449.08 11.82 L449.08 11.61 L449.47 11.87 L449.47 11.66 L449.60 11.74 L449.60 11.53 L449.62 11.55 L449.62 11.34 L449.63 11.34 L449.63 11.13 L449.83 11.26 L449.83 11.05 L449.88 11.09 L449.88 10.88 L450.06 10.99 L450.06 10.78 L450.12 10.82 L450.12 10.61 L450.22 10.68 L450.22 10.47 L450.63 10.74 L450.63 10.53 L450.76 10.61 L450.76 10.40 L451.02 10.57 L451.02 10.36 L451.86 10.92 L451.86 10.71 L452.12 10.88 L452.12 10.67 L452.56 10.96 L452.56 10.75 L452.59 10.77 L452.59 10.56 L452.75 10.66 L452.75 10.45 L453.06 10.66 L453.06 10.45 L453.20 10.54 L453.20 10.33 L454.01 10.87 L454.01 10.65 L454.56 11.02 L454.56 10.81 L455.56 11.47 L455.56 11.26 L464.42 17.09 L464.42 16.88 L465.57 17.64 L465.57 17.43 L465.94 17.68 L465.94 17.47 L477.39 25.01 L477.39 24.80 L479.52 26.21 L479.52 26.00 L495.09 36.26 L495.09 36.05 L504.60 42.31 L504.60 42.10 L516.68 50.06 L516.68 49.85 L519.26 51.56 L519.26 51.35 L520.26 52.00 L520.26 51.79 L521.16 52.39 L521.16 52.18 L522.02 52.74 L522.02 52.53 L524.70 54.30" stroke="#EC4B8D" stroke-width="0.42" fill="none" stroke-linejoin="round"/>
<path d="M429.00 54.30 L429.02 54.31 L429.02 54.12 L429.06 54.15 L429.06 53.96 L429.09 53.97 L429.09 53.78 L429.12 53.80 L429.12 53.61 L429.14 53.62 L429.14 53.43 L429.14 53.43 L429.14 53.24 L429.17 53.26 L429.17 53.07 L429.29 53.14 L429.29 52.95 L429.35 52.98 L429.35 52.79 L429.39 52.81 L429.39 52.62 L429.41 52.64 L429.41 52.45 L429.44 52.47 L429.44 52.27 L429.51 52.31 L429.51 52.12 L429.55 52.15 L429.55 51.96 L429.61 51.99 L429.61 51.80 L429.66 51.83 L429.66 51.64 L429.66 51.64 L429.66 51.45 L429.76 51.51 L429.76 51.32 L429.77 51.33 L429.77 51.14 L429.80 51.15 L429.80 50.96 L429.80 50.96 L429.80 50.77 L429.83 50.79 L429.83 50.60 L429.85 50.61 L429.85 50.42 L429.86 50.43 L429.86 50.24 L429.94 50.28 L429.94 50.09 L429.95 50.10 L429.95 49.91 L429.97 49.92 L429.97 49.73 L430.00 49.75 L430.00 49.55 L430.01 49.56 L430.01 49.37 L430.02 49.38 L430.02 49.19 L430.06 49.21 L430.06 49.02 L430.06 49.02 L430.06 48.83 L430.10 48.85 L430.10 48.66 L430.18 48.71 L430.18 48.52 L430.19 48.53 L430.19 48.34 L430.20 48.34 L430.20 48.15 L430.22 48.16 L430.22 47.97 L430.25 47.99 L430.25 47.80 L430.25 47.80 L430.25 47.61 L430.34 47.66 L430.34 47.47 L430.35 47.48 L430.35 47.28 L430.44 47.34 L430.44 47.15 L430.59 47.24 L430.59 47.04 L430.64 47.08 L430.64 46.89 L430.68 46.91 L430.68 46.72 L430.72 46.74 L430.72 46.55 L430.78 46.59 L430.78 46.40 L430.82 46.42 L430.82 46.23 L430.87 46.26 L430.87 46.07 L430.89 46.08 L430.89 45.89 L430.90 45.90 L430.90 45.71 L430.90 45.71 L430.90 45.52 L430.94 45.54 L430.94 45.35 L430.98 45.37 L430.98 45.18 L431.04 45.22 L431.04 45.03 L431.15 45.09 L431.15 44.90 L431.17 44.91 L431.17 44.72 L431.23 44.76 L431.23 44.57 L431.29 44.60 L431.29 44.41 L431.31 44.42 L431.31 44.23 L431.34 44.25 L431.34 44.06 L431.35 44.07 L431.35 43.88 L431.42 43.92 L431.42 43.73 L431.45 43.74 L431.45 43.55 L431.63 43.66 L431.63 43.47 L431.72 43.53 L431.72 43.33 L431.78 43.37 L431.78 43.18 L431.84 43.21 L431.84 43.02 L431.92 43.07 L431.92 42.88 L431.93 42.88 L431.93 42.69 L431.99 42.73 L431.99 42.54 L432.00 42.55 L432.00 42.36 L432.05 42.38 L432.05 42.19 L432.09 42.22 L432.09 42.03 L432.14 42.06 L432.14 41.87 L432.15 41.87 L432.15 41.68 L432.17 41.70 L432.17 41.51 L432.34 41.61 L432.34 41.42 L432.35 41.42 L432.35 41.23 L432.40 41.26 L432.40 41.07 L432.51 41.13 L432.51 40.94 L432.54 40.96 L432.54 40.77 L432.54 40.77 L432.54 40.58 L432.73 40.70 L432.73 40.51 L432.75 40.52 L432.75 40.32 L432.79 40.35 L432.79 40.16 L432.86 40.20 L432.86 40.01 L432.87 40.02 L432.87 39.83 L433.25 40.05 L433.25 39.86 L433.27 39.87 L433.27 39.68 L433.35 39.73 L433.35 39.54 L433.44 39.59 L433.44 39.40 L433.45 39.41 L433.45 39.22 L433.59 39.30 L433.59 39.11 L433.64 39.14 L433.64 38.95 L433.68 38.97 L433.68 38.78 L433.81 38.86 L433.81 38.67 L433.82 38.68 L433.82 38.49 L433.83 38.49 L433.83 38.30 L433.86 38.31 L433.86 38.12 L433.86 38.13 L433.86 37.93 L433.90 37.96 L433.90 37.77 L433.92 37.78 L433.92 37.59 L433.99 37.63 L433.99 37.44 L434.02 37.46 L434.02 37.27 L434.04 37.28 L434.04 37.09 L434.06 37.10 L434.06 36.91 L434.07 36.92 L434.07 36.72 L434.10 36.74 L434.10 36.55 L434.12 36.56 L434.12 36.37 L434.12 36.37 L434.12 36.18 L434.12 36.18 L434.12 35.99 L434.13 36.00 L434.13 35.81 L434.16 35.82 L434.16 35.63 L434.18 35.65 L434.18 35.45 L434.26 35.50 L434.26 35.31 L434.42 35.41 L434.42 35.22 L434.42 35.22 L434.42 35.03 L434.56 35.11 L434.56 34.92 L434.60 34.95 L434.60 34.75 L434.64 34.78 L434.64 34.59 L434.66 34.60 L434.66 34.41 L434.70 34.43 L434.70 34.24 L434.78 34.29 L434.78 34.10 L434.81 34.12 L434.81 33.92 L434.85 33.95 L434.85 33.76 L434.87 33.77 L434.87 33.58 L434.91 33.60 L434.91 33.41 L434.91 33.41 L434.91 33.22 L435.17 33.37 L435.17 33.18 L435.17 33.18 L435.17 32.99 L435.19 33.01 L435.19 32.81 L435.30 32.88 L435.30 32.69 L435.31 32.69 L435.31 32.50 L435.31 32.51 L435.31 32.32 L435.39 32.36 L435.39 32.17 L435.43 32.19 L435.43 32.00 L435.48 32.04 L435.48 31.85 L435.68 31.96 L435.68 31.77 L435.69 31.78 L435.69 31.59 L435.71 31.60 L435.71 31.41 L435.85 31.50 L435.85 31.30 L435.93 31.35 L435.93 31.16 L435.98 31.19 L435.98 31.00 L436.03 31.03 L436.03 30.84 L436.07 30.86 L436.07 30.67 L436.09 30.68 L436.09 30.49 L436.12 30.51 L436.12 30.32 L436.13 30.33 L436.13 30.14 L436.15 30.15 L436.15 29.96 L436.20 29.98 L436.20 29.79 L436.26 29.83 L436.26 29.64 L436.43 29.74 L436.43 29.55 L436.44 29.56 L436.44 29.37 L436.45 29.37 L436.45 29.18 L436.48 29.20 L436.48 29.01 L436.49 29.02 L436.49 28.82 L436.53 28.85 L436.53 28.66 L436.59 28.69 L436.59 28.50 L436.70 28.57 L436.70 28.38 L436.78 28.42 L436.78 28.23 L436.82 28.26 L436.82 28.07 L436.84 28.08 L436.84 27.89 L436.90 27.92 L436.90 27.73 L436.91 27.74 L436.91 27.55 L436.97 27.59 L436.97 27.39 L437.04 27.43 L437.04 27.24 L437.04 27.25 L437.04 27.05 L437.14 27.11 L437.14 26.92 L437.19 26.95 L437.19 26.76 L437.36 26.86 L437.36 26.67 L437.36 26.67 L437.36 26.48 L437.43 26.52 L437.43 26.33 L437.43 26.33 L437.43 26.14 L437.47 26.17 L437.47 25.98 L437.49 25.99 L437.49 25.80 L437.52 25.81 L437.52 25.62 L437.93 25.87 L437.93 25.68 L437.95 25.69 L437.95 25.50 L437.99 25.52 L437.99 25.33 L438.35 25.55 L438.35 25.36 L438.43 25.40 L438.43 25.21 L438.43 25.22 L438.43 25.02 L438.47 25.05 L438.47 24.85 L438.60 24.94 L438.60 24.74 L438.61 24.75 L438.61 24.56 L438.72 24.62 L438.72 24.43 L438.75 24.45 L438.75 24.26 L438.77 24.27 L438.77 24.08 L438.86 24.13 L438.86 23.94 L438.92 23.98 L438.92 23.79 L438.96 23.81 L438.96 23.62 L439.13 23.72 L439.13 23.53 L439.20 23.57 L439.20 23.38 L439.22 23.40 L439.22 23.21 L439.24 23.22 L439.24 23.03 L439.29 23.06 L439.29 22.87 L439.32 22.88 L439.32 22.69 L439.37 22.72 L439.37 22.53 L439.37 22.53 L439.37 22.34 L439.43 22.38 L439.43 22.19 L439.64 22.31 L439.64 22.12 L439.89 22.27 L439.89 22.08 L439.90 22.08 L439.90 21.89 L439.96 21.93 L439.96 21.74 L440.32 21.95 L440.32 21.76 L440.39 21.81 L440.39 21.62 L440.40 21.62 L440.40 21.43 L440.42 21.44 L440.42 21.25 L440.46 21.28 L440.46 21.08 L440.54 21.13 L440.54 20.94 L440.83 21.11 L440.83 20.92 L441.16 21.12 L441.16 20.93 L441.16 20.93 L441.16 20.74 L441.23 20.78 L441.23 20.59 L441.23 20.59 L441.23 20.40 L441.36 20.48 L441.36 20.29 L441.51 20.38 L441.51 20.19 L441.55 20.21 L441.55 20.02 L441.66 20.08 L441.66 19.89 L441.67 19.90 L441.67 19.71 L441.68 19.71 L441.68 19.52 L441.69 19.53 L441.69 19.34 L441.75 19.37 L441.75 19.18 L441.76 19.19 L441.76 19.00 L441.76 19.00 L441.76 18.81 L441.96 18.93 L441.96 18.74 L442.00 18.76 L442.00 18.57 L442.05 18.60 L442.05 18.41 L442.08 18.43 L442.08 18.24 L442.18 18.30 L442.18 18.11 L442.26 18.15 L442.26 17.96 L442.47 18.09 L442.47 17.90 L442.59 17.97 L442.59 17.78 L442.64 17.81 L442.64 17.62 L442.87 17.75 L442.87 17.56 L443.00 17.64 L443.00 17.45 L443.05 17.48 L443.05 17.29 L443.08 17.31 L443.08 17.12 L443.18 17.18 L443.18 16.99 L443.19 16.99 L443.19 16.80 L443.27 16.85 L443.27 16.66 L443.54 16.82 L443.54 16.63 L443.67 16.71 L443.67 16.51 L444.44 16.98 L444.44 16.79 L444.45 16.80 L444.45 16.60 L444.59 16.69 L444.59 16.50 L444.92 16.69 L444.92 16.50 L444.93 16.51 L444.93 16.32 L444.99 16.35 L444.99 16.16 L445.52 16.48 L445.52 16.29 L445.56 16.31 L445.56 16.12 L445.84 16.29 L445.84 16.10 L445.93 16.15 L445.93 15.96 L446.12 16.07 L446.12 15.88 L446.24 15.95 L446.24 15.76 L446.30 15.80 L446.30 15.61 L446.40 15.67 L446.40 15.48 L446.41 15.49 L446.41 15.30 L446.54 15.37 L446.54 15.18 L446.81 15.34 L446.81 15.15 L446.83 15.17 L446.83 14.98 L447.32 15.26 L447.32 15.07 L447.50 15.18 L447.50 14.99 L447.54 15.01 L447.54 14.82 L448.05 15.13 L448.05 14.94 L448.16 15.01 L448.16 14.82 L448.31 14.90 L448.31 14.71 L448.34 14.73 L448.34 14.54 L448.51 14.64 L448.51 14.45 L448.57 14.48 L448.57 14.29 L448.59 14.31 L448.59 14.12 L448.59 14.12 L448.59 13.93 L449.05 14.20 L449.05 14.01 L449.17 14.08 L449.17 13.89 L449.19 13.90 L449.19 13.71 L449.58 13.94 L449.58 13.75 L450.18 14.11 L450.18 13.92 L450.32 14.01 L450.32 13.82 L450.71 14.05 L450.71 13.86 L451.66 14.43 L451.66 14.23 L452.88 14.96 L452.88 14.77 L454.07 15.49 L454.07 15.30 L454.79 15.73 L454.79 15.54 L454.98 15.65 L454.98 15.46 L456.51 16.37 L456.51 16.18 L458.88 17.60 L458.88 17.41 L459.14 17.57 L459.14 17.38 L463.29 19.86 L463.29 19.67 L475.73 27.11 L475.73 26.92 L480.01 29.47 L480.01 29.28 L483.77 31.53 L483.77 31.34 L485.17 32.18 L485.17 31.99 L495.26 38.02 L495.26 37.83 L503.07 42.51 L503.07 42.31 L509.42 46.11 L509.42 45.92 L510.10 46.33 L510.10 46.14 L510.10 46.14 L510.10 45.95 L515.44 49.14 L515.44 48.95 L520.51 51.98 L520.51 51.79 L524.70 54.30" stroke="#F4B7BF" stroke-width="0.42" fill="none" stroke-linejoin="round"/>
<path d="M429.00 54.30 L429.02 54.31 L429.02 54.12 L429.03 54.13 L429.03 53.94 L429.09 53.98 L429.09 53.79 L429.10 53.80 L429.10 53.61 L429.11 53.61 L429.11 53.42 L429.22 53.49 L429.22 53.30 L429.24 53.31 L429.24 53.12 L429.24 53.12 L429.24 52.94 L429.26 52.95 L429.26 52.76 L429.26 52.76 L429.26 52.58 L429.39 52.65 L429.39 52.46 L429.43 52.48 L429.43 52.30 L429.47 52.32 L429.47 52.14 L429.47 52.14 L429.47 51.95 L429.49 51.96 L429.49 51.77 L429.54 51.80 L429.54 51.61 L429.63 51.67 L429.63 51.48 L429.68 51.51 L429.68 51.32 L429.69 51.33 L429.69 51.14 L429.70 51.14 L429.70 50.96 L429.71 50.96 L429.71 50.77 L429.75 50.79 L429.75 50.61 L429.89 50.69 L429.89 50.50 L429.89 50.50 L429.89 50.31 L429.91 50.32 L429.91 50.14 L429.95 50.16 L429.95 49.98 L429.98 49.99 L429.98 49.80 L430.02 49.83 L430.02 49.64 L430.03 49.64 L430.03 49.45 L430.04 49.46 L430.04 49.27 L430.06 49.28 L430.06 49.10 L430.07 49.11 L430.07 48.92 L430.07 48.92 L430.07 48.73 L430.08 48.73 L430.08 48.55 L430.09 48.55 L430.09 48.36 L430.12 48.38 L430.12 48.19 L430.15 48.21 L430.15 48.03 L430.19 48.05 L430.19 47.86 L430.43 48.00 L430.43 47.81 L430.44 47.82 L430.44 47.63 L430.48 47.65 L430.48 47.46 L430.51 47.48 L430.51 47.30 L430.54 47.32 L430.54 47.13 L430.61 47.17 L430.61 46.98 L430.69 47.03 L430.69 46.84 L430.75 46.87 L430.75 46.68 L430.79 46.71 L430.79 46.52 L430.89 46.58 L430.89 46.39 L430.92 46.41 L430.92 46.22 L430.94 46.24 L430.94 46.05 L430.98 46.07 L430.98 45.88 L431.01 45.90 L431.01 45.71 L431.03 45.72 L431.03 45.54 L431.03 45.54 L431.03 45.35 L431.11 45.39 L431.11 45.20 L431.12 45.21 L431.12 45.02 L431.15 45.04 L431.15 44.85 L431.23 44.90 L431.23 44.71 L431.24 44.72 L431.24 44.53 L431.27 44.55 L431.27 44.36 L431.28 44.37 L431.28 44.18 L431.41 44.26 L431.41 44.07 L431.55 44.15 L431.55 43.96 L431.65 44.02 L431.65 43.83 L431.73 43.88 L431.73 43.69 L431.93 43.81 L431.93 43.62 L431.96 43.64 L431.96 43.45 L432.07 43.52 L432.07 43.33 L432.14 43.37 L432.14 43.18 L432.21 43.22 L432.21 43.04 L432.24 43.05 L432.24 42.87 L432.25 42.87 L432.25 42.68 L432.28 42.70 L432.28 42.51 L432.32 42.54 L432.32 42.35 L432.33 42.36 L432.33 42.17 L432.36 42.18 L432.36 41.99 L432.46 42.05 L432.46 41.87 L432.55 41.92 L432.55 41.73 L432.58 41.75 L432.58 41.56 L432.77 41.67 L432.77 41.48 L432.81 41.51 L432.81 41.32 L432.82 41.32 L432.82 41.14 L432.98 41.23 L432.98 41.04 L432.99 41.05 L432.99 40.86 L433.04 40.89 L433.04 40.71 L433.06 40.71 L433.06 40.53 L433.08 40.54 L433.08 40.35 L433.09 40.36 L433.09 40.17 L433.28 40.28 L433.28 40.09 L433.30 40.11 L433.30 39.92 L433.31 39.92 L433.31 39.74 L433.34 39.76 L433.34 39.57 L433.36 39.58 L433.36 39.39 L433.39 39.41 L433.39 39.22 L433.40 39.23 L433.40 39.04 L433.40 39.04 L433.40 38.85 L433.42 38.86 L433.42 38.67 L433.51 38.73 L433.51 38.54 L433.51 38.54 L433.51 38.35 L433.52 38.36 L433.52 38.17 L433.53 38.17 L433.53 37.99 L433.54 37.99 L433.54 37.80 L433.59 37.84 L433.59 37.65 L433.73 37.73 L433.73 37.54 L433.74 37.54 L433.74 37.36 L433.86 37.43 L433.86 37.24 L433.88 37.25 L433.88 37.06 L433.89 37.07 L433.89 36.88 L433.90 36.89 L433.90 36.70 L434.00 36.76 L434.00 36.57 L434.02 36.58 L434.02 36.40 L434.05 36.41 L434.05 36.22 L434.10 36.25 L434.10 36.06 L434.12 36.08 L434.12 35.89 L434.17 35.92 L434.17 35.73 L434.28 35.80 L434.28 35.61 L434.29 35.61 L434.29 35.42 L434.33 35.45 L434.33 35.26 L434.33 35.26 L434.33 35.08 L434.39 35.11 L434.39 34.92 L434.45 34.96 L434.45 34.77 L434.49 34.79 L434.49 34.60 L434.49 34.60 L434.49 34.42 L434.53 34.44 L434.53 34.25 L434.56 34.27 L434.56 34.08 L434.83 34.24 L434.83 34.05 L434.88 34.08 L434.88 33.89 L434.94 33.93 L434.94 33.74 L435.03 33.80 L435.03 33.61 L435.07 33.63 L435.07 33.44 L435.16 33.49 L435.16 33.31 L435.16 33.31 L435.16 33.12 L435.19 33.14 L435.19 32.95 L435.41 33.08 L435.41 32.89 L435.42 32.89 L435.42 32.71 L435.43 32.71 L435.43 32.52 L435.43 32.53 L435.43 32.34 L435.44 32.34 L435.44 32.16 L435.46 32.17 L435.46 31.98 L435.54 32.03 L435.54 31.84 L435.59 31.87 L435.59 31.68 L435.62 31.70 L435.62 31.51 L435.72 31.57 L435.72 31.38 L435.74 31.40 L435.74 31.21 L435.81 31.25 L435.81 31.06 L435.81 31.06 L435.81 30.87 L435.94 30.95 L435.94 30.76 L436.02 30.81 L436.02 30.62 L436.05 30.64 L436.05 30.45 L436.07 30.46 L436.07 30.27 L436.07 30.27 L436.07 30.09 L436.10 30.10 L436.10 29.91 L436.18 29.96 L436.18 29.78 L436.24 29.81 L436.24 29.62 L436.36 29.69 L436.36 29.50 L436.42 29.54 L436.42 29.35 L436.42 29.35 L436.42 29.16 L436.46 29.19 L436.46 29.00 L436.48 29.01 L436.48 28.82 L436.50 28.83 L436.50 28.64 L436.69 28.76 L436.69 28.57 L436.94 28.72 L436.94 28.53 L437.21 28.69 L437.21 28.50 L437.23 28.51 L437.23 28.33 L437.26 28.34 L437.26 28.15 L437.28 28.16 L437.28 27.98 L437.34 28.01 L437.34 27.83 L437.42 27.87 L437.42 27.69 L437.45 27.70 L437.45 27.52 L437.58 27.59 L437.58 27.40 L437.64 27.44 L437.64 27.25 L437.65 27.25 L437.65 27.07 L437.69 27.09 L437.69 26.91 L437.86 27.01 L437.86 26.82 L437.93 26.86 L437.93 26.67 L438.05 26.74 L438.05 26.55 L438.12 26.59 L438.12 26.40 L438.13 26.41 L438.13 26.22 L438.21 26.27 L438.21 26.08 L438.52 26.26 L438.52 26.08 L438.60 26.12 L438.60 25.94 L438.63 25.96 L438.63 25.77 L438.64 25.77 L438.64 25.58 L438.72 25.63 L438.72 25.44 L438.81 25.49 L438.81 25.31 L438.87 25.34 L438.87 25.16 L438.93 25.19 L438.93 25.00 L438.94 25.01 L438.94 24.82 L439.04 24.88 L439.04 24.69 L439.21 24.79 L439.21 24.61 L439.32 24.67 L439.32 24.48 L439.37 24.51 L439.37 24.32 L439.52 24.41 L439.52 24.23 L439.57 24.25 L439.57 24.06 L439.57 24.06 L439.57 23.87 L439.62 23.90 L439.62 23.71 L439.63 23.73 L439.63 23.54 L439.80 23.64 L439.80 23.45 L439.88 23.50 L439.88 23.31 L439.92 23.33 L439.92 23.14 L439.92 23.15 L439.92 22.96 L439.96 22.98 L439.96 22.79 L439.98 22.80 L439.98 22.61 L440.12 22.70 L440.12 22.51 L440.17 22.54 L440.17 22.35 L440.24 22.39 L440.24 22.20 L440.29 22.23 L440.29 22.04 L440.36 22.08 L440.36 21.90 L440.41 21.93 L440.41 21.74 L440.62 21.86 L440.62 21.67 L440.79 21.77 L440.79 21.59 L440.81 21.60 L440.81 21.41 L440.81 21.41 L440.81 21.22 L440.81 21.23 L440.81 21.04 L440.89 21.08 L440.89 20.89 L440.95 20.93 L440.95 20.74 L441.23 20.91 L441.23 20.72 L441.40 20.82 L441.40 20.63 L441.41 20.64 L441.41 20.45 L441.43 20.46 L441.43 20.28 L441.55 20.34 L441.55 20.16 L441.61 20.19 L441.61 20.00 L441.72 20.07 L441.72 19.88 L441.75 19.90 L441.75 19.71 L441.82 19.75 L441.82 19.56 L441.84 19.58 L441.84 19.39 L441.91 19.43 L441.91 19.24 L441.98 19.28 L441.98 19.09 L442.23 19.24 L442.23 19.05 L442.27 19.08 L442.27 18.89 L442.29 18.90 L442.29 18.71 L442.32 18.73 L442.32 18.54 L442.42 18.60 L442.42 18.41 L442.46 18.44 L442.46 18.25 L442.47 18.25 L442.47 18.07 L442.60 18.14 L442.60 17.96 L442.69 18.01 L442.69 17.82 L442.83 17.90 L442.83 17.71 L442.88 17.75 L442.88 17.56 L443.09 17.68 L443.09 17.49 L443.27 17.60 L443.27 17.41 L443.51 17.55 L443.51 17.36 L443.55 17.39 L443.55 17.20 L443.66 17.27 L443.66 17.08 L443.71 17.10 L443.71 16.92 L443.79 16.97 L443.79 16.78 L443.90 16.84 L443.90 16.65 L443.94 16.68 L443.94 16.49 L444.05 16.56 L444.05 16.37 L444.66 16.73 L444.66 16.54 L444.82 16.63 L444.82 16.45 L444.84 16.46 L444.84 16.27 L444.90 16.30 L444.90 16.12 L444.93 16.14 L444.93 15.95 L445.10 16.05 L445.10 15.86 L445.14 15.88 L445.14 15.69 L445.22 15.74 L445.22 15.55 L445.37 15.64 L445.37 15.45 L445.52 15.54 L445.52 15.35 L445.64 15.42 L445.64 15.23 L445.74 15.30 L445.74 15.11 L445.85 15.17 L445.85 14.98 L445.97 15.05 L445.97 14.87 L446.18 14.99 L446.18 14.80 L446.33 14.89 L446.33 14.70 L446.72 14.93 L446.72 14.74 L446.99 14.91 L446.99 14.72 L447.01 14.73 L447.01 14.54 L447.06 14.57 L447.06 14.38 L447.56 14.68 L447.56 14.49 L447.96 14.73 L447.96 14.54 L448.28 14.73 L448.28 14.54 L448.46 14.64 L448.46 14.46 L449.05 14.80 L449.05 14.62 L449.11 14.65 L449.11 14.46 L449.29 14.57 L449.29 14.38 L449.81 14.69 L449.81 14.50 L449.84 14.51 L449.84 14.32 L450.70 14.84 L450.70 14.65 L451.48 15.10 L451.48 14.92 L451.68 15.04 L451.68 14.85 L452.56 15.37 L452.56 15.18 L454.39 16.26 L454.39 16.07 L472.50 26.74 L472.50 26.55 L477.75 29.65 L477.75 29.46 L477.92 29.56 L477.92 29.37 L482.12 31.85 L482.12 31.66 L483.33 32.37 L483.33 32.18 L489.53 35.83 L489.53 35.65 L489.98 35.91 L489.98 35.72 L491.63 36.69 L491.63 36.51 L494.44 38.16 L494.44 37.97 L497.98 40.06 L497.98 39.87 L500.92 41.60 L500.92 41.41 L501.64 41.84 L501.64 41.65 L503.96 43.02 L503.96 42.83 L506.77 44.49 L506.77 44.30 L508.34 45.22 L508.34 45.03 L511.05 46.63 L511.05 46.44 L511.61 46.78 L511.61 46.59 L524.70 54.30" stroke="#C8A1DA" stroke-width="0.42" fill="none" stroke-linejoin="round"/>
<path d="M429.00 54.30 L429.05 54.33 L429.05 54.14 L429.05 54.14 L429.05 53.94 L429.07 53.95 L429.07 53.76 L429.08 53.76 L429.08 53.57 L429.08 53.57 L429.08 53.37 L429.09 53.38 L429.09 53.19 L429.11 53.19 L429.11 53.00 L429.11 53.00 L429.11 52.81 L429.15 52.83 L429.15 52.63 L429.16 52.64 L429.16 52.45 L429.16 52.45 L429.16 52.25 L429.17 52.26 L429.17 52.06 L429.20 52.08 L429.20 51.89 L429.39 52.00 L429.39 51.81 L429.44 51.84 L429.44 51.64 L429.50 51.68 L429.50 51.48 L429.52 51.50 L429.52 51.30 L429.53 51.30 L429.53 51.11 L429.57 51.14 L429.57 50.94 L429.63 50.98 L429.63 50.79 L429.71 50.83 L429.71 50.64 L429.75 50.66 L429.75 50.47 L429.76 50.47 L429.76 50.28 L429.79 50.30 L429.79 50.10 L430.00 50.23 L430.00 50.03 L430.02 50.05 L430.02 49.85 L430.14 49.93 L430.14 49.73 L430.19 49.76 L430.19 49.56 L430.25 49.60 L430.25 49.40 L430.32 49.45 L430.32 49.26 L430.36 49.28 L430.36 49.08 L430.38 49.10 L430.38 48.90 L430.49 48.97 L430.49 48.77 L430.57 48.82 L430.57 48.62 L430.57 48.63 L430.57 48.43 L430.64 48.48 L430.64 48.28 L430.66 48.29 L430.66 48.09 L430.75 48.15 L430.75 47.95 L430.78 47.97 L430.78 47.78 L430.83 47.81 L430.83 47.61 L430.85 47.63 L430.85 47.43 L431.24 47.67 L431.24 47.48 L431.26 47.49 L431.26 47.29 L431.48 47.42 L431.48 47.23 L431.49 47.24 L431.49 47.04 L431.61 47.11 L431.61 46.92 L431.75 47.01 L431.75 46.81 L431.77 46.83 L431.77 46.63 L431.78 46.63 L431.78 46.44 L431.81 46.46 L431.81 46.27 L431.84 46.28 L431.84 46.09 L431.85 46.09 L431.85 45.90 L431.86 45.90 L431.86 45.71 L431.88 45.72 L431.88 45.53 L431.89 45.53 L431.89 45.34 L431.92 45.35 L431.92 45.16 L431.92 45.16 L431.92 44.96 L431.93 44.97 L431.93 44.77 L431.95 44.78 L431.95 44.59 L432.06 44.66 L432.06 44.46 L432.15 44.52 L432.15 44.32 L432.25 44.38 L432.25 44.19 L432.32 44.24 L432.32 44.04 L432.33 44.05 L432.33 43.85 L432.34 43.85 L432.34 43.66 L432.37 43.68 L432.37 43.48 L432.38 43.49 L432.38 43.30 L432.39 43.30 L432.39 43.10 L432.48 43.16 L432.48 42.96 L432.55 43.01 L432.55 42.81 L432.55 42.81 L432.55 42.62 L432.58 42.63 L432.58 42.44 L432.67 42.50 L432.67 42.30 L432.74 42.34 L432.74 42.15 L432.79 42.18 L432.79 41.98 L432.80 41.99 L432.80 41.79 L432.92 41.87 L432.92 41.68 L432.97 41.70 L432.97 41.51 L433.02 41.54 L433.02 41.35 L433.15 41.42 L433.15 41.23 L433.15 41.23 L433.15 41.04 L433.23 41.08 L433.23 40.89 L433.26 40.90 L433.26 40.71 L433.27 40.72 L433.27 40.52 L433.37 40.58 L433.37 40.39 L433.39 40.40 L433.39 40.20 L433.45 40.24 L433.45 40.05 L433.53 40.10 L433.53 39.90 L433.54 39.91 L433.54 39.71 L433.70 39.81 L433.70 39.61 L433.73 39.63 L433.73 39.43 L433.80 39.48 L433.80 39.28 L433.82 39.30 L433.82 39.10 L433.92 39.16 L433.92 38.97 L433.93 38.98 L433.93 38.78 L433.95 38.79 L433.95 38.59 L433.97 38.61 L433.97 38.41 L433.98 38.42 L433.98 38.22 L434.01 38.24 L434.01 38.05 L434.01 38.05 L434.01 37.85 L434.09 37.90 L434.09 37.71 L434.10 37.71 L434.10 37.51 L434.30 37.64 L434.30 37.44 L434.51 37.57 L434.51 37.38 L434.52 37.38 L434.52 37.19 L434.67 37.28 L434.67 37.08 L434.70 37.10 L434.70 36.91 L434.76 36.95 L434.76 36.75 L434.77 36.75 L434.77 36.56 L434.92 36.65 L434.92 36.46 L434.95 36.48 L434.95 36.28 L434.96 36.29 L434.96 36.09 L434.96 36.09 L434.96 35.90 L434.99 35.92 L434.99 35.72 L435.07 35.77 L435.07 35.57 L435.09 35.59 L435.09 35.39 L435.15 35.43 L435.15 35.23 L435.19 35.26 L435.19 35.06 L435.25 35.10 L435.25 34.91 L435.41 35.00 L435.41 34.81 L435.48 34.85 L435.48 34.65 L435.50 34.66 L435.50 34.47 L435.56 34.50 L435.56 34.31 L435.60 34.34 L435.60 34.14 L435.80 34.26 L435.80 34.07 L435.81 34.07 L435.81 33.88 L435.82 33.89 L435.82 33.69 L435.83 33.69 L435.83 33.50 L435.83 33.50 L435.83 33.31 L435.86 33.33 L435.86 33.13 L435.91 33.16 L435.91 32.97 L435.95 32.99 L435.95 32.79 L436.06 32.86 L436.06 32.67 L436.29 32.81 L436.29 32.61 L436.36 32.65 L436.36 32.46 L436.37 32.46 L436.37 32.27 L436.60 32.41 L436.60 32.21 L436.65 32.25 L436.65 32.05 L436.70 32.08 L436.70 31.89 L436.79 31.94 L436.79 31.75 L436.82 31.77 L436.82 31.57 L436.91 31.62 L436.91 31.43 L436.94 31.45 L436.94 31.26 L436.95 31.26 L436.95 31.07 L436.95 31.07 L436.95 30.87 L437.09 30.95 L437.09 30.76 L437.14 30.79 L437.14 30.60 L437.21 30.64 L437.21 30.44 L437.25 30.47 L437.25 30.27 L437.27 30.28 L437.27 30.09 L437.29 30.10 L437.29 29.91 L437.31 29.92 L437.31 29.72 L437.33 29.73 L437.33 29.54 L437.38 29.57 L437.38 29.37 L437.46 29.43 L437.46 29.23 L437.52 29.27 L437.52 29.07 L437.67 29.16 L437.67 28.97 L437.69 28.98 L437.69 28.78 L437.69 28.78 L437.69 28.59 L437.80 28.66 L437.80 28.46 L437.81 28.47 L437.81 28.27 L437.88 28.31 L437.88 28.12 L438.10 28.26 L438.10 28.06 L438.12 28.07 L438.12 27.87 L438.13 27.88 L438.13 27.69 L438.29 27.79 L438.29 27.59 L438.30 27.60 L438.30 27.40 L438.75 27.68 L438.75 27.48 L438.76 27.49 L438.76 27.29 L438.79 27.31 L438.79 27.12 L438.92 27.19 L438.92 27.00 L438.97 27.03 L438.97 26.84 L439.14 26.94 L439.14 26.74 L439.17 26.76 L439.17 26.57 L439.30 26.65 L439.30 26.45 L439.30 26.45 L439.30 26.26 L439.35 26.29 L439.35 26.09 L439.40 26.12 L439.40 25.93 L439.44 25.95 L439.44 25.76 L439.47 25.77 L439.47 25.58 L439.53 25.62 L439.53 25.42 L439.59 25.46 L439.59 25.26 L439.76 25.37 L439.76 25.17 L439.79 25.19 L439.79 25.00 L439.79 25.00 L439.79 24.80 L439.82 24.82 L439.82 24.62 L439.97 24.71 L439.97 24.52 L440.03 24.56 L440.03 24.36 L440.09 24.40 L440.09 24.20 L440.12 24.22 L440.12 24.03 L440.17 24.06 L440.17 23.86 L440.29 23.93 L440.29 23.74 L440.32 23.76 L440.32 23.57 L440.79 23.85 L440.79 23.66 L440.86 23.70 L440.86 23.50 L440.98 23.58 L440.98 23.38 L441.09 23.45 L441.09 23.25 L441.34 23.41 L441.34 23.21 L441.35 23.22 L441.35 23.02 L441.41 23.06 L441.41 22.87 L441.43 22.87 L441.43 22.68 L441.45 22.70 L441.45 22.50 L441.52 22.54 L441.52 22.34 L441.60 22.39 L441.60 22.20 L441.63 22.22 L441.63 22.02 L441.75 22.10 L441.75 21.90 L441.77 21.91 L441.77 21.72 L441.96 21.83 L441.96 21.64 L442.15 21.76 L442.15 21.56 L442.21 21.60 L442.21 21.40 L442.33 21.48 L442.33 21.28 L442.43 21.34 L442.43 21.15 L442.49 21.18 L442.49 20.99 L442.55 21.02 L442.55 20.83 L442.55 20.83 L442.55 20.64 L442.59 20.66 L442.59 20.46 L442.71 20.54 L442.71 20.34 L442.84 20.42 L442.84 20.23 L442.95 20.30 L442.95 20.10 L442.98 20.12 L442.98 19.92 L442.99 19.93 L442.99 19.73 L443.39 19.98 L443.39 19.78 L443.51 19.86 L443.51 19.66 L443.53 19.67 L443.53 19.48 L443.59 19.51 L443.59 19.32 L443.67 19.37 L443.67 19.17 L443.82 19.27 L443.82 19.07 L443.87 19.10 L443.87 18.90 L443.87 18.91 L443.87 18.71 L443.99 18.78 L443.99 18.59 L444.11 18.66 L444.11 18.46 L444.16 18.50 L444.16 18.30 L444.17 18.31 L444.17 18.11 L444.38 18.24 L444.38 18.04 L444.38 18.05 L444.38 17.85 L444.51 17.93 L444.51 17.73 L445.07 18.08 L445.07 17.88 L445.22 17.97 L445.22 17.78 L445.36 17.87 L445.36 17.67 L445.43 17.71 L445.43 17.52 L445.47 17.54 L445.47 17.35 L445.66 17.46 L445.66 17.27 L445.73 17.31 L445.73 17.11 L445.73 17.12 L445.73 16.92 L445.92 17.04 L445.92 16.84 L446.10 16.95 L446.10 16.76 L446.20 16.82 L446.20 16.62 L446.27 16.66 L446.27 16.47 L446.54 16.63 L446.54 16.44 L446.58 16.47 L446.58 16.27 L446.62 16.30 L446.62 16.10 L446.72 16.16 L446.72 15.97 L446.77 16.00 L446.77 15.80 L446.80 15.82 L446.80 15.62 L447.20 15.87 L447.20 15.68 L447.23 15.69 L447.23 15.50 L447.27 15.52 L447.27 15.33 L447.30 15.35 L447.30 15.15 L447.35 15.18 L447.35 14.98 L447.43 15.03 L447.43 14.84 L447.51 14.89 L447.51 14.70 L447.72 14.82 L447.72 14.62 L447.77 14.66 L447.77 14.46 L448.01 14.61 L448.01 14.42 L448.09 14.46 L448.09 14.27 L448.41 14.46 L448.41 14.27 L448.72 14.46 L448.72 14.26 L449.00 14.44 L449.00 14.24 L449.04 14.26 L449.04 14.07 L449.09 14.10 L449.09 13.90 L449.21 13.98 L449.21 13.78 L449.98 14.25 L449.98 14.05 L450.05 14.10 L450.05 13.91 L450.19 13.99 L450.19 13.79 L450.37 13.91 L450.37 13.71 L451.19 14.21 L451.19 14.02 L451.44 14.17 L451.44 13.98 L451.70 14.14 L451.70 13.94 L452.49 14.42 L452.49 14.23 L452.92 14.49 L452.92 14.29 L453.91 14.90 L453.91 14.71 L459.76 18.29 L459.76 18.09 L460.32 18.43 L460.32 18.24 L468.02 22.94 L468.02 22.75 L471.77 25.04 L471.77 24.85 L472.61 25.37 L472.61 25.17 L480.51 30.00 L480.51 29.81 L483.20 31.45 L483.20 31.26 L483.36 31.36 L483.36 31.16 L483.64 31.33 L483.64 31.14 L485.58 32.32 L485.58 32.12 L486.95 32.96 L486.95 32.77 L489.65 34.42 L489.65 34.23 L493.94 36.85 L493.94 36.66 L495.60 37.67 L495.60 37.48 L497.03 38.35 L497.03 38.15 L503.65 42.21 L503.65 42.01 L504.82 42.73 L504.82 42.53 L513.54 47.86 L513.54 47.67 L516.81 49.67 L516.81 49.48 L524.70 54.30" stroke="#5CC5A7" stroke-width="0.42" fill="none" stroke-linejoin="round"/>
</g>
<path d="M430.90 28.70h2.6" stroke="#5BB0EC" stroke-width="0.5" stroke-opacity="0.55"/>
<text transform="matrix(1 0.0005 0 1 435.80 29.80)" font-size="3.48" fill="#000" stroke="#000" stroke-width="0.05">[Reactome] Srp Dependent Cotranslational</text>
<text transform="matrix(1 0.0005 0 1 435.80 33.54)" font-size="3.48" fill="#000" stroke="#000" stroke-width="0.05">Protein Targeting To Membrane</text>
<path d="M430.90 36.18h2.6" stroke="#EC4B8D" stroke-width="0.5" stroke-opacity="0.55"/>
<text transform="matrix(1 0.0005 0 1 435.80 37.28)" font-size="3.48" fill="#000" stroke="#000" stroke-width="0.05">[Reactome] Selenoamino Acid Metabolism</text>
<path d="M430.90 39.92h2.6" stroke="#F4B7BF" stroke-width="0.5" stroke-opacity="0.55"/>
<text transform="matrix(1 0.0005 0 1 435.80 41.02)" font-size="3.48" fill="#000" stroke="#000" stroke-width="0.05">[Reactome] DNA Replication Pre Initiation</text>
<path d="M430.90 43.66h2.6" stroke="#C8A1DA" stroke-width="0.5" stroke-opacity="0.55"/>
<text transform="matrix(1 0.0005 0 1 435.80 44.76)" font-size="3.48" fill="#000" stroke="#000" stroke-width="0.05">[WikiPathways] Proteasome Degradation</text>
<path d="M430.90 47.40h2.6" stroke="#5CC5A7" stroke-width="0.5" stroke-opacity="0.55"/>
<text transform="matrix(1 0.0005 0 1 435.80 48.50)" font-size="3.48" fill="#000" stroke="#000" stroke-width="0.05">[Reactome] RUNX1 Regulates Transcription</text>
<text transform="matrix(1 0.0005 0 1 435.80 52.24)" font-size="3.48" fill="#000" stroke="#000" stroke-width="0.05">of Genes Involved In Differentiation</text>
<text transform="matrix(1 0.0005 0 1 435.80 55.98)" font-size="3.48" fill="#000" stroke="#000" stroke-width="0.05">of Hscs</text>
<path d="M429.0 54.30H524.7" stroke="#666" stroke-width="0.45" stroke-dasharray="1.4 1.7" fill="none"/>
<path d="M429.00 95.40 L429.00 84.90 L429.40 86.06 L429.80 86.94 L430.20 87.63 L430.60 88.17 L431.00 88.60 L431.40 88.94 L431.80 89.22 L432.20 89.45 L432.60 89.64 L433.00 89.81 L433.40 89.96 L433.81 90.09 L434.21 90.21 L434.61 90.33 L435.01 90.43 L435.41 90.53 L435.81 90.63 L436.21 90.72 L436.61 90.81 L437.01 90.90 L437.41 90.99 L437.81 91.07 L438.21 91.15 L438.61 91.23 L439.01 91.32 L439.41 91.40 L439.81 91.47 L440.21 91.55 L440.61 91.63 L441.01 91.71 L441.41 91.78 L441.81 91.86 L442.21 91.93 L442.61 92.00 L443.01 92.07 L443.42 92.14 L443.82 92.21 L444.22 92.28 L444.62 92.35 L445.02 92.42 L445.42 92.49 L445.82 92.55 L446.22 92.62 L446.62 92.68 L447.02 92.74 L447.42 92.81 L447.82 92.87 L448.22 92.93 L448.62 92.99 L449.02 93.05 L449.42 93.10 L449.82 93.16 L450.22 93.21 L450.62 93.27 L451.02 93.32 L451.42 93.38 L451.82 93.43 L452.22 93.48 L452.62 93.53 L453.03 93.57 L453.43 93.62 L453.83 93.67 L454.23 93.71 L454.63 93.76 L455.03 93.80 L455.43 93.84 L455.83 93.88 L456.23 93.92 L456.63 93.96 L457.03 93.99 L457.43 94.03 L457.83 94.06 L458.23 94.09 L458.63 94.12 L459.03 94.15 L459.43 94.18 L459.83 94.21 L460.23 94.23 L460.63 94.25 L461.03 94.28 L461.43 94.29 L461.83 94.31 L462.23 94.33 L462.64 94.34 L463.04 94.35 L463.44 94.35 L463.84 96.11 L464.24 96.12 L464.64 96.13 L465.04 96.14 L465.44 96.15 L465.84 96.16 L466.24 96.17 L466.64 96.18 L467.04 96.19 L467.44 96.20 L467.84 96.21 L468.24 96.22 L468.64 96.23 L469.04 96.24 L469.44 96.25 L469.84 96.26 L470.24 96.27 L470.64 96.28 L471.04 96.29 L471.44 96.30 L471.84 96.31 L472.25 96.32 L472.65 96.33 L473.05 96.34 L473.45 96.35 L473.85 96.36 L474.25 96.37 L474.65 96.38 L475.05 96.39 L475.45 96.40 L475.85 96.41 L476.25 96.42 L476.65 96.43 L477.05 96.44 L477.45 96.45 L477.85 96.46 L478.25 96.47 L478.65 96.48 L479.05 96.49 L479.45 96.50 L479.85 96.51 L480.25 96.52 L480.65 96.53 L481.05 96.54 L481.45 96.55 L481.86 96.56 L482.26 96.57 L482.66 96.58 L483.06 96.59 L483.46 96.60 L483.86 96.61 L484.26 96.62 L484.66 96.63 L485.06 96.64 L485.46 96.65 L485.86 96.66 L486.26 96.67 L486.66 96.68 L487.06 96.69 L487.46 96.70 L487.86 96.71 L488.26 96.72 L488.66 96.73 L489.06 96.74 L489.46 96.75 L489.86 96.76 L490.26 96.77 L490.66 96.78 L491.06 96.79 L491.47 96.80 L491.87 96.81 L492.27 96.82 L492.67 96.83 L493.07 96.84 L493.47 96.85 L493.87 96.86 L494.27 96.87 L494.67 96.88 L495.07 96.89 L495.47 96.91 L495.87 96.92 L496.27 96.93 L496.67 96.94 L497.07 96.95 L497.47 96.96 L497.87 96.97 L498.27 96.98 L498.67 96.99 L499.07 97.00 L499.47 97.01 L499.87 97.02 L500.27 97.03 L500.67 97.04 L501.08 97.05 L501.48 97.06 L501.88 97.07 L502.28 97.08 L502.68 97.09 L503.08 97.10 L503.48 97.11 L503.88 97.12 L504.28 97.13 L504.68 97.14 L505.08 97.15 L505.48 97.16 L505.88 97.17 L506.28 97.18 L506.68 97.19 L507.08 97.20 L507.48 97.21 L507.88 97.22 L508.28 97.23 L508.68 97.24 L509.08 97.25 L509.48 97.26 L509.88 97.27 L510.28 97.28 L510.69 97.29 L511.09 97.30 L511.49 97.31 L511.89 97.32 L512.29 97.33 L512.69 97.34 L513.09 97.36 L513.49 97.37 L513.89 97.38 L514.29 97.40 L514.69 97.41 L515.09 97.43 L515.49 97.45 L515.89 97.47 L516.29 97.49 L516.69 97.52 L517.09 97.55 L517.49 97.58 L517.89 97.63 L518.29 97.68 L518.69 97.74 L519.09 97.82 L519.49 97.91 L519.89 98.02 L520.30 98.16 L520.70 98.33 L521.10 98.53 L521.50 98.79 L521.90 99.10 L522.30 99.49 L522.70 99.96 L523.10 100.54 L523.50 101.25 L523.90 102.12 L524.30 103.19 L524.70 104.50 L524.70 95.40Z" fill="#BDBDBD"/>
<rect x="429.0" y="7.3" width="95.70" height="99.50" fill="none" stroke="#484848" stroke-width="0.62"/>
<path d="M429.0 57.1H524.7M429.0 80.2H524.7" stroke="#484848" stroke-width="0.62"/>
<path d="M427.70 54.30h1.3" stroke="#333" stroke-width="0.45"/>
<text transform="matrix(1 0.0005 0 1 427.00 55.49)" font-size="3.3" text-anchor="end" fill="#111" stroke="#111" stroke-width="0.12">0.0</text>
<path d="M427.70 42.00h1.3" stroke="#333" stroke-width="0.45"/>
<text transform="matrix(1 0.0005 0 1 427.00 43.19)" font-size="3.3" text-anchor="end" fill="#111" stroke="#111" stroke-width="0.12">0.2</text>
<path d="M427.70 29.70h1.3" stroke="#333" stroke-width="0.45"/>
<text transform="matrix(1 0.0005 0 1 427.00 30.89)" font-size="3.3" text-anchor="end" fill="#111" stroke="#111" stroke-width="0.12">0.4</text>
<path d="M427.70 17.40h1.3" stroke="#333" stroke-width="0.45"/>
<text transform="matrix(1 0.0005 0 1 427.00 18.59)" font-size="3.3" text-anchor="end" fill="#111" stroke="#111" stroke-width="0.12">0.6</text>
<path d="M427.70 81.40h1.3" stroke="#333" stroke-width="0.45"/>
<text transform="matrix(1 0.0005 0 1 427.00 82.59)" font-size="3.3" text-anchor="end" fill="#111" stroke="#111" stroke-width="0.12">2</text>
<path d="M427.70 88.40h1.3" stroke="#333" stroke-width="0.45"/>
<text transform="matrix(1 0.0005 0 1 427.00 89.59)" font-size="3.3" text-anchor="end" fill="#111" stroke="#111" stroke-width="0.12">1</text>
<path d="M427.70 95.40h1.3" stroke="#333" stroke-width="0.45"/>
<text transform="matrix(1 0.0005 0 1 427.00 96.59)" font-size="3.3" text-anchor="end" fill="#111" stroke="#111" stroke-width="0.12">0</text>
<path d="M427.70 102.40h1.3" stroke="#333" stroke-width="0.45"/>
<text transform="matrix(1 0.0005 0 1 427.00 103.59)" font-size="3.3" text-anchor="end" fill="#111" stroke="#111" stroke-width="0.12">-1</text>
<path d="M429.00 106.8v1.3" stroke="#333" stroke-width="0.45"/>
<text transform="matrix(1 0.0005 0 1 429.00 112.80)" font-size="4.0" text-anchor="middle" fill="#111" stroke="#111" stroke-width="0.12">0</text>
<path d="M460.94 106.8v1.3" stroke="#333" stroke-width="0.45"/>
<text transform="matrix(1 0.0005 0 1 460.94 112.80)" font-size="4.0" text-anchor="middle" fill="#111" stroke="#111" stroke-width="0.12">5000</text>
<path d="M492.89 106.8v1.3" stroke="#333" stroke-width="0.45"/>
<text transform="matrix(1 0.0005 0 1 492.89 112.80)" font-size="4.0" text-anchor="middle" fill="#111" stroke="#111" stroke-width="0.12">10000</text>
<text transform="matrix(1 0.0005 0 1 476.85 117.70)" font-size="4" text-anchor="middle" fill="#111" stroke="#111" stroke-width="0.06">Rank in Ordered Dataset</text>
<text transform="matrix(0.0005 -1 1 0 418.70 32.20)" font-size="4" text-anchor="middle" fill="#111" stroke="#111" stroke-width="0.06">Enrichment Score</text>
<text transform="matrix(0.0005 -1 1 0 420.70 93.50)" font-size="4" text-anchor="middle" fill="#111" stroke="#111" stroke-width="0.06">Ranked list metric</text>
</g>
<g>
<clipPath id="c7"><rect x="300.4" y="130.1" width="95.30000000000001" height="50.20000000000002"/></clipPath>
<path d="M338.52 180.30v4.68M345.19 180.30v4.68M391.41 180.30v4.68M391.72 180.30v4.68M391.92 180.30v4.68M392.04 180.30v4.68M392.21 180.30v4.68M393.56 180.30v4.68M393.60 180.30v4.68M395.08 180.30v4.68" stroke="#5BB0EC" stroke-width="0.36" stroke-opacity="0.8" fill="none"/>
<path d="M311.84 184.98v4.68M336.61 184.98v4.68M339.47 184.98v4.68M357.58 184.98v4.68M371.88 184.98v4.68M391.41 184.98v4.68M392.18 184.98v4.68M392.32 184.98v4.68M392.50 184.98v4.68M392.99 184.98v4.68M393.08 184.98v4.68M394.18 184.98v4.68M395.04 184.98v4.68" stroke="#EC4B8D" stroke-width="0.36" stroke-opacity="0.62" fill="none"/>
<path d="M314.69 189.66v4.68M348.05 189.66v4.68M367.11 189.66v4.68M390.94 189.66v4.68M392.47 189.66v4.68M392.74 189.66v4.68M392.81 189.66v4.68M393.45 189.66v4.68M394.02 189.66v4.68M394.50 189.66v4.68M394.88 189.66v4.68" stroke="#F4B7BF" stroke-width="0.36" stroke-opacity="0.75" fill="none"/>
<path d="M328.99 194.34v4.68M352.81 194.34v4.68M376.64 194.34v4.68M391.41 194.34v4.68M391.73 194.34v4.68M392.36 194.34v4.68M393.82 194.34v4.68M394.14 194.34v4.68M394.50 194.34v4.68M394.83 194.34v4.68M394.85 194.34v4.68" stroke="#C8A1DA" stroke-width="0.36" stroke-opacity="0.7" fill="none"/>
<path d="M317.08 199.02v4.68M319.46 199.02v4.68M322.32 199.02v4.68M325.84 199.02v4.68M327.08 199.02v4.68M331.85 199.02v4.68M338.52 199.02v4.68M343.28 199.02v4.68M344.57 199.02v4.68M349.96 199.02v4.68M351.80 199.02v4.68M355.67 199.02v4.68M361.39 199.02v4.68M367.11 199.02v4.68M370.48 199.02v4.68M372.02 199.02v4.68M372.83 199.02v4.68M374.36 199.02v4.68M378.55 199.02v4.68M382.97 199.02v4.68M384.26 199.02v4.68M388.08 199.02v4.68M391.89 199.02v4.68M392.29 199.02v4.68M393.98 199.02v4.68M394.62 199.02v4.68M395.19 199.02v4.68M395.21 199.02v4.68M395.51 199.02v4.68" stroke="#5CC5A7" stroke-width="0.36" stroke-opacity="0.6" fill="none"/>
<g clip-path="url(#c7)">
<path d="M300.40 132.60 L338.52 151.91 L338.52 150.25 L345.19 153.63 L345.19 151.41 L391.41 174.83 L391.41 169.34 L391.72 169.50 L391.72 165.16 L391.92 165.26 L391.92 157.59 L392.04 157.65 L392.04 153.84 L392.21 153.93 L392.21 147.03 L393.56 147.71 L393.56 141.94 L393.60 141.96 L393.60 138.25 L395.08 139.00 L395.08 132.28 L395.70 132.60" stroke="#5BB0EC" stroke-width="0.42" fill="none" stroke-linejoin="round"/>
<path d="M300.40 132.60 L311.84 138.53 L311.84 136.86 L336.61 149.71 L336.61 145.82 L339.47 147.30 L339.47 145.64 L357.58 155.02 L357.58 153.91 L371.88 161.32 L371.88 160.21 L391.41 170.34 L391.41 167.00 L392.18 167.40 L392.18 162.19 L392.32 162.26 L392.32 155.58 L392.50 155.67 L392.50 150.69 L392.99 150.95 L392.99 146.81 L393.08 146.85 L393.08 140.04 L394.18 140.61 L394.18 138.08 L395.04 138.53 L395.04 132.26 L395.70 132.60" stroke="#EC4B8D" stroke-width="0.42" fill="none" stroke-linejoin="round"/>
<path d="M300.40 132.60 L314.69 139.68 L314.69 138.01 L348.05 154.52 L348.05 152.30 L367.11 161.74 L367.11 160.07 L390.94 171.87 L390.94 165.09 L392.47 165.85 L392.47 160.66 L392.74 160.79 L392.74 154.56 L392.81 154.59 L392.81 151.24 L393.45 151.56 L393.45 148.23 L394.02 148.51 L394.02 144.31 L394.50 144.55 L394.50 137.52 L394.88 137.71 L394.88 132.19 L395.70 132.60" stroke="#F4B7BF" stroke-width="0.42" fill="none" stroke-linejoin="round"/>
<path d="M300.40 132.60 L328.99 146.75 L328.99 145.09 L352.81 156.88 L352.81 154.66 L376.64 166.45 L376.64 165.34 L391.41 172.66 L391.41 167.33 L391.73 167.49 L391.73 162.41 L392.36 162.72 L392.36 155.90 L393.82 156.62 L393.82 150.53 L394.14 150.69 L394.14 146.78 L394.50 146.96 L394.50 139.62 L394.83 139.78 L394.83 136.72 L394.85 136.73 L394.85 132.18 L395.70 132.60" stroke="#C8A1DA" stroke-width="0.42" fill="none" stroke-linejoin="round"/>
<path d="M300.40 132.60 L317.08 141.05 L317.08 137.16 L319.46 138.37 L319.46 136.71 L322.32 138.16 L322.32 137.05 L327.08 139.46 L327.08 138.35 L331.85 140.76 L331.85 139.10 L338.52 142.48 L338.52 140.81 L343.28 143.23 L343.28 141.56 L349.96 144.94 L349.96 143.28 L355.67 146.18 L355.67 144.51 L361.39 147.41 L361.39 145.74 L367.11 148.64 L367.11 146.97 L372.83 149.87 L372.83 148.21 L378.55 151.10 L378.55 149.44 L384.26 152.34 L384.26 151.23 L388.08 153.16 L388.08 152.05 L391.89 153.98 L391.89 149.06 L392.29 149.26 L392.29 146.35 L393.98 147.20 L393.98 142.93 L394.62 143.25 L394.62 139.34 L395.19 139.63 L395.19 135.76 L395.51 135.93 L395.51 132.50 L395.70 132.60" stroke="#5CC5A7" stroke-width="0.42" fill="none" stroke-linejoin="round"/>
</g>
<path d="M302.60 161.40h2.6" stroke="#5BB0EC" stroke-width="0.5" stroke-opacity="0.55"/>
<text transform="matrix(1 0.0005 0 1 307.50 162.50)" font-size="3.48" fill="#000" stroke="#000" stroke-width="0.05">[Reactome] Defective GALNT3 Causes Hftc</text>
<path d="M302.60 165.38h2.6" stroke="#EC4B8D" stroke-width="0.5" stroke-opacity="0.55"/>
<text transform="matrix(1 0.0005 0 1 307.50 166.48)" font-size="3.48" fill="#000" stroke="#000" stroke-width="0.05">[Reactome] Termination of O Glycan Biosynthesis</text>
<path d="M302.60 169.36h2.6" stroke="#F4B7BF" stroke-width="0.5" stroke-opacity="0.55"/>
<text transform="matrix(1 0.0005 0 1 307.50 170.46)" font-size="3.48" fill="#000" stroke="#000" stroke-width="0.05">[Reactome] Defective C1GALT1C1 Causes Tnps</text>
<path d="M302.60 173.34h2.6" stroke="#C8A1DA" stroke-width="0.5" stroke-opacity="0.55"/>
<text transform="matrix(1 0.0005 0 1 307.50 174.44)" font-size="3.48" fill="#000" stroke="#000" stroke-width="0.05">[Reactome] Lgi Adam Interactions</text>
<path d="M302.60 177.32h2.6" stroke="#5CC5A7" stroke-width="0.5" stroke-opacity="0.55"/>
<text transform="matrix(1 0.0005 0 1 307.50 178.42)" font-size="3.48" fill="#000" stroke="#000" stroke-width="0.05">[Reactome] O Linked Glycosylation of Mucins</text>
<path d="M300.4 132.60H395.7" stroke="#666" stroke-width="0.45" stroke-dasharray="1.4 1.7" fill="none"/>
<path d="M300.40 219.10 L300.40 208.45 L300.80 209.62 L301.20 210.52 L301.60 211.22 L301.99 211.77 L302.39 212.20 L302.79 212.55 L303.19 212.83 L303.59 213.06 L303.99 213.26 L304.39 213.43 L304.79 213.58 L305.18 213.72 L305.58 213.84 L305.98 213.95 L306.38 214.06 L306.78 214.16 L307.18 214.26 L307.58 214.35 L307.98 214.45 L308.37 214.53 L308.77 214.62 L309.17 214.71 L309.57 214.79 L309.97 214.88 L310.37 214.96 L310.77 215.04 L311.17 215.12 L311.56 215.20 L311.96 215.28 L312.36 215.35 L312.76 215.43 L313.16 215.50 L313.56 215.58 L313.96 215.65 L314.36 215.73 L314.75 215.80 L315.15 215.87 L315.55 215.94 L315.95 216.01 L316.35 216.08 L316.75 216.14 L317.15 216.21 L317.55 216.28 L317.94 216.34 L318.34 216.41 L318.74 216.47 L319.14 216.53 L319.54 216.59 L319.94 216.65 L320.34 216.71 L320.74 216.77 L321.13 216.83 L321.53 216.88 L321.93 216.94 L322.33 216.99 L322.73 217.05 L323.13 217.10 L323.53 217.15 L323.93 217.20 L324.32 217.25 L324.72 217.30 L325.12 217.34 L325.52 217.39 L325.92 217.43 L326.32 217.48 L326.72 217.52 L327.12 217.56 L327.51 217.60 L327.91 217.64 L328.31 217.67 L328.71 217.71 L329.11 217.74 L329.51 217.77 L329.91 217.81 L330.31 217.84 L330.70 217.86 L331.10 217.89 L331.50 217.91 L331.90 217.94 L332.30 217.96 L332.70 217.98 L333.10 218.00 L333.50 218.01 L333.89 218.02 L334.29 218.03 L334.69 218.03 L335.09 219.82 L335.49 219.83 L335.89 219.84 L336.29 219.85 L336.69 219.86 L337.08 219.87 L337.48 219.88 L337.88 219.89 L338.28 219.90 L338.68 219.91 L339.08 219.92 L339.48 219.93 L339.88 219.94 L340.27 219.95 L340.67 219.96 L341.07 219.97 L341.47 219.98 L341.87 219.99 L342.27 220.00 L342.67 220.01 L343.07 220.02 L343.46 220.03 L343.86 220.04 L344.26 220.05 L344.66 220.06 L345.06 220.08 L345.46 220.09 L345.86 220.10 L346.26 220.11 L346.65 220.12 L347.05 220.13 L347.45 220.14 L347.85 220.15 L348.25 220.16 L348.65 220.17 L349.05 220.18 L349.45 220.19 L349.84 220.20 L350.24 220.21 L350.64 220.22 L351.04 220.23 L351.44 220.24 L351.84 220.25 L352.24 220.26 L352.64 220.27 L353.03 220.28 L353.43 220.29 L353.83 220.30 L354.23 220.31 L354.63 220.32 L355.03 220.33 L355.43 220.34 L355.83 220.35 L356.22 220.36 L356.62 220.37 L357.02 220.38 L357.42 220.39 L357.82 220.40 L358.22 220.41 L358.62 220.42 L359.02 220.43 L359.41 220.44 L359.81 220.45 L360.21 220.46 L360.61 220.47 L361.01 220.48 L361.41 220.49 L361.81 220.50 L362.21 220.51 L362.60 220.52 L363.00 220.53 L363.40 220.54 L363.80 220.56 L364.20 220.57 L364.60 220.58 L365.00 220.59 L365.40 220.60 L365.79 220.61 L366.19 220.62 L366.59 220.63 L366.99 220.64 L367.39 220.65 L367.79 220.66 L368.19 220.67 L368.59 220.68 L368.98 220.69 L369.38 220.70 L369.78 220.71 L370.18 220.72 L370.58 220.73 L370.98 220.74 L371.38 220.75 L371.78 220.76 L372.17 220.77 L372.57 220.78 L372.97 220.79 L373.37 220.80 L373.77 220.81 L374.17 220.82 L374.57 220.83 L374.97 220.84 L375.36 220.85 L375.76 220.86 L376.16 220.87 L376.56 220.88 L376.96 220.89 L377.36 220.90 L377.76 220.91 L378.16 220.92 L378.55 220.93 L378.95 220.94 L379.35 220.95 L379.75 220.96 L380.15 220.97 L380.55 220.98 L380.95 221.00 L381.35 221.01 L381.74 221.02 L382.14 221.03 L382.54 221.04 L382.94 221.05 L383.34 221.06 L383.74 221.07 L384.14 221.08 L384.54 221.10 L384.93 221.11 L385.33 221.12 L385.73 221.14 L386.13 221.16 L386.53 221.17 L386.93 221.20 L387.33 221.22 L387.73 221.25 L388.12 221.28 L388.52 221.31 L388.92 221.36 L389.32 221.41 L389.72 221.47 L390.12 221.55 L390.52 221.64 L390.92 221.76 L391.31 221.90 L391.71 222.07 L392.11 222.28 L392.51 222.54 L392.91 222.85 L393.31 223.24 L393.71 223.72 L394.11 224.31 L394.50 225.03 L394.90 225.92 L395.30 227.00 L395.70 228.33 L395.70 219.10Z" fill="#BDBDBD"/>
<rect x="300.4" y="130.1" width="95.30" height="100.60" fill="none" stroke="#484848" stroke-width="0.62"/>
<path d="M300.4 180.3H395.7M300.4 203.7H395.7" stroke="#484848" stroke-width="0.62"/>
<path d="M299.10 132.60h1.3" stroke="#333" stroke-width="0.45"/>
<text transform="matrix(1 0.0005 0 1 298.40 133.79)" font-size="3.3" text-anchor="end" fill="#111" stroke="#111" stroke-width="0.12">0.0</text>
<path d="M299.10 143.70h1.3" stroke="#333" stroke-width="0.45"/>
<text transform="matrix(1 0.0005 0 1 298.40 144.89)" font-size="3.3" text-anchor="end" fill="#111" stroke="#111" stroke-width="0.12">-0.2</text>
<path d="M299.10 154.80h1.3" stroke="#333" stroke-width="0.45"/>
<text transform="matrix(1 0.0005 0 1 298.40 155.99)" font-size="3.3" text-anchor="end" fill="#111" stroke="#111" stroke-width="0.12">-0.4</text>
<path d="M299.10 165.90h1.3" stroke="#333" stroke-width="0.45"/>
<text transform="matrix(1 0.0005 0 1 298.40 167.09)" font-size="3.3" text-anchor="end" fill="#111" stroke="#111" stroke-width="0.12">-0.6</text>
<path d="M299.10 177.00h1.3" stroke="#333" stroke-width="0.45"/>
<text transform="matrix(1 0.0005 0 1 298.40 178.19)" font-size="3.3" text-anchor="end" fill="#111" stroke="#111" stroke-width="0.12">-0.8</text>
<path d="M299.10 204.90h1.3" stroke="#333" stroke-width="0.45"/>
<text transform="matrix(1 0.0005 0 1 298.40 206.09)" font-size="3.3" text-anchor="end" fill="#111" stroke="#111" stroke-width="0.12">2</text>
<path d="M299.10 212.00h1.3" stroke="#333" stroke-width="0.45"/>
<text transform="matrix(1 0.0005 0 1 298.40 213.19)" font-size="3.3" text-anchor="end" fill="#111" stroke="#111" stroke-width="0.12">1</text>
<path d="M299.10 219.10h1.3" stroke="#333" stroke-width="0.45"/>
<text transform="matrix(1 0.0005 0 1 298.40 220.29)" font-size="3.3" text-anchor="end" fill="#111" stroke="#111" stroke-width="0.12">0</text>
<path d="M299.10 226.20h1.3" stroke="#333" stroke-width="0.45"/>
<text transform="matrix(1 0.0005 0 1 298.40 227.39)" font-size="3.3" text-anchor="end" fill="#111" stroke="#111" stroke-width="0.12">-1</text>
<path d="M300.40 230.7v1.3" stroke="#333" stroke-width="0.45"/>
<text transform="matrix(1 0.0005 0 1 300.40 236.70)" font-size="4.0" text-anchor="middle" fill="#111" stroke="#111" stroke-width="0.12">0</text>
<path d="M332.27 230.7v1.3" stroke="#333" stroke-width="0.45"/>
<text transform="matrix(1 0.0005 0 1 332.27 236.70)" font-size="4.0" text-anchor="middle" fill="#111" stroke="#111" stroke-width="0.12">5000</text>
<path d="M364.15 230.7v1.3" stroke="#333" stroke-width="0.45"/>
<text transform="matrix(1 0.0005 0 1 364.15 236.70)" font-size="4.0" text-anchor="middle" fill="#111" stroke="#111" stroke-width="0.12">10000</text>
<text transform="matrix(1 0.0005 0 1 348.05 241.60)" font-size="4" text-anchor="middle" fill="#111" stroke="#111" stroke-width="0.06">Rank in Ordered Dataset</text>
<text transform="matrix(0.0005 -1 1 0 289.20 155.20)" font-size="4" text-anchor="middle" fill="#111" stroke="#111" stroke-width="0.06">Enrichment Score</text>
<text transform="matrix(0.0005 -1 1 0 291.20 217.20)" font-size="4" text-anchor="middle" fill="#111" stroke="#111" stroke-width="0.06">Ranked list metric</text>
</g>
<g>
<clipPath id="c8"><rect x="429.6" y="128.9" width="97.0" height="51.79999999999998"/></clipPath>
<path d="M431.54 180.70v4.78M435.24 180.70v4.78M436.04 180.70v4.78M441.50 180.70v4.78M443.66 180.70v4.78M444.22 180.70v4.78M451.01 180.70v4.78M451.09 180.70v4.78M453.89 180.70v4.78M458.83 180.70v4.78M459.78 180.70v4.78M463.91 180.70v4.78M467.24 180.70v4.78M467.79 180.70v4.78M473.79 180.70v4.78M475.31 180.70v4.78M478.10 180.70v4.78M481.01 180.70v4.78M483.92 180.70v4.78M489.74 180.70v4.78M497.50 180.70v4.78M505.26 180.70v4.78M512.05 180.70v4.78M517.87 180.70v4.78M519.13 180.70v4.78M520.19 180.70v4.78M522.48 180.70v4.78M522.53 180.70v4.78M522.82 180.70v4.78M523.96 180.70v4.78M525.36 180.70v4.78" stroke="#5BB0EC" stroke-width="0.36" stroke-opacity="0.8" fill="none"/>
<path d="M489.74 185.48v4.78M493.83 185.48v4.78M497.44 185.48v4.78M505.16 185.48v4.78M510.42 185.48v4.78M510.72 185.48v4.78M513.51 185.48v4.78M515.72 185.48v4.78M516.07 185.48v4.78M517.04 185.48v4.78M523.49 185.48v4.78M524.82 185.48v4.78" stroke="#EC4B8D" stroke-width="0.36" stroke-opacity="0.62" fill="none"/>
<path d="M434.45 190.26v4.78M439.30 190.26v4.78M445.12 190.26v4.78M450.94 190.26v4.78M458.70 190.26v4.78M468.40 190.26v4.78M478.10 190.26v4.78M485.86 190.26v4.78M493.62 190.26v4.78M499.44 190.26v4.78M507.20 190.26v4.78M513.02 190.26v4.78M518.84 190.26v4.78M520.04 190.26v4.78M520.40 190.26v4.78M522.22 190.26v4.78M525.07 190.26v4.78M525.80 190.26v4.78" stroke="#F4B7BF" stroke-width="0.36" stroke-opacity="0.75" fill="none"/>
<path d="M473.25 195.04v4.78M491.68 195.04v4.78M495.56 195.04v4.78M499.44 195.04v4.78M503.32 195.04v4.78M507.20 195.04v4.78M511.08 195.04v4.78M514.96 195.04v4.78M518.84 195.04v4.78M521.75 195.04v4.78M522.33 195.04v4.78M522.81 195.04v4.78M524.57 195.04v4.78M524.65 195.04v4.78M526.20 195.04v4.78" stroke="#C8A1DA" stroke-width="0.36" stroke-opacity="0.7" fill="none"/>
<path d="M434.31 199.82v4.78M436.30 199.82v4.78M436.33 199.82v4.78M440.85 199.82v4.78M446.28 199.82v4.78M446.90 199.82v4.78M447.88 199.82v4.78M453.58 199.82v4.78M457.51 199.82v4.78M457.70 199.82v4.78M460.01 199.82v4.78M466.12 199.82v4.78M468.43 199.82v4.78M468.62 199.82v4.78M472.55 199.82v4.78M478.10 199.82v4.78M478.25 199.82v4.78M481.98 199.82v4.78M484.89 199.82v4.78M490.71 199.82v4.78M497.50 199.82v4.78M504.29 199.82v4.78M511.08 199.82v4.78M516.90 199.82v4.78M520.78 199.82v4.78M522.16 199.82v4.78M522.22 199.82v4.78M523.43 199.82v4.78M523.54 199.82v4.78M524.95 199.82v4.78M525.79 199.82v4.78M526.06 199.82v4.78" stroke="#5CC5A7" stroke-width="0.36" stroke-opacity="0.6" fill="none"/>
<g clip-path="url(#c8)">
<path d="M429.60 133.30 L431.54 134.70 L431.54 133.77 L435.24 136.43 L435.24 135.50 L436.04 136.08 L436.04 135.15 L441.50 139.09 L441.50 138.16 L443.66 139.71 L443.66 138.78 L444.22 139.19 L444.22 138.26 L451.01 143.15 L451.01 142.22 L451.09 142.28 L451.09 141.35 L453.89 143.37 L453.89 142.44 L458.83 146.00 L458.83 145.07 L459.78 145.75 L459.78 144.82 L463.91 147.79 L463.91 146.86 L467.24 149.27 L467.24 148.34 L467.79 148.73 L467.79 147.80 L473.79 152.12 L473.79 151.19 L475.31 152.29 L475.31 151.36 L478.10 153.37 L478.10 150.27 L481.01 152.37 L481.01 149.27 L483.92 151.37 L483.92 148.27 L489.74 152.46 L489.74 150.91 L497.50 156.50 L497.50 154.18 L505.26 159.77 L505.26 157.45 L512.05 162.34 L512.05 160.01 L517.87 164.21 L517.87 160.63 L519.13 161.54 L519.13 154.35 L520.19 155.11 L520.19 152.03 L522.48 153.68 L522.48 147.75 L522.53 147.79 L522.53 144.91 L522.82 145.12 L522.82 141.44 L523.96 142.26 L523.96 134.89 L525.36 135.89 L525.36 132.40 L526.60 133.30" stroke="#5BB0EC" stroke-width="0.42" fill="none" stroke-linejoin="round"/>
<path d="M429.60 133.30 L489.74 165.97 L489.74 162.34 L493.83 164.56 L493.83 161.98 L497.44 163.94 L497.44 160.14 L505.16 164.33 L505.16 159.84 L510.42 162.70 L510.42 155.75 L510.72 155.91 L510.72 151.56 L513.51 153.07 L513.51 150.03 L515.72 151.23 L515.72 147.47 L516.07 147.66 L516.07 140.27 L517.04 140.79 L517.04 138.00 L523.49 141.51 L523.49 135.96 L524.82 136.68 L524.82 132.34 L526.60 133.30" stroke="#EC4B8D" stroke-width="0.42" fill="none" stroke-linejoin="round"/>
<path d="M429.60 133.30 L434.45 136.40 L434.45 133.30 L439.30 136.40 L439.30 134.08 L445.12 137.80 L445.12 135.47 L450.94 139.19 L450.94 137.64 L458.70 142.60 L458.70 141.05 L468.40 147.25 L468.40 144.93 L478.10 151.12 L478.10 148.80 L485.86 153.76 L485.86 151.44 L493.62 156.40 L493.62 152.52 L499.44 156.24 L499.44 153.14 L507.20 158.10 L507.20 155.00 L513.02 158.72 L513.02 155.62 L518.84 159.34 L518.84 156.09 L520.04 156.86 L520.04 150.08 L520.40 150.31 L520.40 145.25 L522.22 146.42 L522.22 140.66 L525.07 142.47 L525.07 136.00 L525.80 136.47 L525.80 132.79 L526.60 133.30" stroke="#F4B7BF" stroke-width="0.42" fill="none" stroke-linejoin="round"/>
<path d="M429.60 133.30 L473.25 156.32 L473.25 154.77 L491.68 164.49 L491.68 160.61 L495.56 162.66 L495.56 159.56 L499.44 161.60 L499.44 157.73 L503.32 159.77 L503.32 156.67 L507.20 158.72 L507.20 155.62 L511.08 157.67 L511.08 154.57 L514.96 156.61 L514.96 153.51 L518.84 155.56 L518.84 152.46 L521.75 153.99 L521.75 149.97 L522.33 150.28 L522.33 146.22 L522.81 146.47 L522.81 141.58 L524.57 142.51 L524.57 137.97 L524.65 138.01 L524.65 134.63 L526.20 135.44 L526.20 133.09 L526.60 133.30" stroke="#C8A1DA" stroke-width="0.42" fill="none" stroke-linejoin="round"/>
<path d="M429.60 133.30 L434.31 136.70 L434.31 135.61 L436.30 137.05 L436.30 135.97 L436.33 135.99 L436.33 134.91 L440.85 138.17 L440.85 137.09 L446.28 141.01 L446.28 139.92 L446.90 140.37 L446.90 139.28 L447.88 139.99 L447.88 138.91 L453.58 143.02 L453.58 141.94 L457.51 144.78 L457.51 143.69 L457.70 143.83 L457.70 142.75 L460.01 144.41 L460.01 143.33 L466.12 147.75 L466.12 146.66 L468.43 148.33 L468.43 147.24 L468.62 147.38 L468.62 146.29 L472.55 149.13 L472.55 148.05 L478.10 152.06 L478.10 148.96 L478.25 149.06 L478.25 147.98 L481.98 150.67 L481.98 147.57 L484.89 149.67 L484.89 147.35 L490.71 151.55 L490.71 149.23 L497.50 154.13 L497.50 151.03 L504.29 155.94 L504.29 153.61 L511.08 158.52 L511.08 155.42 L516.90 159.62 L516.90 157.29 L520.78 160.10 L520.78 155.45 L522.16 156.44 L522.16 150.90 L522.22 150.94 L522.22 147.62 L523.43 148.50 L523.43 145.07 L523.54 145.14 L523.54 142.78 L524.95 143.80 L524.95 139.91 L525.79 140.51 L525.79 136.98 L526.06 137.17 L526.06 132.91 L526.60 133.30" stroke="#5CC5A7" stroke-width="0.42" fill="none" stroke-linejoin="round"/>
</g>
<path d="M431.90 157.40h2.6" stroke="#5BB0EC" stroke-width="0.5" stroke-opacity="0.55"/>
<text transform="matrix(1 0.0005 0 1 436.80 158.50)" font-size="3.48" fill="#000" stroke="#000" stroke-width="0.05">[Reactome] Diseases Associated With O Glycosylation</text>
<text transform="matrix(1 0.0005 0 1 436.80 162.45)" font-size="3.48" fill="#000" stroke="#000" stroke-width="0.05">of Proteins</text>
<path d="M431.90 165.30h2.6" stroke="#EC4B8D" stroke-width="0.5" stroke-opacity="0.55"/>
<text transform="matrix(1 0.0005 0 1 436.80 166.40)" font-size="3.48" fill="#000" stroke="#000" stroke-width="0.05">[WikiPathways] Blood Clotting Cascade</text>
<path d="M431.90 169.25h2.6" stroke="#F4B7BF" stroke-width="0.5" stroke-opacity="0.55"/>
<text transform="matrix(1 0.0005 0 1 436.80 170.35)" font-size="3.48" fill="#000" stroke="#000" stroke-width="0.05">[WikiPathways] Nrf2/gdnfpkg Mediated Neuroprotection</text>
<path d="M431.90 173.20h2.6" stroke="#C8A1DA" stroke-width="0.5" stroke-opacity="0.55"/>
<text transform="matrix(1 0.0005 0 1 436.80 174.30)" font-size="3.48" fill="#000" stroke="#000" stroke-width="0.05">[Reactome] Metabolism of Fat Soluble Vitamins</text>
<path d="M431.90 177.15h2.6" stroke="#5CC5A7" stroke-width="0.5" stroke-opacity="0.55"/>
<text transform="matrix(1 0.0005 0 1 436.80 178.25)" font-size="3.48" fill="#000" stroke="#000" stroke-width="0.05">[Reactome] O Linked Glycosylation</text>
<path d="M429.6 133.30H526.6" stroke="#666" stroke-width="0.45" stroke-dasharray="1.4 1.7" fill="none"/>
<path d="M429.60 219.30 L429.60 208.95 L430.01 210.09 L430.41 210.97 L430.82 211.64 L431.22 212.17 L431.63 212.59 L432.04 212.93 L432.44 213.21 L432.85 213.43 L433.25 213.63 L433.66 213.79 L434.06 213.94 L434.47 214.07 L434.88 214.19 L435.28 214.30 L435.69 214.40 L436.09 214.50 L436.50 214.60 L436.91 214.69 L437.31 214.78 L437.72 214.86 L438.12 214.95 L438.53 215.03 L438.93 215.11 L439.34 215.19 L439.75 215.27 L440.15 215.35 L440.56 215.43 L440.96 215.51 L441.37 215.58 L441.78 215.66 L442.18 215.73 L442.59 215.81 L442.99 215.88 L443.40 215.95 L443.81 216.02 L444.21 216.09 L444.62 216.16 L445.02 216.23 L445.43 216.30 L445.83 216.36 L446.24 216.43 L446.65 216.49 L447.05 216.56 L447.46 216.62 L447.86 216.68 L448.27 216.74 L448.68 216.80 L449.08 216.86 L449.49 216.92 L449.89 216.98 L450.30 217.04 L450.70 217.09 L451.11 217.15 L451.52 217.20 L451.92 217.25 L452.33 217.30 L452.73 217.35 L453.14 217.40 L453.55 217.45 L453.95 217.50 L454.36 217.55 L454.76 217.59 L455.17 217.64 L455.57 217.68 L455.98 217.72 L456.39 217.76 L456.79 217.80 L457.20 217.84 L457.60 217.88 L458.01 217.91 L458.42 217.95 L458.82 217.98 L459.23 218.01 L459.63 218.04 L460.04 218.07 L460.45 218.10 L460.85 218.12 L461.26 218.15 L461.66 218.17 L462.07 218.19 L462.47 218.21 L462.88 218.23 L463.29 218.24 L463.69 218.25 L464.10 218.26 L464.50 218.26 L464.91 220.00 L465.32 220.01 L465.72 220.02 L466.13 220.03 L466.53 220.04 L466.94 220.05 L467.34 220.06 L467.75 220.07 L468.16 220.08 L468.56 220.09 L468.97 220.10 L469.37 220.11 L469.78 220.12 L470.19 220.13 L470.59 220.14 L471.00 220.15 L471.40 220.16 L471.81 220.17 L472.22 220.18 L472.62 220.19 L473.03 220.20 L473.43 220.21 L473.84 220.22 L474.24 220.23 L474.65 220.24 L475.06 220.25 L475.46 220.26 L475.87 220.27 L476.27 220.28 L476.68 220.29 L477.09 220.30 L477.49 220.31 L477.90 220.32 L478.30 220.33 L478.71 220.34 L479.11 220.35 L479.52 220.36 L479.93 220.37 L480.33 220.38 L480.74 220.39 L481.14 220.40 L481.55 220.41 L481.96 220.42 L482.36 220.43 L482.77 220.44 L483.17 220.45 L483.58 220.46 L483.98 220.47 L484.39 220.48 L484.80 220.49 L485.20 220.50 L485.61 220.51 L486.01 220.52 L486.42 220.53 L486.83 220.54 L487.23 220.55 L487.64 220.56 L488.04 220.57 L488.45 220.58 L488.86 220.59 L489.26 220.59 L489.67 220.60 L490.07 220.61 L490.48 220.62 L490.88 220.63 L491.29 220.64 L491.70 220.65 L492.10 220.66 L492.51 220.67 L492.91 220.68 L493.32 220.69 L493.73 220.70 L494.13 220.71 L494.54 220.72 L494.94 220.73 L495.35 220.74 L495.75 220.75 L496.16 220.76 L496.57 220.77 L496.97 220.78 L497.38 220.79 L497.78 220.80 L498.19 220.81 L498.60 220.82 L499.00 220.83 L499.41 220.84 L499.81 220.85 L500.22 220.86 L500.63 220.87 L501.03 220.88 L501.44 220.89 L501.84 220.90 L502.25 220.91 L502.65 220.92 L503.06 220.93 L503.47 220.94 L503.87 220.95 L504.28 220.96 L504.68 220.97 L505.09 220.98 L505.50 220.99 L505.90 221.00 L506.31 221.01 L506.71 221.02 L507.12 221.03 L507.52 221.04 L507.93 221.05 L508.34 221.06 L508.74 221.07 L509.15 221.08 L509.55 221.09 L509.96 221.10 L510.37 221.11 L510.77 221.12 L511.18 221.13 L511.58 221.14 L511.99 221.15 L512.39 221.16 L512.80 221.17 L513.21 221.18 L513.61 221.19 L514.02 221.21 L514.42 221.22 L514.83 221.23 L515.24 221.24 L515.64 221.25 L516.05 221.27 L516.45 221.28 L516.86 221.30 L517.27 221.32 L517.67 221.34 L518.08 221.36 L518.48 221.39 L518.89 221.42 L519.29 221.45 L519.70 221.50 L520.11 221.55 L520.51 221.61 L520.92 221.68 L521.32 221.77 L521.73 221.88 L522.14 222.02 L522.54 222.19 L522.95 222.39 L523.35 222.64 L523.76 222.95 L524.16 223.33 L524.57 223.79 L524.98 224.36 L525.38 225.07 L525.79 225.93 L526.19 226.98 L526.60 228.27 L526.60 219.30Z" fill="#BDBDBD"/>
<rect x="429.6" y="128.9" width="97.00" height="102.80" fill="none" stroke="#484848" stroke-width="0.62"/>
<path d="M429.6 180.7H526.6M429.6 204.6H526.6" stroke="#484848" stroke-width="0.62"/>
<path d="M428.30 133.30h1.3" stroke="#333" stroke-width="0.45"/>
<text transform="matrix(1 0.0005 0 1 427.60 134.49)" font-size="3.3" text-anchor="end" fill="#111" stroke="#111" stroke-width="0.12">0.0</text>
<path d="M428.30 148.80h1.3" stroke="#333" stroke-width="0.45"/>
<text transform="matrix(1 0.0005 0 1 427.60 149.99)" font-size="3.3" text-anchor="end" fill="#111" stroke="#111" stroke-width="0.12">-0.2</text>
<path d="M428.30 164.30h1.3" stroke="#333" stroke-width="0.45"/>
<text transform="matrix(1 0.0005 0 1 427.60 165.49)" font-size="3.3" text-anchor="end" fill="#111" stroke="#111" stroke-width="0.12">-0.4</text>
<path d="M428.30 179.80h1.3" stroke="#333" stroke-width="0.45"/>
<text transform="matrix(1 0.0005 0 1 427.60 180.99)" font-size="3.3" text-anchor="end" fill="#111" stroke="#111" stroke-width="0.12">-0.6</text>
<path d="M428.30 205.50h1.3" stroke="#333" stroke-width="0.45"/>
<text transform="matrix(0.0005 -1 1 0 427.40 205.50)" font-size="3.5999999999999996" text-anchor="middle" fill="#111" stroke="#111" stroke-width="0.12">2</text>
<path d="M428.30 212.40h1.3" stroke="#333" stroke-width="0.45"/>
<text transform="matrix(0.0005 -1 1 0 427.40 212.40)" font-size="3.5999999999999996" text-anchor="middle" fill="#111" stroke="#111" stroke-width="0.12">1</text>
<path d="M428.30 219.30h1.3" stroke="#333" stroke-width="0.45"/>
<text transform="matrix(0.0005 -1 1 0 427.40 219.30)" font-size="3.5999999999999996" text-anchor="middle" fill="#111" stroke="#111" stroke-width="0.12">0</text>
<path d="M428.30 226.20h1.3" stroke="#333" stroke-width="0.45"/>
<text transform="matrix(0.0005 -1 1 0 427.40 226.20)" font-size="3.5999999999999996" text-anchor="middle" fill="#111" stroke="#111" stroke-width="0.12">-1</text>
<path d="M429.60 231.7v1.3" stroke="#333" stroke-width="0.45"/>
<text transform="matrix(1 0.0005 0 1 429.60 237.70)" font-size="4.0" text-anchor="middle" fill="#111" stroke="#111" stroke-width="0.12">0</text>
<path d="M462.04 231.7v1.3" stroke="#333" stroke-width="0.45"/>
<text transform="matrix(1 0.0005 0 1 462.04 237.70)" font-size="4.0" text-anchor="middle" fill="#111" stroke="#111" stroke-width="0.12">5000</text>
<path d="M494.48 231.7v1.3" stroke="#333" stroke-width="0.45"/>
<text transform="matrix(1 0.0005 0 1 494.48 237.70)" font-size="4.0" text-anchor="middle" fill="#111" stroke="#111" stroke-width="0.12">10000</text>
<text transform="matrix(1 0.0005 0 1 478.10 242.60)" font-size="4" text-anchor="middle" fill="#111" stroke="#111" stroke-width="0.06">Rank in Ordered Dataset</text>
<text transform="matrix(0.0005 -1 1 0 419.20 154.80)" font-size="4" text-anchor="middle" fill="#111" stroke="#111" stroke-width="0.06">Enrichment Score</text>
<text transform="matrix(0.0005 -1 1 0 421.20 218.15)" font-size="4" text-anchor="middle" fill="#111" stroke="#111" stroke-width="0.06">Ranked list metric</text>
</g>
<text transform="matrix(1 0.0005 0 1 127.10 260.80)" font-size="11.6" text-anchor="middle" fill="#1a1a1a" font-family="'Liberation Serif', serif" font-weight="bold">(A)</text>
<text transform="matrix(1 0.0005 0 1 407.60 260.40)" font-size="11.6" text-anchor="middle" fill="#1a1a1a" font-family="'Liberation Serif', serif" font-weight="bold">(B)</text>
<text transform="matrix(1 0.0005 0 1 126.90 465.20)" font-size="11.6" text-anchor="middle" fill="#1a1a1a" font-family="'Liberation Serif', serif" font-weight="bold">(C)</text>
<text transform="matrix(1 0.0005 0 1 407.50 465.10)" font-size="12.0" text-anchor="middle" fill="#1a1a1a" font-family="'Liberation Serif', serif" font-weight="normal">(D)</text>
<g>
<clipPath id="vb"><ellipse cx="128.7" cy="336.8" rx="48.8" ry="48.7" fill="#000"/></clipPath>
<clipPath id="vp"><ellipse cx="104.5" cy="385.6" rx="49.0" ry="48.6" fill="#000"/></clipPath>
<ellipse cx="128.7" cy="336.8" rx="48.8" ry="48.7" fill="#D5EAFD"/>
<ellipse cx="104.5" cy="385.6" rx="49.0" ry="48.6" fill="#FCD3E0"/>
<ellipse cx="153.6" cy="385.8" rx="48.7" ry="48.7" fill="#F3E6F5"/>
<ellipse cx="104.5" cy="385.6" rx="49.0" ry="48.6" fill="#DEC5E1" clip-path="url(#vb)"/>
<ellipse cx="153.6" cy="385.8" rx="48.7" ry="48.7" fill="#D8DAF3" clip-path="url(#vb)"/>
<ellipse cx="153.6" cy="385.8" rx="48.7" ry="48.7" fill="#F1C6E0" clip-path="url(#vp)"/>
<g clip-path="url(#vb)"><ellipse cx="153.6" cy="385.8" rx="48.7" ry="48.7" fill="#D8BEDE" clip-path="url(#vp)"/></g>
<text transform="matrix(1 0.0005 0 1 128.70 319.80)" font-size="8.1" text-anchor="middle" fill="#1a1a1a" stroke="#1a1a1a" stroke-width="0.1">9</text>
<text transform="matrix(1 0.0005 0 1 100.60 355.90)" font-size="8.1" text-anchor="middle" fill="#1a1a1a" stroke="#1a1a1a" stroke-width="0.1">145</text>
<text transform="matrix(1 0.0005 0 1 156.20 355.90)" font-size="8.1" text-anchor="middle" fill="#1a1a1a" stroke="#1a1a1a" stroke-width="0.1">0</text>
<text transform="matrix(1 0.0005 0 1 128.70 371.00)" font-size="8.1" text-anchor="middle" fill="#1a1a1a" stroke="#1a1a1a" stroke-width="0.1">0</text>
<text transform="matrix(1 0.0005 0 1 84.40 399.20)" font-size="8.1" text-anchor="middle" fill="#1a1a1a" stroke="#1a1a1a" stroke-width="0.1">607</text>
<text transform="matrix(1 0.0005 0 1 128.70 404.40)" font-size="8.1" text-anchor="middle" fill="#1a1a1a" stroke="#1a1a1a" stroke-width="0.1">1</text>
<text transform="matrix(1 0.0005 0 1 172.80 399.20)" font-size="8.1" text-anchor="middle" fill="#1a1a1a" stroke="#1a1a1a" stroke-width="0.1">0</text>
<text transform="matrix(1 0.0005 0 1 128.50 280.70)" font-size="9.3" text-anchor="middle" fill="#7FC0F7">DEGs Cluster 1v3</text>
<text transform="matrix(1 0.0005 0 1 64.00 444.60)" font-size="9.3" text-anchor="middle" fill="#F2749E">DEGs Cluster 2v3</text>
<text transform="matrix(1 0.0005 0 1 193.70 444.60)" font-size="9.3" text-anchor="middle" fill="#D9BDE3">DEGs Cluster 1v2</text>
</g>
<g>
<path d="M393.0 283.5L441.3 281.4M393.0 283.5L379.4 366.2M441.3 281.4L446.5 337.7M362.6 313.0L417.0 321.3M362.6 313.0L339.7 372.8M362.6 313.0L352.4 337.1M322.3 319.2L283.0 341.6M322.3 319.2L303.7 369.8M322.3 319.2L339.7 372.8M322.3 319.2L352.4 337.1M283.0 341.6L303.7 369.8M283.0 341.6L339.7 372.8M352.4 337.1L339.7 372.8M352.4 337.1L303.7 369.8M352.4 337.1L379.4 366.2M352.4 337.1L417.0 321.3M303.7 369.8L339.7 372.8M339.7 372.8L379.4 366.2M339.7 372.8L345.9 417.3M339.7 372.8L330.5 433.8M339.7 372.8L381.3 410.6M345.9 417.3L385.9 440.4M330.5 433.8L385.9 440.4M381.3 410.6L432.9 435.0M428.0 410.4L385.9 440.4M379.4 366.2L402.9 345.8M379.4 366.2L436.8 360.8M379.4 366.2L407.8 385.3M417.0 321.3L480.0 330.9M417.0 321.3L402.9 345.8M417.0 321.3L436.8 360.8M417.0 321.3L446.5 337.7M402.9 345.8L446.5 337.7M402.9 345.8L436.8 360.8M402.9 345.8L407.8 385.3M436.8 360.8L407.8 385.3M436.8 360.8L446.5 337.7M436.8 360.8L490.4 376.1M436.8 360.8L455.9 382.8M436.8 360.8L428.0 410.4M446.5 337.7L490.4 376.1M446.5 337.7L455.9 382.8M446.5 337.7L481.8 411.3M446.5 337.7L428.0 410.4M480.0 330.9L528.0 345.0M480.0 330.9L481.8 411.3M528.0 345.0L490.4 376.1M455.9 382.8L490.4 376.1M455.9 382.8L428.0 410.4M455.9 382.8L481.8 411.3M490.4 376.1L428.0 410.4M490.4 376.1L481.8 411.3M407.8 385.3L481.8 411.3M428.0 410.4L481.8 411.3M481.8 411.3L432.9 435.0" stroke="#505050" stroke-width="0.7" fill="none"/>
<rect x="377.35" y="276.40" width="31.3" height="14.2" rx="1.6" fill="#8DCFF2"/>
<text transform="matrix(1 0.0005 0 1 393.00 285.35)" font-size="5.2" text-anchor="middle" fill="#111" stroke="#111" stroke-width="0.15">FTH1</text>
<rect x="425.65" y="274.30" width="31.3" height="14.2" rx="1.6" fill="#8DCFF2"/>
<text transform="matrix(1 0.0005 0 1 441.30 283.25)" font-size="5.2" text-anchor="middle" fill="#111" stroke="#111" stroke-width="0.15">CLTA</text>
<rect x="346.95" y="305.90" width="31.3" height="14.2" rx="1.6" fill="#8DCFF2"/>
<text transform="matrix(1 0.0005 0 1 362.60 314.85)" font-size="5.2" text-anchor="middle" fill="#111" stroke="#111" stroke-width="0.15">EPAS1</text>
<rect x="306.65" y="312.10" width="31.3" height="14.2" rx="1.6" fill="#FCDD1E"/>
<text transform="matrix(1 0.0005 0 1 322.30 321.05)" font-size="5.2" text-anchor="middle" fill="#111" stroke="#111" stroke-width="0.15">CXCL13</text>
<rect x="401.35" y="314.20" width="31.3" height="14.2" rx="1.6" fill="#8DCFF2"/>
<text transform="matrix(1 0.0005 0 1 417.00 323.15)" font-size="5.2" text-anchor="middle" fill="#111" stroke="#111" stroke-width="0.15">PSMD14</text>
<rect x="464.35" y="323.80" width="31.3" height="14.2" rx="1.6" fill="#FFC425"/>
<text transform="matrix(1 0.0005 0 1 480.00 332.75)" font-size="5.2" text-anchor="middle" fill="#111" stroke="#111" stroke-width="0.15">RPSA</text>
<rect x="267.35" y="334.50" width="31.3" height="14.2" rx="1.6" fill="#FA2B1C"/>
<text transform="matrix(1 0.0005 0 1 283.00 343.45)" font-size="5.2" text-anchor="middle" fill="#111" stroke="#111" stroke-width="0.15">CXCL9</text>
<rect x="336.75" y="330.00" width="31.3" height="14.2" rx="1.6" fill="#8DCFF2"/>
<text transform="matrix(1 0.0005 0 1 352.40 338.95)" font-size="5.2" text-anchor="middle" fill="#111" stroke="#111" stroke-width="0.15">TNFSF13B</text>
<rect x="430.85" y="330.60" width="31.3" height="14.2" rx="1.6" fill="#FB6A1A"/>
<text transform="matrix(1 0.0005 0 1 446.50 339.55)" font-size="5.2" text-anchor="middle" fill="#111" stroke="#111" stroke-width="0.15">CKS2</text>
<rect x="512.35" y="337.90" width="31.3" height="14.2" rx="1.6" fill="#8DCFF2"/>
<text transform="matrix(1 0.0005 0 1 528.00 346.85)" font-size="5.2" text-anchor="middle" fill="#111" stroke="#111" stroke-width="0.15">KARS1</text>
<rect x="387.25" y="338.70" width="31.3" height="14.2" rx="1.6" fill="#8DCFF2"/>
<text transform="matrix(1 0.0005 0 1 402.90 347.65)" font-size="5.2" text-anchor="middle" fill="#111" stroke="#111" stroke-width="0.15">H2AZ1</text>
<rect x="421.15" y="353.70" width="31.3" height="14.2" rx="1.6" fill="#8DCFF2"/>
<text transform="matrix(1 0.0005 0 1 436.80 362.65)" font-size="5.2" text-anchor="middle" fill="#111" stroke="#111" stroke-width="0.15">H2AX</text>
<rect x="288.05" y="362.70" width="31.3" height="14.2" rx="1.6" fill="#FC5A1F"/>
<text transform="matrix(1 0.0005 0 1 303.70 371.65)" font-size="5.2" text-anchor="middle" fill="#111" stroke="#111" stroke-width="0.15">GBP1</text>
<rect x="324.05" y="365.70" width="31.3" height="14.2" rx="1.6" fill="#F8161A"/>
<text transform="matrix(1 0.0005 0 1 339.70 374.65)" font-size="5.2" text-anchor="middle" fill="#111" stroke="#111" stroke-width="0.15">STAT1</text>
<rect x="363.75" y="359.10" width="31.3" height="14.2" rx="1.6" fill="#FDB021"/>
<text transform="matrix(1 0.0005 0 1 379.40 368.05)" font-size="5.2" text-anchor="middle" fill="#111" stroke="#111" stroke-width="0.15">HIF1A</text>
<rect x="474.75" y="369.00" width="31.3" height="14.2" rx="1.6" fill="#FA3A1A"/>
<text transform="matrix(1 0.0005 0 1 490.40 377.95)" font-size="5.2" text-anchor="middle" fill="#111" stroke="#111" stroke-width="0.15">FEN1</text>
<rect x="440.25" y="375.70" width="31.3" height="14.2" rx="1.6" fill="#FD9A1F"/>
<text transform="matrix(1 0.0005 0 1 455.90 384.65)" font-size="5.2" text-anchor="middle" fill="#111" stroke="#111" stroke-width="0.15">GMNN</text>
<rect x="392.15" y="378.20" width="31.3" height="14.2" rx="1.6" fill="#8DCFF2"/>
<text transform="matrix(1 0.0005 0 1 407.80 387.15)" font-size="5.2" text-anchor="middle" fill="#111" stroke="#111" stroke-width="0.15">SUMO3</text>
<rect x="412.35" y="403.30" width="31.3" height="14.2" rx="1.6" fill="#FC8A1E"/>
<text transform="matrix(1 0.0005 0 1 428.00 412.25)" font-size="5.2" text-anchor="middle" fill="#111" stroke="#111" stroke-width="0.15">CDT1</text>
<rect x="466.15" y="404.20" width="31.3" height="14.2" rx="1.6" fill="#8DCFF2"/>
<text transform="matrix(1 0.0005 0 1 481.80 413.15)" font-size="5.2" text-anchor="middle" fill="#111" stroke="#111" stroke-width="0.15">PCNA</text>
<rect x="365.65" y="403.50" width="31.3" height="14.2" rx="1.6" fill="#8DCFF2"/>
<text transform="matrix(1 0.0005 0 1 381.30 412.45)" font-size="5.2" text-anchor="middle" fill="#111" stroke="#111" stroke-width="0.15">PTPN11</text>
<rect x="330.25" y="410.20" width="31.3" height="14.2" rx="1.6" fill="#8DCFF2"/>
<text transform="matrix(1 0.0005 0 1 345.90 419.15)" font-size="5.2" text-anchor="middle" fill="#111" stroke="#111" stroke-width="0.15">FBXO6</text>
<rect x="314.85" y="426.70" width="31.3" height="14.2" rx="1.6" fill="#8DCFF2"/>
<text transform="matrix(1 0.0005 0 1 330.50 435.65)" font-size="5.2" text-anchor="middle" fill="#111" stroke="#111" stroke-width="0.15">SOCS3</text>
<rect x="370.25" y="433.30" width="31.3" height="14.2" rx="1.6" fill="#8DCFF2"/>
<text transform="matrix(1 0.0005 0 1 385.90 442.25)" font-size="5.2" text-anchor="middle" fill="#111" stroke="#111" stroke-width="0.15">UBA3</text>
<rect x="417.25" y="427.90" width="31.3" height="14.2" rx="1.6" fill="#8DCFF2"/>
<text transform="matrix(1 0.0005 0 1 432.90 436.85)" font-size="5.2" text-anchor="middle" fill="#111" stroke="#111" stroke-width="0.15">ANXA2</text>
</g>
</svg>
</body></html>
